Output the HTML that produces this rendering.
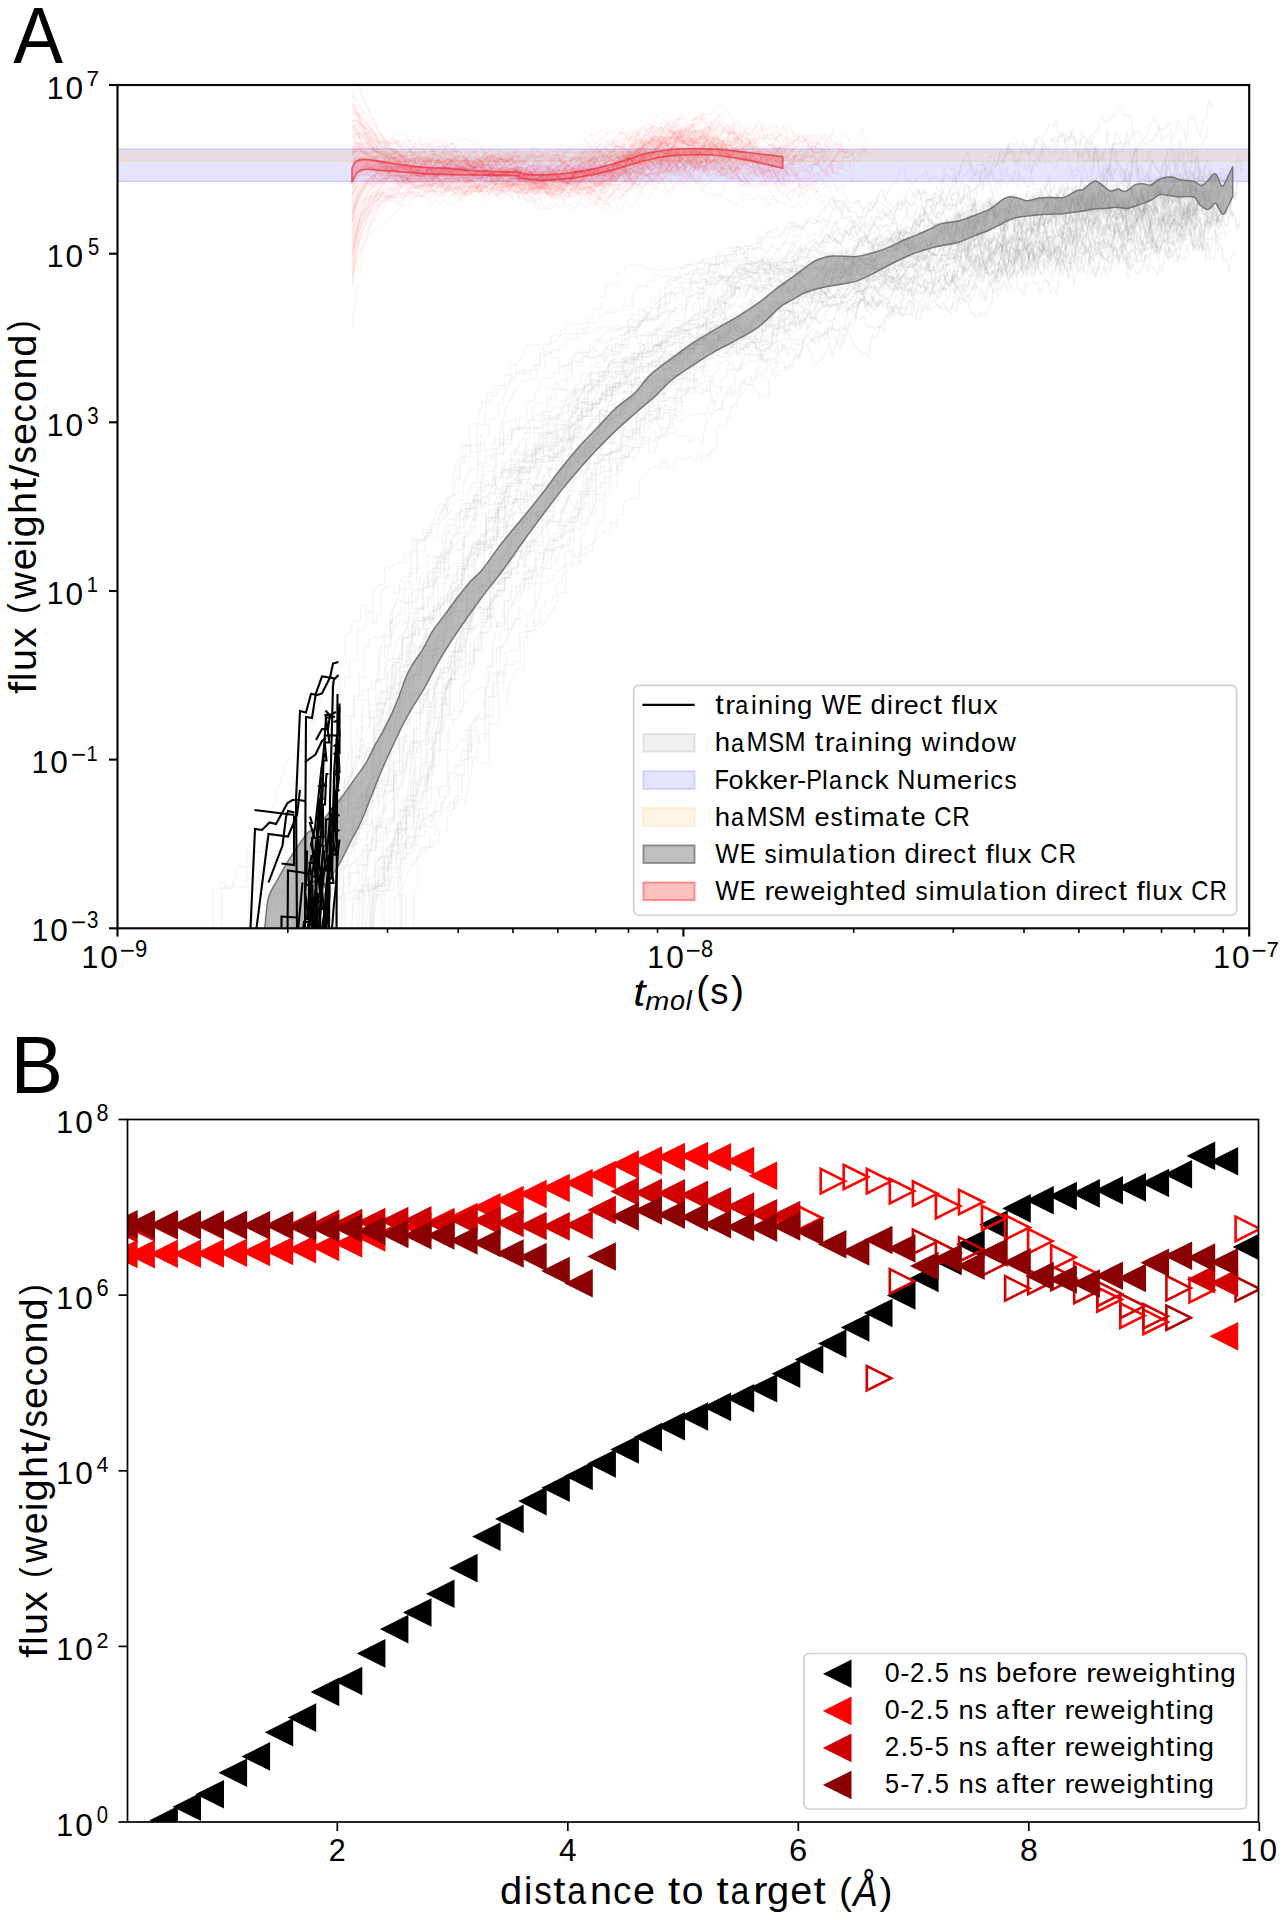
<!DOCTYPE html>
<html><head><meta charset="utf-8"><style>
html,body{margin:0;padding:0;background:#fff;width:1285px;height:1920px;overflow:hidden}
svg{display:block}
text{font-family:"Liberation Sans", sans-serif;fill:#000;font-kerning:none;font-variant-ligatures:none}
</style></head><body>
<svg width="1285" height="1920" viewBox="0 0 1285 1920">
<rect width="1285" height="1920" fill="#fff"/>
<text x="13.15" y="62.90" font-size="79.65" textLength="49.79" lengthAdjust="spacingAndGlyphs">A</text>
<defs><clipPath id="cA"><rect x="117.5" y="85.0" width="1131.7" height="843.3"/></clipPath><clipPath id="cB"><rect x="127.5" y="1119.5" width="1131" height="702.5"/></clipPath></defs>
<g clip-path="url(#cA)">
<rect x="117.5" y="149.3" width="1131.7" height="32" fill="rgb(229,229,255)" stroke="rgb(204,204,255)" stroke-width="1.6"/>
<rect x="117.5" y="151.7" width="1131.7" height="9.5" fill="rgba(255,165,0,0.10)" stroke="rgba(255,165,0,0.18)" stroke-width="1.4"/>
<g fill="none" stroke="rgba(128,128,128,0.075)" stroke-width="1.4" stroke-linejoin="round">
<path d="M358.5 974l8.5 12.5l6.5-90l5.5 0l0-10.5l6-5.5l4-16l2.5-10l4-20l7-16.5l3.5-17.5l5 0l0-18.5l2.5 0l0-25l8-15.5l3.5 0l0-1l4.5 0l0-16l8-27.5l6 0l0-12.5l8 0l0-6l6.5-12l7.5 0l0-22.5l3-14.5l6-22l5.5 0l0-21.5l8.5 0l0-21l4.5 0l0 6l6.5-12l3 0l0-4l5 0l0-16l4.5 2.5l3.5 0l0-19l8 0l0-24l5-20.5l8.5 0l0-18.5l6.5 0l0-10l6.5 0l0-3.5l6.5 0l0-16l7 0l0-3.5l3.5 0.5l5.5 0l0-14.5l4 0l0 3.5l5 0l0-10l3 0l0-19.5l9-1l4 0l0-10l6.5 0l0-0.5l4.5 0l0-12l8.5-5l6.5 0l0-1.5l3.5 0l0 7.5l8 0l0-5l8.5-5l8.5-4l6-6.5l3.5 0l0-2.5l4 0l0-6.5l8.5-7l6 0l3.5 0l0-3l8.5-4.5l6.5 0l0-7l6.5 0l0-3.5l2.5 0l0-8.5l3 0l0 1.5l2.5 1l2 0l0-0.5l3.5 0l0 8l3-8l3.5 0l0-12.5l2.5 0l0-4l3.5 0l0 1.5l2 0l0 5.5l2.5 0l0-7l2.5 0l0 3.5l2 0l0-2.5l4 0l0 3.5l3.5 0l0-2l2.5-3.5l3-3l4 0l0-6l2.5 0l0 4l3.5 1l3 0l0-1.5l3 0l0 5.5l3 0l0 1l3.5 0l4-0.5l2 0l0 3l4-0.5l2 0l0 3l3.5-4.5l3.5 0l0-3l2.5 0l2.5 0l0 1.5l4-3l2 1.5l3-1l3.5-2l3 11l3.5 2l2.5-5"/>
<path d="M320 961.5l7.5-73.5l5-6.5l3 0l0 0.5l6-21l6.5 0l0-16l8.5 0l0-13l8.5-11.5l2.5 0l0-14l7.5-15.5l4.5-14l7-21l5 0l0-22l4.5 0l0-22.5l5.5 0l0-8.5l6-16.5l7-11.5l7 0l0-17l6.5-7l5 0l0-15.5l7 0l0-27l5-8l6.5 0l0-17.5l5.5 0l0-16.5l6 0l0-15l2.5-20l6 0l0-11.5l3.5 0l0-24.5l5.5 0l0-13l2.5 0l0-16l7 0l0-4l8.5-17.5l4.5 0l0-18.5l3.5-5.5l6.5 0l0-2.5l3 0l0 7.5l8.5 2.5l3-8.5l5 0l0-12.5l6-5l3 1l4.5 0l0-16.5l4.5 0l0 1.5l7 0l0-8l9 0l0-9.5l5 0l0-8l7.5 0l0 3l3.5 0l0-9.5l6 0l0 1l5.5 0l0-6.5l4.5 0l0 3.5l7.5 0l0-6l7.5 3l3.5 0l0 1.5l4.5 0l0-5l7.5 0l0-11l9 0l0-2l6.5 0l0-2.5l8 0l9-9l7.5 0l0-11.5l6.5 0l0-9l4-9.5l5-3.5l6.5 0l0-11.5l8.5-8.5l4.5 0l0-8l3 6.5l2 0l0-4.5l3 0l0 0.5l3 0l0 4l3.5 0l0-5.5l2.5 6.5l3.5 0l0-3.5l3.5-7l3-2.5l2 0l0-0.5l3-5l3.5 0l0-4l2.5 4l2 0l0 2l3 0l0 6l2.5 2l3.5 1.5l3.5 0l4-1.5l3.5 0l0 0.5l3.5 4.5l2.5-2l3.5 0l0-2l3.5 0l0 3.5l3.5-4l3.5 0l0-5.5l3.5 0l0-2l2.5 0l0-2.5l3.5 0l0 3l3 0l0-1l2.5 0l0-2l3 0l2-1.5l3-1.5l3 2l2.5 0l4 0.5l3.5 3l3 1"/>
<path d="M346 987.5l7.5 0l0-15.5l9 0l0-40l6 0l0 12.5l4-50.5l6.5-14l4 0l0-11l6 0l0-18.5l5.5 0l0-17.5l6 0l0-23.5l8.5 0l0 7.5l8 0l0-1l5 0l0-9l8-38.5l8-41l7.5-40l6 0l0-32l8.5-23.5l5.5 0l3.5 0l0-6l4-12.5l7 0l0-0.5l5 0l0-6.5l5 0l0-7.5l5-15l4 0l0-3.5l3-9l3 0l0-21l6.5 0l0-14l5 0l0-7l5.5 0l0-8l8.5 0l0-6.5l6.5 0l0-3.5l7.5 0l0-10.5l7.5 0l0-20l9 0l0-3l3-10.5l5 0l0-15l8.5-24.5l5.5-2.5l8.5 0l0-5.5l4 0l0-4.5l3 0l0-4.5l8 0l0-15.5l5.5 0l0-12l5.5 0l0-0.5l8.5 0l0-1.5l4 0l0-4.5l9 0l0-1.5l5-3l4 0l0-9l4 0l0-2.5l6 0l0-4.5l5.5 0l0 6.5l8 0l0-0.5l3 0l0-6.5l3 0l0 2l3.5 0l0-4l6.5-5l7.5 0l0-5l5.5 0l0-6.5l3 0l0 2l3.5 0l0-1l2 0l0 4l2.5 0l0-2.5l4 0l0 9l2.5 0l0 1l4 3l3 0l0 0.5l2.5 0l0-2l2 0l0-1.5l2.5-4.5l2.5 5l3 0l0 4.5l3 0l0-5.5l3 0l0 2l3-4l2 0l0-3.5l2.5 0l0-1.5l4-4l2 0l0 4.5l3.5 0l0-7.5l3 0l0 6l3.5 0l0-3.5l2.5 0l0-1.5l2.5 0l0-5l3.5-3.5l3.5 0l0-4.5l2.5 0l0-4.5l2.5 0l0 10.5l2 0.5l3.5 0l0-6.5l3 0l0 1.5l2 0l0-1l3.5 0l0 2.5l3.5-3.5l3-4l2.5 8l3 6l2.5-5.5l2 3.5l4 7l2.5-5"/>
<path d="M203 973.5l3 0l0 10.5l3.5 0l0-0.5l4.5 0l0-36.5l3.5 0l0 7.5l3.5 0l0 22.5l6.5 0l0-5.5l5 0l0-8l8 0l0 9l5.5 0l0-16l6 0l0-60l7.5 0l0-2l8 0l0 4l6-2.5l3-2l5.5 0l0-1l2.5-1.5l6.5-32l3 0l0 6l6-12l3.5 0l0-10.5l8-12l3 0l0 3.5l7-30l7-16.5l4.5 0l0-21l6 12.5l5 0l0 7l4 0l0-12l4 0l0-26l3 7.5l6.5 0l0-41l3 0l0 1.5l4 0l0-27.5l3 0l0-7l7.5 0l0-34.5l6 0l0-9l5.5 0l0-23l6.5-15l7.5 0l0-18.5l7 0l0-13l5.5 0l0-26.5l4.5 0l0 2l6-9l9-14l6-12.5l5.5 0l0-11.5l8.5-5l3 0l0-32l2.5 0l0-15l8 0l0-22l8.5 0l0-13.5l3 0l0-11l2.5 3l2.5 0l0-8l6.5-2l3 0l0-6l6.5 0l0-2l6.5 0l0-4l3 0l0-7l8 0l0-3l4 0l0 4l6 0l0-3.5l5 0l0-5.5l4.5 0l0-11.5l5.5-2l2.5-5.5l5-5l4.5 0l0-3l4.5-3.5l3.5 0l0-1l5 0l0 0.5l7 0l0-4.5l9 0l0-2l3.5 0l0-5l8.5 0l0-4.5l6.5-6l3 0l2.5 0l0 1.5l8.5-3l4 0l0-6.5l3 0l0 2l6.5 0l0-14l7.5-6l8 0l0-5l6 0l0-6l4.5 0l0 1l4.5 1l4-1.5l6.5 1l8.5-1l3 0l0-1.5l5 0l5 0l0-3.5l3 0l0-6.5l6.5-3.5l4 0l0 5l2.5 0l0 0.5l3.5-2l3.5 0l0 1l2.5 0l0-2l4 0l0-5l3.5 3l3.5 0l0-2.5l2 0l0-0.5l2.5 1.5l2.5 0l0 1l3.5 0l0-2l4 0l0-0.5l2 0l0-6.5l3-6l2.5 0l0 4.5l3.5-3l3 0l0 2l4 0l0 3.5l3.5 0l0-2l2 0l0 1l3-5.5l3 3l4 0l0 0.5l2.5-1l2.5-6l2.5 0l0-8l2.5 0l0-5.5l2.5-3.5l2.5 7l2.5-5.5l3 0l0 1l4-3.5l4-3.5l2 0l3.5 3l3-1l2.5-2.5l3 2.5"/>
<path d="M350.5 987.5l7 0l0-2.5l8.5 0l0-37l6.5 0l0-53.5l3.5 0l0-8.5l8.5 0l0-23.5l3 0l0-5l4 0l0-3.5l8.5 0l0-10.5l6 0l0 4.5l5 0l0-3l7.5 0l0-9.5l6.5 0l0-17l3.5 0l0-3l4 0l0-3l7.5-1.5l8-22.5l3 0l0-0.5l6-13.5l7 0l0-15.5l4.5 0l0-13.5l3 0l0 5.5l5.5-32l8.5 0l0-52l7 0l0-19.5l4-21.5l8 0l0-24.5l7 0l0-15.5l4 0l0 1.5l4.5 0l0-8.5l3.5 0l0-1l5 0l0 12l5-5l4.5-10l8-25l7.5 0l0-16.5l5.5 0l0-10l9-27l7-4.5l8.5 0l0-16.5l8-12l6.5 0l0-9l7 0l0-1l7.5 0l0-1.5l7.5 0l0-6l8 0l0-9.5l5 0l0-6l5-17l4 0l0 0.5l8.5 0l0 3l8 0l0-15l5.5 0l0-17.5l5 0l3.5 0l0-9l9 0l0-2.5l7 0l0-2l8.5-8.5l6.5 0l0-6l3 0l3.5-2.5l4 0l0-4l3.5-4l3 0l0 1l3 0l0-12l3.5 0l0-13l3-1.5l4 0l0 7.5l3 0l0 7l3.5 0l0 5l2 0l0-1l2 0l0-4l2.5 2.5l3 0l0-0.5l2.5 5.5l4 0l0 6.5l4 0l0 5.5l2 0l0 8l4 0l0-1.5l3 0l0-1.5l3.5 3l3 0l3.5 0l0-5.5l2 0l0 5l3 0l0 5.5l2.5 2l2.5 0l0-3.5l2.5-7.5l3 0l0 1l3 0l3-10l3.5-7l3.5 4.5l4 11.5l3.5 6.5l2.5-4l3-1"/>
<path d="M234 971l7.5 0l0-7l7 0l0-75l7.5 0l0-10.5l8 2.5l8.5 0l0-25l3.5 0l0-5l9 0l0-8l6 0l0-2l6 10l4.5 0l0-23l5 28l6 0l0-1l2.5 0l0 7.5l7.5 0l0-9l4.5 0l0-7l7 0l0-16l7.5 0l0-7.5l6.5 0l0-32.5l3 0l0-33l6 0l0-29.5l5 0l0-28l7 0l0 18l7 0l0-31l6-45l7-19l3.5 0l0-11.5l8-22.5l8.5 0l0-16l8.5 0l0-22l8 0l0-13l5-14l8.5 0l0-6l6-14.5l4 11.5l6-15l8 0l0-15l7-15.5l8 0l0-18l2.5 0l0-16l9 0l0-16.5l8.5 0l0-14.5l6 0l0-8.5l8.5-18.5l3.5 0l0-7l5 3l3.5 0l0-3l7 0l0-5l8.5 0l0-10.5l8.5 0l0-2.5l3 0l0-2.5l7.5 0l0-4l6 0l0-6.5l4 0l0-1l8 0l0-5l6 0l0-3l3 3.5l5-2.5l7-4.5l8-0.5l3.5 0l6.5 0l0-0.5l3 0l0 1.5l8.5 0l0-6.5l2.5 0l0-6.5l9 0l0-4.5l6 0l0 7l7.5-9.5l7 0l0-7l5.5-6l5.5 0l0-9.5l3.5 0l0-4.5l4.5 0l0 3l3 0l0-1.5l4.5 0l0-3l6.5 0l0-6l6.5 0l0 2.5l6-2.5l3 0l0-1l4-12.5l3.5 0l0-5.5l2.5 0l0-2.5l3.5 0l0 2l3.5-4.5l3 0l0-1.5l3 0.5l3.5 0l0 6l3.5 0l0-0.5l3 0l3.5 0l0-2l2.5 0l0-5l4-1l3-1.5l3 0l0-1l3 0l0-6l3.5 0l4-6l3 0l3 0l0-2l3 0l0-2l2.5 8l3-1.5l3 0l0-5l3.5-5l3.5 0l0-0.5l2.5 0l0 3.5l2-1l3.5-0.5l2.5 4l3.5-6.5l4-0.5l4 2.5l3-2.5l4-10.5"/>
<path d="M290.5 992.5l4.5 0l0-20l2.5 0l0 15l7.5-41l6 0l0-13.5l3.5 11.5l6 0l0 5.5l8.5-18.5l6.5 0l0-34.5l4.5 0l0 0.5l8-5.5l5 0l0-2l2.5 0l0-3.5l3 0l0-21.5l9 0l0-21l3 0l0-2l7.5-18l2.5 0l0 4l5.5 0.5l4 0l0-11l5 0l0-5.5l3 0l0-2l5 0l0-11l7.5 0l0-52l6 0l0 6.5l3.5 0l0-21l7.5 0l0-40l8.5-7l5.5-21l4.5-35l2.5-4.5l3-17l5 0l0-13.5l3.5 0l0-3.5l8.5 0l0-11.5l7 0l0-17.5l4.5-14l6 0l0-27.5l4-3.5l8 0l0-14l6 0l0-8.5l7-14l3.5 0l6-9l7 0l0 3.5l5-7.5l3 0l0-8.5l5.5 0l0-2.5l8 0l0-6.5l5.5 0l0-8l8.5-11l6.5-1.5l8-9l2.5 0l0-4l7 0l0-6l5.5 0l0-8.5l5-8.5l8.5 0l0-9l3 0l0 2.5l5.5 0l0-4l4.5 0l0 13l9-8.5l7.5-3l3.5 0l0 1l3.5-0.5l2.5-1l4-8.5l8.5 0l0-7l8-8l8-5.5l5 0l0-2.5l5.5 0l0-3l6.5-5.5l7.5 0l0-4l2.5 0l2.5-1.5l3 0l0 11l2.5 0l0-0.5l3.5 0l0-0.5l2.5 0l0-3.5l4 0l0-11l2 0l0 0.5l2.5 0l0 1.5l3 0l0-1.5l3 0l0-7.5l4 0l0-2l3 3.5l4-3.5l3.5-1.5l4-5l3 1.5l3 0l0 1.5l2-4.5l2.5 0l0 4.5l3 0l0 0.5l2 0l0-2l4 0l0 5.5l2.5 0l0-9l2 0l0-14l2.5-1.5l2 0l0 2l3.5 0l0 1l3-2l3 0l0-3l3-1.5l3.5-4l3 0l0 3.5l3 0l0 2l3.5-13l3.5 3l4 0.5l3.5 2l2.5-2l4-5.5l3.5 0"/>
<path d="M377.5 978.5l5.5-25l8 0l0-19.5l3.5 0l0-37.5l3.5 0l0-29.5l3.5 0l0-9l5 0l0-9.5l3 0l0 0.5l7-13l3.5 0l0-10.5l7 0l0 1.5l6.5 0l0-9l7-32l7 0l0-33l7.5-3.5l5.5-9.5l6.5 0l0-10l4 0l0 28l5.5-2l3.5-22l8.5 0l0-37l8.5 0l0-21.5l3 0l0-26.5l2.5-4.5l5 0l0-27l6-17l5.5-10l5 0l0-8.5l6.5-15.5l5 0l0-14l5 0l0 5l3 0l0-2l6-16.5l3.5 0l0 1.5l8 0l0-15l5.5 0l0 4.5l4.5 0l0-13.5l7 0l0-22l8.5 0l0-16.5l3.5 0l0-4.5l5 0l0 3l9-5.5l8 0l0-8.5l5 0l0 8l5 0l0-12.5l7.5 0l0-6.5l3 0l0-7l3.5 0l0-9l6 0l0 5.5l6.5 0l0 11.5l6 0l0-0.5l7.5-24l8.5 5l5-1.5l4.5 4.5l8 0l0 5l4 0l0-2.5l8.5 0l0 5.5l3 0l0-9l4-18.5l3 0l0-3l2.5 0l0-3l3.5 0l3-2l2 0l0-5l2.5 0l0-3.5l2.5-3l2-9l2.5 0l0 2.5l3.5 0l0-16.5l4-5l4 0l0-6.5l3-8.5l3.5 0l0 5.5l2-4l2 0l3.5 0l3.5 2.5l3 0l0-6.5l3.5 0l0-3l3.5 0l0 1.5l3.5 0l0 2.5l2 0l0-6l3 3.5l4 0l0-5.5l3.5 0l0-5l4 0l0-17.5l3 0l0-13.5l3 5.5l2 0l0 4.5l3 10l3-8l4-2.5l3.5-1.5l2.5 1.5l2 1l3 5l3.5-8.5"/>
<path d="M284 977.5l4 0l0-76.5l4.5 32.5l9 0l0-51.5l8-13.5l7-22l7.5-14.5l7-6.5l4.5 0l6 6l4-15l3 0l0-8l5-0.5l7.5 0l0-26l3.5 0l0-4l3 0l0-13.5l4 0l0-11l7.5 0l0-24.5l8-31l4.5 0l0-32.5l8.5-10.5l6 0l0-10l7 0l0-20.5l6.5-10l5.5 6l8 0l0-14l8.5 0l0-2l5.5 0l0-11l4.5 0l0 2.5l8.5-13l7-7l5 0l0-3.5l3.5-17l5 0l0-5l5.5 0l0 1l7.5-8l7 0l0-7l6 0l0-21l8.5-16.5l6 0l0-19.5l8.5 0l0-12l3 0l0-13l3 0l0-5.5l8 0l0 2l7 0l0-7l4.5-9.5l3 0l0 7.5l3 0l0-4.5l4.5 0l0 1.5l8.5 0l0-9.5l3.5 0l0-10.5l4.5 0l0-19.5l7.5 0l0-10l4 0l0-5.5l4 0l0 0.5l7.5 0l0 4l8-17l8.5 0l0 4l3 0l0 1.5l4.5 4l6.5 0l0-14l4.5 0l0-4.5l7.5 0.5l4 0l0-1l6.5 0l0-3.5l3.5 0l0-7l3.5 0l0-5.5l7.5 0l0-3l6.5 0l0-7l6-4.5l5 0l0 3l7 0l0-7.5l9 0l0-9.5l2.5 0l0-12.5l2 0l0 0.5l2.5 0l0-5.5l3.5 0l0 1l3 0l0 4.5l3.5 8.5l2 0l0-12l3.5 3l2.5 0l0 5l3 0l0-5.5l3-7.5l3 0l0-2l3.5 0l0 3l3.5 0l0-13l3 0l2 0l0-0.5l3.5 1l2.5 3.5l2.5-2.5l3.5 0l0-1l4 0l0-1l3.5 0l0 1.5l2.5 0.5l3.5-0.5l2.5 0l0 6l2 0l0 2.5l3.5 0l0-3l3.5 0l0-1l3.5 0l0-0.5l3.5 0l0 1.5l3.5 0l0-3l2 2.5l3.5 1.5l3.5-5l3 0l3.5 1.5l3-2l2-7l3.5-1"/>
<path d="M309 967.5l7.5 0l0-32l8-47.5l4.5 0l0-21.5l5.5-15.5l7.5-12.5l3.5 0l0-8l8 0l0-22l4.5 0l0-5.5l4.5 0l0 8.5l5.5 0l0-28.5l6.5 0l0-41l8-35.5l8 0l0-33l2.5 0l0-8.5l3.5 0l0 11.5l5-13.5l2.5-2l5.5 0l0-14.5l5.5 0l0-1.5l6 0l0 1.5l4.5 0l0-13l4.5 17.5l6 0l0-9.5l3-7.5l2.5 0l0-11.5l7.5-6l4-13.5l3.5 0l0-3.5l4 1.5l6 0l0-8.5l4 0l0-7.5l7 0l0-17l6.5 0l0-20l5.5-11.5l8.5 0l0-28.5l7.5-11l3 0l0 8l4-2l3.5 0l0-12l7-23l3.5 0l0-6l5.5 0l0-12.5l3.5 0l0-6.5l8 0l0-14l7.5-10.5l6.5-2l7-11.5l5 0l0-2l4 0l0-14.5l2.5 0l0 11l5 2l8.5 3.5l2.5 0l0-17l4-2l6-10l3 3.5l4-7.5l7.5 0l0-8.5l4 0l0-4l4.5 0l0 3.5l4.5-3.5l3.5 0l0-5.5l8 0l0 2.5l8.5-0.5l6.5-4l4 0l0-9.5l4-4l7 0l0-6.5l7.5 0l0-7l7.5 0l0-1.5l3.5 0l0-3l4 0l0-17.5l4.5 0l0-10l5.5 0l0 10.5l3.5 2.5l2 0l2.5 0l0 6.5l2.5 0l0 0.5l3.5 0l0 2.5l3.5 0l0 1.5l3.5 0l0-11l2.5-7.5l3.5 0l0-4l3.5 0.5l2-7l3.5 0l0 4l3.5 0l3 0l0 3.5l3.5-9l3.5 0l0 3.5l2.5-0.5l4 0l0-1.5l4 0l2.5 0l0 7.5l3.5 0l0-4.5l3.5 0l0 4.5l3 0l0 3l3.5-6l3.5 0l0-8.5l2.5 0l0 2.5l2.5 0l0 9.5l3.5 0l0-5l3 0l0-5l3-3.5l3-3.5l4 7.5l3 4.5l3.5-6.5l3.5 6.5l2-1l3-5l3.5-2.5"/>
<path d="M293.5 980.5l5 0l0-29l3 0l0-8.5l4.5 0l0-49l7-11.5l6.5-6.5l8.5 0l0-22.5l4.5 0l0-1l5 0l0-1l7.5 0l0-4l4 1l4 0l0-25.5l9 0l0-17.5l5 0l0-15.5l8-16.5l5-10l8.5-25.5l8-42l4.5-14l2.5 0l0-17l7 0l0-11.5l4.5-10.5l5-11.5l7-14l5-4l4.5-5l8 0l0-8.5l7.5 0l0-9.5l8 0l0-10.5l4.5 0l0-15l9 0l0-11l5.5 0l0-0.5l5 0l0-18.5l3 0l0-5l8 0l0-26l7 0l0-17.5l8.5 0l0-11.5l3-1l3-13.5l8.5 0l0-6l4 0l0 1l4.5-2l3.5 0l0-8.5l5.5 0l0 8l4 2.5l3 0l0 5l8.5 0l0-10l3.5 0l0 0.5l5 0l0-2.5l3.5 0l0-12.5l8 0l0-2.5l7.5-6l8.5 0l0-8l5.5 0l0-8.5l8-6.5l7.5 0l0 1.5l8 0l3.5 0l0-4.5l6-6.5l6.5-4l4.5 11l7.5 0l0-8l7-8l7.5 0l0-3.5l7.5 0l0-2l5 9l3.5 0l0-7l4-7l5.5-10.5l9-7.5l3.5-7l4-0.5l2.5 0l0-7l3 0l0 1.5l4 0l0-3l3 0l0-8.5l2 0l0 1l3-4l3.5 5.5l3 0l0-4l3.5 0l0-1.5l2.5 2.5l3.5 0l0-0.5l3.5 0l0-4.5l3-4l2.5 1l3 0l0-5.5l4-3.5l2.5 0l0-3.5l3.5 0l0-2.5l3.5 0l0 4.5l3.5-10.5l2.5 0l0-6l3 0l0-1.5l2.5-0.5l2.5 0l0-7.5l3-3.5l2.5 0l0-3.5l3.5 0l0-11l3.5 4l3.5 0l0-6l3.5-1.5l3 0l3 0l4-6l3 5.5l2 3.5l3-1l3.5 0.5"/>
<path d="M388 976l4.5-39.5l7.5 0l0-52l6-31.5l8 0l0-23.5l6 0l0-3l2.5-8.5l4.5 0l0-4l4 0l0 8.5l5-11.5l4.5 0l0-9l2.5 0l0 6l6 0l0-5l8.5 0l0-41.5l6.5-1.5l4 0l0-29l9-14l8 0l0-1l8 0l0-42.5l3.5 0l0-26l7 0l0-3.5l4.5-7.5l8-17.5l5 0l0 5.5l4 0l0 2l8.5 0l0-11l8.5-32l6.5 0l0-3.5l5.5 0l0-8.5l6.5-2l6.5-6l5.5 0l0-15.5l5 13.5l4 0l0-15l7 4l4 0l0-6.5l5.5-7.5l4.5 0l0-5l8 0l0-8.5l6 0l0-6.5l3.5-2l3.5 0l0-11.5l7.5-4.5l8.5 0l0-20l4 0l6-9.5l6-1.5l5 0l0-5.5l7 0l0 5.5l8 0l0-9.5l7.5 0l0 1.5l4 0l0-2.5l6.5 0l0 3.5l3.5 0l0-7l4 0l0 8.5l2.5-5.5l3 0l0-1l3 0l0-3l2 0l0-1.5l3 0l0-3.5l2.5 0l0-20.5l2.5 0l0-2l3.5 0l0 1l3.5 0l0-7.5l2.5 0l0-2.5l3.5-11.5l4 0l0-7l3.5 0l0-3.5l2.5-12l3 0l0-5l3-1l3 0l0 9l2.5 0l0-5.5l2 0l0-11.5l4 0l0-12.5l3 0l0 0.5l2 0l0-5.5l3-3l3 0l0-12l2.5 0l0-11l3.5 5l3 0l0-10.5l3.5 0l0 2l3.5-2.5l4-7l4 0l0 6l3.5 0l0-4l4 1l4-8.5l2-4.5l3 16.5l3 0.5l3-8.5l2-1.5l3-7"/>
<path d="M280.5 973.5l3.5 0l0 1.5l2.5-10.5l7.5 0l0-66.5l4 0l4 0l0-3l4-2.5l5 3.5l8.5 0l0 0.5l6-7.5l7 0l0 0.5l3.5 0l0-1l6-16.5l4-7l4 0l0-1l4.5 0l0-25l5 0l0-23.5l7 0l0-9.5l3 0l0-5l4.5 0l0-6l8.5 0l0-10l5 0l0 1.5l2.5-34.5l8.5 0l0-26.5l2.5-10l5-20l7 0l0-19.5l8.5 0l0-29.5l8.5 0l0-15l8.5 0l0-8l6.5 0l0-17l8.5 0l0-9l4 0l0-12.5l4.5 0l0-3.5l7-24l6.5-15.5l8 0l0-8.5l3 0l0-13l5 0l0-3l6.5 0l0-10l3 0l0-0.5l6 0l0 8.5l8 0l0-3l3 4.5l8 0l0-22l7 0l0-9l5 0l0-10l4-14l7.5 0l0-4.5l5 0l0-3.5l6.5 0l0-5.5l3.5 0l0 6.5l7.5 0l0-17.5l8.5 0l0-8.5l8.5 0l0-15l8.5-14l3-5l8-4.5l4-0.5l3 0.5l8-7.5l8 0l0 4l3 0l0 2l4 0l0 1l5.5 0l0 5.5l8 0l0 7l5.5-9l3 0l0 7.5l7.5 0l0-3l8.5 0l0-8.5l3.5 0l0 1.5l8 0l0-9.5l8.5 0l0-9.5l5.5 0l0-6l3.5 0l0-7.5l3 0l0 0.5l4 0l0-8.5l3.5-2.5l2.5 2.5l3.5 0l0-7l2.5 0l0-6.5l3 0l2 0l0 2l2-1.5l2.5 0l0 6l3.5 0l0-0.5l3 0l0 1.5l2.5 0l0 0.5l3.5 0l0 2l2.5 0l0-5l2.5 0.5l3.5 0l0 5l3.5 0l0 3.5l3.5-0.5l3 0l0-2.5l4 0l0-0.5l4-5l3.5 0l0-10.5l3 0l0-6l3.5 0l0 3l2-4l4 0l0-1.5l3 0l0-9.5l2.5 0l0 8l2 7.5l3.5 0l0-6l3-10l3-5l3 4.5l3.5 0l3.5-7.5l3.5-7l3-10"/>
<path d="M323 979.5l8.5 0l0-3l9-23.5l3-53.5l5.5 0l0-27l8 0l0-12l5 0l0-11l4 0l0-8l5.5-21.5l2.5 10.5l4 0l8-11.5l8 0l0-7.5l7.5-32l3 0l0-5.5l6.5-31l5.5 0l0-30l7 0l0-18.5l4.5 0l0-11l4.5 0l0-14l8.5 0l0 3.5l7 0l0-16.5l7 0l5.5 0l0 12.5l4.5-15.5l5.5 0l0-3.5l8 0l0-17l8 0l0-5.5l3.5 0l0-19l7.5 0l0-18l7 0l0-12.5l6.5 0l0-8.5l4.5 0l0 3.5l8.5 0l0-9.5l6.5-17l8-12.5l3 0l0-7.5l5.5 0l0-6l4.5 0l0 1l5 0l0 3l4.5 0l0-12l6 0l0 7.5l3.5 0l0-9.5l5.5 0l0-8l4.5 0l0-8.5l7 0l0-14.5l4 0l0 0.5l5 0l0-6.5l4 0l0-13.5l8.5 0l0-8.5l3.5 0l0 8.5l3.5 0l0-1.5l8 0l0-1.5l5 0l0-12.5l7.5-13.5l3 0l0-4l3.5 0l0 1.5l6.5 0l0-5.5l3.5 0l0-4l4 0l0-3l5-10.5l6.5 0l0 1.5l3.5 0l0-6l3 0l0-2.5l5 0l7-6.5l7.5 0l0-2.5l6.5 4l2.5 0l0-4.5l4 0l0 2.5l2.5 0l0-9.5l3.5 0l0 3l3.5 2l3.5 0l0 3l3-4l2.5 0l0 1l3 0l0-0.5l2 0l0 7l4-2l3 3.5l3 0l0-0.5l3.5-2.5l4-7.5l2.5-6l4 0l0-2l3.5 0l0-3.5l2.5 0l0 3.5l3 0l0-5l2.5 0l0-7.5l3.5 0l0 1.5l3 5l3 0l0-14.5l3.5-5l3 0l0-4.5l3 0l0 5.5l2 0l0 5.5l2.5-7l3 0l0-1l3.5 0l0 7.5l2.5 0l0-1.5l2.5-4l2-12l3.5-5l2.5 1l3.5 6.5l3.5-11l3.5 6.5l2.5 0"/>
<path d="M393 980.5l3 0l0-18l5 0l0-67.5l4.5 0l0 52.5l8.5 0l0-58.5l3.5 0l0-32.5l3 0l0-6l4.5 0l0-3.5l9 0l0-5.5l5.5 0l0-11l8 0l0-15l3 0.5l7.5-16.5l7 0l0 4.5l9-46l3.5 0l0 4.5l3.5 1l8.5 0l0-39.5l9 0l0-42l5.5 0l0-17.5l8.5 0l0-3l8 0l0-23.5l6 0l0-23.5l5.5 0l0-6l3 0l0-25.5l6.5 0l0-9.5l7.5-14l6.5-12l7.5 0l0-21.5l5.5 0l0-5l4 1l8.5 0l0-12.5l3 0l0-14l4.5 0l0-7.5l3.5 0l0-11l6.5-9.5l5.5 0l0-12.5l6.5 0l0-9.5l5.5-13l6.5 0l0-10.5l3 7.5l5 4l6 0l0-12.5l6.5 0l0-2.5l5.5 0l0-9.5l2.5-4l7.5 0l0-10.5l5.5 0l0-25.5l9 0l0-11l4.5 2l7-11l2.5 0l0 5l7 0l0-12.5l3 0l6.5-4l3.5 0l0 0.5l3.5 0l3 0l0-3.5l3 0l0-1l2 0l0 5.5l2.5 0l0-2.5l3.5 2.5l4 4l2.5 4l3.5 0l0 2l2.5 0l0-8.5l2.5 8l3.5 0l0-2l3.5 0l0-4.5l3.5 0l0 2.5l3.5-3l2 0l0 6.5l4 0l0-7.5l2 0l0 5l2 0l0-0.5l2.5 0l0-1.5l2.5 0l0 1l3 0l0-5l2 0l0-5l4 0l0-8l3-1l4 0l0 6.5l3 0l0-7.5l3-1.5l2 1l4 0l3 0l0-2.5l2-2l2.5-3l2.5 6.5l3 4l4-6.5l2.5-4.5l2 7.5l4-1.5"/>
<path d="M245.5 979.5l6 0l0-1l3.5 0l0 1.5l4.5 0l0-6.5l6.5-14.5l5.5-69l5.5 0l2.5 0l0-1l3 0l0 3.5l5.5 0l0 40l8.5 0l0-38.5l4 0l0-2l4 0l0-18l5.5 0l0-23.5l4.5-5l8-20l7.5-15.5l7 0l0-13l3.5 0l0 7.5l4.5-15l8-17l6-11l3.5-35l8 0l0-21.5l8.5 0l0-13l7.5 0l0-30l6.5-34.5l3.5 0l0-14.5l4.5 0l0-10.5l5.5 0l6 0l0-12.5l6 0l0-5.5l3.5-12l6.5 0l0 13.5l8 0l0-9.5l3.5 0l0-15l3 0l0-24l5-18l5.5 0l0-2l8.5-9.5l4 0l0 1l7.5 0l0-9l8 0l0 8l3.5 0l0-5.5l8-6l6.5-17l8-19.5l7.5 0l0-7.5l6-10.5l8-14.5l4.5 0l0-7.5l4.5 0l0 1.5l6.5 0l0-6.5l5 0l0 11l3.5 0l0-7l8 0l0 2l8 0l0-14.5l3 0l7 0l0 2l8.5 0l0 4l7.5-5.5l3.5 0l0-1.5l3-11l5.5 0l0-6.5l8.5 0l0-5l8.5 0l0-4l2.5 2.5l8.5-17l6.5 0l0 7l7 0l0-8l4 0l0-1l6.5-1l8.5-16.5l6.5 0l0-2.5l8 0l0-5.5l7 0l0-6l4.5-7l4.5 0l0-4l4-4l3 1l3 4.5l3 0l0 2l4 2l2.5 0l0-3l2-4l2.5 0l0-0.5l2.5-0.5l3 3l2.5 3.5l3.5 0l0 3l3.5 4l3.5 0l0 1l2.5 0l0-1.5l3.5 0l0-2l3.5-3l3 0l0-1.5l3-3.5l3 0l0-5l2.5 0l0-4l3 0l0 1l2.5 1l3.5 0l0-7.5l2.5 0l0 7l2.5 0l0-10.5l4 1.5l2.5 0l0-11l4 0l0-3l2 0l0-3.5l3.5-1l2 0l0-9.5l3 0.5l4-4.5l2.5-3.5l2.5 2l3.5-2l3-1l3.5 0l3.5 2.5l3 5.5"/>
<path d="M315 994l7.5-24.5l6 0l0-15l6.5 0l0-55.5l8 0l0-21l5.5-0.5l6-5l9 0l0-27.5l9 0l0-18l6.5 0l0-38l5.5 0l0 5.5l2.5-2.5l5.5 0l4.5-24l5.5 0l0-12l4-25.5l9-41.5l4 0l0 11.5l6.5 0l0-16.5l3 0l0 0.5l5 0l0-35.5l9 0l0-29.5l5-5l3-16.5l7 0l0-10l8 0l0-4l3 0l0-17.5l6.5 0l0-7l3 0l0-16l7.5 0l0-29l6.5-5.5l8 0l0-17l8.5 0l0-6l7.5 0l0-6.5l7.5 5.5l5.5-3l4.5 7.5l8.5 0l0-7.5l4.5 0l0 5.5l8.5-1l5.5 0l0-4l2.5 0l0-4l6.5 0l0-2.5l7-12l3-8l9 0l0-8l4.5-13l5.5 0l0-24l7.5 7l6 0l0 3.5l5.5 0l0 1l9 0l3.5-4l7 0l0-15l2.5 0l0-0.5l7.5 0l0-10.5l7 0l0-5.5l5.5 0l0-7.5l5 0l0-5l6.5-11l8 0l0-9l3.5 0l0 5.5l5 0l0-7.5l5.5 0l0-9l5 0l4 0l0 5.5l3 0l0-8.5l2.5 0l0 7l3.5 0l0-3.5l2.5 0l0-5.5l4 0l0-3l3.5 8l3 0l4 0l0-5l3 0l0-0.5l2.5 0l0-8l3 0l0 1.5l4 1l3 0l0 4l3.5 0l0-6.5l3 0l0-4l3 7l3.5-4.5l3 0l0-4l3 6l2.5 0l0-12.5l2 3l2 0l0-8l2 0l0 4.5l3 5l2.5-4l3.5 0l0-5.5l4 4.5l2.5 0l0-2l3 0l0-5.5l3 0l0-6.5l3 0l0-1l2.5 0l0-2l3.5-2l2.5-3.5l3 4.5l3.5 5.5l4-4l2.5-0.5l3 0"/>
<path d="M345.5 960l4 0l0-18l7.5 0l0-50.5l6 0l0 3.5l5 0l0-17l4 0l0 10l7 0l0-20l5 0l0-12l8.5-13.5l8.5-31.5l7 0l0-22.5l7.5-59.5l5 0l0-15l8-24l4.5 0l0-4l3.5 0l0-9l7 0l0-9l7 0l0-17.5l4.5 1.5l7 0l0-5l8.5 0l0-32l4.5-7l7 0l0 1.5l5.5 0l0 7l5 0l0-13l8.5-19.5l7-8.5l2.5-20l7.5-12l8-7l5.5 0l0-10l3 0l0-14l7.5-1.5l5.5 0.5l7.5 0l0-11.5l5 0l0-22.5l5.5 0l0-16l7.5-5l4 0l0 5l8.5 0l0-14l4 0l0-16l8 0l0-9l7.5 0l0-6.5l4.5 6l7.5-7l6 0l0-15l5 0l0-1.5l6 0l0-2l3.5 4l2.5 8.5l9 0l0-11l7 0l0-5l7.5 0l0 4.5l5-10.5l2.5 0l0-1.5l2.5-8.5l4.5 0l0 2.5l4.5 0l0-0.5l5.5 0l4.5 0l8 0l0-5l3 0l0-2.5l2.5 0l0-5.5l3 0l0-6.5l2.5-2l2 0.5l3.5 0l0-5.5l2.5 0l0 3.5l3-1l3.5-3l3.5 5.5l4-5.5l3.5 0l0-2l3.5 0l0-9.5l3.5 0l0 1l3 6l3.5-0.5l3 0l0-6l2.5-5l3 7l3-3.5l3.5 0l0-1.5l3-4l2.5 0l3.5 0l0-5l3.5 0l0-8.5l4 0l0-5l2.5 0l0-5l2.5 1.5l3.5-1l2 4l3 8.5l4-7.5l2.5-7l3 3.5l3 1.5l3.5 6.5l3.5-6l2.5-3l3.5-3"/>
<path d="M311.5 998l3 1.5l9 0l0-10.5l7.5-40l7.5 0l0-62l5 0l0-29.5l4-10l4.5 0l0-12.5l7 0l0-19l6.5 0l0-30l3.5 0l0 16l8 0l0-30.5l6 0l0-5.5l6.5 0l0-68l6.5-20l6 0l0-6.5l9 0l0-37l4 0l0-13.5l7 0l0-2.5l6.5 0l0-22l8.5-18.5l7 0l0-0.5l4 0l0-10.5l5 0l0-3.5l8.5 0l0-10.5l3 5.5l7.5 0l0-11.5l6 2l2.5 0l0-6l8 5l3.5-7.5l5 0l0-15.5l5.5-3l4.5 0l0 5.5l8-28l9 0l0-4.5l8.5-12l5.5 2.5l8 0l0-2l4.5 0l0-15.5l5.5 0l0 16l5.5 0l0-1l5.5-11l4 0l0-10.5l8-16.5l7-2.5l4.5 5l4.5 0l0-14.5l3.5 0l0-3l5.5 0l0-6l4.5-1.5l8.5-10l3.5 0l0-10.5l3.5 0l0-1.5l7 0l0-1.5l4 0l0-6l5-10.5l8.5 0l0-2.5l4 0l0-2l3.5 0l0 3l4.5 0l0-3.5l5 0l0-7.5l6-3l7 0l0-5l3.5 4l4-2l8-4l7 0l0-1.5l2.5 0l0-5l3-3.5l3.5-1.5l2.5 0l0-2.5l3 0.5l3.5-5l3-0.5l3 0l0 6l3-1l3 0l0-1.5l3.5 0l0 1.5l2 0l0 7.5l3.5 0l0-4l3.5 0l0-2.5l2.5 0l0-1.5l2-3l3-6.5l3 1l3 2l3.5 0l0-2.5l2.5 0l0-5.5l3 0l0-3.5l4 0l3.5-2.5l3.5 0l0 0.5l2.5-9l2-13l3 0l0-0.5l3.5 0l0-1l2.5 0l0 2.5l2 0l0-8l3.5-14l3 0l0-6l3-11.5l4 3l2 3.5l3-2.5l3.5-1l2.5-2l4-1"/>
<path d="M328 998.5l5 0l0-2.5l2.5-6.5l8.5 0l0-46.5l5.5 0l0-9l4.5 17.5l9 0l0-63.5l5.5-24l3.5-25l5 0l0-17l6 0l0-24.5l9-34l7.5 0l0-26l5.5 0l0 4l8.5 0l0-19l6.5-4l4-14.5l4 0l0-7l2.5 10l4 0l0-18.5l3.5 0l0-11l3.5-9l4 0l0-1l5 0l0-4.5l2.5 0l0-5l4-19l6.5-10l5.5 0l0-7.5l6.5-18l7-1.5l7 0l0-15l3.5 0l0-3l7.5 0l0-11.5l7.5 0l0-16l7.5 0l0-5.5l5.5 0l0 2.5l3.5 0l0 13.5l4 0l0 10.5l5.5 0l0-14l4.5-10l5.5 0l0-4l4-4.5l5.5 0l0-4l8-5l3 0l0-14l8.5 0l0-5l4 0l0-2l7.5-9.5l4 0l0 5l4.5 0l0-16.5l8 0l0-10.5l9 0l0-24l6 0l0-9l7 0l0-9.5l4.5 0l0-4.5l3 3l4.5 0l0-1l4.5 0l0-13.5l5 0l0-8.5l6.5-2l3.5 0l0-5.5l5 0l0 10.5l6.5-9.5l8.5 0l0-11.5l6-15l7-3l6 0l0-13l7.5 0l2 0l0 3l3-12l2.5-7.5l2.5 0l0-4l2.5 0l0-3.5l3.5 0l0-2l3.5-8l3 0l0-8.5l3 0l0 5.5l2.5 0l0-7l2.5-3l3 0l0 6.5l2.5 0l0-2.5l2.5 4l4-0.5l2.5 0l2.5 0l0 1.5l4 0l0 6.5l3.5 0l0-3l2 0l0-0.5l4 0l0-8.5l3 0l0 1.5l2.5-2l3.5 0l0 5.5l3 6.5l4 0l0-4l3.5 0l2.5 2.5l3.5-3.5l2 8.5l4 0l3 0l2 0l0 6l3-0.5l2.5-8l3.5-8l3.5-10.5l2.5-4l3.5-8.5l2-5l2.5-3"/>
<path d="M330 993l4.5-27l6 0l0-3.5l8 0l0-6l8-9l8.5 0l0-54.5l4.5-4l6 0l0-6l8.5 0l0-26l6.5 0l0-11l7 0l0-11l8-25l4 2.5l6.5 0l0-17l5-29.5l5.5 0l0 20.5l9-35l4.5 0l0-23.5l8.5-48l6.5 0l0-32.5l2.5 0l0-3.5l3.5-9l6 0l0-36.5l6.5-7.5l8.5-6l5 0l0-10.5l5.5-3.5l8.5 0l0-14l3-16.5l6.5-11l7.5 0l0-5.5l4.5-0.5l8-8.5l7 0l0-24l4 0l0-5l7 0l0 7l6.5 0l0-4l3 0l0-15l4 0l0-35.5l3 0l0-10l4 0l0 14l7.5 0l0-6l5 3.5l3.5 0l0-5.5l7 0l0-16.5l3 0l0-1.5l4 0l0-1.5l7.5 0l0-0.5l5 0l0-5l3 0l0-2.5l3.5 0l0-2.5l5.5 0l0-13l5.5 0l0-7l7.5 0l0-7l7 0l0-1.5l5 8l8.5 0l0-6l5 0l0 4l4.5-1l3-1.5l5.5-4l7 0l0-15.5l7-8l7-7l7.5 0l0-8l3.5 4l3.5 4l4 0l0-0.5l3.5 0l0-8.5l2 0l0 5l3 0l3.5 0l0-0.5l2.5-3.5l3.5 0l0-5l4-2.5l3 0l0 9l2.5 0l0-6l3.5 0l0-10.5l3.5 0l3.5 0l0-2l2.5 0l4-5.5l3 0l0 0.5l3.5 0l0 2.5l3.5-6l4 2.5l2.5 0l0-3.5l2 0l3.5 0l0-1l3.5 0l0-1l2.5-7l2.5 0l0-8.5l3 0l0-4l4 0l0 0.5l2.5-0.5l4-3.5l2.5 4.5l4-0.5l2.5 14l3-11.5l3.5-5.5l3.5 6.5"/>
<path d="M313 973.5l3-26l7.5-19l8-40.5l4 0l0 1l8.5 0l0-5l5.5 0l0-18l7-5.5l7-9.5l4.5-1l8.5 0l0-23.5l4.5 0l0-6l8-30.5l4.5 0l0-19.5l4.5 0.5l3.5 0l0 1l5.5 0l0-20.5l6 0l0-9.5l5 0l0 2l8-6l8.5-50.5l4-8.5l6.5 0l0 9.5l3 0l0-3l8-34l4 0l0-13.5l5 0l0 14l4.5 0l0 12.5l4.5 0l0-14l8 0l0-9l4.5-10l4 0l0-25.5l8-14.5l5.5 0l0-18.5l7.5 0l0-5.5l7 0l0-9l3 0l0-11.5l7-0.5l3 0l0-3.5l6.5-25l7.5-5.5l6.5-9.5l6 0l0-15l7.5-8l8.5 0l0-2l4.5 0l0-7.5l7.5 0l0-27l7-3l5.5 0l0-13l8 0l0-4l9 0l0-20l5.5 0l0-3l8.5-6l5.5-12.5l7 0l0-0.5l3 0l0 1.5l7.5-11l4-7.5l8 0l0-5l3 8l6.5 0l0-4l2.5 0l0-2l6 0l0 0.5l5 0l0-14l9 0l0-14.5l8.5-10l3 3.5l3.5 0l0-5.5l3.5 0l0 5.5l3-2l3 0l0-1l2.5 0l0-4.5l3.5 0l0 6l3 0l0 6.5l2.5 0l0-5.5l2 0l0 1.5l3-4l3 0l0-5l3.5-2l3 0l0-5.5l4 0l0-8.5l2 0l0 3l3 0l0-3l2 0l0 5.5l2.5 0l0-3.5l2.5 0l0 9.5l3.5 0l0-3l2.5 0l0-10l3 0.5l2.5 3l2.5 0l4 0l0 3l2.5 0l0 0.5l2.5 0l0 2l2.5 0l0-19.5l3.5 0l0 0.5l3.5 0l0-10.5l3.5-0.5l2.5-0.5l2.5-5.5l2.5-6.5l3.5-1.5l2-1l3 0l2 4l3-1.5l2.5 6"/>
<path d="M385.5 992l7.5 0l0-38.5l9 0l0-65.5l9-23l3.5 0l7-17.5l8.5 0l0-13l6.5 0l0-15.5l7-8l7 0l0-1.5l3.5 0l0-13l7.5 0l0-21l6 0l0-31l2.5 0l0-14.5l7 0l0 12.5l8 0l0-49l5.5-22l5 2.5l2.5 0l0-2.5l5 0l0 19.5l4 0l0 15.5l2.5-24l7.5-13.5l6.5 0l0-27l7-11.5l5 0l0-4.5l4-3.5l3 2.5l8.5-12.5l5-7.5l3-12.5l7 0l0-20l5.5-8l7.5 0l0-10l7 0l0-8l7.5-3l5-20.5l5 0l0-16l3-15l3.5 0l0-6.5l7 0l0-23.5l8.5 0l0-16l7.5 1.5l5 0l0-3.5l6 0l0-20.5l3 0l0-0.5l8-5.5l2.5 0l0 5.5l4 5l8.5 0l0-18.5l6 0l0-8l5 0l0-12.5l8 0l0-1.5l7 0l0-4.5l4.5 0l0 6l3.5 2.5l3 0l0-4.5l3.5 0l0 10l2 0l0 7l3.5 0l0-5.5l2-5.5l2.5 0l0-12.5l2.5 0l0-3.5l3.5 0l0-7.5l3.5 0l0 5l3-5l3.5 0l0 1.5l3 0l0-4l3-13l4 0l3.5 0l0-2.5l3 0l0 2.5l3.5 0l0-1l2.5 1.5l3 0l0 4.5l2.5 0l0 2.5l3 0l0-8l2.5 0l0-7l2.5 0l0-2.5l3 0l0-4l2 0l0 2l3.5 0l0-2.5l3 0l0-9.5l2.5 0l0-0.5l2 0l0-0.5l3.5 2l3 0l0-4l2-5l4-1l2 3.5l2.5-5.5l2.5-6l3-9l4-13.5l4 3l3 4"/>
<path d="M354 991.5l6 0l0-33l3.5 0l0 2l7 0l0-73.5l8 0l0-29l3.5 0l0-8.5l4.5 0l0-1l8-3.5l6.5-13.5l3.5 0l0-16l8.5 0l0-39.5l5.5-11l7-2.5l6.5 0l0-29l4-21.5l5-8l5 0l0-18l6.5-34.5l8 0l0-23.5l6.5 0l0-19l5.5-5l4.5 0l0 1.5l6 3l9 0l0-9l2.5 0l0-3.5l6.5 0l0-6.5l4.5 0l0-12l3.5 0l0 0.5l5-10.5l2.5 0l0-4.5l2.5 0l0 3l6.5 0l0-12l5 0l0-14l6 0l0-8l8-21.5l5.5 0l0-16.5l5-7l9-8.5l6-13.5l2.5 0l0-3.5l2.5 0l0-11.5l5 0l0 2l4 0l0 5.5l5 0l0 12l6 0l0-9.5l7-5.5l4 1l6.5-3.5l7.5 0l0 2.5l5 0l0 2l9 0l0 2l5.5-7.5l2.5-13l7 0l0 1l2.5-7l4.5 0l0 5l6 0l0-1l5 0l0-8.5l5.5 0l0-8.5l7.5-17l6 0l0-13l8.5 0l0-19.5l5.5 0l0-3l4.5 0l0-14.5l2.5 0l3 0l0-2.5l2.5 0l0-3.5l3-6.5l2.5 0l0 0.5l3.5 0l0-3l3 0l2.5 1.5l2.5 0l0-11l3.5-7l2 1.5l3 0l0 6.5l3 0l0 3l3.5 0l0 2l3.5 0l0-3l2.5-6l3 0l4 0l0-1l2 5.5l2 0l0 2.5l2.5 0l3.5-6l4 0l0-8.5l3 0l0 0.5l3 0l0-5l3.5-5l3-6l2 2.5l4 0l2-3.5l2.5 0l0-3l3.5 0l0 6l3 3.5l3.5-9l2.5-0.5l3-8.5l2.5 0l2.5 6l3.5-2.5l2-4.5"/>
<path d="M275 975l9-34.5l3 0l0-11l6.5 0l0-42l8.5-10.5l8.5-29.5l5 0l0-7l8.5 0l0-14.5l8.5 0l0-26l3.5 0l0 3l6 0l0-2.5l2.5 0l0-21l3.5 0l0 4.5l5.5 5.5l2.5 0l0-7.5l7 0l0-37l8-26.5l6 0l0-15.5l3 0l0 1l7.5 0l0-30l8-12l6.5 0l0-22.5l3-1.5l3 0l0-3l7.5 0l0-6.5l7.5 0l0-22.5l4.5 0l0-9l5.5 0l0-27.5l6.5-10.5l9 0l0-12.5l8-14l8 0l0-7l7.5-22.5l6.5-12l6 0l0-4.5l9 0l0-19.5l3 0l0-14l7 0l0-17.5l6.5 0l0-0.5l3 0l0-7.5l8 0l0 0.5l6 0l0 0.5l8 0l7.5 0l0-3.5l3.5 0l0-7.5l5 0l0 2l8.5-5.5l8.5 0l0-11l6-3l4 0l0-10.5l6 0l0-5l6.5 0l0-11.5l8 0l0-9.5l7.5-6.5l3 0l0-4.5l5-5.5l8 0l0-9.5l3.5-5l3.5-2.5l7.5 0l0-3.5l3.5 0l0-9.5l4 0l0-9.5l7.5 0l0-10l3.5 0l0 7l8-7.5l3.5 0l0-4l8.5 0l0 2.5l8.5-7l5.5 0l0-7.5l8.5 0l0 6.5l6.5 0l0-1l2.5-2l3.5 0l0-1.5l3.5 1l2 0l0 4l2.5-7l2.5 0l0-3l4 0l0 2.5l3.5 0l0 1l3.5 0l0-3l3.5 0l0-2.5l3.5 0l0-3l3.5 0l0-4l4 0l0-4.5l3.5 0l0 0.5l2.5 0l0 2l3.5-3l3.5 0l0 0.5l2 0l0-6l3 0l0 6.5l2.5-3l3 0l0 4l2 0l0 2l2 0l0-1l3.5-2l3.5 0l0-1l2.5 0l0-1.5l3.5 0l0-11.5l2.5 0l0-3.5l2.5 0l0-3l3.5 0l0 2.5l2-7l3 0l0 5l2.5 8l2.5-2l3 3l3.5-6.5l2-1.5l3-4l2.5 5l2.5-5"/>
<path d="M204 963l3 0l0-24l3 0l0-4.5l3 0l0-46l7.5 0l0-5.5l4.5 0l0 6l7.5 0l0-4l6.5-21l3 3.5l3 0l0-5l2.5 0l0-11l8.5 0l0-2.5l5 0l0-4l4.5 0l0-4.5l7-3.5l5 0l0-13l7-11.5l4.5 12.5l5.5 0l0 12l8-16l3.5-17.5l4 0l0-3l3.5 0l0-21.5l3.5-10.5l8.5 0l0-12.5l6.5 0l0-31.5l3 0l0-13l4-21l5.5 0l0-13.5l5.5 0l0-16.5l8 0l0-34l2.5 5.5l3.5 0l0-4l5.5-17l3.5 0l0 12l3.5 0l0-8.5l4.5 0l0-25.5l3.5 0l0-2.5l3.5 0l0 2l2.5-2l3 0l0 6.5l5.5 0l0-9.5l4-7l7.5 0l0-25.5l6 0l0-11l8 0l0-4l7 0l0-9.5l8-22.5l4 0l0 12l4 0l0-20l7.5 0l0-17l5.5 0l0-15.5l3.5 0l0-8.5l2.5 0l0-10l4 0l0 7l7 0l0-8l7 0l0 6l7 0l0-6l3.5 0l0-5l6 0l0 4l3 0l0-3.5l8 0l0-9.5l7.5 0l0-12.5l7 0l0-13.5l3 0l0-3l5 0l0-10l5 0l0-9.5l2.5-3l5 0l0-1l7 0l0-4.5l5.5 0l0-7l9 0l0-5.5l7-8l6.5 0l0-1.5l3.5 0l0 2.5l7.5-4.5l6.5-10l6-7l8.5-4l6 1.5l8.5 0l0-10l3.5 0l4.5 1l6.5 0l0-1.5l7 0l8.5 0l0-11l6.5 0l0-20.5l3 0l0-7.5l8 0l0-2l8.5 0l0-1l6.5-7l6 0l0-2l5 0l0 1.5l2.5 2l3.5 0.5l4 0.5l2.5 0l0 0.5l3.5 0l0-0.5l2 0l0 4.5l2 0l0 4l2.5 2.5l3 0l0 2.5l2.5 0l0-3.5l2 0l0 0.5l3 0l0-1.5l3 0l3-2.5l2.5 0l0-1l2.5 0l0-5.5l3.5 4l2 0l0 2l4 0l0-5.5l2.5 0l0-4l3.5 0.5l3 0l0 3l2.5-2.5l3 0l0-4.5l3.5-1l3.5 4.5l3.5 0l0 2l4-1.5l4 0l0 2l2.5 0l0 1.5l3-8l4 0l0-7l3.5 2l3-1l3.5-4.5l3 0l3.5 2l3.5 11.5l3.5 2"/>
<path d="M363 947.5l6.5 0l0-58l6 0l0-23.5l6-10l5.5 0l0-35l7 0l0-32.5l8.5 0l0-24.5l3.5 0l0-10l7.5 0l0-26l6.5 0l0-33l6.5 0l0-29.5l2.5-8.5l3.5 0l0-1.5l5.5 0l0-15l8.5 0l0-24.5l6.5-2.5l7-3l6.5 0l0-1l7.5 0l0-11.5l5 0l0-12.5l7.5 0l0-2.5l3.5 0l0-9l4.5 0l0 2.5l3.5 7l2.5 0l0-5.5l9 0l0-3.5l7.5 0l0-6.5l6.5-26.5l3.5 0l0 12.5l5-3.5l5.5 0l0-8.5l4.5-11.5l4.5-8l5.5 0l0-1l8.5 0l0-8.5l9-16.5l2.5 8l2.5 0l0 4.5l6.5 0l0-18l4.5 0l0-6.5l6-41l7 0l0-11.5l8.5 0l0-14.5l8-2.5l5 0l0-1l5 0l0-11l7 0l0-12l6.5 0l0-9.5l2.5 1.5l3 0l0-3.5l8 0l0 13.5l5-5.5l8 0l0-4.5l5.5-12l5.5 0l0-7.5l7.5 0l0-3.5l7 0l0-10l6.5-5.5l5 0l0-2.5l4-5l3.5 0l0-2.5l2.5 0l0 2l2.5-7.5l4 0l0 7.5l3 0l0 4l3 0l0-10.5l3 0l0 2l2.5 0l0-8l4 0l0-12l3 0l0 6.5l2.5 0l0 1l3 0.5l4 0l0-1l3 1.5l2.5 0l0-2l3 0l0-3l4 0l0 2.5l2.5 0l2.5 0l0-2l3.5 0l0-1.5l2.5 0l0-12l3 0l0-1l4 0l0 6.5l2.5 3l4 0l0 4l2.5-4.5l3 0l0 12.5l3.5 0l0-1l2.5 0l0-5.5l2.5 0l0-1l3 8l4-5l2-0.5l3-7l2.5 0.5l2.5 0l2-10l2.5 2.5l3-14.5"/>
<path d="M234.5 957.5l7.5-30.5l3 0l0 8.5l4.5 0l0 13l8 0l0 1l6 0l0-5.5l5 0l0 17l5-11l8.5-10l7.5 0l0-54.5l4.5 0l0-22l3 0l0-2l6 0l0-5.5l4.5 0l0-2.5l8 0l0-8l3 0l0-8l5.5 0l0-18l6-3l7.5 0l0-21.5l3 0l0 17.5l3 0l0-1.5l5 0l0-21l6 0l0 7.5l7 0l0-28.5l5.5-18l9 0l0-25l3-22.5l6.5 0l0-4.5l8.5 0l0-21l4.5-19l4.5 0l0-21.5l6 0l0-9l3.5 0l0-16l7 0l0-5l4.5 0l0 12.5l7 0l0-1.5l3 0l0 0.5l9-16.5l4.5 0l0-10l7.5-13l7.5 0l0-8.5l5.5-19l7.5 0l0-8.5l3 1.5l7 0l0-20.5l8.5-7l4.5-10l6.5 0l0-9.5l4.5-29.5l4 0l0-1l5.5 0l0-13l6.5 0l0-15l4 0l0-18l6.5-6.5l5 0l0 1.5l3.5-4.5l3 0l0-13.5l8 0l0-8.5l7 0l0-0.5l4 0l0-11l5.5 0l0-17.5l5.5 0l0 1l4.5 0l0-5l4 0l0-2l3.5 0l0 3l6.5 0l0-1.5l7 0l0-8.5l4 0l0-3l3.5 0l0-6l7.5 0l0-4l7 0l0-2.5l7.5 0l0 2l4 0l0-2l6-12l4.5-3.5l7.5 1.5l8.5-4.5l5-4l5.5 1.5l5.5-3l7 0l0-11l7.5 0.5l8.5 0l0 0.5l2 0l0-7l2.5 4l2.5 0l0 7l3-5.5l2.5 4.5l3 0l0-5.5l3 5l4 0l0 2.5l3.5 0l0-7.5l3.5 0l0-1.5l3.5 0l0-12.5l2 0l0 4l3-10l3 0l0-6l2.5 0l0 1.5l2 0l0-3.5l2.5 3l2-2.5l3.5 0l0-1.5l2.5 0l0-1.5l4-1.5l2.5 6.5l3.5 0l0 9.5l3.5 0l0 8l2.5 0l0 1l2.5 0l0-3l4 0l0-6l3 4l3.5 0l0-8l3 0l0-8.5l2 0l0 4.5l3.5 0l0-7l3.5 4l2.5-2l3.5-3.5l4-2.5l3 1.5l2.5-2l4-5l3.5-3.5"/>
<path d="M333.5 998l4.5 0l0-26.5l5.5 0l0-32.5l6 0l0-10l4 0l0 16l5.5-10.5l2.5 0l0-49l7 0l0-10l7 0l0-18.5l2.5 0l0 0.5l5 0l0-22.5l4.5-3.5l3 0l0-1l7 0l0-8.5l3 1.5l6 0l0-28l9 0l0-38l6 0l0-13l7 0l0-33.5l5.5 0l0 7l7.5 0l0-21.5l7.5-13.5l4-10l5.5 0l0-12.5l6.5-17.5l3.5-14l4.5 0l0-15l8.5-20l8 0l0-23l4.5 3l8.5-15.5l7-14.5l8 0l0-13.5l5.5 0l0-7l8.5-10.5l6 0l0 3.5l4 0l0 4l5.5 0l0-32.5l5 0l0-7l5.5 0l0 4l9 0l0-21l3.5 0l0-10.5l5.5 0l0 0.5l8.5 0l0-7.5l8.5 0l0-8l3 0l0-12l7.5 0l0-7l3.5-8.5l3.5 0l0 2.5l2.5 8.5l4.5 0l7-21l7.5 0l0-22l7 0l0-10l6.5-12l6 0l0-4l2.5 0l0 3l3.5 0l0-10.5l3.5 0l0 5l8.5-13l5 0l0-4l7-3.5l8.5 0l0-12l5.5 0l0-3.5l6-4.5l2.5 0l0 7l3.5 0l3-3l2.5 2.5l2 0l0-8l3 0l0 1.5l3 0l0-13.5l3 0l0-5l4 0l0-6l3.5 0l0 10.5l3.5 0l0-7l2 0l0-1l4 0l0-13l4 0l0-11l3.5 0l0-0.5l3.5 0l0-2.5l3 3.5l3.5-2l3-2.5l2.5 0l0 7l3-5.5l3.5 0l0 4l2.5-0.5l2.5 0l0 0.5l4 0l0 1l4 0l0-4.5l3.5 0l0-0.5l3.5-5l3 0l0 3.5l2 0l0 0.5l2.5 0l0-3.5l2.5-0.5l2.5 1l4 0.5l2-3l2.5 3.5l2.5-2.5l2-2l3-4l4 1.5"/>
<path d="M289 987.5l6-96l5.5-3.5l6 0l0-27.5l8 0l0-24l3.5 0l7 0l0-4.5l3.5-2.5l5.5 0l0-13.5l8 0l0-15.5l7.5 0l0 4.5l6.5 0l0 2.5l4 0l0 5.5l6 0l0-27.5l7 0l0-43l8.5 0l0-29.5l2.5 0l0-6l3.5-19.5l3 0l0 0.5l4.5 0l0-25l4.5 0l0-9l5.5-16l6 0l0-7.5l4.5 4l3.5 0l0-13.5l5.5 0l0-3l9 0l0-31l4.5-31l3 0l0-4l6.5 0l0-1.5l3 0l0-14.5l5-1.5l4.5 0l0-22.5l9 0l0-6l5 2.5l3 0l0-21l4 0l0-3l5.5 0l0 0.5l9 0l0-31l8.5 0l0-10l7.5 0l0-15l7.5 0l0 0.5l6 3.5l4.5 0l0-0.5l8.5 0l0 0.5l4 0l0 5l4.5 0l0-4.5l7 0l0-2.5l6-15l3 0l0-3l5-2l7.5 0l0 3.5l2.5-13.5l6.5-9.5l7.5 0l0-12l3 0l0-5.5l8.5-1.5l5.5 0l0-7.5l3.5-2l3 0l0-3.5l2.5 3l9 10.5l5-12.5l7.5 0l0-12l8.5-5.5l4.5 0l0-8l4.5 0l0-5l5 0l0 1.5l5 0l0 1l9-5l7 0l0-5l6.5 0l0-2l7.5 0l0-3l7-5l3.5 0l0-3.5l2.5 0l0 5.5l2.5 2.5l2.5 0l3-14.5l3 0l0-0.5l2.5 0l0-7l4 0l0-3.5l4 0l0-6.5l2 0l0-9.5l2.5-4.5l2.5 0l0-4.5l3.5 0l0 3l3.5 0l0 2.5l2.5 0l0-3l2 0l0 3l3 0l0-1.5l3-1l4 0l0-2.5l2.5 0l0 0.5l2.5 0l0 2l2 0l0-3.5l3.5 0l0-2.5l4-0.5l3 0l0-1l3-1l2 0l0 2.5l3.5 0l0-0.5l3.5 0l0-2.5l2.5 0l0-4l3 0l0-2.5l2.5 0l0-2.5l3-5.5l4 0.5l3.5-4.5l3.5-1l3.5-3l3.5 6l3-0.5"/>
<path d="M367.5 978l8.5-47.5l5.5 0l0-39.5l4.5 0l0-13l5.5 0l0-26.5l6.5 0l0-22.5l8.5 0l0-14.5l4 0l0-13.5l8.5 0l0-15l6 0l0-11.5l8.5 0l0-25.5l6.5 0l0-9.5l7.5-39l3 0l0 17l5-10.5l4 0l0-19l3.5 0l0-16.5l6 0l0-8l2.5 0l0-0.5l2.5 0l0-16.5l6.5 0l0-20.5l3.5 0l0-11l7-12l5.5-12.5l8 0l0-17l7 0l0-18.5l6 0l0 1l4 0l0 4.5l8-19.5l5.5 0l0 4.5l8.5 0l0-8l4.5 0l0-14.5l5-6.5l7-5.5l3.5 0l0-3.5l2.5 0l0-1l6-24.5l4 0l0-8.5l8 0l0-6.5l6-5l4-7.5l6 0l0-17l8.5-18l6-1.5l6 0l0-8l2.5 0.5l6.5-7l6 0l0-10l6.5 0l0-7l4.5 0l0-7.5l8.5-13.5l8.5-8l4.5 0l0 4.5l5-3l6.5 0l0-5l6.5-1l3.5 0l0-8.5l8 0l0-5l9 0l0-4l2.5 0l0-7l2 0l0 7l3 0l0-8l3.5 0l0-1.5l4 0l0-3.5l3 0l0-4.5l3.5-8.5l2.5-11.5l2.5 0l0-4.5l3.5-11l4 0l2 0l0 2.5l3 0l0-7l3.5 0l0-5l3.5 0l0 2.5l3.5-3.5l2.5 0l0-5.5l3 0l0-4.5l2 0l0 2.5l3 0l0-5.5l3 5.5l2 6.5l4 0l0-2l3 0l0 11.5l2 0l0 3l3.5 0l0-15l3.5-3.5l3.5 0l0-3.5l3 0l0 5.5l4-7l3.5-3l4 6l2.5-1l4-3l4 3.5l3.5-2l2 7"/>
<path d="M327.5 992l4.5 0l0 7l3 0l0-17l3.5 0l0-51l2.5 0l0-38l4 0l0 37l5.5 0l0-3l5-37l7.5 0l0 1.5l5.5 0l0-7l6 0l0-22l4.5-2.5l7 0l0-4.5l4.5 0l0-12l7 0l0-19.5l4 0l0 16l4.5-12l7.5 0l0-44l7 0l0-25l5.5 0l0-36l9 0l0-41l8.5-10l3.5 0l0-1.5l5.5 0l0 0.5l5 0l0-14l8-35.5l5 0l0-10.5l3 0l0-19l8 0l0-11l2.5-2.5l5 0l0-19l3.5-14.5l6 0l0 1.5l8.5-21l6 0l0-12.5l7.5 0l0-20.5l6 0l0 4l8 0l0-11.5l8.5 0l0-8.5l6 0l0-5l7.5-17l4.5 0l0-7l5.5 0l0-9l6.5 0l0-4.5l4-13l6.5-5l8.5 0l0-11.5l7.5 0l0-5.5l7.5 0l0-9l2.5 0l0-8l3-4.5l3-5l7.5 0l0-14l7.5-0.5l7.5 0l0-4.5l4 0l0-3.5l7.5-3l3 0l0-1.5l6.5 0l0-0.5l9-4l2.5 0l0 1l6-3l9 0l0-8.5l8.5 0l0-3l7 0l0-1.5l2.5 0l0-3.5l2.5 0l0-3.5l2.5 7l2.5 4l2.5 2.5l3.5 0l0 7.5l3.5 0l0-3l3 0l0-1l4-3.5l3 0l0-2.5l3 0.5l3.5-3l3.5 1l4 0l3.5 0l0-2.5l2.5 0l0-2.5l3.5 0l0-0.5l2.5-0.5l2 0l0-1.5l4 0l0-5.5l4 1l3.5 0l0 1.5l2 0l0-11l4 0l0-6.5l3 0l0 4.5l3 1.5l3.5 0.5l3.5 0l0-2l3.5 0l0-10.5l4 0l0-0.5l3.5 3.5l2.5-4.5l4 1.5l2.5-2l2 2.5l3 3.5l2-1.5l3 0l3-3"/>
<path d="M359 945l7-7.5l5 7l7-59l6 0l0-10l9-17.5l5.5 0l0-13.5l7.5 0l0-11.5l5-12.5l3.5 0l0-20l7.5-21l4.5-23l7.5-13l6-33l9-31.5l6 0l0-35.5l3 0l0 5l7.5-9l2.5 5.5l5.5 0l0-16l7.5-7l6.5 0l0-13l2.5 0l0-16l3.5-8.5l9-16.5l6.5 0l0-17.5l5-17.5l8.5 0l0-0.5l8.5 0l0-19.5l5 0l0 8l6.5-17l7 0l0 2.5l4.5 0l0-13l6 4l6.5 0l0-7l7.5 0l0-21.5l3-7.5l8-9l6.5 0l0-5l3.5 0l0 1l8 0l0-7l5 0l0 1l8.5 0l0 6.5l5.5-13l4 0l0 0.5l6.5 0l0-3.5l8.5 0l0-15.5l4-6l5 0l0-4.5l3 0l0-11.5l4.5 0l0-7l6.5 0l0-9l7.5 0l0-19.5l8.5 0l0-16.5l6-1l5-5.5l7.5 0l0-10.5l4.5 0l0-3.5l2.5 0l0 3l4-2l2.5-3l3 1.5l3.5 0l0-3.5l4-6.5l2.5-5l3 0l3.5 0l0-3.5l3.5 1l2.5 0l0 1.5l2.5 0l3.5 0l0 3.5l3.5 1l3-0.5l4 0l0-1l3.5 0l0-6.5l2 0l0 8l3 0l0-7.5l2.5 0l0 1.5l2.5-10l2 2l3 0l3.5 0l0-6.5l3.5-4l3.5 0l2-6.5l3-5.5l2.5 3.5l2.5 0l0 0.5l2.5 0l3.5 0l0 5l3 2l2.5 1l3 0l2-5l3 3.5l2.5-0.5l2.5-2l2 6l3.5-7"/>
<path d="M367.5 981.5l7-90.5l7.5 0l0-28.5l5 0l0 5l8.5 0l0-14.5l7-1l7-17l3.5-12.5l6 0l0-13.5l8 0l0-21l4.5 0l0-20l3 0l0-36l5 0l0-0.5l5-33.5l5.5 0l0-17.5l6.5-21l6 0l0-36.5l8.5 0l0 9l6.5-10l3.5-6l6 0l0 1.5l4 0l0-0.5l4 0l0 2l3 8l6.5-2.5l5-19.5l4.5 0l0-1l5.5-13.5l4.5-11.5l8 0l0-9.5l3.5 0l0-3.5l4 0l6.5 3l5.5 0l0-22l5 15l6-15.5l5 0l0-7l6.5 0l0-10.5l5.5-20l2.5-5.5l7 0l0-20l5.5-20l3.5 0l0-3l4 0l0-17.5l4.5 0l0-5.5l3.5 0l0 6l4 0l0-13.5l7 0l0-5.5l5.5-5.5l7.5-10l4.5 0l0-2.5l4 0l0-4l9 0l0-3.5l7 0l0-5l8.5 0l0-14l2.5 0l0-5l8.5 0l0-7l4 0l0-6l3.5-4.5l6.5 0l0-1l3.5-9.5l4.5-13l3 0l0 8l3 0l0 4l3 0l0-2.5l2.5 0l0-3.5l3 0l0 3.5l2 0l0 2l2.5-8l3 10l2.5 0l0-2l3 0l0 2.5l3.5 0l0-2.5l2 0l0-2.5l4 0l0-5.5l3.5-1l3.5 0l0-2.5l3.5 0l0 4.5l2.5 0l0 2.5l3.5 0l0 1.5l2.5 0l0 4l2.5 7.5l4 6l3.5 0l0-0.5l3 0l0-1l3 0l0 0.5l3.5 0l0-1l2 0l0-11.5l3-2.5l3 0l0 4l2 0l0 1.5l2.5-1l3 0l0-7l4 0l0 4l3 0l0-0.5l3-2l3-2.5l4-3l2 3l3.5-0.5l2.5 6l2.5-3l2-8"/>
<path d="M293.5 994.5l8.5-11l4.5-88l7.5 0l0-4l3 0l0-3.5l7 0l0-28.5l8.5 0l0-10l7-6.5l7-12.5l6 0l0 2l3.5-3.5l6.5 0l0-35.5l8.5-5.5l7.5 0l0-55.5l8-7l7.5-32.5l5.5 0l0-26l8.5-2.5l7 0l0-14.5l4.5 0l0-4l3 0l0-8l4 0l0-14.5l3.5 0l0-13l7.5 0l0-27l7.5 0l0-13.5l4 0l0-14l7-6l6 0l0-13l4.5 0l0-3l7.5 0l0-19.5l9 0l0-2l2.5 0l0 5.5l6.5 0l0-5.5l4 0l0 7l3 0l0-9l6 0l0-14.5l6.5 0l0 3l6 0l0 3l3 10.5l7 0l0-23l6 0l0-3.5l7.5 0l0-6l7.5-11l9 0l0 2.5l4 0l0-11l8.5 0l0-4.5l5.5 0l0 6.5l4 0l0-11l4.5-17l7.5-12l8.5 0l0-12l7 0l0 1.5l5.5 0l0-23l7.5-18l7 0l0-7.5l6 0l0-4l8.5-7l8.5 0l0-1l6.5 0l0-3l3.5 0l0-7l6 0l0-0.5l3-8l8 0l0-4.5l7 0l0 1.5l4 0l0-3l4.5-3.5l4.5 0l0 1l6 0l0 2.5l3 2.5l2.5 2l3.5 0l0 3l2 0l0-1.5l2.5 0l0-5.5l4 0l0 1.5l2.5-10.5l3.5 0l0-2l4 0l0 5l2 0l0-7l3 0l0 3l2 0l0 9.5l4 0l0 3.5l2 0l0-1l3 0l0 3.5l3.5-5.5l3 0l0 1.5l3.5 0l0-14.5l3.5 0l0 7l3 0l0 3l3 0l0 1.5l3.5 0l0-4.5l2-6l4 0l0-6l3.5 0l0-6l2-1.5l2 0l0-10l3 13.5l2.5-6.5l2 0l0 4l3.5 0l3.5 0l0-2l3-5.5l2-3l2-6.5l3.5 7.5l4-1.5l3.5 4l3.5-3.5l4-7.5"/>
<path d="M322 995.5l17.5 0l0-10.5l2.5 0l0-16.5l3 0l0 6l6.5-33l7.5 0l0-49.5l3.5 0l0-27l5 0l0-14.5l7.5 0l0-9.5l5 0l0-9l6 0l0-8.5l7.5 0l0-48.5l6 0l0-76.5l4.5-6.5l4.5 0l0-8l4.5 0l0-10.5l7.5 0l0-19.5l4.5 0l0-3l3 0l0-1l8.5-9.5l7 0l0-12l8 0l0-17l4 0l0-23l6.5 0l0-19.5l6 0l0-8.5l8-11l7-20l6 0l0-35.5l7.5-21l8 0l0-3l3 0l0 3.5l3 0l0-2l6.5-1.5l4 3l8.5 0l0-16l4.5 0l0-6l6.5 0l0-5.5l3.5 0l0-3.5l4 0l0-8.5l4 0l0-2.5l4.5 0l0-6l5 0l4.5 0l0 1l7 0l0-2l7-9.5l4.5-7l2.5 0l0-5.5l4 0l0 1.5l9 0l0-5.5l4 0l0-2.5l8.5 0l0-9l7.5 0l0-11.5l2.5-1l3.5 0l0 4l6.5-8.5l4 0l0-9.5l5.5 0l0-6.5l2.5 0l0-10.5l3.5 0l0-7.5l6.5 0l0-5.5l6 0l0-3l3.5 0l0-5l7-8.5l6.5-8.5l9 0l0-12l5 0l0-10.5l8.5 0l0-9.5l2.5 0l0 6l3.5 0l0 2l2 3.5l4 0l0-6.5l3.5 0l0-1l2.5 0l3 0l0 2.5l3-2.5l2.5 0l0 3.5l3.5-3.5l2.5 0l0-7l4 0l0 2l2.5 0l0 4l3 0l0 1.5l4-0.5l2.5 0l0-1.5l3 0l0-2.5l3.5 0l0-0.5l2.5 0.5l4 0l0-1.5l2 0l0 1l3 0l0-3l2.5-1l2.5 0l0 3.5l2.5 0l0-3l3 0l0-6.5l3 0l0-0.5l4-3.5l3 0l0-5.5l2.5 0l0-2l3.5 0l0-3.5l2 0l0-0.5l2.5 3l3-2l3.5 5l2-5l4-6l2.5-1.5l2.5 1.5l3 1.5l3 1"/>
<path d="M369 974.5l11.5 0l0-24.5l4-4l6 0l0-55.5l3.5 0l0-12.5l6 0l0-18l3 0l0-7l3-6l3.5-4.5l6 0l0-15l7.5 0l0-14.5l3.5 0l0-10l4.5 0l0-14l5 0l0-4l4.5 12.5l8.5 0l0-24.5l5.5 0l0-7l7 0l0-15.5l6 0l0 1l3.5 0l0-29.5l4.5 0l0-6l3.5 0l0-0.5l8.5-19l6 0l0-13.5l4 0l0-9.5l8.5 0l0-20.5l6-2.5l7.5 0l0-17.5l9-2l5.5 0l0-10l6.5 0l0-15.5l4 0l0-4l8.5 0l0-5.5l3.5 0l0-13l6 0l0-9.5l2.5 0l0-22.5l5 0l0 4l3.5 0l0 2l6.5 0l0-12.5l9-31l3 0l0 3l3.5 0l0-29l5.5 0l0-5l3.5 0l0-12l5 0l0-15l6-5l6 0l0-10.5l4-14.5l5.5 0l0 4.5l8-1.5l8-17.5l8.5 0l0-2l4.5 0l0 9.5l3.5 0l0-5.5l6 0l0 2.5l8.5 0l0 6.5l4.5-1.5l8-5.5l5 0l0-1l9 0l0-1l3.5 0l0-7l3-4.5l4 0l0 8.5l3.5-1l3.5 0l0-14.5l3-0.5l2.5-2l3 2.5l2.5 0l0 2l2.5-5.5l3.5 0l0-5.5l3.5 0l0-6.5l3.5 5l2.5 0l0 1l4 0l0 0.5l3.5 7.5l3.5 0l0 5l3.5 0l0-2l3.5 0l0-0.5l2.5 0l0-14.5l3-8l3.5 4l3.5-6.5l2 0l3.5 0l0-3.5l3 0l0-1.5l3.5 0l0 1l2.5 0l0-9l2 0l0-3l3.5 0l0 3.5l2-8l2.5-3l2-0.5l3.5-3l3.5-3.5l2-4l2 1.5l2.5 3.5l4-0.5"/>
<path d="M355.5 980.5l9 0l0-27l4.5-62.5l4 0l0-5l3 0l0-0.5l3.5 0l8.5 0l0-22.5l4 0l0-24.5l6.5 0l0-9l7.5 0l0-22.5l8 0l0 2.5l8-11l8-32l3 0l0-23.5l3 0l0-3.5l5-10.5l3.5 0l0-14l5 0l0-36l9 0l0-4l7 0l0-12l6.5-2l4.5-24l5.5 0l0-4l7-19l3.5 0l0 13l4 0l0-4.5l7.5 0l0-22l5.5 0l0-9l7 0l0-6l8.5 0l0-14l7.5 0l0-2l8.5 8l3.5-20.5l3.5 0l0-6.5l8 0l0-3.5l6 0l0-2l7.5 0l0-13.5l3.5 0l0-13l6 0l0-10.5l4-11.5l4 0l0-5.5l9 0l0-24.5l8-9.5l9-8l8 0l0-17l3 4.5l5-6l7.5 0l0-10l4.5 0l0-3l4.5 0l0 3l5 0l0-0.5l6.5 0l0-12l8 0l0-10l9 0l0-16l8.5-4.5l7.5 0l0-12.5l3.5 0l0-2.5l4 0l0-7l5.5 0l0-2.5l2.5-6l2.5 0l0-3.5l3.5 5l2.5 0l0 5.5l3.5 0l0 1.5l4 1.5l3 0l0-0.5l3.5 0l0-8l4 0l0-11.5l2.5-4l3 5.5l2-1.5l3 0l0 2.5l3.5 0l0-2l3-8l3 0l0-8.5l3.5-1l2.5 0l0-3l3 3l3 0l0-4.5l3.5 1l3 0l0 1l3.5 0l0-8.5l3-1l2.5 0l0 4l4-2.5l3.5 0l0 2l3 0l4 1l4 0l0-2.5l2.5-3l3-1l3 11.5l3-4l3.5 6.5l3.5-1.5l3-7l2.5-7"/>
<path d="M286.5 994.5l6.5 0l0-19l4.5 0l0-80l3.5 42.5l3.5-45.5l6.5 0l0-26l6.5-9l2.5-3l8.5 0l0-13l6.5 0l0-10l4 0l0-11l3.5 0l0-12l6 0l0-23.5l7-27l4 0l0-17.5l3.5-1.5l3.5 9.5l7.5 0l0-24l5 0l0-14l4.5 0l0 23l8-8l6.5-13l8 0l0-35l4-3l4.5 1.5l8.5-20l6.5 0l0-0.5l6 0l0-16.5l5.5-3.5l8-6.5l3 0l0-18l3 0l0-9l5.5 0l0-4.5l5 2l7 0l0-16.5l9 0l0-21l8.5 0l0-22l4.5 0l0-7l6 0l0-13.5l4 0l0-12.5l8-16.5l7 0l0-24l9 5.5l5.5 0l0-10l9 0l0-6l7 0l0 1.5l6 0l0-2.5l3.5 4.5l4 0l0-16l3.5 0l0-3.5l3 0l0-8l7.5-4.5l4.5 0l0-17l8 0l0-5l5-1.5l5.5 0l0-4l6 0l0-15l3 3.5l3 0l0-10l3.5 0l0-11l9 0l0-7.5l8.5-1l8.5 0l0-9l4.5 0.5l7.5 0l4 0l0-15.5l7 0l5.5 0l0 3l5.5-2l4 0l0-3.5l7.5-8l8 0l0 3l3.5 0l0-2.5l7.5 0l0-6l3 0l0 3.5l3.5 0l0-13.5l3.5 0l0 3l3 0l0 2l2.5 0l0-10.5l3.5 0l0-9.5l3 0l2.5 0l0-8.5l3.5 0l0 2.5l3 0l2.5 0.5l4 0l0-0.5l3.5-3.5l2 0l0 2.5l2.5 0.5l2.5 0l0-0.5l3 5l3.5 0l0-0.5l4 3l2 0l0 1l4-2l3.5 0l0-4l2.5 3l3-5.5l3 0l0-4l2 0l0 0.5l3.5 0l0-4l3.5 0.5l2.5 0l0 8.5l4 0l0 2l2.5 5.5l4 6.5l3.5-3.5l3.5-2.5l3-4l3.5 2l2.5-4"/>
<path d="M314 958.5l3.5-62.5l7-22.5l7.5 0l0-17.5l8 0l0-19.5l3 0l0 6l8.5 0l0-39.5l6 0l0-8l6 0l0 9l3.5-10l5.5-38.5l7.5-5l7.5-42l8.5 0l0-24.5l4.5 0l0-16.5l7 0l0-24.5l4.5 0l0-8l3.5-26.5l7.5 0l0-21l4.5 0l0-14l4.5-5l9 0l0-14.5l5 0l0-5.5l6 0l0-8l7.5-21l6.5 0l0-16l6.5 0l0-3l5 0l0 2.5l3 0l0-5.5l7 0l0-4l8 0l0-15.5l7 0l0-8l7.5 0l0-5.5l5.5 0l0 6l5.5 0l0-4l3 0l0-3l3.5 0l0-3l3 0l0 0.5l4 0l0-1.5l3.5 0l0 1l7 0l0-1l5 0l0-2.5l3.5 0l0-15.5l2.5 0l0 7l8.5-16l5 0l0-14l8-18l9-16.5l4 0l0-10.5l5-6l9 0l0-6l4-7l7 0l0-11.5l3.5 1.5l6 0l0-10l2.5 0l2.5-7.5l5.5 0l0 10l2.5 0l0 6.5l4.5 0l0 0.5l3.5 7l3 0l0 3.5l5.5 0l0-9.5l3 0l0 1.5l3 0l0-4.5l7 0l0 2l8 0l0-9l3.5-1.5l8.5 0l4.5 0l0 3l6 0l0 3.5l5.5-9l2.5 0l0-6.5l3.5-5.5l3 0l0-8l2 0l0-6.5l3.5 0l0-6l4 0l0-14l4 0l0-6l2.5-1l2.5 0l0-2l3 2l3.5 0l3.5 1.5l3 0l0 2l3 0l4 0l0-0.5l3 0l0 5l3.5 4.5l3.5 0l0-0.5l2 0l0-2l4 1l3.5 0l0-4l2.5 0l0-2l3.5-3l2 0l0 0.5l3.5 0l0-1l2.5 6l3.5 4.5l3-4.5l3 0l0-5.5l2.5 0l0-8.5l3 0l0 5l3-11l3 3.5l3 1l3-2l2 2l4-2l3.5-0.5"/>
<path d="M369 990.5l8.5 0l0-56l6.5 0l0-44.5l5.5 0l0-20.5l7.5 0l0-24l6.5-11l2.5 0l0-28.5l7 0l0-10l3.5 0l0-15l4.5 0l0-4l6.5 0l0-32l7.5-11.5l7 0l0-35l3 0l0 6l3 0l0 14.5l6.5 0l0-8l9 0l0-24l3.5-6.5l3 0l0-7.5l7-24.5l4.5 0l0-29.5l8.5 0l0-15.5l5.5-13l3 0l0-9l3.5 0l0-10.5l7.5-7.5l4 0l0-4l4-8.5l7.5 0l0-9.5l3 0l0 9.5l6 0l0-9l8.5 0l0-27l5.5 4.5l5 0l0-35.5l4.5 0l0-5l7-13l4.5 0l0-11.5l8.5 0l0 1.5l7 0l0-12.5l8.5 0l0-9l6.5 0l0-17.5l7.5 0l0-5l8-26.5l5.5 0l0-6l4 0l0-9l9 0l0-8l6.5-9l8 0l0-5l5.5 0l0-3l8 0l0-2.5l6.5 0l0-6.5l9-1.5l6.5-5l4 0l3.5 0l0-2l4 0l0-2l3 0l8.5-15l3 0l0-13l2-6l2.5 0l0-7.5l4-4.5l3.5 0l0-2.5l2.5 0l0 4l2.5 0l0 1.5l2.5 0l0-6.5l4-4l3.5 0l0-5l3.5 0l0-3l4 0l0 3l2.5 0l0 3.5l2.5 0l0 6l3.5 0l0-5l2 2.5l3-8.5l3.5 0l0 3l2 0l0-1l2 0l0 7l4 0l0-6l2 0l0 1l2.5 0l0-2.5l3 0l0-2l3 0l0 6l3.5 0l0-2l3.5-6.5l3.5 0l0-1l4 0l0-3l2.5 7l3 0l0-3.5l3 4.5l2.5-1l2.5-2l2.5 8.5l2.5 3l2 4.5l3-9l2 1.5l3.5-2.5"/>
<path d="M294 993.5l13.5-14.5l4.5 0l0-17.5l5.5-22l6-43l8.5 0l0-27.5l4.5 0l0 3.5l4.5 0l0-16.5l6 0l0-14.5l6.5 0l0 1.5l7 0l0-4l6 0l0-29l5 0l0-43.5l8.5 0l0-13.5l8.5-39.5l6-11.5l4 0l0-19.5l8 0l0-30.5l6.5 0l0 2.5l2.5 0l0-7l8.5 0l0-30.5l8.5 0l0 4l8.5-22.5l4.5-3l4.5 0l0 7l3.5 0l0-3l8.5 0l0-31l5.5 0l0-7l5-17.5l8 0l0-9.5l6 0l0-3l6.5 0l0-10.5l5 0l0-23.5l2.5 0l0 2l3 0l0-6l6.5-10.5l8.5 0l0-12l3.5 0l0-12.5l5.5 0l0-8.5l7 0l0-22l8 0l0-16.5l8 0l0-14l5-14l3 0l0 5.5l3 0l0-2.5l3 0l0 3.5l5 1.5l7.5 0l6 0l0-5l5 0l0-2l4 0l0-1l4-3l9 0l0-3.5l4.5 0l0-0.5l6.5 0l0-2l7 0l0-13.5l8 0l0-4.5l8 0l0 0.5l4 0l0 0.5l3.5 0l0-5.5l6.5 0l0-6.5l8.5 0l0 4.5l4.5 4l3 0l0 6.5l4 0l0-4l3.5 0l0-4.5l8 0l0-3l8 0l0-4l8.5-0.5l3.5 0l0-7.5l2.5 0l0-5l3.5 0l0-3l2 0l0-2.5l4 0l0 10l3.5 0l0-5l3 2.5l2 0l0 4l2 2.5l4 0l0 1.5l2 0l0 2l2 0l0-0.5l3.5-4l3-2.5l2.5 0l0 1.5l3 0l0 0.5l3 0l0-3.5l3-4.5l3 0l0 3l3.5 0l0-1l3 0l0-2l3.5-4l2.5 0l0-6.5l4 0l0 6.5l2.5-2.5l4 0l0-3l2.5 0l0 0.5l4 0l0-8l2.5-3.5l2.5 0l2.5 0l0-2.5l2.5 0l0-5.5l3 0l2.5 0.5l3-6l3.5-5.5l4 10l3.5-1l3.5 0.5l4 1.5"/>
<path d="M339.5 991l7 0l0-33l6 0l0-59.5l7 0l0-9l6.5 0l0-28.5l5.5-13.5l4.5 0l0-29.5l3.5 0l0-3l8-9.5l3 0l0-6l5.5 0l0-26l7.5 0l0-34l5-22l5-4.5l6.5 0l0-12.5l3 7l7 0l0-5l3 0l0-9.5l9 0l0-20l4.5-11l2.5 0l0-18l4.5-16.5l5.5 0l0-17l8.5 0l0-25l7 0l0-16l4.5 0l5.5 0l0-18.5l5.5-4l7 0l0-25l3 0l0-6.5l3.5 0l0 19l3 0l0-10.5l8-21.5l8 0l0-3.5l8 0l0-10.5l5 0l0-10l6.5-12l5 0l0-5.5l5.5 0l0-7.5l5.5 0l0-11.5l6 0l0-7.5l7 0l0-13.5l2.5-13l5 0l0 3.5l3 0l0 4l8-7.5l7.5 0l0-8.5l5 0l0-4l8.5 0l0-10.5l5.5 3l3.5-0.5l7-3l8 0l0-5.5l4.5 0l0-10.5l4 0l0-0.5l9 0l0-8.5l4 0l0-1l4 0l0-1.5l6-5.5l5 0l0 3.5l5 0l0-1l5.5 0l0-4l7.5 0l0-9l9 0.5l2.5 0l0-0.5l3 0l0 0.5l3.5 0.5l3.5-0.5l3.5 0l0-2l3.5 0l0-1l3 2.5l2 0l0-3l3 0l0-5l3.5 0l0 3l2.5-10l3.5 0l0-4l3 0l0-4l2 0l0-1l3 0l0-6.5l2.5 0l0 5l4 3l2.5-10l2.5-13l2.5 0l0-3l3 0l2.5 0l0-2.5l2.5 0l0-11.5l4 0l0-1.5l2.5 1l3.5 0l0 2.5l2.5-3.5l3.5 0l0-2.5l3.5 0l0 5.5l3 0l0-9l3.5-0.5l2.5-2.5l3.5 0l0 1.5l3 4.5l4 2l3 5.5l2-1.5l4 2l3-6l3-5.5l3.5-4"/>
<path d="M322.5 940.5l8-57l8.5 0l0-16l6 0l0 1l9-23.5l6-21.5l4 0l0 0.5l8.5 0l0-29l7.5-13.5l8 0l0-13l3 0l0 22.5l2.5 0l0-29.5l8 0l0-25.5l8.5 0l0-42.5l8.5 0l0-5.5l4 0l0 6l6.5 0l0-19l6.5-26.5l5 0l0 12.5l2.5 0l0-14.5l4.5-32.5l9-32.5l7.5-8.5l5.5-18.5l7.5 0l0-16.5l6.5 6l6-4.5l8 0l0-12.5l5.5 0l0-1l9 0l0-10.5l8-10l5.5-4.5l5.5 0l0-3.5l5 0l0-3.5l3.5 0l0-1.5l5 0l0-12l4.5 0l0-13.5l6-10l5 0l0 0.5l3.5-8l7.5 0l0-16l8 0l0-13l4 0l0-4.5l4 0l0-11.5l8 0l0-14l7.5 0l0 2l4 9l4 0l0-7l5.5 0l0-7l2.5 0l0-6.5l4 3.5l4 0l0-10l3.5 0l0-2l6.5 0l0-6l7 0.5l6.5-1.5l6 0l4.5 0l0-4.5l7 0l0-4.5l4.5 0l0-4l6.5-7l5 0l0-15l3 0l0 3l3.5 0l0 5l8.5 0l0-9.5l5 0l0 1.5l2.5 0l0-4.5l2 0l0 8l2.5 0l4 0l0 1.5l2 0l3-7l2-4l3.5-1.5l4 0l0 1.5l3.5 0l0-2l3-2.5l3.5 0l0-5l2.5 0l0-1l2-3.5l4 0l0-5l3 0l0-4l2-8l3 0l0-7l2 0l0 2l3.5-4l3.5 4.5l2.5 0l0-4l2 0l0-6.5l2.5 0l3 0l0-5l3.5 0l0 1l3.5 0l0-6l3.5 0l0-1l3 2l3 0l0-5.5l3 0l0-3l3.5-5l2.5 0l0-6l3.5-1.5l2-1l3.5 2.5l2.5 3l2.5-4l3 0.5l3.5-2"/>
<path d="M291 971l7 0l0-73l6.5 0l0-3.5l5.5-24l5.5 5.5l8.5 0l0-25.5l3 5.5l5.5-24.5l8 0l0-44.5l5.5 7l7 0l0-23.5l5.5-13l7.5 0l0-9.5l8 0l0-38.5l8.5 0l0-18.5l5 0l0 1.5l5 0l0-33l6-23l6 0l0-9l2.5 0l0-0.5l4.5-19l5.5 0l0-11l7.5-9.5l4.5 0l0-8l4.5 0l0-21.5l4 0l0-1l8.5 0l0-24.5l2.5 0l0-7.5l6 0l0 2l9-23.5l5 0l0-14l3.5 0l0-7.5l6 0l0-19l8 0l0-7l6.5 0l0-7l7.5 0l0-18.5l5.5-20l7.5-17l8.5-12.5l6.5 0l0-2.5l8.5 0l0-9l9 0l0-17.5l5.5 0l0 6l8.5 0l0 5l3.5 0l0 5.5l6.5-4.5l7.5-11l6 0l7 0l0-8.5l6.5-4.5l6 0l0 2.5l5 0l0-1.5l3.5 0l0-3.5l3.5-7l6 0l0-3l8-1.5l4 0l0-3.5l5.5 0l0 3l4.5-5l5.5 0l0-0.5l9 0l0-4l4 0l0-4l5.5 0l0-10l4 0l0-4.5l4 0l0-2l8-11l6-1.5l4 0l0-0.5l8.5 0.5l2-4l3 0l0 2.5l4 0l0-4l3.5 0l0-4l2.5 0l0 2l2.5 0l0 1.5l3-2l3 1l3 0l0 5l4-7.5l4-4l2 0l0 4l2.5 0l0-0.5l3.5 2l3.5 0l0 0.5l3.5 1.5l2.5 3l3 0l0 1.5l4 0l0-4l2-1.5l4 0l0-3.5l3.5 0l0 6l2 3.5l4 0l0-3l2 2.5l4 0l0 1.5l3.5 0l0 7.5l3.5 0l0 1.5l3 0l0-2.5l2.5 0l3 0l0-2.5l3.5-5l2 3.5l3.5 6l3-1l2.5 6l2-7l3-8.5l3.5-1.5l3.5 4.5"/>
<path d="M263 985l7.5 0l0-33l9-75l3.5 0l0 7.5l4.5 0.5l5.5 44.5l5.5 0l0-4.5l4 0l0 5.5l6 0l0-44.5l5.5 0l0-2.5l2.5-1l4.5-3l3 0l0 0.5l5 0l0-3.5l6.5 0l0-20.5l8.5 0l0-10.5l4 0l0-12l4.5 0l0-16l5.5-7.5l4.5 0l0 0.5l3 0l0-19.5l8.5 0l0-61l7 0l0-46.5l7-22.5l6-2.5l8 0l0-22.5l6.5-9.5l8.5 0l0-17l6 0l0-25l5.5-2l3-1.5l5.5 0l0-8l7 0l0-15l8-9l8.5-9.5l3.5 0l0 7.5l8.5 0l0-4.5l7-1l5 0l0 3l9 0l0-19.5l5-15.5l4 0l0-8l5.5 0l0-8.5l5-10l4 0l0-14.5l7.5 0l0-7.5l3.5-5.5l8 0l0-8.5l3 0l0 6l4 0l0-9.5l5 0l0 2.5l4-7l4.5 0l0 0.5l5.5 0l0 1l6.5 0l0-16.5l7 0l0-4l2.5 0l0-18l3.5 1.5l6 0l0-4.5l2.5-11l9 0l0-11l2.5 0l0-1l3 0l0-5.5l5.5-6l3.5 0l0-9.5l6 0l0-10l8.5 0l0-14l3.5-3.5l7.5 0l0-6.5l8 0l0-8.5l4 3l7 0l0-10l6.5 0l0-2l5 0l0-6.5l6.5-9.5l7 0l0 8.5l8.5 0l0 0.5l3.5-3.5l3.5 0l0-4.5l8 0l0-14l2 0l0-6l3.5 3l2.5-7l2 0l0-3.5l3.5-4.5l3.5 0l0-0.5l4 0l0-3l3.5 2l3 0l0 2l2.5 0l0-10.5l2.5 1l3 0l0 1.5l2 0l0-3.5l3 0l0 3l3.5 0l0 1l3.5 0l0-1.5l3.5 0l0-10l3.5 0l0 9.5l3-9.5l3 0l0-6l3 0l0 4.5l2 0l0 2l2.5 0l0-0.5l4 0l0-2l2.5 0l0-3l2.5 0l0-2.5l3.5-2l3.5 0l0-5.5l3 0l0 3l3 0l2 0l0 3l3.5-1l3.5-3l3.5-6.5l3-0.5l3.5 1.5l4 3l2.5-2.5"/>
<path d="M271.5 986l7-35l5-66l4 0l0-6.5l7.5 0l0-14l6-3l7.5-12l2.5 0l0-10.5l5 0l0-1.5l4.5 0l0 4.5l3.5-6.5l3.5 0l0-24l4.5 0l0 6l4 0l0-16.5l7 0l0-7l5.5-39.5l2.5 0l0-38l3 0l0-17l5.5 0l0-22.5l5 0l0-31.5l4.5 0l0-5.5l8-3.5l4.5 0l8.5 0l0-17l3 5.5l6 0l0-5.5l6 0l0 3.5l3.5 0l0-26.5l3 0l0-12.5l5 0l0-15.5l4.5 0l0-2l6.5 0l0-11l7.5 0l0 2l3.5 0l0 13l6 0l0-27l8-19l7.5-13.5l4.5 0l0 6l8.5 0l0 4.5l8-18.5l6.5 0l0 2.5l2.5-0.5l4.5 0.5l3.5-12l8.5 0l0-15l6-6l6.5 0l0-6.5l3.5 2l7.5 0l0-4.5l6 0l0-15l4 0l0-16l8 0l0-14.5l5.5-10l8 0l0-7l4 0l0-2.5l5.5 0l0-3l4 0l0-7l5.5 1l4.5 0l0-8l2.5-6l3 0l0 5l6.5 0l0 1.5l6 0l0-11l4.5 0l0-5.5l4.5-3.5l6 0l8 0l8 0l0-9l6.5 0l0-8l4 0l0 2l6.5-2.5l3 0l8.5 0l0-8.5l3 0l0-4l6 0l0-2l9 0l0-3.5l8.5-6.5l4.5-5.5l6.5 0l0-20.5l3 0l0-8.5l2 0l0-3.5l2.5 0l0-0.5l2 0l0-6l3.5 0l0-4l3.5 0l0-7l3 0l0-3l3 0l2 4.5l3.5 0l0-2l2-2l2.5 0l0-2l3 1.5l3.5 3l3 0l0-3.5l4 0l0 2.5l2.5 0l0 1l3 0l0 2.5l3.5-0.5l3.5 0l0 3l2.5 0l3 0l0 0.5l2-2l2.5 0l0-0.5l2.5 0l0-0.5l3-1l3.5 0l0 2.5l2.5 0l0 3.5l3 0l3.5 0l0-3l2.5-0.5l3.5 0l0-5l2.5-3l2 0l0-1l3-6l2.5 3l4 1l3-7.5l3-5l3.5 3.5l3-2.5l3 1.5"/>
<path d="M213.5 951.5l4.5 0l0 2.5l4 0l0-66l4 0l0-1.5l8 0l0-3l4 3.5l8.5 0l0-20l5 0l0-12l7-3.5l5.5 0l0-3.5l6-28.5l8-31.5l8.5-25l7-8l8.5 0l0-13.5l8 0l0-20.5l5 0l0-14.5l5 0l0-14.5l3 0l0-8l5.5 0l0 2.5l3 0l0 4.5l8 0l0-26.5l6 0l0-30l3 0l0-2.5l3.5 0l0-11l8.5 0l0-15.5l5 0l0 7l7.5 0l0-18.5l5.5-9.5l6 0l0-16.5l6 0l0-1.5l3 0l3.5-4l7.5 0l0-8.5l8 0l0-16l5 2.5l5 0l0-9.5l4.5 2l6 0l0 5.5l4 0l0-9l5-11l3.5 0l0-20l6.5 0l0-17l7-24.5l6-0.5l5 0l0-11l7 0l0-21l8.5 0l0-22l6 0l0-7l6.5 0l0-6.5l6.5 0l0-14l5.5 0l0-11.5l5 0l0 3.5l6-10l5-10l5.5-2l3.5 0l0-0.5l4 0l0 4.5l4.5 0l0-5l7 0l0-7l4.5-2.5l5.5 0l0-4l5.5 0l0-9l3 0l0 3l8.5 0l0-0.5l9 0l0-5.5l7 0l0-10l8 0l0-12l4.5 0l0-11l3.5 0l0-2l8 0l0-10l8 0l0-6.5l2.5 0l0-3l5.5 1l7 0l0 0.5l8 3.5l7.5 0l0 2l3 0l0-1l6.5 0l0-1l9 0l0-2l6 0l0 1l4 0l0-3l8 0l3.5 0l0 0.5l4-4.5l2.5 0l0-3.5l2.5 0l0 2l3-0.5l3 0l0-1.5l2.5 0l0-1l2.5 0l0 3l3-5.5l3.5 2l3 0l0 3.5l3.5 6l3.5 0l0 2.5l2.5 0l0-2l4 0l0 2.5l3.5 0l0-2.5l2.5-2.5l2.5 0l0 0.5l3.5 0l0 0.5l3-1.5l3 0l0-1.5l2.5 0l0 2l2.5 0l0-6.5l3 0l0 2l2.5 0l0-1l3 1.5l2 0l0-2.5l3-4.5l3.5-3.5l2-5l3.5 0l0-2l2.5 0l0 1l3.5 0l0 0.5l3 0l0-9l3 3l2.5-2.5l2.5-6l2-0.5l3 3.5l3 5.5l3-3.5l3.5 1l3.5 2l2.5-8.5"/>
<path d="M290 968.5l7-72l4.5 0l0-2l2.5-7.5l3.5 0l0 1l7 0l0-10.5l3.5 0l3.5 0l0-6l4.5-9.5l6-0.5l4 0l0-13l8.5 0l0-8l7 0l0-3l4 0l0-23.5l5.5-16.5l4-1.5l8.5 0l0-12.5l3.5 0l0-2.5l7.5 0l0-3l3-32.5l7.5-19l6-27.5l3.5-12l5 0l0-13l3 0l0 1l7 0l0-29l3 0l0-3.5l2.5 0l0-14l6.5 0l0-9l8.5 0l0-21.5l8.5 0l0-3.5l5.5-17l3.5 0l0-8.5l6.5 0l0-32.5l4.5 0l0-10l7.5 0l0-26.5l4 0l0 5l5 0l0-24l3.5 0l0 4.5l5-7.5l4.5 12l5 0l0-13l8.5 0l0-23.5l3.5 0l0-5l3.5 4l5 0l0 9l8.5 0l0-7.5l7.5 0l0-6.5l7.5 0l0-18.5l3.5 0l0 8.5l7.5 0l0-8.5l4 0l0-4.5l6.5 0l0-4l6-7.5l6-11l6.5 0l0-12l5 0l0-4l7.5 0l0-14l7-0.5l4.5 0l0-1.5l3.5-4l7 0l0-3l4 0l0-6.5l6 0l0-2l4 0l0-11l5.5 0l0-7.5l8 0l0-2l7.5 0l0-5.5l3 0l8.5 0l0-1l8-6.5l9 0l0-10l5-14.5l3.5-1.5l7-6l2.5 0l0 0.5l4 2.5l4-9l2.5 0l0-3.5l3 0l0 4l3 0l0-8.5l2.5 0l0 2.5l3 0l0-2.5l3 0l0 5l2.5 0l0 7.5l3 0l0-5.5l3.5-8l4 0l0-4.5l3.5 0l0 4l3 0l0-1.5l3 0l0-5l2 0l0 6l4 0l0-4l2 5.5l2 0l0 9.5l4 1.5l3 0l0-3.5l2.5 0l0-3l3.5 0l0-10.5l2 5l2.5 0l0-3l3.5-4.5l2.5 7.5l3-4l3 1.5l3-1.5l4 0l0 8l3.5-4.5l2.5 0.5l3.5-1.5l2.5 5.5l2.5 3.5l3.5-3l3.5-2l3-3"/>
<path d="M248.5 956l5 0l0 35.5l6.5 0l0-39.5l4.5 0l0-57l7.5 0l5.5-3l6.5 0l0 4.5l8-4.5l5.5 0l0-12.5l3.5 0l0-9l9 0l0-11l7 0l0-20l7.5 0l0 9l8.5 0l0-8l7 0l0-9.5l5 0l0-10.5l8.5 0l0 7.5l8 0l0-0.5l9-20.5l3 0l0-2l5 0l0-8.5l6 0l0-11.5l9 0l0-79l6.5 0l0-25l9 0l0-33.5l6.5-17.5l4.5 0l0 5.5l7 0l0-13l7.5 0l0-18.5l4 0l5 0l0-11.5l3-17.5l8 0l0-1.5l8.5 0l0-13l4.5 0l0 3.5l8.5-6.5l6.5-10.5l8.5 0l0-9.5l6.5 0l0-7.5l3 0l4.5 0l0-24l6-4.5l6 0l0-10.5l6-12.5l4-9.5l4.5 0l0-2.5l4 0l0-14.5l8-6l5.5 0l0 5l3 0l0-7.5l7.5 0l0 3l8.5 0l0-6.5l6.5 0l0-14.5l5 0l0-6.5l5 0l0-2.5l6.5 0l0-5.5l2.5-6.5l7-2l3.5-12l5.5 0l0 1.5l3 0l0-1l3 0l0-7l7.5-7l6.5 0l0-2l2.5 0l0-2.5l3.5 0l0-1l7.5 0l0-6l9 1l5 0l0 4l7 0l0-5l5 0l0-5.5l8 0l0-7l3.5 0l0-5.5l3.5 0.5l8 0l0-8.5l8.5 0l0-4l2 0l0-2.5l4 0l0-1.5l3.5 0l0-2l3 0l0-4.5l3.5 0l0 8l2.5 0l0-2.5l3.5-3l2 0l0-5l3 0l0-4l3 0l0-2l3.5 2l3.5 0l0 0.5l4 0l0-15l2.5 0l0-1.5l3 0l0 2l3 0l0-5l3 0l0-11l3.5 0l0-4l3-11l3.5 0l0 1l2.5 0l0-3l2.5 1l2 0l0-1.5l2 0l0 3l2.5 0l0 1.5l3.5 0l0-3.5l3 0l0 3.5l4-2.5l2.5 0l2.5 0l0-1.5l4 0l0 0.5l3 0l0-1l3.5 2.5l3 1.5l3 2l2-1l3.5 0.5l3.5-2.5l2.5 3.5l2 2"/>
<path d="M365.5 967l6 0l0-11.5l4.5-60.5l4.5-0.5l6.5 0l0-4.5l7.5-18l6 0l0-17l7.5-18l8 0l0-9l6.5-36.5l6 0l0-26l4.5 0l6.5 0l0-15.5l8.5 0l0-23.5l5 0l0-7l4 0.5l7-17.5l6.5 0l0-8.5l9-6.5l8.5 0l0-21.5l4.5 0l0-15l8 0l0-21.5l8.5 0l0-0.5l2.5-0.5l3.5-9.5l3.5 0l0-20.5l7-15l6 0l0-9l5 0l0-15l7 0l0-10l5 0l0-9l8.5 0l0-3l4 0l0-3l5.5 0l0-3l6.5 0l0-1.5l8 0l0-6l8 0l0-4l7.5-20l6.5 0l0-6l2.5 0l0-17l6 0l0-2l6 0l0-9.5l3 0l0-9.5l4 0l0 1l3.5 0l0-3.5l7-6l8.5 0l0-0.5l4-7.5l4.5 0l0 1.5l3 0l0-2.5l3 0l0-1l3.5 0l0-3.5l4.5 0l0-2.5l5.5-12.5l4 0l0-7l6.5 0l0-15.5l3.5-3.5l8.5-4.5l8-6l3 0l0-6.5l4 0l0 6l2.5 0l0-5l3.5-4.5l3 0l0-8.5l3-1.5l3.5 0l0-2l3.5 0l0 4l3-0.5l2.5 0l0 5.5l2.5 0l0-1.5l2.5 0l2.5 0l0-3.5l3.5 0l0-1l3.5-2.5l4 0l0 0.5l2.5 0l2.5 0l0-2l4 0l0-8l3.5-10l2.5 0l0 3.5l2 0l0-3l3.5 0l0-14l3 0l0 0.5l3.5 0l0-0.5l3.5 0l2.5 0l0-8.5l3-0.5l3 0l0-10l2.5-6l3.5 0l0 3l4-9.5l2.5 0l3 0l3.5 1.5l4 0.5l2.5 0.5l4-5"/>
<path d="M239.5 979.5l8 0l0-36l4.5 0l0-53.5l8 0l0-5.5l5.5 0l0-30.5l8 0l0-3l9 0l0-16.5l5.5-10.5l9 0l0-35.5l4.5 0l0-25.5l6.5 0l0-28.5l7.5-3.5l6 0l0 4.5l5.5 0l0 5l4.5-6.5l6 0l0-12.5l8.5-5.5l8 0l0-20l5 0l0-0.5l4 0l0-5.5l5.5 0l0-0.5l7 0l0-9.5l9 0l0-34l3.5 0l0-1.5l3 0l0-23.5l7.5-6.5l6.5 0l0-12l6.5 0l0-1l6.5 0l0-8.5l8-14.5l6-6l5 0l0-9.5l5-1l4.5 0l0-9l4.5 0l0-10.5l6.5 0l0-15.5l6 0l0-10.5l3 0l0-8l7 0l0-14l4 0l0 7l4 0l0-26l3-0.5l3 0l0-4l6 0l0 5l8.5 0l0-14.5l2.5 0l0 8.5l4.5 0l0 3l9-11l7.5 0l0-18.5l7.5 0l0 2l5.5 0l0-10l7 0l0-3.5l5.5 1.5l4.5 0l0-13l5.5-7.5l8.5-20l4.5 0l0-8l3 0l0-0.5l4 0l0-11l4.5 0l5.5 0l0-7.5l5.5 0l0-10.5l7.5 0l0 5.5l8 0l0-17l8.5 0l0-1.5l4.5-4l5 0l0-8l7.5 0l0-7l3.5 0l0 0.5l8-11l5.5-4l5 0l0-19.5l5.5 0l0-5l6-6.5l3.5 0l0 0.5l5.5 0l0-10l7 0l0-4l5 0l0-1l2.5-2l3.5 0l0 1.5l8 0l3 0l0 2.5l3.5-1l4 0l0-3.5l3 0l0 2l2.5 0.5l2 0l0-2l4-6.5l3.5 0l0-4.5l2.5 0.5l2.5 0l0-3.5l4 0l0 6.5l2.5 0l3 4.5l2.5 0l0 4l3.5 0l0 0.5l3.5 0l0-4.5l3.5 4l2.5-1.5l2.5 0l0 2.5l3.5 0l0 1l2.5 0l0-5.5l4 0l0 1l2.5-1.5l3 0l0-6.5l2 3.5l3 0l0 7l4 0l0 6.5l3.5 0l0 2.5l3 0l0 6l3.5 0l0-8l3.5 8l3 1.5l3.5-3.5l3.5 3l3.5 2.5l3-5.5l4-1.5"/>
</g>
<g fill="none" stroke="rgba(128,128,128,0.085)" stroke-width="1.4" stroke-linejoin="round">
<path d="M821 289l2.5-6.5l2.5 1l2.5 3.5l3-1.5l3.5 0l3.5-4.5l2.5-2.5l2.5 5l4 1l3 0.5l4 4.5l3 9l3-7l3.5 3l3.5-6.5l3.5 0l2.5-8l4 11.5l2.5-5l4-2.5l2-2.5l3-2.5l3-3l4-7l2.5 17.5l3.5 2.5l3.5-7l3.5-3.5l3 4.5l4-5.5l3-6.5l2.5 2.5l2.5 1l2-7l2.5 3.5l4-1.5l3.5 1l2.5-9l3-4l3 15.5l3-13.5l3.5-4l2-5.5l3-1l2 7.5l2.5 0.5l2.5-9l1.5 4l2-18.5l2-1.5l2.5 4.5l3 5l2.5-4l1.5-5l3-2l2.5-9.5l3 5.5l2-6l3 7.5l1.5-1l1.5 5.5l1.5 0l2-0.5l2 7.5l2 10l2-12.5l1.5 8l2.5-7l2 17l2.5 9l1.5-7l2-2.5l2.5-5l2.5 0.5l3-5.5l2.5-13.5l2 25.5l2-3l2.5-5.5l1.5 13.5l2.5-5.5l3 1.5l3-9l1.5-1.5l2-5.5l2-4.5l1.5-0.5l2.5 1.5l2.5 14.5l2 1.5l3-4.5l2.5-3l2-5.5l2.5 7l3 14.5l1.5-8l2.5-7.5l2.5 11.5l2.5 1.5l1.5 4l2.5-9l2.5-5l2.5-6l3 5.5l2 6.5l2.5-0.5l2.5-6.5l3-6.5l2 4l1.5 3l2.5 8.5l1.5-2l2.5 2.5l3-13l2-1l2-3.5l2-16l2.5-11l1.5 9.5l2.5-3l1.5 15l2.5-11.5l2.5 6l2.5-9l2 5.5l2-6.5l2 24.5l2-5l2-8.5l2 3l1.5-6.5l3 2l2 20l2 4l1.5-11.5l3-16.5l1.5 2l1.5 3.5l2-4.5l1.5 1l3 2.5l2 7.5l2-9.5l2.5 4l2.5-7l1.5-0.5l2.5-7l2.5 4l2.5 1.5l2.5-5.5l1.5 4.5l2.5-11l2.5-4l3-16l2.5 2l2-1.5l1.5 18l2.5 24.5l2.5-6.5l2-14.5l1.5-2.5l2.5 5.5l2.5 7l3-8.5l1.5 5l2-7l2.5 0l2.5-12l2.5-6.5l3-2l1.5 5.5"/>
<path d="M823 255l4 1l2.5-1l3-6l2.5-2l2.5-5l4 2.5l2-9.5l3.5-4l4-2.5l3-2l3.5-3l3 4.5l2.5-3.5l3-7l2.5-9l2.5-5.5l2.5 3l4 3.5l3 4.5l2.5-5.5l3.5 8l2.5-3.5l4-5l3.5-3.5l3.5-4.5l2.5 2l2.5 0.5l2.5-11l2-4.5l2.5 5l3 5l4-7.5l3 13l4-2l3.5 1.5l2 5.5l3.5-11.5l2-9.5l2 6l4-10l3-8.5l2 1.5l2.5 3l2.5 2l2-1.5l1.5-3l2.5 0l2-11.5l2.5-2.5l2.5-7.5l2-3l2.5 11.5l2.5 12l3-1.5l2.5 0l1.5 6.5l2.5-16l2 3.5l1.5 11l1.5 2.5l2-3.5l3-6l2.5 7.5l3 2l2.5 6.5l2-12.5l2 1.5l2-10l2 10l2.5-1l2.5 5l1.5 3.5l2 1.5l2-14l2.5 6l2.5 0.5l3 7l1.5 0.5l1.5-4.5l2-12.5l2-7.5l2.5 5l3-8.5l2.5-7l2-6.5l1.5 3.5l3 3.5l3-13.5l2 4.5l2 11.5l2.5-11l2-8l3-1l2 8l2-8l1.5 8.5l1.5-5.5l3 0l2 2l3 20l2-15l2-5l2.5-3l2.5 4l1.5 11l2-17.5l2.5 14.5l2.5 1l2.5 9l1.5 1l3 0.5l2.5-10.5l2.5-17.5l2 22l2-2.5l1.5-6l2-1l1.5-0.5l2 2l2-3l2 9l2-6.5l3-4l1.5 6l1.5 12.5l2.5-3.5l2.5-7l2 2.5l2-3l2.5-1.5l1.5 14l3 0.5l2.5-10l2 13l1.5-2.5l3 5l2 4.5l2.5-1l3-4l2.5-3l2.5-15.5l2.5 2.5l2.5-1.5l2.5 10.5l2-0.5l2-17l2 8.5l2.5 6.5l3-9.5l1.5 11.5l2-4.5l2-7l2 5l3-6l3 2.5l3-9.5l2.5 1.5l1.5-13.5"/>
<path d="M821 333l2.5 2.5l4-5.5l3.5-3.5l4 3l2.5 1l2 0l3.5 7l3-10l3.5 5l4 10l4 5.5l2.5 3.5l3.5 1l2 0l3 4.5l2.5-15l2-7.5l2 3.5l3-4.5l2.5-9l3.5 6l2-11.5l2-5l3.5 1.5l3.5-10l3.5 3l3.5 7l3-1l3-13.5l3.5 1l2.5 3.5l2.5 11l3-12.5l2.5 7.5l3-9l2.5 6.5l3-16.5l3.5 1l3.5-4.5l3 5l2.5-4l3.5-17.5l3.5-1.5l3 2l2.5-3.5l2.5 14l3-9l2.5-4.5l3-1.5l2.5 0l2.5 3l2.5-9.5l1.5-2.5l2.5 6l2.5 1l1.5 3.5l2.5-0.5l2.5-1l3 18.5l2-6l2.5-8l2.5 4l2.5 1.5l2.5-9l2-9.5l2.5 12.5l1.5 8.5l2-4l2-2.5l2-4l2.5 6.5l3-9l1.5 4l2-15l1.5-11l2.5 3l2-7l2.5 9.5l2 2.5l1.5 14.5l2-8.5l2.5-3l1.5-1.5l3-3l2-8.5l2 3l2 15l2.5-4l2.5-2.5l1.5 4l2-20.5l2.5-7.5l3 3.5l2-2.5l3-2.5l2.5 10l2 4.5l2.5 12l2.5-9l2 0.5l3-7.5l1.5-5.5l2 4.5l3-6.5l2-13.5l2.5 13.5l3 0l2.5 3.5l1.5-3l2.5 12.5l2.5-23l2-11l3 7.5l2 6l2 10.5l1.5-5l1.5 3l2.5 6l3-17.5l1.5 10.5l1.5-13l2.5-1l2 9l2.5-11.5l2.5-2l3 3l3-6.5l2.5-9.5l1.5 12.5l1.5 1.5l2.5 7.5l3 4l1.5-4.5l2.5 3.5l2-7.5l2-12l2 13.5l2 11l2 0.5l1.5 11.5l2.5 0l2 1.5l2.5-0.5l2.5-10l3-5.5l2-1l2.5 13.5l2.5-12.5l2.5 7.5l2.5 14.5l2-16l2.5 8.5l2-10.5l2 17l2-11.5l2 22.5l1.5-22.5l2.5 1.5l3-1l3 1l2 11.5l1.5-8l2.5 5l2 12.5l2-2.5l3 14.5l2.5-15.5l2.5-3.5l1-0.5"/>
<path d="M821.5 223l2.5-4l2.5 9.5l3-8.5l3.5 3l2.5-3.5l3 12.5l3 2l3-5l3.5 4l3-2l2.5-11.5l3.5 5l3 5.5l3.5 3l2-12l2.5 5.5l3.5-9.5l2.5 6l4 7.5l2.5-6.5l2.5 3l3.5-2.5l2.5 6l2.5 5.5l2.5 8.5l3.5-11.5l2.5-1.5l3 5.5l3.5-4.5l3.5 1l3.5 3l4-13l2.5-1.5l4-10.5l3 2l2.5 2l2-9.5l2.5 10l2.5 2.5l3.5 1.5l3 3l2 9.5l4-2.5l3-6l2.5-8l1.5-9.5l2-6l3 0.5l2.5-7.5l2 12.5l2.5 0l2.5-0.5l2.5 0.5l1.5-3.5l2 20.5l1.5 0l2.5-5l1.5 6l2-15.5l2.5 5.5l2-2l3-4.5l2 5l1.5 17l1.5-8l2.5-0.5l2 8.5l2 1l2.5-7.5l2-18.5l2.5-7l1.5 6.5l2.5-5.5l3 16.5l2.5-8l2.5 3l3-8l2 0.5l2 9.5l2-8l2.5 9l2.5 11l2-3l2 8.5l2.5-10.5l1.5-11.5l3 2l2 2.5l1.5-6l2 12.5l2-9l2.5 15l1.5-0.5l2-9l2-6l3 12l1.5 5.5l2-9l1.5 16.5l1.5-1l2 5l2-5.5l3-4.5l1.5-12.5l2.5 11l2.5-19l2 0.5l2.5 0.5l2-7l1.5-9.5l2 13l2.5 6l1.5-14.5l2 7l2.5 0l2-6l2.5-3.5l2 14.5l1.5 4.5l3 16l1.5-9l2-10.5l2.5 3l2 3l3-11.5l1.5-2.5l2.5 6l2.5 6l2 2l2.5 5.5l2 8l2-2l3-2l1.5 7.5l2-12l2.5 7.5l2-3.5l2.5-2.5l2-14l2.5 4l3 3.5l2.5 4.5l3-1l2.5-5l2 7.5l1.5 1.5l2-4.5l1.5 7l2-0.5l2.5-5l2.5-18.5l2.5 7.5l2 8.5l2-30l2 2l3 10l1.5 4.5l2 0.5l2.5 6l1.5-3.5l3 9l2 1.5l2 1.5l1.5-9l2-2.5l2.5 6.5l2 11l1.5-12.5l2.5 3.5l2-5.5l2.5-2l0-1"/>
<path d="M821 360l3-3l2.5-6.5l2.5-8.5l2.5 13.5l3-6.5l2-8.5l3 8.5l3-10.5l2 5l2.5-11l4-11l3-4l2.5-4.5l3-10l3.5-13.5l2 11l3 10.5l2.5 2.5l3-2l3.5-6l2.5-12l2.5 2l2-9l3.5-11l2 0.5l3 3.5l3.5-3l4 3.5l3-5l2 6l3-9l2.5 7.5l3-3l2.5 3l2-3l4-1l3.5 7.5l2.5 0.5l3.5-1.5l2-3l3 7.5l4-11l4 0.5l2.5 7.5l3.5 2.5l2-9l3 7l2 3.5l1.5 1.5l2 4.5l2.5-9.5l2 11.5l3 2l2-6.5l2.5-3l3-7.5l2.5-7l1.5-16l2 2l1.5 3l2 2.5l2.5 9l2-16.5l2 2l1.5-5l2.5-2.5l2-12l2.5 4.5l2.5 7l2 1l2.5-10l2 0l2-5.5l2.5 7l2-5.5l2 13l2.5 2l3 15.5l2.5-2.5l2.5-5l3-9.5l1.5-6.5l3 2l1.5-5l3 14.5l2.5-15l2.5 6l2.5 11l3-6l1.5 4.5l2.5-11.5l1.5 9l2.5 1.5l1.5 8l2.5-7.5l1.5-6.5l2.5-16l2.5 4l2 9.5l3-10l2.5 8.5l1.5 1l3 1l1.5-19l2.5 3.5l3 7l3 7l2 1l2 4l2.5-10l1.5 1l2 15l2-16.5l2 0.5l1.5 4l2.5 1l1.5-1l2.5-4l2-5.5l2.5 5l2.5 1.5l2 8.5l3-24.5l2-7.5l3 1l2.5 6.5l2.5-2.5l3-7.5l2.5 1l2-4l2.5 6l1.5-6l2.5-8l2.5 5.5l2.5-1.5l2-6l1.5 17l2.5-5.5l2.5-10l1.5 1l2-4.5l1.5-5l2.5 0.5l1.5 4.5l1.5 2.5l2-8.5l1.5 6.5l1.5 1l1.5-21.5l2-14.5l2.5-5.5l2.5 15.5l2.5 15l2.5-14.5l1.5-4.5l1.5 12l2 17.5l3 0.5l2.5-9.5l2.5-8.5l2.5-1.5l2.5 17l0.5 5.5"/>
<path d="M821 211.5l2.5-3l4-3l3.5-8l2 1l3.5 8l2.5 4.5l4-7l2-1.5l3.5 10l2.5-1.5l3 1l2.5 1l4 11l2.5-14l3.5-6l4-1.5l2-1l3.5 2.5l2-9.5l3.5 0.5l4 6l2-9l4-5l2.5-2l3-5l4-13.5l2.5 2.5l2.5 12l2.5-1l4 5l4-4.5l3-5.5l3 2.5l3-8l3.5 10l2 0l4-2.5l3.5 1.5l3 5.5l3-14.5l4-5.5l2.5 6l2-1.5l3 1.5l2 1.5l2.5 1.5l2 1.5l2.5 1l2-2l3-10.5l2 19l3-8.5l2.5-9l2.5 0.5l2.5-0.5l2.5 0l1.5 3.5l2.5-11.5l2.5 0l2 0l2 11.5l3-5.5l2 13l2-9.5l3-8l2-7l1.5-7.5l2.5-1l2 3.5l3-3l2.5 5l2.5 3.5l2 1l3-7l2.5 11l2-4.5l2.5-4.5l2.5-6.5l2.5-4.5l3 3.5l2-4.5l2.5-3.5l2-3l2-6l3 4l2-6l2.5 11.5l2.5-0.5l2.5 9l2 0l1.5 6.5l2.5 1l2.5-17.5l2 13l1.5 8l2.5-1l1.5 4l3 2l2-0.5l2.5-13l2.5 10l2.5 7.5l2.5-2.5l2.5-13.5l2 6l2.5 7l1.5-2.5l1.5 22l3-8.5l2.5 1l3-20.5l1.5-2.5l2.5-13.5l2.5 2l2 6l2 2l2.5 2l2-13.5l2 12.5l2-6.5l2-6.5l2.5 2.5l2-2l3 0.5l2.5 10.5l3 1.5l2.5-3.5l2 1.5l2-1.5l3-6.5l1.5 2.5l2.5-11.5l2.5 16.5l1.5-4l2-0.5l2.5-3.5l2.5 0l2 21l2.5 11.5l2.5-1.5l2.5-13l2 2l2.5 11l2.5-4l3 0.5l2-1l2.5 0.5l2-8l1.5 9.5l1 9.5"/>
<path d="M822.5 284l2.5 5.5l4 1.5l4-9l3-3l3.5-6.5l4 5l3.5 1l3.5-6l2.5 9l2.5-5.5l2-10l3 0.5l2-4l3-2l4-3l4-10.5l2-2.5l3.5-2.5l2 6.5l4-9.5l2 3l2-1.5l3-6.5l2 1l3 5l2.5-6l3.5-3.5l4 2.5l3 11l3-2.5l4-3.5l2.5-5l3.5-1l3.5 1.5l2 2l3 2l3 5.5l2.5 4l3.5-1.5l4-0.5l3.5 12.5l3.5-16l2.5 2.5l2.5-13l2.5 7l2-0.5l2.5-7l2-7l2 5l2-14.5l2 9.5l2 0l3-14l2.5 1.5l3-2.5l2.5 16l2-14l2 0.5l3-8l1.5 4.5l2.5-0.5l2.5 0.5l2.5 4.5l2.5 7.5l2.5-2l2 5.5l1.5-13.5l3-8.5l2.5-7l2.5 3.5l2.5 9.5l1.5 11.5l2.5 1l2-3.5l2.5-4.5l2 2l1.5 11l3-4l3-5.5l1.5-22l3 6.5l2.5 6.5l2-1l2.5-3.5l2 6l2-0.5l2-1.5l2.5 6.5l2 6l2.5 7l1.5-24l3 8l2-5.5l1.5-3l2.5-6l2 5.5l3-3.5l2.5-11l2.5-5.5l2-13.5l2 5l2 13.5l2-3l2 28l2.5 4l2.5-3l2.5-6.5l2-4.5l2 4l1.5-7.5l2.5 1.5l2-4l2 6.5l2.5-14l2-0.5l3 20.5l3 14.5l1.5-1l2-7.5l2.5-5.5l2 7.5l2.5 0l2.5 5l3 0.5l2.5-24.5l2 5l2.5-7.5l2.5 4.5l3-1l2-5l1.5 11l3 12l2 7.5l2.5 5.5l2.5-7.5l2.5 2.5l2.5-12.5l3-2.5l3 5.5l2.5-19l2 13.5l2-13.5l2-7.5l2 2l2-14l2.5-5.5l1.5-8l2 4l2-5.5l2-1.5l2.5 18.5l1.5 0l2 4.5l1.5 3.5l2.5-9l2-2l1.5 18l3 1.5l2 0.5l3-12l2-12.5l2-1l2 24l1.5-4l3 11l2 17l1-3.5"/>
<path d="M822.5 315.5l2.5 0l3.5-10.5l3 0l3.5-5l3 8l2.5-0.5l2.5-5.5l3-8l3.5 0.5l3 2.5l3-4.5l4-1.5l3.5 4l2.5 9.5l4-2.5l3.5-1.5l2.5 3l2.5 2l3-4.5l3 3.5l3.5-2l2 11l3.5-3l4-7l3 12l2.5-15l4-3l4-11l2 12.5l3-10.5l3 5.5l2.5-1.5l3-1.5l3.5-3l2.5 4.5l3-5.5l3.5-5.5l3.5-0.5l2.5 9l2-2.5l3 12l4-10l2.5 3l2-3l2.5-2.5l1.5 3.5l2.5 7l3 4.5l2-7l2 2.5l2 4.5l1.5-4.5l2.5-7.5l2.5-12l1.5-1.5l1.5 12l2.5 4l2.5 8.5l1.5-8l2.5-9l2.5-2l2.5-4.5l2.5 14.5l2.5-10.5l2-18l3-4l2-2l1.5 3l2.5 0.5l2-3.5l2.5-6l2-3.5l2.5 9.5l2 1l3 3l1.5 0l2.5-4.5l2 4l3-1.5l1.5-0.5l1.5 4.5l2-6.5l2 5.5l2-1l2.5-15.5l2 2l2 12.5l3-11l3 1l1.5-2.5l3 7l2-7.5l2.5-21.5l3 11.5l2-8.5l2 11l3 8.5l2-16l3-2.5l2.5-1.5l3-10l2.5 11l1.5-10.5l3 2.5l2 4l1.5-21.5l2 17l2 20.5l1.5 1l2.5-6l3 11l2-8.5l2-5l2.5 9l2-19.5l2 1.5l3-6.5l1.5-5l2.5 6l2 1.5l2.5 19.5l1.5-9.5l3 14.5l2-14.5l3-16.5l2-3l2 3l2 0.5l2-2.5l2-0.5l3 14l2 9l3-4.5l2.5-2l2 7l2-19l2.5 1l2.5-6.5l2.5 17.5l2-7l2.5 11l1.5-1l1.5-9.5l2-15.5l2 22.5l1.5 2l3 0.5l2.5-19.5l2.5-2l2.5 11.5l3 5.5l1-27"/>
<path d="M823.5 279l2.5 3l2.5-4l2.5 0.5l2.5 5l3 0.5l2 8l2.5-4l3-6l2-0.5l3 1l2 2l2.5 0l2-3.5l4 1l3.5 3l4-2.5l3.5-12l3-2l3 1.5l3-1.5l3.5-4.5l4-0.5l2.5 9.5l3.5-8l4 6.5l4-8.5l3.5 7.5l3-8.5l4 0l3 5l3.5-8l2 1.5l2.5-8l3 6.5l3.5-8l2.5-8.5l3.5-2.5l3-4.5l2.5-10.5l2 8.5l3-0.5l3.5 1.5l4 4l2.5 2l2 3l2.5 9.5l2-2l2-1l2.5 0l2 6l2 11.5l2-7l3 0l2.5 1.5l1.5-5l2-6.5l2.5 16.5l2-11l3 0.5l2.5 6.5l2.5 4l2.5-3l2.5 10l2-11.5l2 9.5l2-8l1.5 8.5l1.5-7l2-15.5l1.5 0.5l2 7.5l2 1l2.5-8.5l2.5 1.5l1.5-11l2.5 19l2.5-7.5l3 2l1.5-4l2 7.5l3-4.5l2 9.5l2.5 1.5l3 1.5l3-14l1.5-9.5l2-1.5l3-4l1.5-1l2-5.5l3 8l1.5 0l2.5-11.5l2.5-12.5l2.5-5l1.5-2.5l1.5-8l2 1.5l2 14l2.5 1.5l1.5-4.5l2 6.5l3 1.5l2.5-4l2.5-7l2 6.5l2-20l2.5 20l2 4.5l3-14.5l2 11l3-7l1.5-6l2.5 10l3-4l3-4l2 9l2.5 3.5l2.5-8l2.5-0.5l2 5l3-16l1.5-9l3-2.5l2 14.5l2.5 0.5l2-7l2.5 7l1.5 2.5l3-12l2.5 1.5l2-2l2.5-15l2.5 16.5l2-5.5l2.5-4l2.5-0.5l2 14l2.5-9l3-2.5l2.5-25l3 13l1.5 3l3 8.5l3-2.5l2-6l3 6.5l1.5 3.5l2 7l2-0.5l1.5 6.5l2-6.5l2 2.5l3-5l2 1l3-0.5l2.5 18.5l2-7l1.5 3.5l2-12.5l2.5-3.5l2.5-6.5l2.5 5l1.5 5"/>
<path d="M823 282.5l2-5l2.5-3l2-0.5l3 8.5l3.5-1l2.5 1l3.5 3.5l2 3.5l3-1l2.5-2l4-0.5l2 3l4-5l3 1l2.5 5l2.5-5.5l2.5-0.5l3 5.5l3.5-2.5l3 1l3.5-3l3.5-5l3.5-3.5l3.5-0.5l3 9.5l2 5.5l3-8.5l3-10l2.5 6.5l3-2l3 5.5l3.5 2l2.5-7.5l2.5 2.5l2 2l4-6.5l3-4.5l3 17l2-9.5l2.5 2l3.5-11l4-6.5l2.5 13.5l3.5-0.5l2 9l1.5-10.5l1.5 3.5l1.5-9l2-7l2.5 8l2.5-4l2.5-13.5l2-21.5l2.5-1.5l1.5 6l2 12.5l3-8l2.5-3l2.5 3.5l2.5 8.5l2 0.5l2.5-11.5l2.5 8l2.5-1.5l2.5 5l3-4l2.5 18.5l3 3.5l1.5-3l1.5-13.5l2 5.5l3 3l2.5 4.5l2.5-13l2.5-4l2.5-1.5l1.5 4l2.5-3.5l2.5-9l3-11l1.5-1.5l3 5.5l2-12.5l2 1l2.5 8.5l2.5 9.5l3 4l2-7.5l2.5-3l1.5-8l3-8l1.5-1l2.5 9l2-13l1.5 10.5l2 0l3 3.5l2-3.5l2-9.5l1.5 21l2.5-5l2.5-11l2-3.5l2.5-8.5l2 7l2 2l2.5-13.5l2 8.5l2.5 5l3-14l2.5-5.5l2 7.5l2.5 1l2.5 2l2-13.5l3 13.5l1.5 11l1.5-6l2.5-4.5l2 6l2 10.5l2-4l2-7l3 5.5l2-7l2.5 16.5l1.5-8l3 10l2-4l2-15l3-14l2 15l2 1.5l2.5 6l2.5-13l2-10.5l2-3l1.5 2.5l1.5 8l2.5 11l3-2.5l2-6.5l3-4l2-7.5l3 11l1.5-8l2-0.5l2.5 1.5l3-7l3-1.5l2.5 8.5l1.5 16.5l3-13.5l2.5-4l3 6.5l2-0.5l3-1l2 1.5l2.5 9"/>
<path d="M821.5 269l2.5-1.5l4-5.5l2.5-0.5l2.5-7l3 16l2.5 2.5l3.5-1l2.5 0.5l2.5-6.5l3.5-3l3.5 0.5l2-0.5l3-2l3 1l3-3.5l2.5-1l3.5 5.5l3.5 4.5l3.5-4.5l3.5 3l3-4.5l3 5l3-6l2.5 4l2-3l2.5-8.5l2-11.5l3 0l2.5-11.5l4 9.5l4 3.5l3.5 3l3.5-4.5l2 10l2.5 7.5l3.5-6.5l3.5-4l2.5 7.5l2.5-16.5l2.5-4l3.5-9l2.5-7l3 5.5l3.5-3.5l2.5 1.5l3-4l2-1.5l2-2.5l3 6.5l1.5-8.5l2.5 11.5l1.5-4l2-5l3-17.5l2 18l1.5 3l2-2l2.5-0.5l2.5 1l2-20l2.5 1.5l3-4.5l2-8l1.5-2l3 19l2 10l2 17.5l2-21.5l2 2.5l3-5.5l2.5 5l2 4l2.5-4l1.5 4l2.5 7.5l2.5 2l2-15.5l2.5 4.5l1.5-7.5l2 19l2.5-1.5l2 0.5l2-5.5l2 1.5l2.5-5l2-3l2.5-1.5l2 0l2.5 1l1.5 1.5l1.5-2l2-18l2.5 5l2 6.5l2 7l3 6l2-8l1.5-1.5l2 7l2 8l3-9l1.5-7l2.5-12.5l1.5 5.5l3-2l2 6.5l2.5 7l2 2.5l2-22.5l3 19l1.5-9.5l2-0.5l2 3l2.5 7.5l3 0.5l2.5-6l2 0l2 4l2.5 7l2 2l2 10.5l3 6l2 1.5l3-5l1.5 5.5l3 3l2-6l2.5-2l3 0l2.5-5.5l2.5 6l1.5 9l2.5-10.5l3-18l1.5-6l2 5.5l2.5-15.5l2-1l2 4l2 11.5l2 4l2-8l1.5 4l2.5 6.5l3 5.5l1.5 0.5l1.5-1.5l2.5 4.5l1.5 0l2-4l2 1l2.5-8.5l2.5-12l3 15.5l2.5 7.5l2.5-7.5l3-3l2-25.5l2 13l1.5 1.5l2.5 2.5l2.5-1l2.5 12l2 2.5l2-5l2-9.5l2-9l3 8l2-15l2.5 2l0 15.5"/>
<path d="M822.5 301.5l3.5 0l3-0.5l3.5-5.5l3-5l3.5-1.5l2 4l3 2.5l3.5 4l2.5 1l4-4l4-6l3 4l4-1.5l2-2.5l3-11.5l4-3l2 2.5l3.5 0.5l2.5-7.5l3 1l2.5-9.5l3.5-1l4 4.5l2 5l2 3.5l3.5-11.5l3 8l3.5-7.5l4 4l3.5-4l2.5 4l2.5 2l3-1l2.5-3.5l3-8.5l3.5 10l2.5 1l4-3l2 4.5l2-4l4-1l3.5-9.5l1.5 4l3-4.5l2-6.5l2 12.5l2-11l2.5-6l2.5 5l1.5-1.5l1.5-11l1.5-3l2 5.5l2 2l2-4.5l2 12l1.5 4.5l2 15l2 1l2-9.5l2 8.5l3-1l2.5-5.5l2 0.5l1.5 2l2.5 3l1.5-1l2.5-2.5l2-7l3 4.5l2 18l2.5-11l1.5-16l2-2l1.5 2l3 8.5l3 7.5l2.5 1l2.5-19l2.5 0.5l2.5 6.5l2.5 2l2-4.5l3-3.5l1.5-13.5l2.5 1l2 0l3-1.5l1.5 4l2 6l3-12l2-6l2 2.5l2-6l3-10l2 3l2 12l1.5 10.5l3-17l2-10l2.5-3.5l1.5-5l2.5 14.5l2 3.5l3 0l2-11.5l2.5-1l1.5 12.5l2-1.5l2.5-2l2-8.5l1.5-8.5l3 7.5l1.5 17l2.5-0.5l2-9l2-3.5l2.5 5.5l1.5 0l3 5.5l1.5-8l1.5 9.5l2.5 4.5l2-11.5l2.5 2.5l2.5 1.5l3-0.5l2.5-18.5l2.5 4l3 4l2.5-8l3 1.5l2.5 0l2 0.5l2 1.5l2.5 4.5l2.5 0l2 5.5l2-8l2 12l3 5.5l2-5.5l1.5-10l2-6l3-15.5l1.5 18.5l3 7.5l1.5-3.5l2-4.5l2.5 0l2-24.5l3 14.5l2 16l2-3.5l3-1l2-2l2.5-16.5l3 19.5l2 18l1.5-6.5l3-7.5l1.5 8.5l2-24l2 15l3-13.5l1.5-8.5l2.5-7.5l2.5 2l2 0.5l2.5 8l0 4.5"/>
<path d="M822.5 288.5l2.5-2.5l3.5-2l2-2.5l3.5-3l3 0l3.5-1l2.5-1l3-2l2.5-1.5l3-1l3-9l3 7.5l3.5 6l3.5-5l3.5 9l4 2l3.5-12.5l2.5 8.5l2.5-5.5l2-8l3 5l3 1l2.5-7.5l3-1l2 4l4-2l2.5-5l2-2l3 0.5l3-1.5l2-3.5l3.5-3l3-5l3.5 5.5l3-6.5l4 5.5l3-17.5l2-3.5l2-11l3.5-10l2.5-9.5l3.5 11.5l2 0l3.5-0.5l2.5-6.5l2 2l2.5 13.5l2.5-3.5l2.5 0l3-5l2.5 14l1.5-15.5l3 5l2-9.5l2.5 2l2 3l2 8l2-15.5l1.5 6l2.5-5.5l2-0.5l2.5-3l2 7l1.5 14l1.5-4.5l2 5l2.5 5.5l2.5-5.5l2 1l2.5-8.5l2-5l2 14l2-1l2.5 2.5l3 6.5l2.5-5.5l2-5l2.5 12.5l2.5-6.5l1.5 8l2-12.5l2-7l2 1l2-13l3-2l2.5 2.5l2-12.5l3 10.5l2 5l3-0.5l1.5-4.5l2.5 0.5l2 3l1.5-5.5l2.5 3.5l2.5 1.5l2 1.5l2.5-13.5l2-0.5l3-5l2 20.5l2-8.5l2 6.5l2.5 0.5l3-7l2-6l2.5 9.5l1.5 2.5l3-4l2-1l3-1.5l2.5 0l1.5-9.5l2.5 5.5l2 8l2 2.5l2 9.5l2.5 14.5l2.5 5.5l2.5 14l2 2.5l2-6.5l3-4l2.5 1.5l2.5 14l2-16.5l2-3l2 3.5l2-11.5l2-4.5l2 17l2-7l1.5-9.5l2 22l2.5-16l2.5-12l2 4l2.5-4.5l2 1l3 15l1.5 6l1.5-11.5l3-1l2-5.5l2-13l2 2.5l3 6l2-7.5l2 17l2.5-15l1.5 1l3 5l2.5-2l2.5-4.5l2 5l3-1.5l1.5 0l1.5 10.5l2.5-6.5l1 9"/>
<path d="M822.5 337.5l2.5-5l3 2.5l4-6l2-11l3-7.5l2.5-4.5l2-6l3.5-8.5l3-3l2.5 3.5l4 1.5l2-2l2.5-1l2 1l2 0l3-5l2.5-0.5l3.5 7.5l2.5-7.5l2 5.5l3.5 4l2.5 1l3 1.5l2 1.5l4-4l3.5-7l2.5-0.5l3.5 0.5l3.5-4l3 5l4 1.5l3-10.5l2.5 2.5l3 2.5l3-2l2 3.5l3.5 7l3.5-2l3.5-18.5l3-5l3 3.5l3 5.5l3 7.5l3 1.5l2-11.5l2 1.5l2.5-3.5l1.5-8l3 1l2.5 8.5l2.5-0.5l2-5l2-8.5l1.5-11.5l3-3l2.5 1l2-2l1.5 10l2-3.5l3 12l2-6l1.5-7l2.5 10.5l2-5l1.5 16l2.5-2.5l2 1l1.5 0l2 5.5l3 0l2-10l1.5 12.5l2-4.5l1.5-11l2-7l2-10l1.5-7.5l2.5 2.5l2 7l2.5-8.5l2.5 18.5l3-10l1.5 0l2.5-3.5l2.5-9l2 15l2.5-6l2.5-3.5l1.5-4l2.5 6.5l2 4l2 7.5l2.5-6.5l2-3l1.5 1l1.5 14l3 2.5l2.5 10.5l2 5.5l2.5-10l2.5-17l2 12l2-1l1.5-6.5l2.5-0.5l1.5 9l2.5 6.5l2.5 3l1.5-16.5l2 16.5l2.5-8l2.5 11.5l2-11.5l2-19l2.5 12l3 0l1.5 0l2 4l3-3l2-5l2.5-1.5l1.5 12l2-11l2 2.5l2 4l2 3l2-13l1.5 6.5l2-7.5l2-2.5l3-1.5l3-3.5l2.5-2l3 4.5l2.5-6.5l2-6l2-17.5l3-2l2.5 14l2.5-8l2 2l2-3.5l1.5 18l3-5.5l2.5-18.5l2 4.5l1.5-8l3 15.5l3 13l2.5-7l3-18l3 22l1.5-5l2 9l2.5 10l3-4l2 3.5l2-18.5l2 12.5l1.5-15.5l3-2l3-5l1.5-3l2.5 9.5l2.5-10l2.5 8.5l2 1.5l1.5 2"/>
<path d="M822 322l3.5-3l2.5 2l2.5 1l2.5-3.5l4 1.5l2-4l4-4l3.5-1l2.5-4.5l3 3.5l3.5-8l2.5 0.5l2.5 0l3.5-7l3 6.5l3.5 5.5l2.5-10.5l3.5 6l2 0l3-2.5l3-6l3.5-3.5l3-3.5l3.5 3.5l2.5-3l3.5 6.5l3.5-6.5l3.5 3l3 6.5l2.5-6l2.5-3l3.5-5.5l2.5 6l2.5-4l3.5 12.5l3.5-3l2.5-5l4 8l3-1l3-9.5l3.5 2.5l2.5 0l2-1.5l3 1.5l1.5 7.5l2.5-12l3 0.5l2 6l2.5-0.5l2-1l2.5-17.5l2-1.5l2-12l3-3l2.5 2.5l2.5-10l2.5 2l2.5-0.5l2.5 0.5l2-3.5l2.5 0.5l2.5 4l2.5 7l2-9l2 2.5l2-12.5l2 15l2-6.5l2.5 0.5l3 1.5l1.5 11.5l3-8.5l2.5 0l2 8.5l2.5 6l1.5 6.5l1.5-12l2 1l2.5-12l2-5l2 4l2 1.5l2.5 0l1.5-3l2.5 2.5l3-6l2 10.5l3-3.5l2.5 0l2-8l2-4.5l2.5-8l2.5-8.5l2.5 1.5l2.5-10.5l3 8.5l1.5 5.5l2-4l2-12l2.5 0l2.5 10.5l3-4l1.5-12.5l1.5 12.5l2 13l2.5 13l2 10.5l3-12.5l2-1.5l2 0l2.5 8.5l2-8.5l3 6.5l2.5-0.5l2 1l1.5 9l3-10.5l3 9.5l2.5 4.5l2-5l2-3.5l2-2.5l3 3.5l2.5 10l2.5-3.5l1.5 1l2 5l2-10.5l1.5 0.5l2-7.5l2-1.5l2 0.5l2.5 4.5l2-4.5l2.5-5.5l1.5-13.5l2.5 14.5l2.5-6l3 15.5l3-7l2.5 0.5l2.5-3.5l2.5-4.5l1.5-10.5l2.5-14.5l2.5 15l2 2.5l2-5l1.5-3l2.5 8.5l2.5-9l2.5-5.5l1.5 10l2.5-0.5l3-1.5l1.5 6l3-11l1.5-9.5l3 7l2-10.5l0 13.5"/>
<path d="M822 275.5l4 1l4-4l2-1l2.5 2l3.5-5l2 1l3.5-6l2.5 7.5l3 6l2.5-6l3-15.5l3-1.5l2.5 3.5l3 4.5l4 2.5l2-0.5l3.5 1.5l3 4l2.5-8.5l3.5-3.5l2.5-3.5l3-1.5l2.5-8.5l4-3l4-7.5l3-2l2.5 5.5l3-6l3 2.5l3.5-5l3.5-9l2 6.5l4-6l2-0.5l4 1.5l2.5-8l3-1l3.5-10l3-1.5l2-12l3.5 9l3.5 7l2.5 1l2.5-0.5l3 1l1.5-2l2.5-2l2.5 17l2 3.5l2-2.5l2-0.5l2-7l2.5-14.5l3 9.5l2-7.5l2 1l3 7l1.5-4l2-2l2 1l2 9l1.5 1l2.5-8l1.5 4.5l1.5-5.5l3 3l3 8l2 15.5l2.5-13.5l1.5-1.5l3-2.5l2.5-7.5l2 14.5l2 6l2.5-14l2.5 0.5l2.5 1.5l1.5-14.5l3-1l2.5-3.5l3-3l1.5 6.5l2.5 0.5l2.5-9.5l1.5-4.5l1.5 3l2-12.5l3 22.5l2.5 8.5l2 2l2-20.5l2.5 5.5l2 2l1.5-2.5l2.5-5l2.5 1l2.5-3l2 7.5l2.5-9l2.5 7.5l2 7l3-5.5l2.5-6.5l3-3l1.5-3.5l2-8l2-27.5l3 17l3-5.5l2-5l2.5 10.5l2 10.5l2.5 1.5l1.5 5l3-4.5l3-9l2.5 9.5l1.5 2l2-7l3 11.5l2-9.5l2.5 11l2.5-21.5l3 1l1.5 16.5l2.5 5.5l3 6.5l2.5-7.5l3 18.5l2.5-2l2.5-10.5l2.5 5.5l2-3.5l3 3.5l2-2l1.5 7.5l2.5 5.5l2.5-7l2.5 2l1.5 9l2-4.5l3 9l1.5-21l1.5 6.5l3-16l2.5 26.5l1.5-5.5l2-0.5l3-10.5l2.5-14.5l2-3l3 9l2 2l1.5 0l2.5 3.5l2 5l2.5-8l3 5l3 5l2.5 1l2-24.5"/>
<path d="M820.5 300.5l3.5 5l4-1.5l3.5 3l3.5-3l2-0.5l3.5-1l2.5 0l3 0l3.5 2l2.5 0.5l4 2.5l3.5-8l2 1.5l4-1.5l3.5 5.5l3.5 2l3-3.5l2.5 2.5l3.5-4l4-0.5l2.5 6l3.5-1l2.5 10.5l3-5l3 1l2.5 3l4-2l3.5 1l2.5-2l2-15l2 4l2.5-0.5l2.5 0l2-4.5l2.5-12l3 7l3.5 10.5l3-2l2.5-4l3.5-14l3-2l2-8l3.5 10.5l2-1.5l2-7.5l2.5 3.5l1.5-7.5l2 3l1.5 0.5l3-5.5l3-15.5l2.5-7l2 11.5l2 6.5l2.5 9.5l1.5-6.5l1.5 6l2.5 6.5l1.5 4.5l2.5-23l2-4.5l1.5-3l3 10.5l2-1l2 16.5l2.5 3.5l3-7.5l1.5-1.5l2-4l2.5 6l2.5-1.5l2 0l2-4.5l2 5.5l1.5 14.5l2.5 0l3 5.5l2.5-14.5l1.5 6l2.5-4l2.5-0.5l2 1.5l3-1l3 10.5l1.5-7l1.5-5l2-1.5l2.5 2.5l3 11l3-5.5l2.5 6.5l2.5-16l2-10.5l2 8.5l1.5-11.5l2.5 7l1.5-8.5l3 0.5l2.5 22.5l2.5-14.5l2.5-16l2.5 8.5l2-20.5l3 6l2.5 1l1.5 13l2 3.5l1.5 10l3-5l2-6l2 12l2.5-12.5l1.5 7l3-6l3 4.5l1.5-10l2.5-2.5l2.5-8l2 13l2-1l3-3.5l1.5 2.5l3 6.5l2-3l2.5 1l2 5.5l3 1.5l1.5-2l2-5.5l1.5 0l2.5 1.5l1.5 6l3-8.5l2 4l2-1l3 7.5l2.5-11.5l2 8.5l1.5-11.5l2.5-11l2.5 11l2.5-11l2 13.5l2-4l2 2l2-7l1.5 2.5l2 2.5l2.5-1l2-12l2.5 9.5l3-5l2-5.5l1-5.5"/>
<path d="M821 308.5l3-2l3-1l2.5 3l3-4.5l3 1.5l2-2l2 2.5l2.5-3.5l3.5 2l4 6l2 1l2-3l3 10l3.5 0.5l4-3l2 7.5l2.5 4l3.5-0.5l3.5 1l4-1.5l2.5-2.5l3.5-10l3 4.5l2.5-11l3.5 5.5l2.5-5.5l3 0.5l3 0.5l3.5 0.5l3.5-10l2.5 17l3 2.5l4 0.5l3-7.5l3-4l2.5 2.5l2-1l3.5-1l3.5-3.5l3.5 4l3.5-7.5l3.5 10l4-2.5l2-6l2.5 9l3-15.5l2.5 3.5l3-10.5l2 0l2-8l2-2.5l2.5 3.5l2 5l2.5-1l1.5 11.5l2-7l2 8l2 2l2.5-16.5l2-4.5l1.5 5.5l2.5 8l1.5-4.5l2 8l3-3.5l2-7.5l2.5-6l2 11.5l2.5-10.5l2 9.5l2.5-17l2.5-11l2-9l2.5-1l2-2.5l3-2l2.5 4.5l2 16l2.5-7l2-8l3 3.5l2-8l2.5 2l2.5 16.5l2.5-1l2.5 8.5l2.5-3l2-3.5l2.5 4.5l1.5-12l2.5 8.5l2-4.5l1.5-10.5l2.5 4l2.5-5.5l2.5 11l2.5-3.5l3-21.5l1.5-6l2.5 10l3-6l2-1.5l1.5-7.5l2-8l3 3.5l1.5 4l2.5 3l1.5-13l2 12l1.5 7.5l2-12.5l2 5.5l2-9l3 18l2 18l2-11.5l2.5-6l2 4l2.5 9l2.5-9l2-19.5l3 11.5l3-2l2.5 8l3 0l1.5 2.5l3 10.5l3-5l2 1l2-3l2.5-14l2.5 11l2 0l2.5 16.5l2-15.5l2.5 7l3-5.5l2.5-15l2 12l2.5-0.5l2.5-11.5l2 9.5l3-16.5l1.5 2.5l2 12l2.5 1l3-2.5l2-5.5l2-5.5l2 20.5l2.5 4.5l3-8l3 8l2.5-8.5l2.5 6.5l2 1.5l2-19l1.5-2.5l2 7l1.5 5.5l2.5-6l2.5-6.5l1.5 0l1 6.5"/>
<path d="M821 265l3.5 4l2.5 4l3.5 2l3 4l3.5-2.5l4 0.5l3.5-7.5l3.5 4l2-4l2.5 5l3-1l2.5-4l3-5l2 2.5l3.5 2l3-3.5l2.5-5.5l2 9l3.5 1l3.5 6.5l4-2l4 13l3-9l4 2.5l2-5l2 4l2-3.5l2.5-6l2-9.5l3-4l3.5-1l3.5 2l3-2l2.5-6l3-4.5l3.5-7.5l3.5 4.5l3 1.5l2.5-10l3 1.5l3 10l2.5-1.5l4-7l2-11.5l2.5 9.5l2-11.5l2 3.5l2.5 6.5l2-0.5l2.5 23.5l2.5-21.5l2-8l2.5 4.5l2 4l3-20l1.5 0l1.5-8l2-4l2 23.5l2.5-16l2-11.5l2.5 8.5l2.5-8l2.5 22.5l2.5-0.5l3 15l1.5 0.5l2-3.5l2-7l3 9l2 5l2-6l3-3.5l2 8.5l1.5-6l2-27l2.5 6l2-0.5l2 3.5l2 14l3-0.5l2 0l2-3l2.5-5.5l3 5.5l2.5-13.5l2.5-6l2.5 5.5l2.5-1l2 13.5l2.5-15.5l2 1.5l2.5 5l2.5-18.5l2.5 9.5l2 11.5l2.5-19.5l2 12l2-4.5l1.5-8l1.5 15.5l2-14l2-5.5l2-9.5l2.5 1l2 2.5l1.5 15.5l2.5 13.5l2.5 1l3 2l2.5 14.5l1.5-9.5l2-1.5l2.5-6l2-5.5l2 4.5l2.5-6l3 3l2 0l1.5 3.5l2-6.5l2-0.5l2.5-5.5l2.5 14l2-4.5l2-7l2.5 13l2-1l1.5 10.5l2-11l2-7.5l2.5-1.5l2.5-13l2.5-13.5l2 17.5l1.5 10l3-4l2.5-13l2.5-3l2 11.5l1.5-8l2.5 8.5l2 14l2-26l2.5 11.5l1.5-0.5l2-6.5l3 9.5l2 7.5l2-2.5l3-5.5l2.5-11.5l1.5 9.5l2.5 7.5l2-3l2-8l2.5 12l2-4.5l2.5-2l3-6l1.5-11l2.5 8.5l3 3.5l2 20"/>
<path d="M821.5 297.5l2 10.5l2.5-3l2.5-8l2.5 0.5l3 0l4-0.5l4-8l3.5-2.5l3.5-4.5l2-4.5l2.5-6.5l3 0l3 2l2.5-1l2 2l2.5 8l3-6.5l2-1.5l3 3l2.5-6l3.5-2.5l3.5 0l2.5 0.5l2 1l3.5 7l3.5 1.5l4-5.5l2.5-5l3-1.5l3.5 1l3-5l2.5 9l2.5-12l2.5 1l2.5 8.5l3.5-2.5l2 4.5l3.5-5.5l2.5 2l2.5 6l3-3l2 0.5l2.5-1.5l4 1l4-1.5l2.5-5l2-10.5l2.5 2.5l2.5 0.5l1.5 6.5l2 8.5l2.5-0.5l2.5-14.5l2 5.5l2-9.5l3 7l1.5-16.5l2.5 0l2.5 5l3-5l2.5-2.5l2 4l3-6l2.5-4.5l2 0.5l3 4.5l2 3l2.5 13l2.5-10.5l2 3.5l2-1l2.5 5l2.5-14l2.5 1.5l2.5-1l2-1.5l2.5 6.5l3 4l3-8.5l2 1l2 4l2 4l3-6l2.5 8.5l1.5-8.5l3-2.5l2.5-11l3 2.5l1.5 8l2.5-3.5l2.5-1.5l2-10l1.5 5l3-9.5l2.5 8.5l2.5 1l2.5 10l2.5-13l2 3.5l2.5-0.5l2 7.5l2.5 5.5l2-9.5l2.5 9l2.5 3l3-1.5l2-12.5l3 2l1.5 2l1.5-2.5l3 4l1.5 0l2-13.5l2 10.5l1.5 6l2-7l2-1l1.5-7.5l3 6.5l1.5 13.5l2 7.5l2-13.5l2.5 6l1.5-19l2 7.5l2 1.5l2.5 12.5l2-8.5l2 6l3-10l2-7.5l2-0.5l2.5 22.5l2.5-12l3 15.5l3-14l1.5-12l3 8.5l2.5-5.5l2 28.5l2.5-0.5l2-0.5l2-6.5l2-2.5l2 3l2.5-3l3-11.5l2-24l3 6l3 12l2-4.5l2-22.5l2.5 2l1.5-11.5l2-0.5l2.5 23l2-3.5l2-6l2 5l3-12l2 5.5l2 0.5l1.5 10.5l2.5-18l2-1"/>
<path d="M822 293l4-1l3.5-6.5l3.5-5l2.5-7.5l2.5-3.5l3.5-1l2.5-0.5l2.5-3l3 1.5l2 0.5l2.5 3l3.5-2.5l3 4l2 6.5l3 0.5l4 0l2.5 0l2.5-2.5l2.5 0.5l3.5 9l2.5-5.5l3.5 5l4 2.5l2.5 2.5l2.5-5.5l4-9.5l4 1l4-6l3-6l3.5 2l2.5 5.5l2 4l3.5-9l3.5 2.5l3.5-6l3-4.5l3 5.5l3.5-6l3-2.5l2-0.5l4 5l3.5-6.5l2.5 0l1.5 4.5l2.5 9l2-0.5l2.5 0.5l2.5 1.5l2.5-2l3-10.5l2 1l1.5 0.5l2 9l2.5 11.5l2-14.5l1.5 3l2-7.5l2.5-17l2.5 6l2.5 15.5l2.5-1l2.5-18.5l2 5l3-2l2 14l2.5-10.5l2.5 2.5l2-3.5l2.5-4.5l1.5-19.5l1.5 9l2.5-1.5l3 1.5l2 2l2.5-5l2.5-1.5l2-10.5l2.5-8l2 13.5l1.5-1l3 8l2.5 19.5l1.5-15l2.5-5.5l2.5 7.5l3 15l3 0l2-8l2 3.5l2.5-5l3-11.5l2 17.5l1.5-1.5l2-5l2-11l3-2.5l2 0.5l1.5 7.5l2.5-4l2.5-12l2.5 0l2.5 4.5l3 6.5l2.5-9l2-0.5l3-10l2-4l2-0.5l3-11.5l3 9.5l2.5 15.5l2.5-8l3 5l2.5-1l2.5-5.5l2.5 3l2 1l2 1l2-1.5l3 3l1.5 1.5l2.5-1l2-5.5l2.5-5.5l1.5 12l3 18.5l2.5-7.5l2-10.5l2 0.5l2.5 0l2 14l2-12l2.5-7.5l2.5 25.5l2.5-15.5l2-3.5l2.5 1l2.5 23.5l1.5-22l2.5-4.5l2.5 3.5l2 12.5l2.5 4l2-15l2.5-6.5l2-4l3-2l1.5 9l1.5 1.5"/>
<path d="M822.5 274l3.5 0.5l3.5 2.5l3-1l3.5-8.5l3.5 2.5l3 0l3 2l3.5 4l2.5-3l2.5 5l3.5-6.5l3 3.5l3-0.5l2-1l4-1l3-5l4 2l2.5-2l3.5 4l2.5 4l3 0.5l2.5 5l3-3.5l2.5 11.5l3-4.5l3-1l3.5 1.5l2.5-2l3.5-4.5l2.5-1.5l3 3.5l2.5 2l2 6.5l3.5-6l2.5-2.5l3-1.5l3-12.5l2 8.5l3 5l3.5 8.5l2.5 0.5l2.5-0.5l3.5-10l3 5.5l2-19l2.5-4.5l2.5 3l2.5 11.5l3-18.5l1.5 4.5l1.5-8l3-3l2.5-3.5l1.5 18l2.5 4l1.5-8.5l1.5-3l2.5 2.5l2.5 13.5l1.5-16.5l3-8.5l1.5 12.5l2.5-1l1.5 6l2.5-2l3-9l1.5 1.5l2 9l1.5 9l2.5-3l2-10l1.5-0.5l2.5 7.5l2 3l2-1l1.5-9.5l2 15l2.5-10.5l2-3.5l1.5-8l2 15l2-6l1.5-11.5l2.5 3.5l3-12.5l2-8l2-6.5l2.5 8l2.5 9l1.5-5.5l1.5-12l1.5 15.5l3-11l3 3.5l2.5 2.5l2 1.5l2.5-2.5l2-2.5l2.5 20.5l2-13.5l3-18.5l1.5 16l2.5-7l2.5 10l3 12l2.5-7l2 6.5l2 8l3-18l2 4l2.5 7.5l1.5-0.5l3 4.5l2 0.5l2.5-1l2.5-10.5l2-3.5l2.5-14l1.5-5l2.5 12l1.5 3l2.5-9l2 0l3-2.5l2.5-6.5l3-15.5l2.5 0.5l2.5 2l3 9.5l2-10.5l2.5 19.5l1.5-9l2.5 5.5l2-19.5l2.5 0l2-3.5l2 2l3 6l3 18l1.5-4.5l2 1.5l3 0l1.5-4.5l2-5.5l2-7l2 2l2.5 9.5l1.5 10l2-9l1.5-5l2-12.5l2.5 6l2 7.5l3 3l1-3"/>
<path d="M822 297.5l2.5 1.5l2-1.5l3-1l3.5 5l3.5-9.5l3.5-7l2.5-2.5l3-2l2.5 1l3-2l3 4l3.5 2.5l3 0.5l2-6.5l3 0l2 3l2-7l3-1.5l3 3l3.5-5.5l2.5 4l3 1l2.5-4.5l2-3l3 0l3-1l2.5 4l3 8l3.5 4l2 5l2-6l3-5l3-6l3.5-4l4-3.5l2.5-7.5l3.5-4l3-9l3 4l2.5-3.5l2.5 1l4-1l2-7.5l2.5 8l2-6l3 1l2.5 3l2.5 0l2 3l1.5-16.5l1.5 2l3 0l3 0l2.5-10.5l3 5l2.5-12.5l1.5 3l2 8l2.5-3l3-5l2.5-6l2.5-13l2.5 5l1.5 12l2.5 3l2.5-5l3-6.5l1.5-5.5l1.5 12l3 7.5l3-16.5l1.5-5.5l2 4l2.5 6l2.5-6l1.5 4.5l3 0.5l2 1.5l2 1.5l2.5-0.5l1.5-2.5l1.5-2l2.5 2l3 16l2.5-8l2.5-9l2-3l2 6.5l1.5-18l2.5-1l2-6l2 9l2.5 4l2.5-8l3 3l1.5 8.5l2 0.5l2.5 8l2.5-4.5l2.5-10.5l3 5l2-5.5l2.5 4l2.5 10l1.5-6.5l1.5-3l2.5 11.5l1.5 4.5l2.5 9.5l2-13.5l1.5-5l3 2l3 10l2 4l2.5-4l2 9.5l3-4.5l2-12l2.5-5.5l2.5 4l2 5l2 2.5l2.5-5l1.5-8.5l2.5-7.5l2.5 2l2.5 6l2.5 1.5l2 10.5l2.5 6.5l2-23l2-5.5l2-5l2.5 13.5l2.5-5.5l3-4l2.5-2l3 15l3 2l2.5-6.5l3-7l2 8l2.5-2.5l2.5-10.5l3 3.5l1.5-1l2 7.5l2.5-5.5l1.5 14.5l2.5 1l1.5-11l2.5 14l1.5 6l2-13l3-10.5l2.5-5.5l2 13l1.5 16.5l2-8.5l2.5 4.5l2.5-8l2-13.5l2 13.5l0.5-20"/>
<path d="M820.5 288l3 3.5l2.5 1l2.5 6l4-2.5l2-1l2.5-1.5l4 3l3-2.5l3-4.5l3.5-10.5l3.5 4l3.5 9.5l3-6.5l3 7.5l3-14.5l3.5 1l3.5 0.5l3.5-0.5l3.5 0l3.5-1l3.5 6l4 2l2.5-21l2.5-8.5l4-0.5l2.5 8.5l2.5-1.5l2.5 2.5l4 1l3-3.5l2.5 0.5l2.5-18.5l2.5-4.5l3 8l3 1l3.5 5l3.5-0.5l3.5 4.5l2.5 1l2.5 8l2.5-4l2 1.5l4-3.5l3 0l3-12.5l2 0l2.5-0.5l1.5-2.5l1.5 4l2.5-4.5l2-5l2 11l2.5 3l1.5 4l2 5.5l2-2.5l2.5 13.5l3-8l1.5-8l2.5 0l2-6.5l2.5-3l3 9.5l1.5 3.5l2-6.5l1.5-20.5l2.5-6l1.5 14.5l3-3.5l3-6.5l2 6l2.5-7l3 4.5l3-10.5l2 4.5l2 9.5l2-4.5l2 7l2-1l3-1.5l2-4l2-13.5l1.5 0l3-0.5l1.5 11l2.5-20.5l3 1l1.5-3.5l2 3l2-14l2 12l2.5-10.5l2.5-1l2-1.5l2 1.5l2.5 12l2.5-20l1.5 12l2-6l3 6l2-16.5l3 16l1.5 7l2-6l2.5-6.5l2-8l2-5.5l2 3l2.5-5l1.5 6l2 13.5l2-3.5l2.5-3.5l2.5 1l2 11l1.5-7l2 0l2.5 9l2.5-10.5l1.5-3.5l1.5-5l3 20l2-2l2.5-20l2 10.5l2.5-2.5l2.5 2l2.5 3l3 6l1.5-7l2.5 5.5l2-1.5l3 4.5l1.5 1.5l2 7l1.5-10.5l3 11l3 1l2-23l2.5 8.5l2.5-8.5l2.5 7l2-6.5l2 7l2 4l1.5-7l2.5 17.5l1.5-10.5l2-4.5l2.5 0l2.5 18l2-14.5l2.5 2l2.5-8l2.5 4l2-11.5l3-2l2-3.5"/>
<path d="M821.5 242l3.5-6.5l4 0.5l4-4.5l3 11l3.5-2l4-4.5l3.5 2l3 1l4 2l3.5-1l4-5l3-0.5l3 5.5l3.5 2.5l2.5 8.5l2-12l4 13l2-10.5l2.5 10l2 4.5l3.5 1.5l3 0.5l2-4l2.5-6l3-7l3.5 0.5l2-0.5l4-2.5l3-4.5l3.5-14l2-2l4-11.5l2.5 2l3.5-9l3 0.5l3-8l4 5l3-4l4 12.5l4-11l3.5 5.5l3-0.5l1.5 4.5l2-11.5l3-13.5l3 12l2 4.5l2.5 0.5l1.5-7l2 5l3-7.5l2.5-10.5l1.5 1.5l3 6l1.5 3l1.5-1l3-5l2.5 12l2 5l2 5.5l2 3l1.5 0.5l3-2l2.5 11.5l2.5-15l2.5-6l2 3.5l2.5-3.5l2.5 14l3-3.5l2.5 3.5l2.5 12l2.5-15.5l2-4l2.5 5l1.5-6l2.5 6.5l2 8l2.5-4l2.5-11l3 9l2.5-8l2.5 8.5l2-8l2 3.5l3 11l3-1.5l2-12l2.5 9l1.5 13l2.5-4.5l2-10.5l1.5-3l2 1.5l2-14.5l2 16l3-2l1.5 3l3-6.5l1.5-10l1.5-6.5l2 3l1.5-4.5l3 8l2.5-0.5l1.5 12.5l2.5-18.5l1.5-9.5l3-6.5l1.5-1.5l2.5 0l2.5 9.5l2 2l2 2l2.5 4.5l2.5-7l2 11l2-3.5l2.5-8.5l2.5-6.5l3 0.5l2-4l2.5 16l3 13l2-3.5l2 15.5l3-4l2-15.5l2 9.5l1.5 10l2.5-22l2.5-4.5l2 26l2.5-9.5l1.5 13.5l2-7.5l3-0.5l2-4l1.5-11l2 2l2 0.5l3 9.5l1.5 6.5l2-18.5l3 1l1.5 0.5l2.5-3l2-5l2 7.5l2.5-5.5l2 6.5l1.5-6l1.5 7l3 10l2-7l1.5-3.5l2 15l2-14l2-2.5l1.5-19l2-0.5l2.5 5l2.5 4l2.5 0l1.5-17l1 8"/>
<path d="M821.5 270l2.5-0.5l2.5-8l3 5l4 3l3.5-8l3.5 0.5l2.5 6l3.5-17.5l2 5l3.5-2l3.5 12.5l3.5-8.5l4 1.5l2.5 9.5l2.5-6l2.5 3.5l3 1l2-11l4-15l3.5 3.5l3-1l3-0.5l3-4.5l3 12.5l4-4l3-7.5l2-1l2.5 9l3 2.5l2.5-2.5l3 2l3-12l2.5 0.5l3-3.5l2.5 6.5l3 10l2.5 2l4 2l4 7l2.5-6.5l2.5-8l3.5-1.5l4 3.5l2.5 7.5l3-9l2-5l3-3.5l3-9l2 4l1.5-6.5l2-3l2 10.5l2.5-11l2.5 16.5l2.5 10.5l2 5.5l2-5l3-2l2-3l2.5 9.5l2.5-5l2-5l2.5-13.5l1.5 5l2 0l2.5-16.5l2.5 10l2.5 9l2.5 5.5l1.5-11.5l2.5 5l2-11.5l2 2.5l2-4.5l2-11l2 6.5l1.5 3.5l2-3.5l2.5 12.5l1.5-22l3 6.5l2.5 3l2.5 1.5l2.5-4.5l2 0.5l2.5 7l2.5-1l2 7.5l3 15l3-1l1.5 7.5l1.5 1l3-6.5l2-3.5l1.5-12.5l1.5-2l2.5 13l2.5-9.5l2.5-7.5l3-7l2.5 11l2-7l2-12l2.5-7.5l3 0l2.5 17l2-5.5l2.5-12.5l2.5 7l1.5 5l2-10.5l2.5-15l1.5 13l2.5 8l2.5-14l2 9l2.5-17l1.5 10.5l2 7.5l2.5 4.5l2-3l1.5-13.5l2.5-7l2 9l2 17l1.5-13.5l3 4.5l1.5 18l2.5-7.5l2-10.5l1.5-8l2.5-16l1.5 10l2.5-7.5l3 4l1.5 3l2-15l2.5-6.5l2 3.5l2.5 16l2.5 2.5l1.5 2l2-8.5l1.5-6l2.5 3.5l1.5 0.5l2.5-6l2.5 21l2 4.5l2.5-6l2-5l1.5 4.5l2-8.5l2 1l2.5 4.5l1.5-1l2.5-15l2 8l2 9.5l3-4l2.5-10l2 9.5l2-14l2.5 17l2 6.5l0 9.5"/>
<path d="M822 289.5l2 5l2.5-7l2 1l2-3l4-13l3.5-6.5l3-2.5l3 2l2.5 5l3.5-4.5l3-2.5l3.5-3.5l4 0l3.5-7l3.5 2.5l3.5 0.5l3.5 3.5l3.5-4.5l4-1.5l2.5-3l3.5 0.5l3.5-0.5l2-2l3-3l3.5-4l3.5-5.5l2.5-5l2.5 16l3.5 0.5l3.5 12.5l2.5 2l4-6l3.5 4.5l4 5.5l3-9l3-9l3-2l3 10l3.5-1l3-0.5l4-11l1.5-9.5l3-6l2.5 0.5l1.5 22.5l2-11l2-14l2.5 4l2.5-10l2.5-6l2 3l3 5.5l2-4l3 3l2 4l3-1l2.5 2l2.5-0.5l2.5 3l2.5-4.5l2.5-1.5l2 8l2 0l1.5-6l1.5-6.5l2.5-8l2.5 2l2-1.5l3 16l3-6.5l3 12l1.5-1.5l2.5-5.5l1.5-3.5l1.5 0.5l2.5 8.5l2.5 0.5l1.5 6l2.5-9.5l1.5-13.5l2 1.5l2.5 6l3 0.5l2.5-3l2-0.5l2-12l2.5-2.5l2 5l1.5-9.5l2-1.5l2.5-10l2.5-6.5l2-4l3-7l2.5-1l2.5-3l2 4.5l1.5 1l1.5-5.5l2-8.5l2 3.5l2.5-4.5l2.5-10l2 13.5l2-2l3 1.5l2 10.5l2 15l2-9.5l3 3.5l3-15.5l3 4l1.5 5.5l2-13.5l2.5 5l2 1.5l2 14l2.5 0l2-18l3-2l2 0.5l2-11.5l2 7l2 16l1.5 7l3 20l2-0.5l2.5-12l1.5 2.5l2.5-10.5l3 8l3 1.5l1.5 6l2-3.5l2.5-9l3 7.5l1.5 13.5l2-16.5l1.5 8.5l3-1l3-8.5l2.5-0.5l2.5 5l2 6.5l2-9.5l2 3l1.5-17.5l3 2l1.5-3l1.5 15.5l2.5 7l0.5-8"/>
<path d="M822 252l2.5 0.5l3.5 2l4-0.5l4 0l2 0l3-4l2.5 7l2.5 2l3-2l3.5 4l3.5 3l3.5 1l2.5-2.5l3.5 3l3-7.5l3.5 3.5l3-2.5l3.5-4.5l3.5-5.5l3.5-2.5l2.5-5.5l3.5-5l3.5 7l4-6.5l2.5 3l2.5 4l3.5 3l3.5-2l2.5-3.5l3-17l3 2.5l2-7.5l3.5 3.5l3 5l3-9.5l4 10.5l2.5-2l2-2.5l3.5 10.5l3-11l3-1.5l3-2l2 6l2-9l2-3l2 1l2 14.5l2 7l2.5 11l1.5 3.5l2 11l2.5-14l3-12l2-4.5l2.5 9l2.5-4.5l3-3l1.5 1.5l3 6l3 2l2.5-6l3 9.5l2.5-2l2.5-10l2.5-14.5l1.5 9.5l2-6l1.5 5.5l2.5 2.5l1.5-14l2.5 3l1.5 4.5l1.5-2.5l3 11l2.5 0.5l1.5-18l2-3l2 0l2 2.5l1.5-5l3 10l2-1l2-6l3 14.5l2-2l2.5-6.5l2.5 5.5l2-2l1.5 5l2 5l2.5-4.5l2 7l3-2.5l1.5 0l3-19l2.5 9l3-12.5l1.5-9l3-6.5l1.5-12.5l1.5 0l3 6.5l1.5-2.5l3 24.5l1.5-6.5l2.5-13.5l2-11l2 14l2-4.5l3-4.5l2 4.5l2-10l2 8.5l2.5 8l2-3.5l3 10l2.5 5.5l2.5 1l2-5.5l2.5 2.5l2.5-20l2 8.5l1.5 16l2 22.5l2-13l2-15.5l2-6l2.5-5l1.5 12.5l3 10.5l2 3.5l1.5 0l2 18l1.5 1.5l2.5-12l3-4l2-1.5l2-3.5l2 2l1.5 7.5l2-16l1.5 6l2-7.5l2 10l2.5-6.5l3 2l2-8.5l1.5 8l3-8.5l2 11.5l2.5-19l2 12.5l2.5 1l2.5-8.5l2 4l2.5 0l2 7.5l2.5-9.5l0-13.5"/>
<path d="M822.5 251.5l2 2l2.5 2l4 2.5l2-5.5l4-0.5l2.5-0.5l4 8.5l2-2l3.5 2l2.5 2l3.5 0l2 1l3-5l3 0l2.5 7l4 0l3.5 1l2.5-6.5l3.5-2.5l2.5-3l4-8l2.5 4.5l3 2.5l2-6.5l3 3l2.5-5.5l3.5 7l3.5 4.5l3 2l3.5-0.5l3.5 3.5l2.5-4.5l3.5 2.5l2-6.5l2.5 3.5l2.5 3l2.5-13l2.5-8l2.5 1.5l3 6.5l4 4l2.5-21l4 5l3.5 1.5l3-5.5l2 13.5l3-1l1.5-9.5l2.5 6.5l2.5-1l2-22l3 1l2 15.5l2.5-12.5l2.5 1l3-10.5l3 0.5l2.5 5.5l2.5-16.5l2.5 13.5l2.5-6.5l2.5 7l2.5-6l2 3.5l2-2.5l3 1.5l2.5 2l2.5 0.5l2-3.5l2.5-0.5l2-3.5l3-9.5l2.5-1.5l2 3l2 0.5l2.5 2.5l2 2.5l2.5-4l2 6.5l2.5-9l2.5-12.5l2 3.5l1.5 1l2.5 19l2.5-6l2.5 1l3-5l2-3.5l3-9l2 12l2.5-1.5l2.5-1.5l2 9.5l1.5 11l1.5 0.5l2-6l1.5 4.5l1.5 3.5l2.5 6l2-7l2.5-10.5l2.5 12l2.5 12.5l2.5-5.5l2.5-6.5l2.5-2l2.5-10l2 5.5l2.5-3.5l2 15l2.5 4.5l2 0.5l2.5 6l3-4.5l1.5-1l2 5l1.5 11.5l2-6l2.5-3l2-2.5l2.5 0.5l2.5-12l2 4l1.5 12.5l2.5-7l2-18.5l3-10l2 0.5l2.5 2.5l2 14.5l3-11.5l1.5-5.5l2-9.5l1.5-0.5l3 0l2.5 17l2.5-15.5l2 7l1.5-12l1.5-1l3 2l2.5 7.5l2-12.5l2.5 2l2.5-7.5l2 7l2.5-6l2 11.5l1.5-7l2.5 5l3-14.5l2.5 7l1.5-5l3-11l2-7.5l3 4.5l2 9l2-1l3 11l0 7"/>
<path d="M821 243.5l2.5-4.5l3.5-5.5l3.5 3.5l3 5.5l3.5-3.5l3.5 5.5l3-5.5l3-7l3 4l2-7.5l3.5-3.5l2 11.5l3 3.5l4-3l2 1.5l3-3l2.5-3l3.5 0l2.5 6.5l4-2l2-4l3-2.5l4 0l3.5 1l4 11l2.5-13l2-0.5l3 10l3 0.5l4-14l3.5-15.5l3.5 7l3.5-8.5l3.5 9l2.5 4.5l2.5-3.5l2.5 13l2.5-9l3 2.5l3.5-12l4-9l3 9l2-14l2 10.5l3 7l2.5-1l1.5-4.5l1.5-4l2 8.5l2.5-4l2-13.5l1.5-2l1.5 19.5l3 11.5l2 3l2.5-3l3 10.5l2-5l2-15.5l3 10l2 2.5l2.5-19.5l2 10.5l3-8l3-11l2-4l1.5 12l3-2.5l1.5-0.5l1.5-6.5l2 5l2.5 16l3-3l1.5 10l2-2.5l2 1l3-14.5l2.5 8.5l2-9.5l2.5 17l2-3.5l1.5 0.5l3-8.5l2-9.5l2 5.5l2-15l2.5-3.5l2.5 12l2.5 6.5l2 7l1.5-2.5l2.5-7.5l3-15l2.5 7l2.5-7l2.5 3l1.5 3.5l2.5 3.5l2-2.5l2.5 3.5l1.5-12l1.5 2l2-10.5l1.5 0l2 5l2-3l2-3.5l1.5-0.5l3-5.5l1.5 5l2.5 1.5l2-11l2 7.5l2-6l2.5-11l2.5 13.5l1.5 6l2 14l2.5-13l3-2.5l2 4.5l1.5-9l2 11l2 0.5l3 2l1.5-1.5l2 23l2 2.5l1.5-15l2.5-1l2.5 1l3-8.5l3-13.5l1.5-12.5l2 23l3-8.5l1.5 15l2 5.5l3-26l3 4l1.5-21l2.5-2l2.5 4.5l3 5l2 12l1.5-2l2.5 7l3 1l1.5 11.5l2.5-9.5l3-9l3-1l2-9l1.5 6l2.5 3.5l2.5-5.5l3 6l1.5 2.5l2.5-6l3 7l2-4.5l1.5 4.5l2.5 3l2-3l2.5 1l2 0.5l1.5 3.5l2.5-0.5l2.5 7.5l2.5-14.5l1.5 1l2.5-22l2 6l1.5 10.5l1.5-13"/>
<path d="M821.5 267.5l3-3l3-11l3.5 2.5l2 1l3.5 2l3-5l3.5-4l3.5 2.5l2-3.5l2.5-2l2 3.5l3-1l2.5-5l4 0.5l3.5-7.5l2.5 6.5l4-5.5l3.5 2.5l3.5-7.5l2 5.5l3.5 2l3.5-2l3.5 1l2.5-3l4 2l3 3l2.5-3.5l3.5 2.5l2.5 8l3-3l2.5 0l3-7l4-0.5l2-12l4-2.5l3.5-4.5l2 5.5l2.5-1l2 8.5l3.5-2.5l3.5-5l4 14l3.5-9l2.5 0l2.5-12l2 18.5l2.5-10l2 6.5l1.5-7.5l2.5-14l3-1l2-7.5l2.5 6.5l2.5 14.5l3-7l2 0l2 4l2.5 0l2-13.5l2.5-1l2 9.5l2-6.5l2.5 10l2 12l2-0.5l2.5-14l2-10.5l3-4.5l2.5 6.5l3-7l2.5-1.5l3 12.5l3 2l2.5-22l1.5-2l3 6l2.5 1l3 3.5l2.5-1.5l2-0.5l2 2l2-1.5l1.5 7l2.5-12l1.5 4.5l1.5 5.5l2.5 19l2.5-13l2 3.5l2.5-8l2 2.5l1.5-8.5l2.5 7.5l1.5-1l1.5-4l2-5l1.5-5.5l2 32l2-11.5l2.5-2l2-6l2.5-1.5l2.5 5.5l2-1.5l1.5-8l2-4.5l1.5 3.5l2 9l3-21.5l2.5 11l3-4.5l1.5-12l3-8l1.5 15l2.5 2.5l2 0l1.5-7.5l2.5 10l2-1.5l2-2.5l1.5-19.5l3 2l1.5 16l2.5-25l2.5 4.5l2.5 3.5l1.5 0.5l2.5 10l2.5-1l2.5-6l2-3l3-8l1.5-1l2 6l2 1l1.5 3.5l2 3l2-8.5l2-7.5l2 15.5l2-9.5l3 13l1.5 13l2-6.5l3 5l1.5 13.5l2-13.5l2-5.5l2 6.5l1.5 4.5l2.5-2.5l2.5-9l2.5-4l1.5-12.5l2.5 5l2.5 15l2 3l3-2.5l1.5 5.5l2 12.5l2.5-23l1.5 4.5l2 4l1 8.5"/>
<path d="M822 294l2.5 0l2-0.5l3.5 0.5l3 2l3 1l3.5 1l2.5-2.5l2 2.5l3.5-1.5l2.5-5.5l3.5-2l3-7.5l3.5 7l3.5 2l3-2.5l2.5-1.5l3 1l2.5-1.5l2.5 6.5l3-1l2.5-5l4 2.5l2.5-8.5l2.5 2.5l3-2l2.5 2.5l3.5-6l2.5-0.5l3.5 1l3 12l3.5 6l2.5-2l4-3l2.5 3.5l2.5-2.5l4-10l2.5-0.5l3 18l3.5 6l3 1.5l3 2.5l2-2l2 3.5l3.5 2.5l2.5-17.5l2.5 5.5l2.5-4.5l2 7.5l2.5-6.5l3 4.5l2-1l3 12.5l2-0.5l2.5 3.5l3-0.5l1.5-4.5l2 5l2.5-4.5l2 3l2-10l2 0.5l1.5-6.5l2-22l2.5 0l2-8l2-0.5l2.5 0l2 0.5l2.5-4.5l1.5-9l2-3.5l1.5 1.5l3-4.5l1.5 0.5l2 9l2 11l2-7l3-7l2.5 2.5l2-23l3-6.5l2.5 3l3-10l3 3.5l3-5l3-14l3 2.5l1.5 3.5l2.5 5l2 13l2 0.5l1.5-4l3-0.5l1.5-2l1.5 1l2.5 3l2 0.5l2.5 2.5l2-1.5l1.5 3.5l2 1.5l2-11l2 8l2-9l2-6l2.5 0.5l3 10l2.5-0.5l1.5 2l3-8.5l2 4l2.5 9.5l2-10l2.5 5.5l2-6l2 2.5l1.5 3l1.5-18l2.5 19.5l2.5 5.5l3-5.5l2.5-3l2 15.5l3-5.5l2.5-5l2.5-2.5l2.5 10.5l2-4l2 15.5l3-6l1.5-3.5l2.5-0.5l2.5-2l2.5 14.5l2.5-14.5l2-14l2.5-2l2.5 0l2.5-10l2 10l2 4.5l2.5-6.5l1.5 2l3 9l2 9.5l3-3l3-20l2.5-3l2 16.5l2.5 4l3-11.5l2.5-0.5l2.5 13l2.5-4l2.5-17.5l1.5 5.5l3 1.5l1.5-3l3-12.5l2.5 6.5l2 6.5l3 0.5l2-20.5l0.5-6.5"/>
<path d="M823 281.5l3-6.5l3 4.5l3-2l3.5 0.5l3 7l2.5-7l2.5-2.5l3.5-4l3-3.5l4-14l3-7l3.5-8l2 6.5l4 1.5l2.5 0l2.5 12l2.5-12l3.5-3.5l2.5 3l4-1.5l4-5l3 1l3.5 10.5l2-6l3-8.5l3.5 6.5l2 2l2 1l2.5-4l4-3l2 12.5l3-3.5l3-5l3-3.5l3.5 3l3 2.5l4-10.5l3-12.5l2 5l4 11.5l2.5-1l2-19.5l2.5 11l2.5-16l2 5.5l3 14l2.5 1l2.5 5.5l2.5 18.5l3-15.5l2.5 2.5l2 2l1.5-3l2.5 2.5l2-6l2 6.5l1.5-10l1.5-4l3-0.5l2.5 11l2-2l3-5l2 1l2.5 14.5l3-2.5l1.5-14l3 13.5l2 14.5l2.5-2l2-3.5l3-0.5l2.5-2.5l2-5l2 0l3 2l2-8.5l2.5 1.5l2.5-4.5l2-10.5l2 1l3 3l1.5-0.5l2.5-1l2.5-4.5l3 16l2-0.5l3-5l2.5-3.5l2.5 1.5l2.5-6l1.5 11l3-3.5l1.5-8.5l2 0.5l1.5-10l2.5 0.5l2.5 1.5l2.5-1.5l3-4.5l2.5-2l1.5 7l2.5-2l1.5 8.5l2.5 7l1.5-14.5l2.5 7l1.5 5.5l2.5-12l2.5-6l1.5-0.5l3-0.5l1.5-6l2-19l1.5 7l2 4.5l2-10l1.5 6l2.5 7l2.5 3l2.5-5l2 2l2.5 5l2-4l3 7l2-6l1.5-6.5l2.5-9l2 21.5l3-2l2.5 0l2 0l2-7.5l1.5 3l1.5-12.5l3-4l2-2l2 7.5l2.5-1.5l2 14l2.5-5l1.5-12.5l2.5 12l2.5 0l3 2.5l2.5 0l1.5 1l2.5 9.5l2 13l2.5-15l3-5l1.5 6.5l2 4.5l3 4l2-2l2.5-1l2 10.5l2.5-22"/>
<path d="M820.5 335l4-2.5l2-4.5l2.5 11.5l2 0.5l3.5-4l3 7l2.5-13l2.5-0.5l2.5-4.5l2-12.5l3.5-6.5l2.5-1l4-9l3-15.5l3.5-0.5l2-2.5l3-1.5l3.5 2l2.5 0.5l3.5 3.5l2.5 2.5l3.5-3.5l3-7.5l4 5.5l3.5 7.5l2.5 2l3-9.5l2.5 17l3.5-1.5l2-3l2.5 1l2.5-9l3-14.5l2 7.5l3.5-0.5l4-3l2-10l3 8.5l2.5 2.5l2.5 5l3.5-7l2.5 8.5l2-1l2.5-3l3.5-5l2.5 2l2.5 7.5l2.5 7.5l2.5-4l2.5 2.5l2.5-4l3-6l2-2l2.5 1l2-2.5l2-14.5l2-3.5l3 11l2.5-1l2.5 3l2.5 7.5l2.5 2l2.5-8.5l3 11.5l2.5-20l2.5 12.5l1.5 3.5l2-8l3 11l2-6.5l1.5-10.5l2 1l3-4.5l2.5-6.5l2.5 10.5l2-15l2.5 1l2 0l2 4l2.5 0l2.5 4.5l2.5 5.5l2.5 10l3-1.5l3-12.5l2 3l2-12.5l2-8l3 9.5l2 1.5l2 5l3-8l2.5 14l1.5-15.5l2-11l2 8l3-4l3-7l2.5 9.5l2-9l2-24.5l2 0l2 2l3-4l2-1l3-7l2-6l2.5 0l2-3l1.5-8l2 2.5l1.5 14.5l2.5 1l1.5 14.5l3 6.5l1.5 8.5l2.5-14.5l2 1l1.5-9.5l2-11l3 16.5l2.5 21l3-10l2.5 10.5l1.5-16.5l2.5-9l2.5 0.5l2.5 1.5l2-3.5l2 17l3-12.5l2 10l1.5-4.5l3 2l1.5 0l3 9.5l2-15l2-0.5l2 10l2.5-3l2.5 3l3-5l1.5-1l2.5-4.5l2.5 3l3 3l2.5-5l1.5-8.5l3 14.5l2 2l3 9.5l2 14l2.5-17l2.5-4.5l1.5-3.5l3 2l1.5 0.5l2-5l2.5-7.5l2-6l2.5 24.5l2-2.5l2-13l2.5 11.5l2.5-1l2.5-14l1-17"/>
<path d="M823 285l2 0.5l3 2l2.5 6l2 0l4 6.5l3.5 2l2.5-6l3 0l3.5-3.5l3.5-4l3 0l2.5-6.5l2.5 8.5l3 1.5l2.5-6l2.5-1.5l3-5.5l4 1.5l3.5-5l3 5.5l2.5-9.5l3.5 3.5l3.5 3.5l2.5 1.5l3 0l2 3.5l2.5-8.5l3.5 0l3-8l3.5 1l3.5-11l3.5 1.5l2.5 3.5l3-2l2.5-6.5l2 17l3-19l4 9.5l2.5 5.5l3-9l2.5 2l3.5 5l2 1.5l3-8l3 4.5l2.5-6.5l1.5 7.5l2-7.5l3 12l2 3l2 4l3 2.5l1.5-5l1.5 5l2-7l2.5-9l2 7l2 13l3-9.5l2 2l3-0.5l2.5-2.5l2 12.5l2 1l2-22l1.5 8.5l2 5l2-20l3-6l2 5.5l2.5-2l2 6.5l2 14l2.5-2.5l2 5.5l2.5-0.5l2-0.5l2.5-11.5l2 4l2.5 7l3-4l2.5-1.5l2.5-16.5l2 7l3 12.5l2.5-11.5l2.5 4l3-1.5l2-2.5l2.5-4l2 8.5l2.5-6l3 0.5l1.5 0l3 3.5l1.5-2.5l3-0.5l2-13l2-9l3 4l1.5-1l2.5 12l2-4l2.5 13l2-17.5l1.5-6l3 2.5l2 0.5l1.5 8l2.5-3l2.5 1l2.5-10.5l2.5 6.5l2-0.5l3 8.5l1.5-5l2.5 11.5l2.5-8l2.5 6.5l2.5 1l2 0l1.5 12l3-4.5l1.5 0l2.5-7l3-10.5l2.5-5.5l3 7l2.5-10l1.5 4l2-6.5l2 3.5l3-0.5l1.5-2l1.5-2l2.5-1l2-2.5l3-3.5l2 3.5l3-10l1.5 1l3-3.5l2 8l2.5-4l1.5 2l1.5-7.5l2-5l3-4.5l2.5 6.5l2.5-8.5l2.5-1l2 2l3 18.5l2 6l2-4l2.5 5.5l2.5-10.5l2 3.5"/>
<path d="M821 244.5l4-5.5l2 0l4-1.5l3.5 1.5l4 4.5l4 3l3.5 2.5l3.5 3l3.5-3l2-3l2 0.5l3-7.5l2-1l3.5-0.5l3.5-4l3-7.5l2.5-2.5l3.5-8l4 5l2.5-6l2-1.5l2.5 1.5l2.5 9l2 0l3-1l2.5 17l2-15l3-5.5l2-4l3-11.5l2.5 1.5l2.5-2l4 4l3.5-3l3.5 10l2 2l3 7l2 0.5l3.5 1.5l3.5 8l3.5-2.5l2.5-3.5l2-7l3.5 11.5l3-6l2-9l3-4l2.5 16.5l2.5 2.5l2-4.5l2.5-6l2 7l3 0l2-4.5l2 12l2.5-1l2 16.5l1.5-13.5l3 10.5l3-4l2 3.5l2-6.5l2-1.5l3 4l1.5-0.5l3 4l2.5-14.5l2 9.5l2.5-2.5l3 3.5l2.5 11l2.5-10.5l1.5-4l3-1.5l2.5 4.5l2-8l2.5-7.5l2.5 8.5l2-4.5l3 5.5l2.5-2l2 3l2 7l2.5 7.5l2.5 6l2.5-3l2-11l2 11l2 10.5l3-12l2.5 6l3 8.5l1.5-12l1.5-3l2-4.5l2.5 7l2.5 1l2-12l2-8l2.5 0.5l3 5l1.5 5.5l3 5.5l2.5 6l3 1l2 10l2-2.5l2.5-14l3 3.5l2.5 2.5l2 3l2-17.5l1.5 2.5l2 6l2.5 4l2.5 3l3-10.5l2 3.5l2 5l1.5 16l2 3.5l3-18l3-0.5l2.5-5l2.5 2l2.5-17l2.5 23.5l2.5 4l2-7l2.5-13.5l2 1l2.5 0l2.5 6l1.5-8l2-4.5l3 0l2-3.5l1.5 0l2.5 3l2 0l2 10l2.5 11l3-28l1.5 3l2-2l3-1.5l2.5 2.5l1.5-15.5l3 8l3 6l1 6.5"/>
<path d="M823 340.5l3.5-3l2-9.5l3.5 1l2.5 1l3 0l3.5-3.5l3 2.5l2-0.5l4-6.5l3 6.5l3.5-13l2-13.5l4-4l3 10.5l3-5l3 2.5l3-10.5l4-4l2.5-5.5l2.5-3.5l3-5l3.5 5l2.5 0l3.5-11l2.5-2l2.5-3l2.5 0l2.5-5.5l3-1l3.5-0.5l2 6l2.5-7.5l3.5-3l4-7l3-3l3 7l2.5 1.5l4 2l2-5.5l3.5 1l3 0l2-0.5l3-2.5l3-4.5l3 1l2 3l2.5-1l3 3.5l2.5 9l2-6l2.5-11.5l2-12.5l2-3.5l2.5 0.5l1.5-6l2.5 15.5l2.5 14.5l2.5-8l1.5-4l3-13.5l2.5-0.5l2.5-10.5l2.5 0l2.5 20.5l2.5 0l1.5-18.5l2 7.5l2.5-18l1.5 11l3 5l1.5 5l2.5 1.5l2.5-4l2 16l2 5l3 10.5l3 4l3-10.5l1.5-1l2.5-16.5l2.5 14l2 0.5l1.5 6.5l1.5-9.5l3-12.5l2.5-9l2 0.5l2-5l2.5 0l1.5-8l2.5 9l2.5-6l2.5-8l2.5 4.5l2.5 8l2 12l1.5-11l2 7.5l2.5-11l2.5-5l2 10l2.5 0l1.5-6.5l1.5 18.5l2-12l2.5 1l2.5 8.5l3 2l1.5-7.5l2.5-6l2.5 0.5l2 6l2.5-19.5l2.5 14.5l2-4.5l2.5 9.5l3 9.5l2-9l2-21.5l2 13l2-13l3-1.5l2.5 5l3-9l2.5 15l2.5-4l2 7.5l2-8.5l2 3l2.5-8l3 4.5l2.5-12l2 3l2.5-4.5l2.5 5.5l1.5 6.5l1.5 3.5l2.5-1.5l2.5 12.5l2-4l2.5 0.5l2-6l2 4.5l3 2l2-5l2 4.5l2-5l2.5-8l2.5-5.5l3 18l1.5-1.5l2.5 17.5l1.5-8.5l3 3l2.5-4l2.5 0.5l3 5l1-13.5"/>
<path d="M822 304.5l3-8l3-5.5l2 1l2.5-6l3.5-1l2.5 2.5l2.5-9.5l2-2l2.5-4.5l3.5 12.5l3-21l3.5 3l3.5 3.5l2.5-2.5l2.5 3.5l2.5 4l2.5-0.5l4-7.5l3.5-1.5l2 7l4 4l3 3l2.5-6.5l3.5-0.5l3.5-7.5l2.5 2l2.5-0.5l3.5-6.5l3 4l3-1.5l3-5l4 1.5l2.5-6l3 5.5l4 4.5l3.5 8.5l2 0l3-6l3.5-2.5l2.5-1.5l2.5-3.5l2 4l2.5-2.5l2-7.5l3 2l2.5 7l2-13l2 3.5l2 4.5l2-20.5l2 5.5l1.5 1.5l2.5 8l2.5 16.5l2-5.5l2.5 0.5l2-8l2 10l2.5 0.5l2-21.5l2.5 5l2 13.5l2.5-8l2.5-1l2-4l2-1l3-5l2.5-6.5l2 19.5l2-10l2-1l2.5-8.5l2.5-2.5l2.5-9.5l1.5 15.5l2.5 0.5l2.5 6l3-10l1.5-7.5l3 3l1.5 0l2.5-9.5l1.5 6.5l1.5-6l2.5 11.5l2-6.5l2-2.5l2.5-15l1.5 2l3 11l2-7l3 1.5l2 5l2.5 3.5l2 2l2.5-14l2 0l2-3l1.5-6.5l2-8l2 2.5l2-3.5l1.5 11l2-5.5l2.5-5l2 11l2.5-9.5l2.5 12l2.5 11.5l2-13.5l2 17l1.5-3l2.5-14l2.5 2.5l3 3l1.5-9l3 17.5l2 5l3 9l2.5 2l2.5-5l2.5 5l3-19l3-4.5l2-2.5l1.5 9l3-6l2-9l3 7l1.5 0l2-3.5l3-8l3 12l2.5-5.5l3 1.5l3 1.5l3-12l2-1.5l2.5 1l2-7.5l2 8.5l2.5-10l1.5-6l2 12.5l3 15l2.5-14l3-27.5l2.5 8.5l2.5 7.5l2 9l3 12.5l2-1l3-4.5l2 0.5l2.5-5l3 5.5l3-4.5l2 1.5l1-2.5"/>
<path d="M821 290.5l3 0.5l2 5.5l2-8l2.5-5l3-5.5l2-1.5l3 0l3-5.5l3.5-1l3.5-1.5l3.5-4l2.5-0.5l2-3l4-1.5l3-3l2.5 8.5l3-3l2.5-6l3 10l2.5-12.5l4-1l2.5-4l3-1l2.5-2l3.5 3.5l3 3.5l3.5-11l4 10.5l3.5-6.5l2-5l3.5-2l3.5-3.5l2.5 0.5l3.5-8l2.5-0.5l3.5 2.5l4 6.5l2.5 3l3 7l2.5-3l2-0.5l3.5 1.5l3.5 2.5l2.5-10.5l1.5 0.5l2.5 1l2.5 9l2-2.5l2-0.5l3-1l1.5 0l2 3l1.5 7l2-12.5l2.5 4.5l2.5 3.5l2.5 3l1.5-1l3 2.5l2 2l2-4l1.5-8.5l2-0.5l1.5 8.5l2 5l2-1l2.5-7l2 13l2-1l2 9.5l2-7l2.5 0l2.5-5.5l2.5 5l3 6.5l2.5-10l2.5-3.5l2.5 0.5l2 21l3 2l2-9l3-4l1.5-11l2.5-6l3 7l2.5 0l3-3.5l2.5 0.5l1.5 7l3-8.5l1.5 8l2.5-9l2.5-15l2-1l2.5-5.5l3 1.5l2 6.5l3-7.5l2.5-2.5l1.5 17l2-1.5l3-14.5l2 10l3-4l2-20l2 1.5l2.5 10l3-1.5l2.5 5.5l2.5-0.5l1.5 1.5l2.5 2l2.5-7.5l2 7l3 2l2.5-8.5l3 5l1.5 2.5l3 0.5l2 18.5l3-21l1.5-22.5l2.5 5l1.5-3.5l2-4l3-4.5l1.5-3l2 5l2 13l2-6l2.5 11.5l2.5 7.5l2 2l2.5-0.5l2.5-4l3-6.5l2.5 7l1.5 0.5l2-6.5l2.5 0l2.5 0.5l2-1l3 15.5l2.5 0l1.5-11.5l2.5-9l1.5-15l3-6l1.5-1.5l2.5-7l2.5 11.5l2.5-12.5l2.5-15.5l2 11.5l2.5 1.5l2 5l2-9l3-1.5l3 2.5l2-5l2.5 0l2-0.5l3 6.5l1.5 10.5l1.5-4l2.5 5l3 6l3 3l1.5-18l2 6.5"/>
<path d="M821 267l3 6.5l2 0l3.5 6.5l3.5 6.5l3.5-2.5l2-8l4-4.5l3.5 2l3 2l2.5-6.5l4-2l3.5 5l3 5.5l3-9l4 0.5l3.5-10l2.5 3l2.5 6.5l3.5 1.5l2.5 5.5l3-5.5l2-0.5l2.5-6l4-2.5l2.5 0l2 1.5l3 2.5l3-9l3.5-4l3.5-3.5l3.5-0.5l4-7l4 2l2-2.5l2.5 8l3-7l3 8.5l3-5.5l2.5 5.5l4-1l2-8.5l2.5 11l3.5-14.5l2.5 14.5l2-3.5l2.5 1l2.5-6l2.5 2l2.5 7l2.5-9.5l2-9l3-5.5l2-5l3 22.5l2.5-11l2-4l3 1l2.5-1l2.5-1l2.5 9l2 7l2 1.5l3-1.5l2 8.5l2 2.5l2.5-2.5l2-3.5l1.5-8.5l1.5 9l2.5-2.5l2.5-13l2 13l1.5 3l2 21l3-25.5l2 5.5l2.5 12.5l1.5-1.5l2 14.5l2.5-13.5l3 3.5l2 8.5l2 0.5l2.5 6.5l1.5-3.5l2 6l3-10l2.5-6l2.5-10.5l2.5-3l1.5-12l2-10.5l2 8.5l1.5 25.5l1.5 10l2-17.5l3-6.5l2.5 10l2.5 9.5l1.5-7.5l2 7.5l2-8.5l2.5-12.5l2-1l2-9l3 18l2.5-18.5l2 2l1.5-6.5l3 8.5l3 2l2.5 5l1.5-12.5l2 2l2.5-6.5l2-10l2 0.5l2-2l2.5 0l1.5-9.5l2.5 11l2 5.5l2.5-6l3 2l2.5-2l3-6.5l2-6l2-4l2 6l1.5 4l2.5 13l2.5 1.5l2-9.5l2.5-5l2 5l2 0l2.5-5.5l2 6l2.5 0.5l2.5 3l2.5 5l2.5-17.5l2.5 1.5l2.5 2l2.5-2.5l2.5-3l2-0.5l2-5l3 16l2-13.5l3-1.5l2-0.5l2.5 4.5l2-10.5l2.5 7.5l2.5 8.5l2-7l1.5 1.5l2 6l2.5 3.5l3-3l2.5-15.5l2.5 10l2-1.5l2.5-4.5l3 10.5l2.5-6l3 18.5l2-8l0 3.5"/>
<path d="M823 270l3-8l3-3.5l2.5 5l3 7.5l3-6l2-7l2-5l3.5 4.5l3 0.5l4-1.5l3.5-12l3-3l2.5-0.5l3.5-0.5l3.5 1.5l3.5-0.5l3 11l3-3.5l3.5 8l2.5 0l2.5-4l2-11l3-3.5l3.5 5l3.5 9.5l3-11l2-1.5l2.5 5l3.5-7l4-2l3-5l3.5 1.5l3 10.5l4-9l2 7l3.5-9l2.5 4l3.5-7.5l2-1l4-1l2 3.5l2-4l3.5 6.5l2-14l2 3.5l2-10l2 1l2.5 7.5l2.5 2l2.5 6.5l2-8l3 0.5l2.5-5l2-3l2.5 11l2.5 3.5l2 1l2 11l2-2.5l3 10.5l2.5 0l2.5 6.5l2.5-7l2-2l2.5-0.5l2 1l2.5 5l2.5 5.5l3 11.5l2.5-7l3-13.5l2-12l2.5-5l3 21l2-8l2 5l2-0.5l2-5l2.5-9l2-1.5l1.5-11.5l2.5-9.5l2 16l2.5-10.5l2 5.5l2-10.5l2 16l2.5-4l3 1l1.5-6l3 24l2-2.5l3-13l2.5 0l2-7.5l1.5-5.5l2-6l2-5l2 10.5l1.5-13l2-1l2.5 11.5l2.5 5l2.5-8l2.5 4.5l2.5-2l3-15.5l2.5 8l3 1.5l2.5-4l2 4l2 5.5l2 1l2-1l2.5 3.5l2 0.5l2.5-7l1.5 2l2-5l1.5 16l2-11.5l1.5-11.5l1.5 4l1.5-19l2.5 9l2 17.5l1.5-9.5l3-3.5l2-10l2.5 6.5l3-15.5l3 12l2-9l2.5-2l2.5 14l3-1l2.5-14.5l2.5-1.5l2 18l1.5-16.5l3 2.5l1.5 9.5l2 6l2.5 5.5l2.5-5.5l3 12.5l3-1.5l2.5-1.5l2.5-1l2-13.5l2.5 9.5l2.5-16l2.5 1l2-8l2.5 3l3-1.5l2.5 19.5l2-2l1.5-0.5l3-2l2-9.5l2.5-3.5l2.5-5.5l1 1.5"/>
<path d="M822.5 302.5l3.5-1l2 4.5l4 0l4-2l3 7l3-2.5l3-2l3 5l2.5-5.5l3.5 1l3.5 1.5l2.5-9l3.5-0.5l2 7l2.5-2l3-7.5l4 4l3.5 2.5l2-4l2.5 2.5l3.5-4.5l2.5 6.5l2.5-5l2-11l3.5-4l2.5 0l3 6.5l3 0l3.5-0.5l3-2l2.5 8l3-10l4 2l2.5-6l2.5-2.5l2.5 8l3 2l3 4l3.5-2.5l2 0l3-3l3-6.5l3 5l2.5-10l3 16.5l1.5-11.5l3-3l2 4.5l1.5-8.5l2.5 12l1.5 1l2.5-6l2.5 9l2.5-4.5l2-10.5l2.5 0.5l1.5-1l2.5-13l2 11.5l2.5-0.5l2.5 2.5l1.5-9.5l1.5-14l3-6.5l2.5-4l2.5 6l2 0.5l2.5 13l1.5 7.5l3-9.5l2.5 8l2-5.5l3-2.5l1.5-10l2 6l2.5-5.5l2.5-5.5l2.5-5l2.5-11l2 30l2.5 13.5l2.5-6l2-16l2.5 3l1.5-22l2 9l2.5 8l2.5 17.5l1.5 1l3 1l2-7.5l2 5l3-14.5l2 7.5l3-19.5l2.5 6.5l2.5-2.5l2-3.5l3 4.5l2 10.5l2-9.5l2.5 0l2.5 7l3-3l3-16l3 5.5l2-0.5l2-13l2-3.5l2.5 15l2 0l2-7.5l2 1.5l3 10l1.5-9.5l1.5 3.5l2.5-3.5l2.5 6.5l2 2.5l2 1l2.5 0.5l2-15.5l2.5 10.5l2.5-8.5l2-8l2.5-5.5l2 4l2 5l2.5 8l2 5.5l2 2.5l1.5-10l1.5 8l2.5 1.5l1.5 10l2-2.5l2 7l2-14l2 1l1.5 17l1.5-4.5l3-7.5l1.5-1.5l1.5 0l2.5-1l2.5-7.5l2 0l2.5 9.5l3 2l3-2l1.5-4.5l2.5 7.5l2-19.5l3 1.5l2.5 3l1.5 17.5l2.5-15l1.5-11l2.5-3.5l2.5 4.5l2.5-4.5l2.5 17l2 0.5l2.5-13l2.5-5l2 4.5l1.5 4l2-8l1-0.5"/>
<path d="M822.5 266.5l3-0.5l3.5 7.5l2-2.5l3 2l3.5-12.5l2-3l4 1l2.5-7.5l3 7.5l2 3l3 7l4-4l4 6.5l3.5-4l2.5 1l3-1l2 3l4-8l2-2.5l3 5l2.5 9l3-3.5l4-6l2.5-1l2.5-2.5l3.5 0.5l3.5-4.5l3-4l3.5-9l3.5 2l2.5 10l3 5.5l4-2.5l2.5 1.5l2-4l3.5 18.5l3.5 14l3-5.5l2.5-3.5l4-8l2 12l3.5-3l2.5 1l1.5-14.5l1.5 12.5l1.5-1.5l3-2l2.5-0.5l3-5.5l3 0.5l2-3.5l2-7l2.5 11l3-19.5l2 9l2.5-1l2 3.5l1.5 3.5l1.5 5l2.5-19l2 23l2.5-8l3 10l2-14l3-8l2.5-20.5l3 8.5l1.5-2.5l2 7l2-10l2.5 5l1.5 18.5l2.5 5.5l1.5 2l2 4l2-2l2.5-3l2-17l2-3.5l3 14l2.5-14.5l2.5 0.5l3 7.5l1.5-8.5l2.5 5l2 15l2.5-12l2 7.5l1.5-3l2.5-1l2.5 16l2.5-9.5l3-9l2.5-2.5l1.5 8l2 9l2-4l1.5-2l2-5.5l2.5-8.5l2.5 0.5l1.5 4l1.5 0l2.5 11l1.5-1.5l2-17l2.5-0.5l1.5-4l1.5 13.5l2.5-3l1.5 2l2.5-4l3 19l1.5 5.5l2.5-4l2.5-9.5l2-14.5l2.5 4l2.5-4l1.5-1.5l1.5-1l2.5-1l3 9.5l2 4.5l1.5-19.5l2.5 2l2.5 9l2-2l2 3l2 4l1.5-11l2.5 7l2-15.5l1.5-8l2 22l2-2.5l2.5-5l1.5 12.5l2.5-6l2-3l2 3.5l3 9.5l2.5-10l2.5 8l2.5-5.5l2.5-0.5l2-3.5l1.5-10.5l1.5 4.5l3-17.5l3-8l2 6l2.5 25.5l2.5 5l2-8l1.5 8.5l2-11l2 11.5l3-17.5l3 4l1.5 21l3-3l1.5 3l2-41"/>
<path d="M820.5 247.5l2.5 1.5l3.5-6.5l3-4.5l3.5-11.5l4-4l3.5-4l3.5-13l3.5 0l2 6l4-7.5l2-1l3-3l2.5 6.5l3 3.5l2.5-3.5l4 4l3.5-4.5l4-4.5l2.5 1l2.5 1l2.5 3.5l3.5 1.5l2 2.5l2 12.5l2.5-13l3-8l3.5 1l2.5-6.5l3.5 5.5l2.5-2l2.5-4l2.5-9.5l3.5 4l2 8l3-9l3 9.5l4 0l3-2.5l2 5.5l3 2.5l3-10l2.5-8l3.5-2l2 8l3 2.5l3-21l1.5 18l3 5l2 4l2-7l2.5 5.5l2-15l2 2l2 3.5l3-3l2-1l2.5-6.5l2 14l2-20l2 3.5l2-1l2-15.5l2 3l2 5l2.5-5.5l2.5-11l3 11.5l2.5-10.5l2.5-9.5l1.5 10.5l2-7l3 6.5l3 12.5l1.5-4.5l2.5-11.5l3-9l2.5 11.5l2.5 0.5l3-6.5l2 3.5l1.5-12.5l2.5 6.5l3 0.5l2.5 6.5l2 12.5l2-1.5l3-0.5l3 4l2.5 3.5l2.5-10l3-1l2.5-7.5l2.5-6l2 22.5l2.5-1.5l2 12.5l2-4l2 1.5l1.5-20.5l2-3.5l1.5 6l3-13.5l3 9l1.5 6.5l1.5 14l2-4l2-18l2.5 6.5l2.5 20.5l2-4l2-6l2.5-0.5l1.5 4.5l2.5-5.5l2-26l2 19l1.5-12.5l1.5 14.5l2 1l1.5 9.5l2-4.5l1.5 3l2.5 11.5l2.5 2l2-21.5l2-8l2.5-7.5l1.5 24l2-4.5l2-2.5l2 11l2 7l2.5-10l1.5 8l1.5 3l2.5 0.5l1.5 12l2-15.5l3 12l2 14.5l2.5-15.5l2.5-6.5l2 8.5l2.5-6l2.5 0l2-11l2-10.5l1.5-8.5l3 5l2 7l2.5-3.5l3 5.5l2.5-20l1.5 4.5l2 8.5l1.5-17l1.5 20.5"/>
<path d="M823.5 284l3-13.5l2.5-2l2.5 0.5l2 7.5l3.5-3.5l3 5.5l3-1l3-6l2.5-2l3.5-3l3-13.5l2-5.5l3-8l2 4l3-11l3 7.5l3 10.5l3-12l2.5 0l3.5 3.5l3.5 0l3.5-5l3 2.5l4-5l3-6l2 5.5l3.5 14.5l3-8l2.5 4l3 6.5l2-17l3-7l3 4.5l2 0.5l3.5 7l3 8l2.5-5.5l2.5 3l2.5-3l3.5-10l2-0.5l4 8l3-6l2.5 0l3 8.5l2-9l2-0.5l2.5-13.5l3-6l3 7.5l2-4l2.5-6.5l2.5 0.5l1.5 1.5l3-2l1.5 7l2.5 1l1.5-5l2.5 0l3-5l2-5.5l2 11l2 11.5l1.5-6l3-5.5l3 9.5l3 5l1.5 10.5l2 5.5l2.5-9l2.5-4l2-2.5l1.5-18.5l3 21.5l2 3l2.5-13.5l2.5 10l2-0.5l2.5 0.5l1.5 1.5l2 5l2 5l2.5 0l2.5-2l2-7.5l2-3.5l2.5-3.5l2.5-9.5l2-1l2 2.5l1.5-7.5l2-1.5l1.5-2l2.5 7.5l2.5 8.5l2 0l2 6.5l2 2l2-5l2-5.5l2.5-6.5l3 5l1.5 1.5l2-2l2 4l2-17l2.5 5l1.5-6.5l1.5 3l2.5-2.5l2 0.5l2.5 3l2.5-11l2 22.5l2.5-3l2-12l3 8l2.5-2l1.5 6l2 2.5l2-11l2.5-7.5l2.5 6l2-2l2 1l2.5-1l2.5 1.5l2.5 7.5l2.5-13l1.5 9.5l2.5 5l2 7l3-10.5l2.5-2l3 3.5l2.5-7l1.5-20l3 3.5l2.5 16.5l1.5-11l2.5 15l2.5 11l2.5-21.5l2.5 7l1.5-21.5l2.5 3l2.5-2.5l2.5-7l2-8l2.5 3l2-1.5l2.5-1l2.5 16l1.5 5l1.5-14.5"/>
<path d="M822 220l2-1.5l4 4.5l2-7l4-7l4-3l3 3.5l3 9.5l3.5-1.5l2-2l3.5 8l2.5-1l3-6.5l4 2l3.5-2.5l3-6l2.5 1.5l2.5-6.5l2.5-4.5l4-9.5l2.5-0.5l3.5 12l2.5 0.5l3.5 4l3 2l4 2l2-2.5l4-6l3 1.5l3.5 2.5l2.5-4l3.5-10.5l2 2l2 1l3-3l3.5 3.5l2.5 5l2.5 3l3 12.5l3.5 3l3-11.5l2.5-8l4-8l2-3l2.5-16l2 12l2.5-5.5l2.5-12.5l3-5.5l1.5 6l2.5-5.5l3 5l1.5-1l2.5 10.5l2-5.5l2.5 3.5l1.5-3l2 2l3-5l2 8l2.5-4.5l2.5-7l2.5-0.5l2.5 0l2.5-14l2 1l2 7.5l1.5-2l2.5-12l2 8l2.5 3.5l2 9.5l3-6.5l3 6.5l3-0.5l2.5 5.5l3-7l1.5 11.5l1.5-6l3-7l2.5-9l2 10.5l1.5-6l2-16.5l2.5 8.5l2.5-0.5l2 0l2-3l1.5-8.5l2 2l1.5 3.5l2-7.5l2.5 1.5l2-3l2 10.5l3-6.5l2.5-6l2-1.5l2 15.5l2.5-6.5l2 6l1.5-13.5l2.5 6l2 6l2-4l2.5 8.5l2-8.5l2.5-9l2.5 0l2.5-8.5l2-4l2.5 4l2-2.5l2 2.5l1.5-3l3-4l2 1l2-2l1.5-8.5l3 1.5l1.5 8.5l1.5 0.5l3-1.5l1.5 3l2-1.5l2 15.5l1.5 7.5l2 12.5l2.5-7.5l3-3l3-2.5l2.5-5l2-9l1.5 1l3-7l3 5l2.5 7l3-1.5l2 0l2.5-2l2.5-5l1.5 6.5l2 9.5l3-8.5l1.5-8l2 1.5l2 5.5l2.5 1.5l2 12.5l2.5-20l2-4l2.5-2l2.5 5.5l3 11l1.5 5l3-14.5l1.5-3l2-3.5l2.5-17.5l2.5 8l1.5-3.5"/>
<path d="M822 247.5l3-6.5l2.5 1l2.5 0l2.5-0.5l3.5-4l3-3.5l3.5 2l2.5-5.5l3.5 6l2.5-4l2 6.5l3.5-6l3.5-5l3-2.5l2.5 0l2.5 5l3.5-1.5l2.5-7l3-5.5l2.5 4l3.5-6l3-0.5l2.5 6.5l3-7.5l2.5 2l4-10l4-1.5l3.5 3l3 14l4-3.5l2 1l2 1l2.5 1.5l4 1l2.5-13.5l2.5-4l3.5 5l2.5 7.5l4-3.5l2 2l3.5-4.5l3 11.5l4-4.5l2.5 5l2.5 5l1.5-8l2-5.5l2.5 7.5l1.5 1l3 4.5l2 11l3 1l2 0.5l1.5-0.5l1.5-1.5l1.5-4l3 6l2.5-17l2.5-11.5l2 4l2.5-5l1.5 0l3-2l1.5 8l3-7l2.5 4.5l3-7l2.5-9.5l2 7.5l1.5 3.5l3-1.5l2.5 3l1.5-4l2 1l2.5-4l2.5 1l2 8l1.5-6.5l3 0.5l2-12.5l1.5 9.5l3-3.5l2 13.5l1.5 4.5l2-4l3-6l2.5-8.5l1.5-1.5l3 2l3 0.5l2.5-5l1.5-1.5l3-8l3 10.5l2.5-9l2.5 1.5l2.5 5l2 1l2.5 12l2-13.5l2-3l2.5 20l2.5-0.5l2-20l2.5 20l2 3l2.5-6l2.5-5.5l1.5-14l2-5.5l2.5-0.5l2.5 11.5l3 8l2.5 3l3 1l2.5 2l3-5.5l3-3l2.5-6.5l2.5-8.5l2 10l1.5-0.5l2.5 8l2-2l1.5-3l2.5-4.5l2 9.5l2-13.5l1.5-13l2.5 6l2.5 13l2-2.5l2.5 10.5l2.5-8.5l2.5 7l2-2l3 2.5l1.5 1l2-17.5l2 9l2.5-8.5l2 2.5l1.5 5.5l3 2l2 5l2.5-9.5l2 6.5l2-7.5l2.5-14.5l2.5 6l2.5-2l2.5 1l1.5 2.5l1.5 0l2.5 14l3 1l3-5l2.5-0.5l0.5 3.5"/>
<path d="M822 228.5l2.5 5l3.5 1.5l2 3l4-4.5l2-3.5l3.5-1.5l3.5-1.5l4 0.5l2.5-6.5l3.5 3l3 9.5l2 2l2.5-7.5l3 2.5l3.5 7.5l4-13l3.5 0.5l3 1.5l2.5 4l3.5-3.5l3.5-2.5l4 2.5l3.5-11.5l2.5 13.5l2.5 7l3-7.5l2.5 0l3.5-2.5l2.5 3.5l3.5-10l2 4.5l4-9.5l3.5 6l2.5-21.5l3 0.5l3.5 0l3.5 8l2.5-13l3 11l2-0.5l3 1.5l2.5-4.5l3.5-8.5l2-2.5l3 2.5l2.5 10.5l3-8l1.5-10.5l2.5-1l3 11l2.5 13.5l2.5-7.5l1.5-15l3-2l1.5-11.5l3-5l1.5 1.5l3 7.5l2-9l1.5 7l2 6.5l2.5 1l3-4l2 2l2.5 2.5l2 0l1.5 0.5l2.5-4.5l2 3l2.5-12l2.5 3l2.5 6l2-1.5l2.5 6l2 3l2.5 0.5l2-2.5l2-4l1.5 8l2.5 1l1.5-0.5l2-1l2.5 14.5l1.5-15l3-4.5l2 0l2.5 9.5l2.5 5.5l2.5-2l3 15.5l2.5 9l1.5-5l2.5-2.5l2.5 3.5l2-1.5l2.5 4.5l2-0.5l1.5 0.5l2 1l2-22.5l2.5 3.5l2.5-13l2.5 5l2.5 2.5l2.5-4.5l2 7.5l2-5.5l2.5 2l2.5-5.5l2 3.5l2.5 4.5l3-0.5l1.5-0.5l2 2l2.5-1.5l2 9.5l3 2.5l2 10.5l2-5.5l3-10.5l2.5 10.5l3-12.5l2 0l2-2l3 5l2-1l2 0.5l2-1.5l2-11l2-8l3 4.5l2-0.5l2 6l3-3l1.5 0l2.5-5.5l2 6l1.5 6l2-12.5l2.5-11.5l2.5 2.5l2.5 9.5l2-12l2 1l3 6l1.5 8.5l1.5-4.5l3-3.5l1.5 13l3 3l2-10.5l2.5-4l2.5 8l1.5-12l2-13.5l2 1l2 6l2.5 14.5l3-9.5l2 9.5l1.5 11l2.5-11.5l1.5 9l2 12l2.5 8.5l2 2l3-8l2 7.5l2 5l2 5.5l2-13.5"/>
<path d="M821.5 273l2-6l2.5 0.5l3 2.5l4 0l3.5-3.5l3-2l2.5-2.5l3.5-5.5l2 3l3.5-3.5l2-2l4-7l3.5-1l3-1l2-7l3 2.5l3.5 7.5l3-10l3-1.5l2.5-1.5l3 2.5l3 1.5l2.5-5.5l3.5 1.5l3.5-3l3.5 1l2.5 2.5l3-9l3.5 7l2.5 3l2.5-14l2-0.5l3 6l3.5-7l3 6l3-1l3-1l3 7l2.5 4.5l2.5 0.5l3.5-3.5l4-14.5l2 8.5l4-0.5l2.5-3.5l2 15.5l1.5-13.5l2 6.5l3-5l2.5 14l3 3l1.5-6l2 5l2-4.5l1.5 1.5l2.5-4.5l2-4l2.5 3.5l2.5 2l1.5-8l2-2l2.5 16.5l2-9l3 5.5l1.5-0.5l2-2.5l2.5-11.5l2.5 6.5l1.5-2.5l2-7l2.5-3l2.5 3.5l2.5 9.5l2.5 8.5l2.5-3.5l3 1.5l2.5-3l2.5 1.5l3-7.5l2.5-2l2-14.5l2.5 3.5l1.5 3.5l3-3l2-21l2 19.5l2-6l2.5 1l2-2l2 5l3-9l1.5-4l2.5-1l2.5 1.5l2 9l3-5l2-6.5l2.5 8.5l2.5-7l1.5 11.5l2.5-13l2.5-9.5l1.5 19.5l2.5-5l2-8l2.5-2l2-2l1.5 12l2-10l2-5.5l3 5.5l2 8l2 14.5l2.5 2l2.5-12.5l3-7.5l1.5 10l1.5 11l2-6.5l2.5-4.5l1.5-11.5l2 4l2.5-18l1.5 1.5l2.5 9l1.5 5.5l2.5-5l1.5 6.5l2-8l1.5-3.5l3 13l2.5 6.5l2.5 7.5l2-5l1.5 12.5l2-32.5l2 0l2-13l2 16.5l2-5.5l2.5-9.5l2.5 18l1.5 14l2.5 0l2.5 1l1.5-1.5l2-1l1.5 15l3-10.5l1.5-6l3 0.5l2.5 15l2-5.5l2.5-7.5l2.5-25.5l1.5 11l2-1l2 1.5l2-1.5l1.5 5.5l2.5-2l2.5 5.5l1.5-2l2-13l2 1l0.5-1.5"/>
<path d="M820 279.5l3.5-3l3.5-4l2.5-4.5l3.5-6.5l2 3.5l2.5-0.5l2-6l2.5 11l2.5-11.5l2.5 1l2 11.5l4-11l2.5 1l3.5-2l4 4l2.5-3.5l3.5 1.5l3.5 1l3-1.5l3-11.5l2.5 2l4 5.5l2.5 6l4-6l3-1.5l4 11.5l4-2.5l3-19.5l3 6.5l2.5 1.5l2.5 4.5l2.5-1l2 0l2.5 1.5l3-1.5l3-5.5l3.5 3l3 1.5l3.5 0.5l3.5-6.5l3-1.5l2.5 9.5l3-5l2-1l2.5-10l2.5-1.5l1.5 6l2.5-1.5l2 2l2-7.5l2.5 2l2 0.5l2.5-3.5l2.5-11.5l1.5 8l2.5 2l2-4.5l2 4.5l2-10l2.5 2.5l1.5-13.5l1.5-1l3-2.5l2 0l2.5 7l2.5-3l2.5 1l2.5-4l2.5 1.5l3-12.5l1.5 13.5l2.5 8l2 11l2.5 16.5l2-10.5l2 1.5l2.5-8l1.5-1l2.5-4l2-3l3 5.5l2.5 0l2.5 0.5l2-8.5l2.5 4l2.5-3.5l2.5-7l2.5 7l2.5-8l2.5-9l1.5 4.5l2.5-1.5l2-11l3 6.5l2 5.5l1.5-12l3 10l2-8l3 10l2.5-7l2.5 8l2-11l2 5l3-4l3-3l2 6l2-10l2.5 5l2.5 21l2-11l2.5-20l3 24l1.5 3l2-4.5l2.5-16.5l3 13.5l2.5-6.5l2.5 10l2.5-12.5l2 11.5l1.5 17l1.5-15.5l3 11l2-2.5l2.5-7.5l1.5 8l2-18l2.5 12.5l2.5-11.5l1.5 5.5l2.5-0.5l2.5 17l2-3l2.5-9.5l2.5-4l2 15.5l2.5-5l3-6.5l2.5-1l2.5 8l2.5-5l2.5-10l3 19.5l2.5-8.5l1.5-9.5l2-0.5l2.5 5.5l2-16.5l2.5-4l2 19l2.5 0l2-1l1.5 0"/>
<path d="M820.5 294l4-1.5l3.5 7l3.5-1.5l4-1.5l2.5-6l3.5 11l4 0.5l4-2l2 2.5l3.5 1l3 3l3.5-6l3.5-3l2.5-4.5l2.5 0l4 9.5l2.5 5l3.5-4l3.5 1.5l3 4l2.5-8.5l3.5 10l3.5-15.5l2.5 1.5l2.5 12l3-15l2-11.5l2.5 2l2.5-1.5l3-2.5l3.5-8.5l3.5-8.5l3.5-5.5l3.5 2.5l3-5.5l4 0.5l2.5 0.5l4-1.5l3 0.5l4 5l3.5-1l2.5-0.5l2.5-0.5l3 4.5l3-10l1.5 1.5l2.5 3l3-8l3-13l2.5 13.5l2.5 1l2-2l3-11l3 2.5l2.5 2.5l2 11.5l2-3.5l2.5 7l2.5-9l2.5 6.5l3-8.5l2.5-3.5l2.5 13.5l2-0.5l1.5 1l2-1.5l2-9.5l2.5 3l2.5-7.5l2.5-1l2.5 10l2.5-9.5l2 7.5l1.5-6l2 4.5l2-5.5l2.5 2.5l2-3.5l2 4.5l3 7l2.5 5.5l2.5-11.5l2.5-4l1.5 7l2 2.5l2-4.5l2.5 6l2.5-13l2.5 11l2.5-10l2-5.5l2 4l2-4l2.5 16l3 2l3 1l2 0.5l2.5-30.5l2.5 22l2.5-13l2 9.5l2.5-6.5l2 4l1.5 5.5l3-3l2-18.5l2 12l2 10l2.5-1.5l2.5-1l3 6.5l2 0l3-6.5l1.5 13l2.5-4.5l2.5 17.5l1.5-13l2 2.5l2.5-2.5l2-7.5l2.5 1l2.5 5.5l2 6l3-6l2 3.5l2.5-10l1.5-11.5l2.5 8.5l1.5-5.5l3-6.5l2.5 10l1.5-5.5l1.5 4l2.5 0.5l2-4l2.5-17l2.5-3.5l2 15l2.5-16.5l3 3l2-9l3 5.5l2.5 1.5l2-17l2 14.5l2-5l2 11.5l3-3l3 18.5l1-12"/>
<path d="M822.5 274l4-1l2.5-2.5l2-0.5l4-7.5l3.5 5l2 5l3-8.5l3.5 5l3-9l3.5-4l2.5 2.5l2.5-2l2 3l3 2.5l3.5 2l3.5-2.5l3.5-10.5l4-4.5l3.5-2.5l4 1l2.5 5.5l3 8.5l2.5-9.5l2.5-0.5l2.5 0.5l3.5-8l3 3.5l2.5-2l3 11.5l4-19.5l4-1.5l2-16l2.5-2l3.5-3.5l3 10l3.5 2.5l3-0.5l3.5-2.5l2.5 6.5l4-6.5l3.5 16l2.5-2l2.5 0.5l2-8.5l2.5-16l2.5 13l1.5-2l2 3l2-5.5l2-3l2 12l2.5-11l2.5 1l2 2.5l3 2l2.5 7.5l2.5-16l3 6l1.5-1l2 2l2-10l3 11l1.5-0.5l3-2.5l2.5 9l3-6l1.5-5l3 5.5l3 7.5l2.5 2l2.5-15.5l2-9.5l2.5-6.5l2-9.5l1.5 2.5l2 4.5l2 2l3-5.5l2 6.5l2-3l2-8.5l2 5.5l2 7.5l2 3l2.5-10.5l2.5-0.5l1.5 5.5l2.5-7l2.5 8.5l2.5-3l1.5-0.5l2.5-5.5l2.5-8.5l2 14l2.5-6.5l2.5-6l2.5 12.5l2 2.5l2-26.5l3 15l1.5 4.5l2 9l1.5-0.5l1.5-1.5l2.5-3.5l1.5 0.5l3-3l1.5-3l2 8l2.5-9.5l1.5 5l2-16.5l2 31l3-3l2.5 2l3-0.5l1.5-5l2 8.5l2-9l2.5 6l2.5-13.5l2.5 7l2.5-4l3-5.5l1.5 11l2.5 0l2-16l2.5 16l1.5-7l2.5 17l3-8.5l2.5-9.5l2.5-13.5l2.5-5l3-2l2 8l2-6l1.5-10l1.5-8.5l2 16l2.5 7l2.5 0l2 5.5l2 25.5l2-11l2-0.5l3 8l2.5-11l1.5-19l2.5 7l1.5 0.5l2 5l1.5 9l3-3l2.5-15.5l2.5 2.5l2.5-2l2-13l2 14.5l2.5-1.5l2.5 8.5l2 4l2.5-4l3-11.5l2.5 4.5l2 6l2.5 5l2 0.5l3-14.5l1 1"/>
</g>
<g fill="none" stroke="rgba(255,0,0,0.042)" stroke-width="1.3" stroke-linejoin="round">
<path d="M352 153l2-2l3.5-3.5l3 2.5l2.5 2l3.5 1l2.5 0.5l3-0.5l4 5.5l3 3.5l4 2l2.5-4.5l4 2.5l4 1.5l2.5 0l2 3l3.5-2l2-3l4 3.5l3.5-0.5l3 10l2.5-5.5l2-2l2.5-0.5l2-6.5l2.5 3.5l3.5 5.5l3.5-3l3.5-2l4-1.5l4 5l3.5-4l3 2l3 0.5l2.5 0l4 1l4.5 0l3.5 2.5l4 0l3.5 4l3.5 1.5l3 3l3 3l4 1.5l3.5 5l2.5-1.5l3 4.5l4.5-3.5l4.5-3.5l3.5 8l3.5 0.5l2.5 0l3.5-1.5l4-3.5l4.5 4l3.5 1.5l3.5-7.5l3 2.5l4.5 3l2 0.5l4 6l2.5 0.5l2.5-4l4.5 1l2 1l2.5-8l3.5 2l4 0l2.5 0.5l4.5 2.5l3.5 0.5l3 1.5l2.5-2l2.5 1l2.5-3.5l3.5 2.5l2 4l2 3l2.5-6.5l3.5-1.5l2.5-0.5l2.5-3.5l3-2l3.5 0.5l3.5 3.5l3 0l2.5-4l3.5-8l2.5 6.5l2.5-7l2.5-0.5l3-1.5l3.5-3.5l2.5 3l2.5 3.5l3-8l2.5 2l3 2.5l2.5 1.5l3 2l4-5.5l4-1l4 2.5l3.5-1l4.5 6l3 7l4 1l4-11.5l3.5-13l3.5 3.5l4.5-0.5l2.5-2.5l4.5 0l2.5 1.5l2.5 2l2.5-5.5l4 4.5l3 7.5l4-8.5l3.5 3l3 2l3.5-2.5l3-1.5l4.5-1l1.5-0.5"/>
<path d="M352 236l4-16l4.5-12l4-7l2.5-3l4.5-2.5l4-2.5l3-4l4 3l3 3l2 4l3 2.5l3-3.5l3.5-0.5l3.5 0l3 1.5l3.5-6l3.5-4l3 3.5l3 2.5l2-1.5l3.5 3.5l2.5 0l4 2.5l4.5-4.5l2 0.5l3.5-2.5l4-0.5l4-4l4-2.5l3 6.5l2 0.5l4 3l3 1l3-1l2.5-5l3.5 1l3-4.5l4.5 2l2.5 0l2 5.5l2 6l3 0.5l4.5-4.5l4.5-4.5l2.5 1l3-0.5l3.5 1l3 1.5l3.5 4l3.5 1.5l3-8l2.5-2.5l2-4.5l3-5.5l3.5-0.5l2-1.5l3.5 6l2-3l3.5 4l2.5-4l3-3.5l4 1.5l3.5-4l3 0l3.5 5l3.5-0.5l4 0.5l3.5 2.5l3-7l3-0.5l3 3l3-11l2.5-6.5l2.5 3.5l3 3.5l2 0l3.5-3.5l2.5 0.5l4.5-2l3.5 5l2.5-3l2-1l2.5 3.5l3-2l3-1l2.5 4l2.5-1l3 2.5l2.5-8l3.5-3.5l2.5-2l4.5 0.5l3.5-4.5l3.5-2.5l4-1l3-2.5l3-2l3-6l2.5-1l2.5 6.5l2.5 0l4-5l3-1l3-5l4.5-6.5l3.5 6l4.5-7l4-7.5l2 3.5l2.5-2l4.5 0.5l0.5 0.5"/>
<path d="M352 126l2 3l4.5 7l4 9l3 6.5l2.5 3l3.5 3.5l3 0.5l4 3l4 5.5l3 3.5l3.5-4.5l2.5 1.5l2 2.5l2.5 2l3 2l4.5 7l3.5 2.5l3-4l3.5 2l4.5 0l3 1.5l3.5-1.5l4-4l2.5 0l2.5-0.5l3-1l2.5-5l4.5 9l2-1.5l2.5-4l3.5 5.5l4.5-2.5l3 3.5l4.5 3.5l3.5-7l3.5-3l3.5 3l3-3.5l4.5 4l2-4l2.5 5l3-5l2 7l3 3.5l4 2.5l2.5-1.5l3-4l2.5 4l4 4l3-6l4 1l3 4l4 0.5l4 1l3 4l3.5-7.5l3-5l3.5-1.5l4.5 1l3.5-3l3 3l4-0.5l3.5-6l2.5 5l2.5 0.5l3 2l2-4.5l4-3.5l2.5 7l3.5-5l3.5-7l2-0.5l2.5 0l4 0.5l3.5-3.5l4 2.5l4.5-2l2 3l3.5 0l2.5 0.5l3-6l3 3.5l4.5-7.5l3 2l4.5-4l3 4l4 2l3.5-4l3-3.5l3 0l3.5 0.5l3.5-3.5l4.5-3.5l2-5l2 4.5l4.5 6l3 6l2.5-12.5l3.5-4l3-6.5l4.5-2.5l3 6l2 4l4.5-6.5l3-2.5l2.5-2l2 2.5l3.5 3l2 4.5l2.5-0.5l2-0.5l2 3l4.5 1.5l2-4l4 3.5l3.5-10l3.5-2l3.5-9.5l2 4l4.5 4.5l4.5 1l4 2l2 4l2.5 6l4.5 4.5l2 0.5l2 2l3.5 2l4 4l2.5-0.5l3 8.5l3 10l4 4.5l3 4.5l4-6.5l2.5-0.5l4 1l4-11l4-1.5l4 2l3.5 1.5l2.5-9l2.5 2l2.5-3l4.5-7l2 2l2-3.5"/>
<path d="M352 275.5l2-7.5l4.5-13.5l3.5-6.5l2.5-6l3.5-4.5l3.5-4.5l3.5-3l2.5-1.5l2-1.5l4-1.5l3-4l4-6l3-1l2.5-1.5l2-4l2.5 0l3.5-9l3-3.5l2.5-1l4.5 2.5l3.5-2.5l2 0.5l3.5 1l3-1.5l3.5 2l2.5 7l3-6l3.5 5.5l3.5-0.5l2.5-5l3 7.5l4-2l4-1.5l3.5-2.5l3.5 0.5l3-6l4.5-8l2 3.5l3.5 2l3.5-1l3.5 0.5l3 4l3.5-1l2-4l3 3.5l2 0l3.5 4l2.5 3l3-4.5l3.5-6l3 6l3.5-2l3.5-1.5l3-1l2.5 5l4.5 5.5l4-1.5l4 8.5l4-7.5l4 6l4 0l3.5 0.5l4-4.5l4-1.5l3-1l3-4l3-2l2.5 1.5l2.5-0.5l4.5-3.5l3.5 0l2.5-5.5l4.5 8.5l2.5 3l4 6l3.5-7l4.5 3l4-0.5l3-3l3-5.5l4-4l3 4.5l3 4l4-1l4-7.5l3.5 0.5l4-5.5l3-4.5l4.5-3l2.5-2.5l3 7l4 2l3-3l3.5 3.5l4-10.5l2-6l3-4.5l3.5 7l3-7l2.5 0.5l4.5-0.5l3.5-2l2-5l3.5 7l3.5 6.5l3 1l3.5-2.5l2.5-8l4.5-6l3 9l3-1.5l2-3.5l4 0.5l2.5 2.5l3-5.5l4.5 0l3-8.5l3 5l4.5 5.5l2.5-7.5l0.5 4.5"/>
<path d="M352 232.5l3.5-16l2.5-9.5l2.5-7l4-13l4.5-6.5l2-3.5l2-1l2.5-1.5l4.5-6.5l2.5-2.5l2-3l4.5 3.5l4-4l2-1l2 3l4-6l2.5-1l4-0.5l3.5 5l2 1l3-6.5l4 6.5l4.5 2l2.5 0.5l3 1l4.5 12l2.5 0l3.5-6.5l3.5 2.5l2 2l3-4.5l3-4l2.5 2.5l3-3.5l3.5-5l4.5 3.5l4-0.5l2.5-1l2.5 4l3-0.5l4.5-2.5l3 8l3 1l3.5 3.5l2.5-5l3.5 4l2.5-1l3.5 5l2.5-10l4-1.5l4 2l3-1l3.5-3l2.5 5l4 1l4 1l4 9.5l4 1.5l3.5-4.5l2-1l3.5-2.5l3-2l4-1.5l2.5 0l2.5 5l2.5-0.5l2-11l2.5 5.5l2.5 0l2.5-3.5l2.5-3.5l2.5 2l4.5 0.5l2.5-1l2.5-4.5l4 3l2.5 0l2.5 1l4.5 9.5l3.5 0.5l3-2.5l3.5 2.5l3.5 1l2.5 2.5l2-3l4 1.5l3.5 4l3.5-1l2.5-7.5l2-3.5l2.5 5.5l4-2.5l2.5 0l3.5-4l4 8l2.5-8l2 0l4-0.5l2-4l2.5-5.5l2 2.5l4-3l3.5 2l3 1l3-4l2.5 0l2.5 7.5l3 13l3-1l3.5-0.5l3 7.5l3 3.5l4 5l4 2.5l3-3l4 4.5l3.5-1.5l4-1l2-1.5l1.5-5.5"/>
<path d="M352 122l3-1l2 1l3.5 2l3 2l3.5 2.5l3 3.5l3 4.5l4.5 4.5l2.5 1.5l4.5 7.5l3 3l4 1l4-0.5l2.5 0l3 3l4 3.5l4-1l4 3l2.5 0.5l4 3.5l4.5 1l3 3.5l4 1l2-5l3-0.5l2-1l4 9l2.5-4l3.5-2l2.5 0.5l3.5 1l4 1l3.5-0.5l4 3l4-4.5l2.5-2l2.5 0l3.5 5l4 1l4 4.5l4-1l4.5-3.5l3-1.5l4-0.5l3.5 3l3.5-1l2 2l3 2.5l4-9l2 2l2.5-2l3-1l2.5 3.5l2.5 0.5l2-3l2 1l4 0l2.5 5l3 1.5l3.5-2l4-1l2 7.5l3-3.5l4.5 5.5l4-3l4-2l3 2.5l3.5 0.5l2.5 0l3-2.5l2.5 3l4-3.5l3-1.5l3.5 3.5l2-2.5l3-1.5l3.5-1l4.5 3.5l4 0l4.5-14.5l3-2.5l2.5 6l4 1.5l2 9.5l4 1.5l4-3l3.5-8.5l4 1.5l3.5-12l3-1.5l2.5 0l4 3.5l2.5-2.5l2.5-2l3-3.5l2.5-1l4-0.5l4 0.5l3-3.5l3-3.5l3.5-2.5l3 3l2.5-2l2 5l3.5 11.5l3.5-6l4 4l2.5-1l4 9.5l4-3.5l2-1l2-4.5l3-2l4.5-2l2.5 0l3.5-7.5l3 3.5l4 6.5l3 5l4.5 0.5l2 1l2 2l3-3l3 3.5l4.5 1l2 4.5l4-1.5l2 3l2.5-0.5l2.5-2.5l2.5-5l2 0.5l2.5 0l3 1.5l4-6.5l2.5 2.5l3.5-0.5l2.5-3.5l2-0.5l3.5 1l3.5 3.5l4.5 5.5l2.5-1l2.5 6"/>
<path d="M352 207l3.5-10l3.5-5.5l3.5-4.5l4.5-2.5l3-0.5l3.5 0.5l2.5-2.5l4-4.5l3.5-6l4 3l3-0.5l2 1.5l3 5.5l2.5 2.5l3.5-3l2 2.5l3-2l3-4l2.5-3.5l4 6l2-0.5l2.5-4.5l4.5 1l4 1l4.5-3l3.5 6l2.5-1l3 4.5l4 2.5l3.5-3.5l2.5 0.5l4-1.5l3-5l3.5-9l2 4.5l4-4.5l4-0.5l3 5.5l4 3.5l3.5-1.5l4.5 3l2.5-0.5l4-2l3.5-1l3.5-1l2.5 10.5l4-2l3.5 8.5l2.5-6l2.5 3.5l4.5 3l4 3.5l3 4l4-1.5l3-2l3.5-1l2.5-7.5l2 0.5l2.5 4l2.5 1.5l3 0l2.5 4.5l4.5-3l3-0.5l4.5-4.5l3 7.5l4.5 1l3.5-1.5l3-5.5l3 1.5l2.5-2l2.5 8.5l2-1l3.5-5l2.5-3.5l3.5-3l4.5-3l3 1.5l2.5 2.5l3-10l3.5-3.5l4.5 3.5l3.5 0l2.5-2.5l4.5-6.5l3 6l4-5.5l3 6l3.5-5l4-2l3-4.5l3.5-1.5l3.5-3.5l3.5 0.5l4-2.5l3.5-0.5l3-4.5l3.5-13.5l3.5 2.5l4-4.5l3.5 3.5l3-2l3 6.5l4 0.5l4 4l3.5 1l2.5-7l4 1l4.5-6.5l4 5l4-8.5l3-2.5l3.5 2l2.5 2l4 1l3.5 7l2.5 0l3.5 10.5l3.5 5.5l3.5-2l3.5 2.5l2.5 6.5l3-6.5l2 3l2.5-6.5l4.5-4l2.5 2l2.5 9l4-0.5l1.5 3"/>
<path d="M352 189l3-8.5l4-8l4-1l3-6.5l4 3.5l4.5-4l3 1.5l3.5 1l3.5 0l3-1l2.5 0.5l4 5l4.5 1l3.5-2l3.5 1l2 2.5l3 4.5l3.5-6l3 2.5l2.5 0l3.5-2l3.5 0l4.5-2l3-3l3.5 1.5l2-11l3-5.5l3.5 5l3 3l3.5 3l4 4.5l4 0.5l3.5-4l2.5-2.5l3.5 2l4-2l3.5 0.5l2 4l4.5 2.5l3.5-3.5l2-4l2.5-7l3 0.5l4 4l3.5-0.5l2 1l4.5 1.5l3.5 2.5l3.5-0.5l2 3l2.5 7.5l2-0.5l3.5-1l3.5 10l4 1l2.5-0.5l2-1l3-6l3.5 3.5l3-1.5l3-2l2.5 4l2.5 0l2-5.5l3 1l3-5l3-0.5l4 0l3.5-1.5l3.5-6.5l4 4l4 4l2.5 4l3 2l4-1.5l2.5 0l2.5 0l4 0.5l4-6l4-3l3 0l4-4l3.5-4l3.5 1l3-3.5l2.5-0.5l4.5 4.5l3.5 5l2.5 4l3.5-5.5l4.5 0l4.5-2.5l4.5-2l3 2l3.5 1l4.5-6l3-8.5l3.5-0.5l2.5-3.5l2.5-11l2.5 0.5l3 2l3 0.5l4.5-2l2.5 7.5l4-11l3 8l2.5 3.5l4.5-7l3 4l2 0l2.5 7l4.5 2.5l3-2.5l2.5-5.5l2.5 3.5l3.5-2.5l2 3.5l2.5 2l0.5-3"/>
<path d="M352 171.5l3-3l4.5-0.5l4 0l2.5-0.5l4 1l3 0l4 4.5l3 2l3-1l2.5 3l2.5-0.5l2 0l4 0l4-2.5l3 4.5l2.5 2.5l2-1l4.5-2l3-1.5l2.5-2.5l3.5-1l3.5-9.5l4 2l2.5-2.5l2.5-3.5l2.5-5.5l4 1l2.5 4.5l3.5 6.5l2.5 0l3-4l3 5l3-1.5l2-0.5l3.5-2.5l2 0l2.5 3.5l3.5-2.5l3.5-2.5l3.5 2.5l2-0.5l2.5-1l3-2l2.5 1l4.5 2.5l3.5 2l3-5l4.5 1.5l4-0.5l2.5-9.5l2 1.5l4.5-2.5l4 7.5l4.5 7l2-4.5l3.5-2l3.5-7l3 8.5l3.5 0l2.5 0l3.5-1.5l2.5 3l2.5-2l2 7.5l3-3l3.5 5l3.5 1.5l3.5 1l3.5 1l2.5-0.5l4-2.5l3.5-1.5l3-2l3 1.5l2 0.5l2.5-3l2.5-6l3.5-1.5l3.5-12.5l3-1.5l2.5-0.5l4-2.5l3.5 3.5l4 10.5l4.5-2l3-1l3 7.5l3.5-2.5l3 1.5l3-1.5l3-8.5l4 0l3-4l3.5-2.5l4 4l3 3l2.5-12.5l4.5-1.5l3.5-4.5l2.5-1.5l3.5 2.5l4.5 7l3.5 1.5l3.5 4.5l4 0l3.5 3.5l3.5 5l4 4.5l3-1.5l3 3.5l1.5 4"/>
<path d="M352 256l4-17.5l3.5-8.5l2.5-7.5l2.5-6l3.5-8l2-6l4.5-5l4.5-7l2.5-3l3.5-2l2-3.5l3-0.5l2.5 0.5l3-2.5l2.5 1.5l3.5-6.5l3.5 3.5l3.5 3.5l4.5 0.5l2-2.5l3-3l4-4l4 6.5l3.5-2.5l3.5 1.5l4-2.5l2.5-6l4-1.5l3 7.5l3 0l2.5 5.5l3.5-2l4.5 0l3.5 2l2.5 10.5l4.5 1l4 5l3.5-2l3.5-4.5l3-4.5l4 0.5l3 0l2.5 4l3.5 4l2.5-5.5l2.5 2.5l3.5-1l4 0l4-3l3.5 0l4-2.5l2 0l2.5-1.5l4.5 1.5l4 1.5l4.5 1l2-1l3 2l4-0.5l2.5-3l4.5-3l2.5 0l3.5-4l3-4.5l3.5 6l4-1l3-3l3-1l3-1.5l3 1l2.5-4l4-0.5l4-2.5l3.5 1l3 1l3 7l2-4l3.5-2.5l4.5 3.5l3.5-5.5l3-11l2.5 1l3 1l2.5-4l2-0.5l2.5 1.5l3.5-2.5l4.5-1.5l4 2.5l3.5-9.5l4-5.5l3-2.5l3-3.5l3-6.5l4 7.5l3.5 0l2-3l3 4l4-5.5l3.5-1l3 6.5l2-6.5l2.5 1.5l3.5 5l4.5 6l2-2.5"/>
<path d="M352 159l4-3l3.5-0.5l3.5 3l2.5 1l2 4l2 2l3-0.5l2 1.5l4-0.5l4 1l2.5-0.5l2.5 4l3.5 1l3-4l4-2.5l4 3.5l3 2.5l3.5-2.5l3 8.5l2.5-2.5l4.5 1l2.5-0.5l4 4l2-4.5l2.5-0.5l2.5 2l3-6.5l3 6l3.5 0l3-1l2.5-5.5l4.5-4.5l2 3l4 2l2.5-0.5l3.5-2l2.5 2.5l4 0l3-0.5l4.5-3l3-4.5l3 0.5l4-6.5l2-6.5l4.5 4l4.5 2.5l4 6.5l2.5-1l2 0.5l4 4l4 0.5l3.5 6.5l3 0l2.5-0.5l2.5-1.5l2 2l3-0.5l4-6l3 2l3 4.5l2 5.5l2.5 0.5l2.5 1l3.5 3l2.5-2.5l3.5-3l3 4l2.5-6.5l3.5-0.5l4.5-2l4-1l2 3l3-4.5l4-5.5l4.5-0.5l3-3.5l3 3l2 2.5l2.5 4l2.5-6.5l3.5-4l3.5-4l2-1l2.5 2l4 2l3.5 1l4-2.5l3 2l4-2l3.5-5l4.5-3.5l3.5 0l3 4.5l3-0.5l2.5 4.5l2.5 3l2.5 1l2-1l2 3l3.5-3.5l3.5-4.5l2 3l4.5-3l3.5 5.5l3-2.5l2.5 6l2.5-1l3-3.5l4 2.5l4 1l3 4.5l2 0.5l3 6.5l2-9.5l3.5-2l3.5-1l3 2.5l3-2.5l2.5 7.5l2.5-4.5l3 5l4.5-0.5l3-4l4 5.5l3 4l3 4l3.5-6l3.5-9.5l4-1l4-1.5l2.5 12.5l2 8l4 1l2.5-7l2.5 2l4 2.5l4-2l3.5 4l3-1.5l4.5 1.5l2.5-9l2.5 3.5l2.5 3l2.5-1.5"/>
<path d="M352 268.5l2.5-13.5l2-10l4.5-13l3.5-7.5l4-9l2.5-4l3.5-7.5l4-3l2-0.5l3.5 0.5l3.5-1l3.5-9l3-3l4.5 0.5l3-2l3.5-2l3.5-6l2 2l4 3l4.5-2.5l4.5 1l4.5 5l4-0.5l3-3l2-1.5l4.5 0l4-2.5l2.5 1l2.5-7l4.5-3l4 0.5l3-1.5l4-2.5l2.5 3l4-0.5l4-0.5l3 3l3-7l2.5 1l2.5 4.5l2.5 7.5l4-3l3-9.5l3.5 4.5l3.5 4l3 0l4.5-1.5l2 1.5l3.5-8.5l4.5 2.5l4 1l3 2.5l4 6.5l3.5 2l3 1.5l2-3.5l3.5-5.5l3.5 3l3-5l4 0.5l3 2.5l3-3.5l2.5-0.5l2.5-6l4.5-3.5l3 3.5l2.5-1.5l4 8.5l4 0l2 0l4 6.5l2.5-1l3.5-6l4-1l2 3.5l3 1.5l2.5-4.5l3.5-3.5l4 6.5l4-1.5l2.5 0l3.5 2l4-4.5l4 0.5l2.5-9.5l3.5 1.5l2.5-2.5l4 1l3-5.5l3.5-1l2.5 1l4-1.5l2.5 5.5l2.5-2.5l3.5-8.5l2 8.5l4 1l4.5-1l3 1l3-3.5l2.5 3.5l3.5 1.5l2.5 0l4 2l4-6.5l4.5 1.5l2.5-5.5l4 4l4.5-3l3 7.5l4-4.5l4 2l2.5 3l3 4l4.5 1l4.5 6.5l4.5 2.5l4 4.5l3 4l4.5-5l2 2.5l1-5"/>
<path d="M352 143.5l2.5 0l3.5 1l4 3.5l3 2.5l3.5 4.5l4 1.5l2.5 2l3 5l3.5-0.5l4 2l2 4l2 2l4.5-1l3.5 2l2.5 5l3-3.5l4.5 3.5l2.5 2.5l3 2.5l3-2.5l3.5 1.5l4.5-0.5l3 3l4 1.5l3-4.5l4-4.5l3 6.5l3-6l3 2l3.5 1l2 5.5l4 4l4 3.5l3.5-6l4.5-5l3.5-2l4 7l3.5-3l3.5 5.5l3-6l4-1.5l2.5-1l3.5-1.5l4 5.5l3 6.5l4-5.5l4 1l2.5-3l4 1l3 0l3 1.5l3-6.5l3 0l2.5-3.5l2.5 0l2.5-1l3.5 0l4-2l2.5-1l3.5 1.5l3.5-6.5l3.5 8.5l2.5 0.5l3.5-3.5l2.5-1.5l4 1.5l4.5-3.5l2-2.5l3.5 0l4.5-5l2.5 2.5l3.5-4.5l4-5.5l4.5-0.5l3.5-4l4-3.5l4-1l4-2.5l3.5-7.5l4.5-2l3.5 2l2.5-1l2.5-1l4.5 7l2-9.5l3 2l4.5 3.5l3.5 6l3.5-1l3 0l3 0.5l3 2l4 2l4-1l2.5 7.5l4 4l3 4l3-5l4.5 7l3-3.5l3.5-4l4.5 4l3 9l2.5-1l2 5.5l3.5-2.5l3.5 12l4-4.5l4-1.5l4-0.5l4 4.5l4-1.5l3-4.5l3-7.5l3.5-8.5l2.5 1.5l3.5-3.5l3 0l2.5-2l3 0.5l2-0.5l4 7l4 9.5l4 8l3.5-5.5l4-10.5l3.5-6.5l3-1l4.5-9l4-2l3.5-2.5l3 3l2 1.5l3.5 2l3-1.5l1 0"/>
<path d="M352 163l3-4l3-1.5l4 1.5l4.5 0.5l3 3l2-1l3 0.5l3-2.5l4 3.5l3.5 1.5l3.5-3.5l4 3.5l3.5 0l3 6l4-1.5l3.5 0.5l2 5.5l3.5 0l2 2.5l2 0l3-3l3 4l2.5-5l3.5-5.5l4.5 2l2.5 1.5l4 2l4 0l3 3.5l2.5-2.5l4-12.5l4 1.5l4 5.5l4 4.5l4.5 7l2 0l4 1.5l2.5-2.5l3-3l4-5.5l2.5 4l2.5-1l3.5 1.5l4.5 5l3 5l2.5-1l4-2l2.5 2.5l4 5l3 2l4.5 0.5l2.5 2l3-2l3.5-5l4 7.5l3-4.5l2.5-2l3-3.5l2-1l2.5 4l3-6l2 3.5l4-0.5l2-6.5l3 3l2.5 0.5l3-6l3.5 6.5l3 1l3.5-3l3 1l3.5-2.5l2-3l3.5-3.5l3 5l3-1.5l3-1.5l4.5 3l2-1.5l4.5-0.5l4.5-4.5l2-3l2-3l4-4l3.5-6.5l3 5.5l3 3l2.5-8.5l2-3.5l4 3l4 4.5l3 2.5l3.5-1l3.5-7.5l4.5-6l2-0.5l3-9l4-2l4-2.5l3 0l2.5 2l2.5-4l4 9.5l3.5 4.5l3 1.5l2.5-7.5l2.5 2.5l2.5-1l2.5-1l4.5-3.5l3.5 4l3 2l4.5 5l3-3.5l4.5-1.5l2 4l3 0l3 0l4 6l3.5-2.5l3.5 5.5l2-4l4 8l4 4l4.5 4l2.5-9.5l3.5 10.5l4 8l3.5-2.5l2 4.5l4.5-2.5l2.5-5l2-0.5"/>
<path d="M352 155l2.5 0.5l2.5-0.5l4.5 4l2.5-1.5l4 2.5l2.5-1l2 0.5l3 3.5l3.5 2l4-2l3 2l2 1.5l3.5 2l2-1l3.5 1.5l2-4l3.5-2l3-2.5l2 5.5l3 2.5l3.5-2.5l2 1.5l3-8.5l4 2l4-0.5l3.5 0.5l4-5.5l2 4l2.5 0l3.5 2.5l4-2l3.5-1.5l2 6.5l4 3.5l4.5-0.5l3.5 0.5l2 3.5l4.5 3l2.5 3l3.5 4l2.5 11.5l2.5-5l4 5.5l3-6.5l4 0.5l4 0.5l3.5 0.5l2.5-2l2-1l3 2l4.5-4l4.5 1l2-5.5l3.5 6l3-1l2-2.5l4.5 5.5l2.5 6.5l2.5 0l3.5-1l4-1l4 0l3 4l4 1l2.5-2.5l3.5 1l3 4l2 6l2-0.5l4-0.5l4-1.5l2.5-0.5l2.5-4l3.5 1l4 3.5l3.5-10.5l2.5-8.5l2.5 0.5l3.5-0.5l2.5-9l4 2l2.5-1l3.5-5l4.5 4l2 1l4.5-3l3.5 0l2 4.5l2 4l3 2l4.5-9l3-8l3.5-2l3.5 1l3.5 0.5l3.5-5.5l4 0.5l3.5 0.5l2.5 1.5l4.5 3l4.5 11l3.5-13l3.5-5.5l4.5-1.5l4 6l4-1.5l3.5-3l2-1l3.5 8.5l4.5 0.5l3-5l3.5-3l2.5 3.5l4.5 2l3-1l3-2.5l3.5-4.5l2.5-2.5l2.5 2l4.5 5l3.5 0l3.5 5l4.5 2l2.5-10.5l4 8.5l3 8l3.5 0.5l4-4.5l2.5 2l4 3.5l2.5-10l3.5 4.5l4 7.5l2.5-2l3-4.5l2-3.5l2.5 4l3.5-0.5l4.5-4l4 3l3-5.5l2.5-4l4 3.5l4.5 3.5l3.5 2.5l4 3l3 0l3.5 1l2-2l4-3l2-11"/>
<path d="M352 102l3.5 9l3.5 8l4.5 12l2.5 5l3 6l2 4l2.5 8l4 2.5l4.5 4.5l4 4.5l2 6l4.5 0.5l4 3.5l3.5 0.5l3 0l2-2l3.5 7.5l3.5 2l4.5 3.5l4-2l2.5 5.5l2.5 1.5l4-8l4 3l4-0.5l4 0.5l3.5-6.5l2-1.5l3.5 0l3.5-6.5l4.5 2l2 0.5l3.5-1l2 3.5l4.5-1l3.5-2.5l2.5 3.5l3.5 1l4-3l2.5-1.5l3 0.5l2.5 0.5l3.5 3.5l3-3.5l3-9.5l3 4l4 5l3.5 4l3.5-2.5l4.5 0l3.5 4l2-2.5l4-2l4 5l2.5 3.5l3.5-3l3 2.5l3.5-6.5l3-5l3.5-2.5l4.5 2.5l4-1l3-2.5l2-0.5l2-5l3.5 2l4 1.5l4.5-1.5l3.5 3.5l4-0.5l2 2.5l2.5-3l3.5-8l3.5-1l2.5 1.5l3.5 3l2.5-4.5l2.5-1l3.5-1.5l3.5 2l3.5-1l4 0l4-2l3.5 0.5l3-4l2.5-2.5l2.5 1l4-2.5l2.5-3.5l4-6.5l2.5 0.5l3.5 0l4 1l3 0l2.5 2.5l3.5-4.5l2-7l4.5 4.5l3.5-4l4 7.5l2.5 6l4.5 6l3-3.5l2.5 5l2-5l4.5-1l4 4.5l4 1l2.5-2l4-0.5l4 0.5l4.5 0.5l4 7l4-2.5l3-4l4 2l3.5-2.5l3-2l2-5.5l4 3.5l3.5 3l4-2.5l4.5 1.5l2.5 0.5l3-5l3 3l3.5 3.5l3 4.5l3.5-5.5l3 2.5l3-5l3.5 4l2.5-4.5l3.5 1l4-5l4.5-1.5l2.5 2.5l4.5 0.5l3 1l4.5 1.5l3-1.5l3.5 6.5l2 6"/>
<path d="M352 160.5l2.5-2l2.5-1l3-0.5l2.5 2l4.5 3.5l2 4.5l4 6l2.5-3l3.5 0l3.5 2.5l3.5-2.5l4.5 5.5l2.5 1.5l2.5 3l2.5 5l4.5 3.5l2-7l2.5-3l4.5-3l3.5 1l2.5 4l3-0.5l4-5l2.5 1.5l2-3.5l4 0l3 2.5l2.5-0.5l4-6l4.5-3.5l3.5-3.5l2.5-1.5l4 3.5l4.5 4l3.5 2l2.5-7.5l3.5 4.5l2.5-2.5l4.5-4l3 2.5l2.5-2l3.5-3l2.5 4l2 0.5l3-5.5l3.5 3.5l3.5-2.5l2.5 6l4-7l4.5 5l3.5-7l3.5 5l2 2l2.5-5l2.5-1l3 1l3-0.5l2-1.5l4-3.5l4.5 5l4.5-3l3 3l4-1l3.5-0.5l2 1l4.5 0.5l2.5 4l3.5-1l4.5-0.5l3.5 2.5l2.5 2l2-1l3.5 2.5l2-3l3.5-0.5l2.5 0.5l4 3.5l4.5 2.5l3.5-3l2.5 2l3 12.5l2-1l3-4l3-6l3.5 2l4.5 7.5l2-11l3 3l2.5 2.5l2.5-5l3 2l4-6.5l3 0l3-2.5l4.5-1.5l3.5 7l3.5-3.5l3.5-2l4-7.5l4 11.5l2 3.5l4 2.5l2.5 0.5l2.5-0.5l3.5 0l4-2.5l4.5-0.5l3-4l4.5-1.5l3-2.5l4 0l2.5 4.5l3-4l3-1.5l3.5-6.5l4.5 5l4 10.5l3-8.5l4 0l2.5-3.5l4 5l2-5l3.5 1l2.5 11.5l4.5 3.5l4 2.5l4.5-2l2.5-1l3 4l3.5 8.5l3.5 3l2.5 7.5l3-3l4.5 9l3.5-3.5l4-7l2.5 7l3-6l3.5-9.5l4-9.5l3 7l2.5-5.5l3-0.5l2 5.5l4.5-2l3-3l3-8l3-7.5l4.5-3l3.5 3.5l3.5-1l3 0l3.5-2.5l2.5-3l2.5-3l3.5 0.5l3-0.5l3.5-11"/>
<path d="M352 143l3.5-4.5l4-1.5l3 2.5l3.5 2l3.5 3l4 4.5l4-1l3.5 1.5l4 3.5l3-1l3.5 6.5l3-1l3.5 1l2.5-0.5l2.5 0.5l3 2.5l3-2.5l4-2.5l2.5 6l3.5-1l2-6l3 3.5l2.5 5l3.5-0.5l4-2.5l4 0l2.5-2l4-4.5l2.5 1l2.5-2l2 1l4 1.5l4.5 1l3 0.5l3.5 0l2.5-2.5l4-4.5l2.5 2l4.5-4l4.5 5l3 8.5l3.5 6l2-7.5l3.5 1l3.5 4l2-3.5l4-0.5l2.5-0.5l3-3.5l2-0.5l3 4.5l4.5 3.5l3.5-2l3-8l4.5 1l3.5 3l4-1l4.5-2.5l3-3l2 3.5l4 7l2.5-1l2-4l2.5 3.5l4 0.5l2 5l4 0.5l3.5 1.5l3.5 8l3 2l4-4.5l4.5-4.5l3-1.5l3-3l4 2.5l4-2.5l3 1.5l2.5 1l4-1l2-7.5l3.5-3l3.5 10l2-1l3-1.5l3-7.5l4 8l3.5 0.5l4-2.5l2-4.5l3 1l2-3.5l3.5-1l4-4.5l3 5l2.5-2.5l3.5-0.5l3 5l4.5 5l4 1.5l2.5 10.5l3 1.5l2.5-1l2 4.5l3-1.5l2.5-2.5l3-1l2.5-6.5l4-2.5l4-11l3.5 6l3-7l4.5 8.5l3 3l2 4l2 4l4.5 4l3.5 1.5l4-0.5l3-4.5l4.5 9.5l4.5-6l3.5-4.5l2.5-3l3 5.5l2.5 0.5l3.5-6l4 3l3.5 1l3.5-3.5l3.5 3l4.5 1l2.5 1.5l3-4l2-1l3 1l2-7.5l4-10.5l4 3l4.5-2l2.5-6.5l4 3l2 2.5l3-10l4-1.5l2.5-6.5l3.5 5.5l4.5-5l0.5 6.5"/>
<path d="M352 247.5l3-12l4.5-15l3-6.5l2-2l3.5-4.5l4-3l2.5-3.5l2.5-7l4 2.5l4 1.5l2-6l3.5-4.5l4 3l4 0l2 5.5l2.5-1l4.5-3l3 1.5l4-2.5l4 2l3.5 3.5l3-2.5l3.5-4l4.5 2l4 2l3.5 2l3.5-1.5l3.5-9l2.5 1l3.5 4l2.5 3.5l3-5l2 2.5l3 2.5l2.5-4.5l3-5l4-4.5l2 2.5l3.5 3l3 3l4-1l2.5 7l2.5-5.5l2.5-3l3-4l3 9l3-3.5l4-2l4 0.5l4-3l2.5 2l3.5 3.5l3.5-2l3 3l4-6.5l4 0l4-3l4 1.5l4.5-2l4-2.5l2.5 8l3-7.5l4.5 3.5l3 2.5l4-0.5l3 2.5l3.5 0.5l3-1l3.5-3l3.5-4l2-7.5l3.5 2.5l3-1.5l2.5 2.5l3.5-2l2.5 0l2.5-4l3 0.5l4 4l3-3.5l4 2l3.5-2l3-5.5l2 10.5l4 0l4.5-0.5l2.5-2.5l4-3.5l4.5 3.5l3.5-4l3 2l4 5l4-10.5l3.5 0.5l3-3.5l3 3l3 1l2-4.5l3-1l3.5 5l2.5 2l3 7l3 3l4-6.5l4 1l4.5-12l4 1l3 1l4.5 3l3.5 6.5l4 4.5l2.5-0.5l2.5-2.5l2-5l4 4.5l3 3.5l2.5 3l3 7.5l4 1l2-6l4-1.5l4-9l3 1l3.5 1l4 11l2-6.5l4.5 6.5l2.5 3l3.5 4l3.5-3.5l3-5l3.5-14.5l2 4l3.5 6.5l2-3.5l3.5-2l4-1.5l2.5 1l0.5-6"/>
<path d="M352 154l4.5-5l3-1.5l2 1l2.5 0.5l2-2l4.5 4l3.5-3l2-2l3 3l2.5-2l3.5 0.5l2 8l4.5 1.5l3 2l3.5 7l3-1l3.5 3l4-4.5l2.5-1l3 2l2 4.5l4.5-3l3.5 1.5l3 2.5l2-2.5l3 4l4.5 4l4 1l3 2l2.5 0l3.5 0.5l4-8.5l2.5 3l4.5-4l2.5 2l3-0.5l2.5-2l3 5.5l2-6.5l2.5 2l3 0.5l4-6.5l3 9.5l4.5 0l3 6l4 2l3-6l2.5 5.5l4 2.5l3 2l4 1l2.5-9l3.5 2l3.5 1l3.5 2.5l3.5 4l4.5-4.5l2 1l2.5 0l3.5 0.5l3.5-3.5l2 3l3.5-5l3.5 2.5l4.5-1.5l3 2.5l3.5 1l3.5 5l4.5-0.5l3-0.5l4.5-2.5l3-1l2.5-1l2-2.5l4.5-1l4.5-4l2.5 5.5l4-5.5l2.5-2l3.5 0l3.5-8.5l4-6l4.5-2l3.5 2l4.5 2l3-2.5l4.5 0.5l3-1.5l4-10.5l3.5 0l4 6l2.5-4l3 2.5l2.5-5.5l4.5-4l3 4.5l2.5-1.5l4.5-3l4 3.5l3 3.5l3 7.5l4-6l2 2.5l3 0l2 1l3 0.5l3.5-8l2.5 1l2.5-0.5l3-5l2 1l4-4.5l3 10.5l2.5-9l2.5 6.5l4.5-1.5l2.5 2l3.5-2.5l4 8.5l3.5 5l4.5 0.5l4-3l4.5 2l3.5-1.5l2 6.5l2.5 3l2-4l4.5-3l3.5-10l3.5 10l4.5-1l4-5l3 4l2.5-1.5l4 4.5l3 2l3 1.5l2.5-7.5l3 6.5l4 1l4 2l4-3.5l4.5 11l2 0l3 4.5l3 2.5l2.5 1.5l3.5 11l3-7l3 3l2 9.5l2.5 3.5l3 3.5l3-3.5l3.5 3l2 0"/>
<path d="M352 170l2.5-3l3.5-4l2-1.5l4 1l4 1l2.5 4l4-3l2.5 3l4 1l2 0l4.5 3.5l2.5 0.5l4-2.5l2.5-3.5l2.5 2l3 2.5l4 2l3.5 5.5l3.5 1.5l3-0.5l2.5-4.5l3.5 7.5l2.5-1.5l2.5 0l2-0.5l3 2.5l2.5 0.5l3.5 1l2.5-7.5l3-0.5l2.5 3.5l2 5l2-4.5l3.5-0.5l3.5-1l3-3l4 4.5l3.5-3.5l3.5 4l2-2.5l4-4l4.5 4.5l4.5 0.5l3 0.5l2 1l3-5.5l2-6.5l3-0.5l4 3l4.5 3l4-2l4.5-3l2.5-0.5l3.5-3l2.5 2.5l3.5 6l4-1l4 1.5l3.5-1l3.5 3l2.5 0.5l4 2l3.5 3l3.5-4l3.5 5l3-1l2.5 1l4 0.5l3.5-3l2.5 4.5l2.5 1l4-9l3.5-3l2 3.5l3.5 6.5l3.5-5.5l4.5 1l3-0.5l4.5 1l3-0.5l3.5-2.5l4-7.5l2 8.5l2.5-8.5l2-0.5l3-3l2-9l2 2l4.5-6.5l2 2.5l3-2.5l4-6l4 2.5l3.5-1.5l2.5 2.5l3.5-1.5l4-5l3.5 7l2 1.5l3-10.5l2.5 0l3.5-0.5l3.5 1.5l3-2.5l3 1.5l2.5-5.5l3.5 3l4 10l2.5 3l4 1.5l4 1.5l2.5-8.5l2 5l4-3.5l3-1l2.5 2l3-3l4 4.5l4 0l4.5 1l3.5 0l2.5-10.5l3.5 2l3-4.5l2.5 6l2.5 0l4.5 3.5l2.5 6.5l3.5-4l2.5-2.5l3-4l3.5 4l3.5 6.5l3.5-8l3.5 8l2 10.5l4 2.5l2.5-5.5l4.5-8l2.5 5l2-2l3 4l0 1"/>
<path d="M352 150l4-4l2-0.5l2 1l2.5 0.5l2.5-0.5l3.5 2.5l3.5 0l4 4l3-0.5l3.5 2l3.5 2l2 2l4.5 5.5l3-4l4 3l4 5.5l2.5 2l3-2l4-1.5l3.5-1l3-0.5l3.5 0.5l2 5l2.5-2l4-2.5l3-4l4-2l3.5 4l3-2l3-1.5l4-1l2.5 1.5l3 3l3-0.5l4-1l2 2l4 1.5l3.5-0.5l3.5 2l2-3.5l3 2.5l3 7.5l2 0.5l3 0l4 6.5l2 3.5l2-1l3.5 5.5l4 4l4-6l2.5-5l2.5-2.5l2.5 3l2.5 5l4 0.5l3.5 2.5l3.5-2.5l3.5-1.5l2.5 1.5l4-1l3-4l4.5 7l4.5-8.5l3.5-5l4 1.5l3-0.5l3.5 0.5l3-1.5l2.5 0.5l4.5-10.5l3.5-3l2.5-1.5l3.5 4.5l2-6.5l4 5.5l4 3.5l3 3.5l4.5-3l3-0.5l4.5-4l4-0.5l3.5-1.5l3 0l3.5-6.5l3.5 1.5l4.5-5l2.5 1.5l3 1l3.5 0.5l4-8l3-7l4 1.5l3 3.5l3.5-1l3.5-1.5l4-3l3-1l3-4.5l3 5.5l2.5-9.5l4 1.5l3.5 5l3.5-11.5l3 5l0 14"/>
<path d="M352 137.5l2-2l4-2.5l4 1.5l3.5-1.5l2.5 3.5l4 0.5l2 0l2.5 3.5l3.5 4.5l3 2l4 1.5l3 1.5l4 1l3.5 4.5l2.5 2l2.5 1.5l4-4l2 6l3-6l2-3l3 4l3.5 1l4.5 3.5l2.5 1l3.5-3.5l4 1.5l4.5 3l4 0.5l2 3l2 0l3 0.5l2.5-6.5l3.5-0.5l4 1l4 4l3.5-4l3.5 6l3.5 2l3-5l4-2l4 4l2.5-0.5l3 1.5l4 8.5l4.5 3l3-3.5l4 0.5l2 1.5l3.5 2l4-0.5l2-0.5l4-6.5l3.5 4l3.5 1.5l3 6.5l4-4.5l3.5-4.5l4-1.5l2 5l3.5-3.5l3.5 1l4-4l4-1l3-1l3 1l4 1.5l3.5 7.5l3-5.5l2-0.5l4 3.5l4-2l3-2.5l2 2.5l3-6.5l4 4l3.5 1.5l3 2.5l3.5-4.5l4.5 3l2-3.5l2 0.5l4.5 2l3.5-5.5l3 0.5l3.5-1l3.5 0.5l4-7l4-4.5l3.5-3.5l4.5-2l3.5 0.5l3-5.5l2.5-1l2-3.5l3.5 1.5l2.5-9l4-6l3 6.5l4 4.5l4.5-2.5l2-10l3 4l4 0.5l3-1l0 7.5"/>
<path d="M352 225.5l3.5-12l3-6l4.5-8l3-0.5l2.5-2.5l2.5 1l3-0.5l2-2l3-2l3 0.5l3-4l4-2l3.5 4l3.5-5.5l2 2l2 5l3.5 1l2.5 2.5l3.5-3.5l4-5l4-1.5l4 6l3 1.5l4-2l2.5 0l3.5-4l2.5-0.5l3.5 0.5l4 1l2 4l3-7l4.5-1l4-2.5l2-5l4.5-2.5l3 3.5l2-0.5l4-4l3-4.5l2 1.5l3 2l2 1l2.5-4l3 2.5l3 1l3.5 2.5l3.5 0.5l2.5 1.5l4.5 2.5l4 2.5l3 3l3-4l2.5-1l4-6.5l4.5 2l3.5-3.5l4.5 0l4-2.5l4 2l3.5-0.5l3.5-2.5l3-0.5l3.5-0.5l3.5-8l3.5 2l2.5 3l4 1.5l3.5 11.5l3-8.5l3 2l2.5-2.5l2.5-4l3 1l2.5-0.5l3.5 0l2.5 10l3.5-1.5l2 1.5l4-6.5l3.5-12.5l4-2l4.5-0.5l3 8l3.5-0.5l3 0.5l3.5-1.5l3.5 0l4-0.5l4.5-2.5l3.5-5l4.5-14l2.5-2.5l2-2l2.5 6.5l3-3l2.5-1.5l3.5 10l4-5l3.5 5l2-7.5l3.5 2.5l3.5 0l4 10l3.5-4l3-4.5l2-11.5l3 0.5l4 1l4.5 7l2-0.5l4 4l3.5 1l2 7.5l4 3l4 2l3.5-7l2.5 2l2-5l3 3.5l3.5-0.5"/>
<path d="M352 112l4.5 0.5l2 0.5l4 5.5l3.5 4.5l3.5 4l3 4l4.5 5.5l3.5 1l4 5l3.5-1.5l3.5-1.5l2.5-0.5l2.5 4.5l3 4l2.5-3l3-4l3.5-3l4 7.5l3.5 4l2.5 0l2.5 0l3 0l3 9l4 3.5l2.5 1.5l4 3.5l3.5 2.5l2.5-6l3.5-4.5l2.5 2.5l4.5-2.5l3.5 2.5l2.5 2.5l2-3l3-4.5l3 5l3.5 13.5l2.5 2.5l4 2.5l2.5-6.5l3.5 0.5l3.5 1l4.5-1.5l2 1.5l3.5 0l4-1.5l3-0.5l3.5 2.5l3 2.5l3-0.5l3-1l2.5 1.5l3-2l3.5-5.5l2.5-1l4 5l3.5-1l3.5 4l4-0.5l3 2l2.5-2l3-3.5l4.5-8l3.5 1.5l4.5-4.5l4-1l4 3l4-1l2.5 1.5l3-5l4 3l4 3.5l4-6.5l2 4l3.5-7l3.5 5.5l2.5 1.5l2 10.5l4.5 1l2 1.5l3-9l4-8.5l3 0l2.5 6.5l4.5-13l2.5 5.5l3-6l4.5 1.5l3.5 2.5l4-2.5l4-2.5l3-1.5l2.5 0.5l4-7l3 2.5l3-1l3.5-1l2.5 5l3-2.5l3 12.5l3.5 6l3-3.5l3-7.5l2 5l3-8l2.5 2.5l3.5 6l3.5-3l2.5 9l2-12l2.5-5l4.5-3l3 3.5l2.5-1l4.5-1l2 3.5l3.5 0l3.5-6l4-8.5l2.5 2l2.5 9.5l4-2.5l4 4.5l3.5-1.5l3.5 5l2 6.5l3-1.5l3.5-5.5l3-3.5l2.5 3.5l2.5 6.5l3.5 5l3.5 3.5l2 2l4-4.5l2.5-2.5l2.5-2.5l2-3.5l3 0.5l3.5-9.5l4 6.5l2.5-9.5l2.5 5l4 1l2-6.5l2.5 1l2.5-8.5l4 10l4 2.5l4 0l2.5-3.5l3-4l3 8l2.5 5l2.5-2l3 2l2.5-0.5l1.5 14.5"/>
<path d="M352 282.5l2.5-24l4.5-26l4-14l4.5-11l2.5-7l4.5-13.5l3.5-3.5l3.5-3l4.5-3.5l2.5 0.5l4-5.5l4 6l3 7l4 0l3.5 1.5l4 2l3-4l2.5 1l4-4l3 3l2 6l4-4l2.5-2.5l2-6.5l2.5-1l4.5 5.5l2 2.5l2 8.5l2.5-6l2 4l3.5-0.5l2 3.5l2.5 0.5l4 2l3.5-1l3.5-1.5l4-2.5l3.5-0.5l2.5-2.5l2-3.5l3-1.5l4-2.5l3.5 1l4.5-0.5l4.5 4.5l4 5l3-0.5l3.5-1.5l3 3l3.5-4.5l4-0.5l4-1l2-1.5l3 6l2-6.5l3.5-0.5l4 0l2 0.5l2.5 1l3.5 0.5l3 1.5l3-4.5l4 0l3.5 1.5l3-3l4.5 6.5l2.5-1l2.5 4l4.5 2l3 4.5l4 1.5l4.5 0.5l3.5 7l2.5-2.5l2.5-6.5l2 1.5l3.5 6l4-0.5l2 4l3.5-2.5l3.5-6.5l3.5-1l3.5-3.5l4-6l3.5 1l2-6.5l4.5 2l4 9l3.5-1.5l2.5 8.5l4-9l2.5-6l4 3.5l3 1l3.5 3l3 0.5l2.5-5.5l3.5-2.5l3-3l3-8l3 0.5l2.5 3.5l3.5 4.5l4.5-4.5l2-0.5l4-0.5l3.5 11l2.5-3l2 1.5l4 2.5l2.5 5.5l4 0l4 0l4.5 3.5l2 4.5l2.5-3.5l4 4l3.5 0.5l2.5-3l4-7.5l3 1l3-1l3 6l3-3l3.5-1.5l2 2l4 2.5l2.5 5.5l4.5-10l4.5 6l4 2l3 0.5l2.5 1.5l4 3.5l3.5-3.5l4-2.5l2.5 6l4-6l2.5 0l2.5-6.5l4-2l2 4l4 5l2.5-3l2.5 8l3 4"/>
<path d="M352 224l3.5-16l4.5-11.5l3-4.5l4.5-6.5l2.5-1.5l4-2.5l4-3.5l3-4.5l3.5-3l3.5-5l4-2.5l3 2.5l4.5-1l3.5 3.5l3 1.5l4.5-3.5l4-0.5l4 4.5l3-5l4-3l3.5-4l3 7l3.5 0l4-5.5l3 5l2.5-3.5l2 3.5l4-2.5l3-1.5l2.5 7.5l4-3.5l3.5 3.5l2.5 3.5l3.5-3l3.5-5l4.5 8.5l3.5-7.5l2.5-1.5l3.5 0.5l2-1.5l3 1.5l2.5-3.5l2 0.5l2.5-6l4 0l3.5-1.5l2 8.5l3-1.5l4.5 2l3.5-0.5l3 1.5l3.5-1l3.5 3.5l4.5-1l2.5 4l2.5 5l3.5-0.5l3.5 4l2.5-2l4-5l3.5 4.5l3.5-0.5l2.5-1.5l4-5l4.5 7l4-6l3 4l2.5-4l2 0.5l4.5-0.5l3-5.5l3.5 1l3.5-10.5l4 0l3-0.5l3.5-6.5l4-1l2.5-6.5l2.5-3.5l2.5-2.5l3 0l4-1.5l2 2l2.5 7l2 4l3 2.5l4.5-4l4 0l4.5-10l3-7.5l4 1l4 4.5l2-9l2.5-1l3.5-2.5l3 7.5l3 1l2.5-0.5l3.5 5l3-0.5l3.5-1l3-2l3.5-3.5l4.5-0.5l3.5-2l3 1l2.5 9.5l4-1.5l3 7.5l2.5-7.5l3 7l3.5-5l3-3.5l4 5.5l4-2.5l3.5 0.5"/>
<path d="M352 215l4-11.5l2.5-4.5l3-4l4-3.5l2.5-2.5l2.5 0l2.5-3l3.5-1.5l2.5-4l3-1.5l4.5-0.5l4-1l2 2l3-3l2.5 0.5l4-1.5l4 0.5l2.5-2.5l2.5-1l3-2.5l3 2.5l2-4.5l3.5 1.5l2.5 0l2 3.5l3.5 5.5l2.5 1l3.5-2.5l4.5-5.5l4-5.5l3.5 3.5l2.5-1l4.5-2l3 1l4.5 0.5l3.5 7.5l2.5 1l4-5l4 1l4.5-7l3 3l4.5 6.5l3.5 4.5l3 5l3.5-5.5l3 2.5l4.5 6.5l2-4l3 1l4-5.5l2-1l2.5 7l2.5 5l3-2.5l3.5-2l3.5 0.5l3.5-3.5l2.5 4l3.5-1l3 6.5l2.5 1l2 2l3.5-7l4.5-3.5l4.5 1l3.5-7l3.5 2.5l4-4.5l3 6l2-5l3 1l4 1l4.5 1l4 3l3-4l4-1l3.5-1l4-2l2.5-1.5l3.5-4.5l3-0.5l3.5-0.5l4-6.5l2.5-3l2.5 2.5l2.5-7l3.5-4l4-1.5l4.5-4l2.5-5l3.5 3.5l4-6.5l3.5-2l4 8.5l2.5-2.5l4 3.5l3 5l3 0l4-1.5l2.5-5l2-0.5l3-1.5l2.5 2.5l3.5 6.5l2.5-0.5l2.5 1.5l3-5l2.5 9l4-9.5l3-2.5l2 5.5l3-6.5l3-1"/>
<path d="M352 146.5l3.5-0.5l3 0.5l2.5 2.5l2 0.5l2.5 1.5l2.5 2.5l3.5 4l4.5 1l3.5-1.5l3.5 0l2.5 6.5l3.5-2l3.5-1.5l3 6.5l3.5 0l3.5 1l3 2l2.5-4l3.5 1l4-3.5l3.5 1.5l2.5 0l4 0l3 4l2.5 1l4 0.5l4-3l4.5-1.5l3.5-1.5l4-2l3-0.5l3.5-3.5l2.5 10l4-0.5l4.5 5l3.5 2l3 1l4 4l3.5-3l2-0.5l3 1.5l2.5-2l4 7l3.5-2.5l4-6l2.5-4l4.5-1.5l3.5 0l3.5 1.5l3.5 5l3.5 5.5l4.5-1.5l2.5-8.5l4 5l4-3l4 4.5l3 7l4-3l2.5-2.5l3.5 4.5l2.5-4l2.5-2l2.5 2l4.5-4l3.5 5l2.5 1l3.5-5.5l4 2l4 1.5l3-5l3.5-2l3-1l4-0.5l2.5 3.5l2.5-9l2 8l3.5-3.5l3-4.5l2.5 3l3.5-7.5l3-3l3-4.5l2.5-6.5l3.5 6.5l3.5 2.5l2.5-4.5l4 5.5l2.5 8l3-5l4.5 0.5l3.5-2l3-7l4-8l3.5 0l2.5 11l3.5 11.5l2.5-7l2.5 0l2.5 1l3 7.5l3.5-0.5l3 4.5l4.5 7.5l3-2.5l3 7l4.5-0.5l2.5-2l4-0.5l3 5l4-7.5l2.5 4l2-4.5l3.5-4.5l3 3l3.5 1l2.5-3l4-6.5l3.5 3.5l2.5-2.5l2.5-4.5l3.5 3.5l4 0l2.5 10.5"/>
<path d="M352 149.5l2.5-5l2-4.5l3-1l2-2.5l4.5-3l2.5-1l3.5-0.5l3.5 2l3 1l3-1l3.5 3.5l2.5-1.5l4 1.5l4.5-2l3.5-1l3 0l3.5 0.5l3.5 6.5l4 6.5l3.5 0l4 0l2-3.5l4.5-1.5l3 2l2-3l2.5-2.5l3 0l4 1l3 8l3.5-4.5l4.5-0.5l2-1l4-3.5l3.5 0l3.5 0l3.5 2.5l2.5 0l4-1.5l4 5.5l4 6l3.5 8l3.5 2.5l3.5-1.5l3 1l4.5 6.5l2.5 0l2.5 5l3.5 0l3-1l4 0l3 3l2.5-1.5l4 0.5l3.5-1l2.5 0.5l2.5-1.5l4 3l3.5-2l4-5.5l4.5 6.5l4-6l3-1.5l2.5-3l2.5-4l3.5 5l4-2.5l3.5-1.5l3-3.5l4 2.5l4-2l4 4l4.5-4l2.5 2.5l2.5 1.5l2.5-2.5l3.5 2.5l3 0.5l3.5-1.5l2.5-1.5l3.5-2.5l3.5 2l2.5-3.5l3.5-2.5l3 4.5l3.5-9.5l4.5-7l4 0.5l3.5-0.5l4 3l2 3l4.5-7.5l4-1.5l3.5 4l3-6l4-7l4.5-0.5l4 5l3 4.5l4.5 1.5l4.5 1l4 4.5l3.5 3l2 2.5l2.5-3l4 6.5l3 1l3.5-2.5l3-2l3-2l4 2.5l3-4l2.5 4.5l2.5-3l3-5.5l3-5l4 4.5l2.5 13.5l3.5 2l3-6l3.5 4.5"/>
<path d="M352 152.5l3-4l3-4l4.5 0.5l3.5-0.5l2.5-4.5l2-0.5l2 2l4 0l4.5 1.5l3.5 1.5l3 4.5l4.5 0l4.5 4.5l2.5-5l4.5 5.5l3 1.5l3.5-6.5l3.5 10.5l4.5 0.5l2-7.5l3-4l2 9l3.5-1l2 1l3-3l4 1l4 1l3 4l4 1.5l2.5 2.5l4.5 3.5l2.5-1l4.5-0.5l3.5 2.5l3 3l4.5 2.5l4-4l4-4.5l2 5l2.5-1l2 3l4.5 0.5l3.5-1.5l3.5 4.5l3-4l3.5-0.5l2 0.5l4 1.5l2.5-7l4.5 6l3 5l4 4l4.5-4l4-6.5l3 4l4 7.5l3.5-6l3-2l3.5 5.5l3.5-1.5l2.5 0l4.5 0l4 5.5l2-1l3-4l4-8l3-2l2.5 1l4.5 1l3-3.5l4.5 4.5l2-1.5l4.5 0l4-2l2.5-7l2.5 2l4-6l4-2.5l3-2l3-1.5l2 6.5l4.5-5l2-8.5l3-2l4.5 6l4.5-10.5l2.5 7l3-3l2.5 0.5l2 6l4.5-1l2.5 8.5l2.5 0.5l3 1.5l4-5.5l4-8l3.5 4l2.5 0l3.5 5l3.5-5.5l3 3.5l2 7l2.5 0.5l3-5.5l3 6l2-4l3.5-4l4 6l3-6.5l3 7.5l4.5 4l3.5 4l2.5-6l3.5 4.5l3.5-2.5l3.5-4l3.5-2.5l3 6.5l2-8.5"/>
<path d="M352 143.5l3.5-1.5l4.5 2l2 2l3.5 2l4.5 5.5l3.5 4.5l2.5-1l3.5-3l4.5 2.5l2.5-0.5l4-0.5l3 3l2.5-1l3-1.5l2.5-1l2 0.5l4 0.5l2.5 6l4-1l4.5 2l4 3l2.5-0.5l2-1.5l2.5-4l4 0.5l2-4l3.5 5.5l3.5 1.5l2.5-4l2.5-2l3 3l3.5 1.5l2.5 0l4 0l2 1l4-0.5l4.5 6.5l4-2l2.5 5l4-2l3 5.5l4.5 1l4-3.5l3.5-1.5l3-1l3 3l4 2.5l4 5.5l3.5-5.5l2 2l3.5 4l4.5-5l2.5-4l3 1l2.5-2l3 0l2.5 3l4.5-1.5l2 2l4 1l3 1.5l4-2.5l3 0.5l2.5 3l4.5-0.5l3.5 6l2-6.5l2.5 3.5l3.5 1.5l3 3.5l3.5-3l2.5-4l4.5-5l3.5 0.5l2-4.5l2 1l4-3l2 2.5l4-2.5l2.5 2l3-5.5l3.5-0.5l4.5 2l4-4.5l2.5 0.5l4 6.5l3.5 2.5l3-2l2-5.5l2.5-1l4 3.5l3-4.5l2.5-10l3.5 1.5l2.5 4.5l2.5 3l2-1.5l2.5-5l3-3l4 2.5l4 4l3 3l3.5-8.5l2 0l4 5l2-6.5l2.5 4l3-12.5l4 0l3 3l4.5 0l2.5-2l3 1l3 1l3 2.5l4-2l4 2.5l2.5-3.5l3 0.5l3-3l4-2.5l2.5 1l4 11l4.5-3l4-2l4-1l2.5 6.5l4-0.5l3-1.5l3.5 4l3 5l3.5 5l3.5 1.5l4 0.5l2.5 3l3-1l3.5 3.5l3.5 3.5l2.5-4.5l0.5 1"/>
<path d="M352 187.5l3-7l4-4.5l4.5-4.5l4-1.5l2-1l4-0.5l4-3.5l3.5 5l3.5 1.5l2.5-3l3.5 0l3.5-1l2.5 3.5l4.5-4l2-3.5l4.5 5l4-2.5l3 4.5l3.5 3l3-6l2-8l3 2.5l4-1l2.5-3l2 4.5l4.5 0l2.5 0.5l2-2.5l4 2.5l2.5-0.5l3 1l4.5 1.5l2 4l3.5-7l3-3.5l4.5 6l4-2.5l2.5 0.5l2 1l4-2.5l2.5 5l2.5 0.5l3 0.5l3 6.5l2-3.5l2.5-5.5l4 3l3.5-3.5l3.5 0l2-1l3.5-2l4 7l4 6l3.5 0.5l3-2l2.5 0l3-2.5l3.5-2.5l2-2l4.5 2l3 0l3.5 4l4 1.5l4-2.5l4.5-9.5l2 10l2.5 3l3-0.5l3.5 4l2.5-1.5l2-4.5l3.5 2.5l3-1.5l3.5-1l3.5-0.5l3-2.5l4.5-1l3.5-2l2.5-0.5l4-2.5l4.5 5l2 0l3.5-2.5l4-3l2.5-0.5l4-7l4-7l3 0.5l3-7l2.5-4l4-6l2.5 2l2.5-7.5l2.5 1.5l2.5 0l3.5-4l4 3l3-3l2 4l4.5-3.5l2.5-2.5l2-2.5l2.5-1.5l2.5 5l4 1l4.5 1l2.5 7.5"/>
<path d="M352 215l3-10l3.5-11l4-7.5l3-3l4-4.5l2.5-3.5l3 0.5l4-2l3.5-3l2.5-5l2.5 0l3.5 0l3 5.5l4-1.5l2.5 6.5l4 0.5l4 2.5l2.5-1.5l2.5 4.5l4.5-4.5l3.5 2l3-2.5l3.5-2.5l2.5-1l4-4l2-1l4-3l2.5 1l3 1l2 2.5l4.5-10.5l2.5-1.5l3.5 5l3-1.5l2-1.5l3.5 2.5l2.5 5.5l4-1l2-2l4.5-4l4-6.5l4.5 1.5l2 4.5l3.5-1l2 1.5l2-1.5l2.5-5.5l2 7.5l2.5 2.5l4-3l2.5-2l3.5-7.5l4 5l2.5-5l3.5-1.5l4 1.5l4-2l3.5 7l3.5-0.5l3 1.5l2.5 2l2.5-1.5l3-0.5l2.5-0.5l2 0.5l2.5 1l3 3l2.5 11.5l3-1l3.5-1.5l3-3l2.5 4l2-5l4-5.5l4.5 7l4-1.5l4 3l3-3l2.5-2l4-7l2.5-2.5l4 1l3.5-2l4-2.5l4.5 4l3.5-1l3.5-0.5l3-10.5l2.5 4.5l3 0.5l2-1.5l4-2.5l3-0.5l3-3.5l2-4.5l2.5 8l3-3.5l2 3.5l2.5 3l3.5-2.5l2-7l3.5 1l2-1.5l3.5 1l2.5-2.5l2-7l2 2l3.5 2.5l3.5-4.5l4-5l4 2.5l3 5l2.5-0.5l4 4l2.5 1l3.5 2l3.5-2.5l3.5 8l3.5 2l2 0l2 3.5l2.5 11l3-2l4.5 0l3.5-1.5l2.5 0l2-1l3.5-6.5l2.5 5l3 14l3 7.5l3.5 1.5l2.5-9l4.5 2l2.5-11l3-3l2-5l4-4.5l4 15l3-5l3 6.5l3 2l3.5-4l4 2.5l4 8.5l2-2l2.5 2.5l3.5 1.5l4 2l2-1l2.5-4.5l3.5-7l4-6.5l0.5-1.5"/>
<path d="M352 130.5l3-1l4 0l4.5 2.5l3.5 1.5l2.5 0l3.5 4.5l3 1l4.5 2l3 1l2.5-2l3.5 2l4 4l2.5-0.5l3.5-0.5l3.5-0.5l2.5 1l3-3.5l4-2.5l3-4.5l2.5 1l4 11l4-1l4-0.5l4 9l3.5-3.5l3.5 3l3-4.5l4-6.5l2-1l3 1.5l3.5 11l4 6l4 0.5l4.5-4l3 4.5l2.5 2.5l3-6l3.5 4l4.5-8l2 2.5l4.5-1l2.5 6l2 4l3-2l3 1l3.5 4.5l2 2l3.5 8l3-0.5l4 0.5l2.5 1.5l4 3.5l4-10l3-0.5l3 4l2.5-7.5l4 0l2.5-5.5l2.5-1l2.5 8l2.5 2.5l3.5-5l3.5 2l4-3l4-1.5l3.5-0.5l2.5-6l3-3l3 4l4-5.5l3-7.5l2 3l2-1.5l4.5 0.5l3 3.5l2.5-2.5l2.5 6l4-1l4-4l3-5l3.5-1.5l3 1l3.5-1.5l2 2l3-6l4-5.5l4 3.5l3.5-1l3.5 6.5l4-3.5l2 2.5l4.5-6l4 4l3-4.5l3.5-6l4.5-1.5l4.5 1l3 12.5l2.5 6.5l2.5-1l3.5 5l2 0.5l3 6l3 3l2 5.5l3-3.5l4-2.5l3.5-2.5l3 6.5l4.5-2l3-1.5l3.5-5l3-5l3.5-1l2 2.5l3 1.5l3-5l3 0l2.5 0l4 1.5l2 0l3-4.5l4.5-9.5l3 5l3.5-6.5l3 1.5l2.5 0.5l3-0.5l4.5-3l2.5 3l2 2.5l3 1l3-3"/>
<path d="M352 128l3.5-3.5l3-0.5l2.5 0l4 3l4 4l4-1.5l3.5 4.5l4 6l3-1l3 2l2 2.5l2.5 4l3.5 4.5l3.5 0l3-2l2 2l3 2.5l4 1.5l3.5 4.5l3-2.5l4 0.5l2.5 2l3 0.5l2.5 0.5l2-2l3-1l4 4.5l3 5l3 1.5l4.5-0.5l2.5-3.5l2.5 5l3-0.5l3.5 3.5l3 0l2-0.5l3-1l3.5 0.5l4-3.5l3.5-2l3-5.5l4 9l2.5-1.5l2.5 1.5l2-1.5l2-3l3-3l4-1l2.5 2.5l2.5-3l3.5 0l4.5-5.5l3 2l2.5 3.5l2 3.5l2.5-3.5l2.5 0l2.5-2l3.5-5.5l3 8.5l3.5-5.5l3.5-5l2.5 5.5l3.5-2l3-1l4.5 0.5l3.5-0.5l2.5 0.5l3 5.5l3.5 0l2 1.5l2.5-4.5l4.5 1l3.5 0.5l3-4l4 1l4 6.5l3 0.5l4.5-10l3.5 5l2.5-4l2.5 4.5l3 5l4 1l2.5-1.5l3-7l3.5-1l3 3.5l4.5 3l2.5-6l4 2l3.5 0.5l4-5.5l4 1l4 1l2 5.5l2.5-2.5l2 1l4.5 1.5l3.5 1l4-2.5l3.5-9l4.5-1l4 3l2.5 1.5l3-2.5l4.5 4.5l2.5 2l4 3.5l2-5.5l2.5-5.5l4.5 0.5l3.5-2.5"/>
<path d="M352 182l3-4.5l4-3l4 0l4 0l3 1l2 2.5l3 2.5l4.5-4.5l2.5 0l4-2l2.5-1.5l2.5-1l3.5-1l4-3.5l4 1.5l3.5 4l4-1l3 1l3 3l3-0.5l4.5-0.5l4-5.5l3.5 2l2.5 0.5l4 2.5l3.5 0.5l2.5-2.5l4-0.5l3.5 1l3 6l2.5-2.5l2.5-4l4-1l2.5-1.5l4 1.5l3.5-1.5l4-2.5l3-7.5l2.5 5l2-1.5l3-3l2.5-2l3 4.5l3 2l4.5-5.5l4 5l3-2.5l2.5 2.5l3.5 2.5l2.5 4.5l2.5-3.5l2.5 0.5l2.5 2l2-0.5l3-3.5l3.5 0.5l4.5 3l4-8.5l3.5 3.5l3.5 0.5l4-1.5l3-3l2.5-5l3.5 6.5l2.5 7l2.5 0l4-6.5l4.5 2l3.5-3.5l3.5-7l3.5-0.5l3.5 1.5l4.5-6.5l3 6.5l3.5-5.5l4.5 3.5l3 4l4-1l3.5-5.5l2.5 0l3.5-0.5l2-2l2.5-8l4-2.5l2.5 0l2 4l3.5-4.5l3.5-8l4-1l4 3.5l4.5-0.5l3 5.5l4-0.5l3.5-5.5l3 3.5l4.5-3l3.5-4l2.5 9l3-2l4 1l2 0l3-0.5l3.5-2l4 7l4-1l3.5-2.5l4 3l2.5 9l2.5 4l2 7l4.5-2.5l2.5-8l3.5-12l2.5 1l3-7.5l1 7"/>
<path d="M352 188l4-9l2-4l3.5-8.5l3-1.5l3 3l3-1.5l3 1.5l2.5 3.5l3.5-3.5l4 4l4.5-1l4-4l4.5 5.5l3.5 1.5l2-1.5l4 7.5l4.5 1l3.5-3.5l3.5-1.5l2.5 4.5l4 0l4-1.5l4 1.5l2 1.5l2.5-4l4-4.5l3.5-4l2.5 6l4 1.5l3 3l4.5-7.5l3.5-1l4 5l4-1l3.5-2l4 2.5l4.5-1l2-7l3 1.5l2-1.5l3.5 3l3.5 5.5l2.5-8l4-0.5l3-2.5l4.5 3.5l4 0.5l3.5-2.5l3-0.5l3 11.5l2-0.5l4.5 2.5l2.5 3l4-2.5l4.5 1.5l4-1.5l3-0.5l3.5-0.5l2.5 0.5l3 3l3.5-1.5l3.5-5l3.5-3l3.5 0l4-8.5l4.5-7l3-0.5l4 3l4 1.5l4-2.5l4 8.5l2-2l4.5-2.5l4.5-2l2-6.5l2 1l2.5 5l4-3.5l2.5 3.5l2.5-2.5l3.5-4.5l2.5-2.5l3 5.5l3.5-6l3-7l2.5-1.5l2.5 5l4-0.5l2-4l4.5 2l2.5-6l2 2l2.5-1l2.5-2.5l3.5 3.5l2 0.5l4-1l3.5-5l2-2l4-3l4-4l4 5l2.5 1.5l3-1l2.5-3l3.5 8l4.5-1l2-7l2-4.5l2.5-5l3-2.5l1-3.5"/>
<path d="M352 279l4-23l3.5-16l3-9.5l4-13l3-6.5l3.5-7.5l4.5-4l2.5-2l3-4l2.5 3l3-0.5l2 2l4.5-3l2 0.5l2.5-3.5l3.5-10l3.5 1l4-2l2.5 0l3 3.5l2.5 4l2.5-2l3-1l3-0.5l3-1.5l4 7l4 1l4.5 0l4.5-3l4 2l2.5 0l2.5-4l3.5-6.5l3 4.5l3 0.5l2.5-1.5l2-3.5l4 1.5l4-3l4 3.5l3.5 1l3 3l4.5-3l4.5 2l2.5-10.5l4 1l4 4.5l4 3l4.5 7l2.5 6.5l3 2l3.5-4l3-2.5l2-5l4.5 4l4.5-3.5l4 0l3-3l3.5 5.5l4-1.5l2.5 4.5l4-8l2 9.5l3 0.5l2 2.5l3-6.5l3.5-3.5l4 7.5l4.5-2l3 4l2-5l3 2.5l3 0.5l3-1l2.5 2.5l4.5-10l2.5 7l4.5-7l2.5 3.5l4.5-4l3.5-3l4.5-1.5l2 4.5l3-7l2 3l3.5-5.5l4.5-12l3.5 5.5l4-4.5l3 6l2.5-3.5l2.5 0l4-5.5l2.5 12.5l4-7.5l3-2l4.5-1l3.5 2l2-5l3 3.5l4-2.5l2.5-1.5l3 2l2.5 1l3.5-3l4 4.5l2.5 1l3.5 9.5l3-7l3.5 0l4-2l2.5 0.5l4.5 2.5l3-3l2.5 6l1-11.5"/>
<path d="M352 113l4 1l3 2.5l2.5 2l3 2.5l2.5 3.5l4.5 5l4 8l2 3.5l4.5 1l3 0.5l4.5 7.5l2-2.5l3.5 3l3.5 0.5l2.5 6l4.5 5l4 6.5l4-1.5l4 3.5l2 3.5l4-6.5l3.5-1l3.5 3l3 1.5l2.5-1l3 6l4-3l3 2.5l3.5 1.5l4-1.5l3.5-0.5l4-1.5l3-1.5l3 1.5l4.5-4l2.5-3.5l2.5 1.5l4.5-0.5l3.5 3.5l4.5-1l3-1l2.5 6.5l4-2l4 0.5l2-1l3.5 3.5l3-6.5l2-1l3.5 1l2 1.5l2.5-0.5l4.5 5.5l2.5-2.5l3.5-2.5l3 1l2 2.5l3-0.5l3 6.5l2.5-2.5l4-1.5l3.5 1.5l4-5l2.5-1l4 2l2.5 2l4.5-1.5l2-6.5l2 0.5l3 0.5l3.5-0.5l2-7.5l3 4l4.5-1.5l3.5 1.5l3 6.5l3 0l4-0.5l3.5 3l4.5 0l4 3.5l3-9l2.5-1.5l3-5.5l3.5-4.5l3.5-1.5l4.5 0.5l3.5-3l3.5-6l4-3l3.5-3l4.5-3l2.5 4l3-2l4-1l4-3l3 2l3-4l2.5 0.5l2 4.5l2-6l3-1.5l2.5-1.5l4-1l3-5.5l2 6.5l2.5 8l2.5 6.5l3 3.5l3-3.5l3 3.5l4-1.5l2.5-2.5l2.5-2l3.5 7l3-0.5l4 8.5l4-10l2 11l3-1l3 2.5l3 2l4.5 0l2.5-4l3.5 2.5l3 4l2.5 7l3 6l3.5 7.5l3.5 1.5l3-1l3.5-1.5l4-5.5l2 2.5l3.5 7l3.5-5.5l0 2"/>
<path d="M352 69.5l3 8.5l3 6.5l3.5 10.5l3 6.5l4.5 10.5l2 3l4 7.5l2 6.5l2.5 4.5l2.5 1l3.5 8l3 6l2.5 0l2.5 5l2.5 6l3 0l2.5 3.5l3.5 0l3.5 7l2.5 0l3.5-4l3-7l4 3.5l4-2l2.5 4.5l2-6.5l3.5 1l2 3.5l2.5-3l4.5 3.5l3 0.5l3-4.5l4 1.5l4.5 6l3.5 2l2 6.5l4.5 4.5l3 1l4.5-0.5l3.5-5l3.5 3.5l3-4l3 0l4-6.5l3 1l4.5-6l3 9.5l2 1.5l4 3.5l2.5 3l4-4.5l2.5 1.5l3.5 3l2.5-0.5l3 1.5l4 2.5l2-3.5l3.5-8.5l4 4l3.5 2.5l2 6l3-9l3.5-7l4.5 4.5l2.5 0.5l4.5 7l2.5-3.5l2-1.5l2.5 4l4-1.5l2.5 6.5l4-8l4.5-4.5l3.5 1l2-2l2-5l2.5 6l2.5-1l4-0.5l3-9l2 2.5l2.5 10l4-7.5l3.5-5l2.5 0l3.5-5l4-2.5l3.5-4.5l3-4l2.5-7l2.5-6.5l3 8l2.5 1l4.5-7l3.5-0.5l2.5 3l3-0.5l3.5 0.5l3.5 0.5l4.5-7l3 2l3 6l3.5-3l4 11l2.5-4l3-2l2.5 5l3.5-3l4-0.5l3 5l4 3l2.5 8l4-8l3.5-3.5l3 9.5l2.5 11.5l3.5-5l4.5-9l2-1.5l4.5-0.5l3.5 2.5l2 0.5l2.5 1.5l3 3.5l3.5-2l2-2l2.5-2l2.5 8l2.5 3.5l3.5 0l4 5l4.5 1l3.5 1l3.5-3.5l3-9.5l3.5 6.5l4 10.5l3-4"/>
<path d="M352 194.5l3-6l3-5l3-2.5l3-1l3 0l4-2.5l4 0l2.5 1.5l3.5 0l3-1.5l4 0.5l3 1l3.5-4l2.5-0.5l3.5-0.5l3 2l3-1.5l3 0.5l4-3.5l2.5 2.5l3 5l2.5-2.5l3 3l2-4.5l2.5 5l2.5-3l2.5 3.5l4 10.5l2.5 0.5l4.5 3.5l4.5 1.5l3.5-3.5l3-6l2.5 0l4.5-2l3 0.5l3.5 0.5l3.5 0.5l3.5-3.5l4 1l3 1l3.5 3.5l3.5 2l4 1.5l3.5 4l2.5-4.5l2 1.5l2.5-2l2.5-0.5l3.5-2l3.5-3.5l2.5 7l2.5-2.5l2.5-2.5l2.5 5.5l3 1l2.5-4l3.5 2.5l4-8.5l3.5 5l2.5-6l3 0l3-1l3.5-3.5l3 0.5l4.5 0l3 1.5l4 3l3.5 0l3.5 1l2 1.5l3.5 3.5l3-1l4 2.5l2.5 3l3.5-3.5l4 3l4-1.5l4-4.5l3.5-4l3-5l3-0.5l2.5-2l2.5 4.5l4 2.5l2-6.5l3.5-1l4.5 2.5l4.5-1l3.5 4l4.5-6l2 0.5l4.5 8l2.5-9.5l4.5 3l2 2.5l3.5-2l2-4l3 2.5l3.5 6l4 2.5l2-2l3.5-1.5l3.5-1l2.5-0.5l3 2l3.5 1l4-0.5l4-8.5l3.5-16.5l3.5 5.5l3 6l3-3l3.5 1l4 5l3.5 3.5l3.5-1l3-1.5l3.5 0l2 7l3.5-3.5l3.5 4.5l2-6.5l4-1l4-4l2-4.5l3.5-1l3.5 0.5l4.5 1.5l3.5-1l4-5.5l4 1.5l4-0.5l4-5l2-6l3 11l3 3.5l3 1.5l3-6.5l2.5 1l3.5-1l3.5-4.5l4.5-1l2 5l3.5 2l2.5-6l4 9l3.5 10.5l3.5 0l2.5-0.5l3 7.5l2.5-5l4 2.5l2 1l2.5 4l2-5l2.5 1.5l2.5 2l0.5 5.5"/>
<path d="M352 222l3.5-15.5l3-11.5l3-8l3-5l4.5-3l4-5l3.5-2.5l3-1l4-2.5l3 0.5l3.5 6.5l2.5-0.5l3.5-1.5l4 5l4.5 0l3 2.5l3.5 2l2 3l2.5 3.5l3.5-6l3.5 2.5l4-3.5l4 1l3.5 3l2-1.5l3 1l2 4.5l3.5-0.5l3 1l3.5 3l4.5 3.5l3 2.5l3.5-4.5l3.5-3.5l2.5 0l2.5-4.5l3 1.5l2-1l2.5-2l3-4l2.5 0l3 1.5l3.5-2l3 1.5l3.5 3.5l4.5 4.5l3.5-0.5l3.5-4l3 3.5l4.5 0l3.5 2l4.5-0.5l3 2.5l2-3l3.5-1.5l4.5-0.5l4 1.5l4-5l3-7l2.5 0l3.5 1.5l4 4.5l3-2l2.5 2.5l2 1l2.5-4.5l2 4l3.5-0.5l3 2.5l3 4.5l3.5-4.5l2 2l2-3l4 7l4 3l3 9l2.5-5.5l3-7l2.5 1l3.5 3.5l3 3l3-6.5l3 0.5l4.5-12l3 0l4-3l4 0.5l4-2l3-4.5l2 2l4 1l3.5-3l4-6l4-6l3.5 0.5l2.5-7.5l4.5 1l3 1l2.5 0l2.5-5l4 5.5l2-0.5l3-1l3 5l3 3.5l2 2.5l3-3.5l4.5 0.5l4.5-4.5l4-4.5l4 0l4 1l4-3l3 0.5l4.5 5l3.5-6l3-4.5l2 1l4.5 3.5l2.5-1l2.5 8l2.5 6l4-5l3.5-1.5l3 5l3.5 3.5l3.5 1l4.5 3l2 2l4 5l2.5-6.5l3.5 7l3 6l3 4l4 3.5l4-4l3.5-3.5l3-0.5l4.5-4.5l3.5-4l3.5 7l4-7.5l3.5 0.5l4-1.5l4 4l4.5 2l4-16.5l3.5-9l2 0.5l2.5-6l2 2.5l2-0.5l3.5 7.5l4-5l2.5 4"/>
<path d="M352 166.5l3.5-5l4-2l4-1.5l2.5 0l3 1.5l3 1.5l2.5-3.5l4-0.5l2-0.5l2.5-2l4 0.5l2.5-1l4 0l2.5 6.5l4.5 0.5l4 3.5l3.5-6l4 0.5l3-0.5l4.5-1l3.5 1.5l4-2l2-3.5l3-3.5l4 3.5l2.5 7.5l3.5-1.5l2.5-5.5l4.5 4.5l2.5-2.5l4 0.5l4 1l4-0.5l3.5-0.5l4 0.5l4 3l3.5 5.5l4 3.5l3 0.5l3.5 2.5l2.5 2.5l3 1.5l4-1l3-0.5l3.5-5.5l2.5 2l2.5-3.5l2.5-5l2 0.5l2-2l4.5 4.5l3 3l3.5 0.5l3.5-1.5l3.5 1.5l3.5 3.5l4 4.5l2.5-3.5l2 1.5l2 0.5l3.5 2.5l2-2.5l3.5-4l2-1l4.5 3.5l3.5-6.5l3-3l2 5.5l4 2l3 0.5l3.5-4.5l4.5-4.5l2.5-5l3.5-7.5l3 1.5l2.5-3.5l2 6l3 0.5l2 1l3.5 0l4 1l3-2.5l2 4l4.5 6.5l2 1.5l3.5-4l4-0.5l3-5l2.5-4.5l3.5 1l3.5 3l4 5l3 1l3.5 4l4.5-3l3 3.5l3.5-6l4.5-4l3 0.5l3.5-5l3.5 2l3-2.5l2-2.5"/>
<path d="M352 253l2-10.5l2.5-10.5l4-15.5l2.5-3.5l4-7l4.5-3.5l3-5l2.5-7l2-2.5l2.5-4l4-3l3-1.5l3-5l2 3.5l2.5 2.5l3-3l3 0.5l4 1l4 2l3.5-3.5l2.5-2.5l2-5l3.5 3l3.5 1.5l3 3l3.5-6l2.5 3.5l4-2.5l3-5l2.5-2l3.5-2l4 8l3 2.5l4.5-3.5l2 7.5l3.5 0l3.5 4l3.5-7l2.5 0l2-3l3-0.5l2.5-2.5l3 3.5l2.5 7l2.5-5l4 2l3-3l2 6l3 1l3-7l4 4.5l3.5-1.5l4.5 1l3.5 6.5l3-5.5l3-0.5l3-3.5l3 1l3-9.5l3.5 2.5l2-0.5l3-2l4 0.5l3.5-1l3-1l2-6l2.5-1.5l4.5-3.5l3-1l4.5 0l4 1l3.5-0.5l3.5-2l4.5-6.5l4.5 3l3 2.5l4-4.5l2.5 0.5l3-6l3.5-5.5l4-0.5l2 4l3 8.5l3.5-1l2.5 3.5l4.5 1l3.5 0.5l4-6.5l3 4l4 3l4.5-9l2 0l3 1.5l3.5-1l4.5 2l3.5-2l3 0.5l3.5 5.5l4 7.5l3-4.5l4.5 1l3 6l3-4.5l4-8.5l3.5-5.5l2.5 8.5l4 0.5l4.5-5l4 9.5l3-8l4-4.5l4-2l3.5 3l2.5 4.5l3.5 5l3-8l2.5-5.5l2 0l3.5 0.5l3.5-1l3-9.5l2 6l3.5-0.5l3.5-6l3 0l2.5 4l2.5-8.5l3.5-3l4.5 9l2 5.5l4.5-4l3.5 3.5l2.5 7l3.5-2l3 2.5l4 3.5l0.5-5"/>
<path d="M352 104l3 4.5l4 8l4 8l4.5 9.5l3 5.5l4 7.5l3 1.5l2.5 6l4 5l4 4l2-3l3-2l2.5 2l2 2.5l4 7l2.5-5.5l4 4l4-0.5l4 7.5l2.5-8l4 1l2-6.5l3.5-2l4.5 3.5l3 0l2.5 0l2.5 4l3-1l2.5-6.5l3.5 7l4-3l4-1.5l3.5-1l2.5 2l3-1.5l2 7.5l3.5-5.5l2-2.5l3.5 2l2.5 7.5l4.5 2l3.5 1.5l4-2l3 3.5l2-1.5l3.5 2l3.5 1l3-2l4 1l3 2l3.5-3.5l2.5 4.5l4-1l3 2.5l2.5 3l2.5 1.5l2 2l3.5 4l4-7.5l4-3l4 5l4.5-1.5l3.5 3.5l3.5 1l3.5-4l3.5-2.5l2 3l4.5-2.5l3.5 3l2.5 3.5l3.5-2.5l2.5 0l3.5 1l2 4l4-5.5l4.5-1l2 3l4.5-6.5l2.5-1.5l2.5 0l2.5-5l2 1l3.5-1.5l2.5-13l4.5-4.5l4-6.5l3 9l3.5-9.5l3.5-1l2-7l2-2l3-2.5l4-11l4 5l4.5-5l3.5 2l2.5-5.5l2-3l3.5 1.5l2.5 4.5l4.5-1l2.5 1.5l3.5 5l2.5-0.5l4.5 0.5l2-13l2.5 0l4-1.5l4 5l3 3l2 3l4 0l3 2l4 1l2-1.5l2 4.5l4-0.5l2.5 4.5l2.5 0l3 4.5l2.5-4.5l0.5-5.5"/>
<path d="M352 152l3.5-2l2.5 0l3.5 0.5l2.5 4.5l3 2.5l3 2.5l3.5 5l4 3l3.5 3l3-1l3.5 1.5l4 1l2.5-3l2-2l2.5 5l4 3.5l4 2.5l3.5 0.5l2.5-5.5l4.5 0.5l2.5 7.5l2.5 0l3.5-4l3 2l3-6l4.5 3.5l2.5 0.5l4 3l2.5-2l3.5-1l3.5 1.5l4-1l3.5-5.5l4 6l3.5-1.5l3.5 1l2.5 2l2.5 4l2 4.5l4.5-4l2-6.5l3.5-1l3.5 2.5l4.5 3l2 8l4.5-1l2-1l4-6l3.5-0.5l2.5 0.5l4-3l4.5-0.5l2.5 2l3.5-9.5l2 0.5l4.5 1.5l3 1l2.5 1.5l3-7l3 5.5l2-4l2-5.5l3.5 0l4-4.5l4-2.5l4-4l2-0.5l3 3.5l2 0l3 4l4.5-4.5l3.5 1l2.5-0.5l3 0.5l3.5-4.5l3.5-4l2 4.5l3.5-4l3.5-3l2 1l3 4l3.5-1l2.5 2l3.5-4.5l4-4l2.5 12.5l3 1.5l4-7l2.5 3l4-5.5l3.5-0.5l4 8l2.5 1.5l3-6l2.5-4l4 2.5l4-8.5l3 4.5l2.5-4.5l3-5l2.5-4.5l3.5 0l3.5 5.5l3.5 0l2.5-1.5l3.5 4l3 3l4.5-6.5l4 1.5l3-11.5l3-1l2.5 7l4 2.5l2 2l2 4.5l3-1l3.5 6l4.5-4.5l3.5-1.5l4.5-5.5l3.5 9.5l2.5 6l3-13.5l3.5 6l3-2l3-10.5l4 2l2.5 2.5l4.5 0.5l2-1.5l2.5 1.5l3 3l4-6l4 3l3.5 4l2.5-7l2-4.5l2.5 8.5l3-2.5l3.5 9l2.5-6.5l2 4l4-2l2.5 1.5l2 7l2.5-1l3-8.5l2 2.5l3.5-1l4 3l4.5 4l4.5 3.5l3.5-1.5l4.5 4l2.5 6l1-3"/>
<path d="M352 263.5l2.5-19l3.5-20.5l4-15l4-13l3-5.5l4-5l2.5-2l3-3l2.5 3l3-1.5l2.5-3l4-2.5l4-2l2-3l4 1l3.5 6l3-5l2.5-1.5l2-2.5l3.5-1l3 0l2.5-3l2 3.5l3.5-2l2.5 6l2.5 3l4 1.5l4.5-2l2.5-3l4 2l2-1.5l2 2l3-0.5l2.5 1.5l4 3.5l4 2.5l4-3.5l3.5-1l2.5-2l2-3.5l4 0l2 1.5l4 0.5l2-0.5l4.5 2l4 0.5l2-4l4.5 3.5l3 2.5l3.5 6.5l2-9l4 3l2-0.5l3 1.5l2.5 3.5l3.5 2l2 0.5l2.5-4.5l2.5-3.5l4 1.5l2 9.5l3.5 0l3 3.5l4 1.5l3.5 4l3.5 0.5l4-1l3 1.5l3-4.5l3-3l4.5-5l2.5-0.5l3.5-3l3-4l2.5-2l4-1.5l4-3.5l2 2.5l2.5 4l2.5-3l2.5 6l2.5-2.5l3.5-1l3.5 4l3.5-0.5l4-5l3.5-3l2.5-7l4.5-4.5l2.5-0.5l3.5 4l4.5-1.5l3.5 3.5l4 0l3.5-5.5l2 1.5l4.5 0l3.5 1.5l3.5-2.5l2.5-6l2.5 1.5l2-8l2.5 12.5l3-1l2.5-1l2 8l3.5-7l4-4l3-6.5l3.5 1l2.5 7l4.5 7.5l3 1l3.5-7.5l4 6.5l3 2l4 4l0.5-12"/>
<path d="M352 243.5l4-12l2.5-5.5l3-4l4-7.5l3.5-3.5l2.5 0.5l4.5-2.5l2.5-4l3-5l3.5-3.5l3.5 1.5l3.5-0.5l4.5 0l4 0l2.5-1l4-1.5l3-2l4 0.5l4.5-0.5l3-6.5l3 0l4-1.5l3.5-1.5l3.5 4.5l3.5-2.5l4-3.5l2-3.5l3 1.5l4.5 1.5l3.5-2.5l3 3.5l3 4.5l4-5l2 5.5l4.5-1l3.5-7l2 2l4.5-5.5l3.5 1l3 2l3.5-3.5l2.5 3l3.5 1.5l2.5-1.5l4 6.5l3.5 3l4.5 2l4 4l3.5-3l2.5-2.5l3 5.5l3-6.5l3.5 0.5l3.5-0.5l3.5 0l4.5 0l2 0l2.5 1l3.5 1l3.5-0.5l4-1l2-0.5l4 3.5l2.5 2l4.5-6.5l2.5-3l3.5-6.5l4 1l3.5-2l2.5 1.5l4.5 0.5l2.5-4l2.5 0l3.5-2.5l3-2l2 3l4-1l3 4.5l2.5-6l3.5-6l4 3.5l2-4l4 0.5l2-1.5l2.5 3l2-3l2.5-5l2-1.5l3-2.5l2.5-0.5l4 3l4.5 2l2.5 2l4-0.5l3-1l4-1l3.5 12l4.5-7.5l4.5-1.5l3.5 2.5l4-5l3-2l2.5 8l2 0.5l4.5 0.5l4 1.5l3.5-3l2 0l2.5 4.5l4 7.5l3-6l3-1l2.5-2.5l1.5-5.5"/>
<path d="M352 107l2.5 4.5l2.5 2l3.5 8.5l3.5 3.5l2.5 4.5l4 10l2 0l2.5 5l3.5 4l3 2.5l4 3.5l2.5 1.5l4.5 3l3.5-3l3.5 3l3 0.5l3.5 4.5l4-3l3-5.5l3 8.5l3.5 7l4.5-2l3 0.5l4 4l4.5 4.5l3-3l2.5 1l3-1l2-5l3.5-0.5l3.5 4l2.5-0.5l2-2.5l2.5-1l4 1l4-1l3-0.5l2-2l3.5 6l3.5-3l4.5-2.5l2-0.5l3 8.5l4-11l4.5-0.5l3-4l2.5 0.5l3.5 2l2-2.5l2.5-2l2.5 2l2.5 3.5l2.5-0.5l4.5-2.5l3 0.5l4-4.5l3.5 5l3.5-8l4 2l2.5 6.5l4 6l3-1.5l3.5 1l3.5-2l4-4l4 2.5l3 1.5l2-6l2.5-1.5l2 1l4.5 0l2-6.5l3.5 3.5l2.5 0.5l3.5 7.5l2.5-2l2.5 5l3.5 0.5l4.5-2.5l3-3l2.5-3.5l3 9l2.5-4l2.5 7l2-1l4 5l4-2.5l4-5.5l4-8.5l4 5l2.5 5l3-3l4 3.5l4.5-8l4-2.5l2.5 1l3.5 6.5l2.5 2.5l3-6.5l4.5-0.5l2.5 3l3.5-10l4 1l3.5 1l2.5 0l4 1.5l3.5-1.5l2-2l3 3.5l4 3l4 2.5l4.5-2l2.5 1.5l2.5-4l4.5 2.5l4 4l3.5 6l3.5-3.5l4 2l2.5 3l4 1.5l3.5-6l3 2.5l3 2l4 5.5l4 3.5l3.5-5.5l3.5-2l4-3l2 9.5l2.5-6l2 2l3 2.5l2-8.5l3 5.5l1.5 2"/>
<path d="M352 244l3.5-13.5l4-12.5l4-7.5l3-4.5l3-6.5l4.5-8l3-5l4-6.5l2.5 1.5l2.5-7l4.5 0.5l2-0.5l4-1.5l2.5-7.5l2-1l4 3.5l3-1l3.5 2l3.5-1.5l3.5-1.5l4-2l4-1l4 1.5l3-9.5l4-0.5l3-2.5l4-1l4.5-1.5l4 8.5l2.5-0.5l3.5 6.5l3 1.5l2.5 5l3.5 3l3.5-6l4.5-1l3-3l4-6l2.5 0.5l4 0.5l4 1.5l3.5 2l3-2.5l3.5 0l4-7l3 3.5l3 1l3-4.5l4.5 9l3.5-3l2.5 1.5l4 5.5l4.5 0l3-2l3.5 5.5l3.5-2.5l4 0l3-2.5l4-1.5l2.5-3l2 2.5l3.5 0.5l4.5 3l2.5-1.5l2.5 5l3.5-0.5l2.5-1.5l4-1l2.5-0.5l2.5 0l4.5-3l3.5 5l3 3l4 4.5l3 0l4.5-2.5l3.5-9.5l3.5 7l2.5-2.5l4 5l2.5 2.5l4.5-0.5l2 0.5l2.5 1l3 8.5l3-5.5l3.5-1l2.5 6l3.5 0.5l3.5 1l2.5-0.5l4.5-5.5l2-2l2 1.5l3-8.5l4.5-4l2 1l2.5-1.5l4.5 3l3.5 5.5l1 3"/>
<path d="M352 212l4.5-20.5l4-7l2-3.5l3-2.5l2 4.5l3.5 0l4-6l4.5 4.5l3.5-2l3-3.5l2.5-6l3.5-1.5l4.5 4l2.5 9.5l4-0.5l3.5 3l3-3.5l3 5l4-7l2.5 2.5l3-0.5l2.5 1l3.5 2.5l4-0.5l3.5-9l3 4l2.5 7l3.5-3l3.5-1l2.5 4.5l3-2.5l2.5-1l4-7l4-8l2 0l2 0l4-1.5l3.5 1.5l3.5 6l4.5-2l2 3l2.5 7l4.5-3.5l4 1.5l3.5-5.5l3 4l4-6l2 3l4-1.5l3.5-1l3 0.5l4 0l3 2.5l3.5-1.5l3-0.5l4 0l4-5.5l4.5-2.5l3 2l2 3l4 0.5l2 3.5l4 1l3.5-2.5l4.5 1l3 0l4-2.5l3.5-5.5l3 5l4.5 5l4-6l2.5-2l3.5 2l4-3.5l2.5 2l2.5-3l3.5 6l3 0.5l3-4l2-1.5l3 1.5l2.5-7l3-5.5l2.5 6l4.5-5l4-3l4-3.5l3.5-0.5l3.5 2l4-1.5l3.5 4.5l3.5 4l3 8.5l4 4.5l3-2l4 4.5l4 2l3.5-3.5l2.5 0l2.5 2.5l3.5-4.5l3.5 6l4-2.5l2.5 3l2-1l4-7l4-0.5l1.5-1.5"/>
<path d="M352 212.5l4-13l3-5.5l3.5-4.5l2.5-2.5l2.5-0.5l3.5-3l3-2.5l3.5 0.5l4-3.5l2 3l4-4l3.5 1.5l3-1l3.5-2.5l3.5 1.5l4.5 1l2.5-5.5l3-2l4 1l4 3.5l2-7l2.5 3.5l4 0.5l4 5l2.5-3.5l3-4l3-0.5l4 1.5l3 4.5l4-1l2.5 5.5l4 0.5l3.5-2l4.5-1.5l3 2.5l4.5-5l3.5 0l2 6.5l3.5 0l3.5-1l3-5.5l4.5 1.5l3 0l4 5l2.5-2.5l4.5-2.5l3-2l4-3l3-1l4.5 9.5l3.5 0.5l3.5 0l4 1.5l3.5 4.5l2.5-3.5l3.5 5.5l3 5.5l2.5-0.5l2.5-0.5l3 3l3-6l4.5-2l4.5-6l2.5 1l3-5l3-2l3.5 3.5l2.5 4l2.5-2.5l3-2l4 3.5l4 0l2.5 0l3.5 0.5l2.5-0.5l4.5 0.5l4-4l3.5-2l4 6.5l2.5-9.5l3.5 2.5l4.5-2.5l3.5 2.5l2.5 3.5l3-3l3.5-3.5l4-2l3 7l2-9l2.5 3l3 7l4-5l3.5-2.5l3.5-1.5l2.5-1l4 0l4.5 5l4 10.5l3-6.5l3.5-0.5l2.5 0l2.5-4.5l4.5-3.5l2.5-6.5l3.5 6.5l4-4.5l3.5 3.5l2.5-2.5l3-2.5l4-12l2 10.5l3.5-2.5l2-1.5l3 10l3 7l3.5-7l3.5 2.5l2.5-1l4.5 5.5l3.5 5.5l3-2l4-2.5l3-4l4 4.5l3.5-5l4-9l2-15.5l3-1l4 4.5l2.5 5.5l2 3l2-0.5l2.5-6.5l4.5-1.5l2-4l2.5-4l3.5-1l2-0.5l3 2.5l4 0.5l0-2.5"/>
<path d="M352 134.5l4 5l2 3l3.5 9l3 4.5l3 3l4 0l3.5 0l3.5 4l2.5 2l2.5-1.5l4 8.5l2.5 2.5l2.5-8l3.5-2l4-1.5l3.5-2l2 4l3.5 1l2.5 2.5l4-1l3-2l3 6l2.5 2l4-3l3-3.5l3.5-3.5l3.5-3.5l4-1.5l2.5-4l2 4l2-0.5l4 1.5l2.5-3.5l2.5 2l3-2l4.5-1.5l4.5 0l4 1l2.5 5.5l3-1l4 4l3.5 1l4 0l3.5-4l4.5 5.5l2.5-2.5l3-1.5l2.5 7l3-3l3.5 1.5l3 0l4.5 3.5l3.5 3l2.5-7.5l4.5 0.5l2.5-3l2 6.5l4-4l2.5-0.5l4 2.5l2.5-0.5l3.5-0.5l4 1.5l3.5 0l2-6l3 1.5l2 4l3 1l3-3l3.5 5l2-0.5l2 0l3 6l3.5 4.5l3.5-3l2.5 0l2.5 6l3.5 2l3-2l3-5l3.5 0l3.5-1l3.5 0.5l2.5-6l2.5-2.5l4 3l2.5-3.5l2.5-8l3.5 6l4-6l4-1.5l3.5-13l3.5 2l3 6l3-3l4.5 3.5l4 0l3.5-8l3 7.5l3.5-1l4 6l2.5-1l2.5 1l4-0.5l4-8.5l4.5 4.5l3.5 2l2.5-5.5l3 6.5l2.5 0l3.5-0.5l3 3.5l3 8.5l2-1l2.5 3l4-8.5l2 1.5l3.5-6l3 3l3.5 0.5l3.5-10.5l0.5-3.5"/>
<path d="M352 326.5l3.5-28.5l4-27.5l3-15l4-16l2.5-10.5l2.5-7.5l3.5-8.5l3-5.5l2-2.5l3.5-4l3.5-5l3.5 0l4.5-4.5l2.5-6l3.5-1l2.5-3l4 2.5l2.5-3l3-4l3 1.5l3 2l2.5-2l2-3.5l3.5-3l2.5-6.5l3 0l2.5 0.5l3.5-6l3.5 1l2.5 1.5l4.5-3.5l4-1.5l3-1l4.5 0.5l3 3l2-1.5l3 9.5l4.5-3l3 0.5l3.5 1.5l2.5 0.5l3.5-3l2.5-2.5l3-5l2.5 0l4.5-3.5l3-4.5l2.5 5l2 6.5l2.5-1.5l4.5-1l2 1.5l4-4l3.5 4l3.5 4.5l4.5 1l2-0.5l3 7.5l2-2l3.5-8l3 5.5l3 1l3.5-8.5l3.5 0l4 2.5l3-3.5l3.5-3l3 2l4.5 0l2.5 2.5l3.5-4l3 2.5l3-6l2.5-2.5l4 3.5l4.5-2l2-5l2.5 2.5l4 1l3-3l2.5 7l2 3l2 2l4 0.5l3 2.5l2-0.5l4.5-1.5l4-2.5l3.5 5.5l3.5 0l2.5-1l2-12l4-2l4 0l2.5 6l2.5-3l4.5-2.5l2.5 2l4 6l2.5-5l3-5l3.5 2l2.5-3l3.5 3.5l4 1l2.5 3.5"/>
<path d="M352 193.5l3-12.5l4-9.5l2.5-4l3-2l4-2l4.5-6l3.5-2l3-1l2.5 3l3 1.5l3.5-4.5l3 3l4-1.5l4.5 7l2.5 3.5l3 4l2.5-1l2.5 1l3-4.5l2-3.5l2 3.5l3.5-0.5l3.5-1.5l4.5 0l2 2l4.5-0.5l3.5-1l4.5-5l4 0l3-6l3.5 3l3.5 2.5l4.5 1l3.5 2l3 0.5l4.5-0.5l2.5-7.5l4-1.5l2.5 1l3 4.5l3.5-2.5l2.5 5.5l3.5 6.5l4 1l3.5-1.5l3 5l4 1l3-1.5l2.5 1l3.5-2.5l4 2.5l3 4.5l2.5 2l4-3l4 3l3-5.5l4.5-1l3-3.5l4 3.5l2.5 7l4-0.5l2.5 0.5l3 0.5l3-4.5l2.5-5l2-4.5l2.5 1.5l2 0l2.5 3l2.5-2l4 2.5l3 4.5l3.5-4.5l4-8l3.5-6l3-2l3.5 3l3.5 3.5l4.5-3.5l3.5 5l4.5-3.5l2.5 1.5l3.5-3.5l4 0.5l3.5 2l3 7l4.5 7.5l2.5 3l3-6l3 0l4-8l4.5-1l4 0.5l4.5-0.5l4.5 0.5l4.5-5.5l2.5-10.5l3 1.5l3.5-6.5l3.5 2l2.5 0.5l2.5-2.5l2.5-1.5l3.5 3l2-3l2.5 3l3-4l4.5 3l3.5-5.5l3.5 0l4 3.5l2.5 0.5l3.5-3l3.5 3l3 2.5l3 9.5l4-1.5l3-6.5l3.5 4l3.5-2l2.5 1.5l4.5 5.5l4 2.5l2-2.5l2.5 6.5l4 4.5l2.5-1.5l4.5 4.5l2 3l3.5-10.5l3.5-1l4-0.5l2-0.5l3.5 8.5l3.5 0.5l3.5-2l4-3.5l2.5-1.5l2-6l3-3.5l2 1.5l2.5-0.5l3.5-0.5l4 0.5l4.5-5.5l2.5-2l2.5-4l3 11.5l2.5-7.5l3.5 7.5l2.5-2l2 3.5"/>
<path d="M352 130l2.5 0.5l4 2.5l3.5-1.5l3 2l3 3.5l2.5 0.5l3.5 1.5l2.5 4l2-0.5l4.5 6l3.5-8l2 5l2.5-3l3.5 1l4-2.5l3 1.5l3-0.5l3 5l3.5 2l2.5-1l3-5.5l2-1l2.5 3.5l4 0l4 4l4.5 5.5l3.5 5.5l3-7l4.5 0l4 6l2 0.5l4-3.5l3 3l2.5 3.5l2 4l3.5 2l3.5-9l2.5-4l3-3.5l3-4.5l3.5 0l3 3l3 3l4.5 3l4.5-2.5l3.5 1l3.5 5l3.5-3l2.5 4.5l2 1.5l3.5 3l2-3l4-2l3.5 1l3.5 0.5l3 0.5l3.5 6.5l3-2.5l3.5-2l4 9.5l2.5 3l4 1.5l3 5.5l4.5-1l4.5 2.5l4-1.5l3-1l4.5-1.5l2.5 4l3 1.5l3.5-4.5l3 5.5l4-1.5l3.5 0.5l3-2l3 4.5l2.5-0.5l2.5 6l2.5 2.5l4.5-3.5l2-6.5l2-8.5l3.5 7l4 0l4.5 3l3-2l3.5-6.5l4 4l2.5-1l4-2l4-0.5l3.5-1.5l4 0.5l4-9.5l4 5l4.5 4.5l3-4.5l3.5-3.5l3.5-3l2 5l3 3l4 1.5l3.5-10.5l4.5 6.5l3.5-6l3-6.5l3-2.5l2.5 12.5l2.5-3l3.5-2l3 1.5l3.5 5.5l4-4.5l2 3l2-2l4.5 3.5l2-5l4.5 5l2.5-2l0 1"/>
<path d="M352 246l4.5-16.5l4.5-9.5l3-6l4-6.5l4.5-4l4-2l4-7l3-1.5l3-2.5l3-3l4.5-4l4 0.5l4.5-2.5l2.5-7.5l3 6.5l2 5l2-6.5l4.5 0.5l2-0.5l3.5 0.5l3.5-4.5l3.5-3l3-1l4.5 1l2.5 0l4-6.5l3 6l3.5-4.5l3.5-4.5l3.5 5l4 2l3-1l4 2.5l2.5 3l3 5l4-5.5l4 0.5l3.5 7l3.5-0.5l4.5-4l2.5-6l2 4.5l3 0l4-7l3 3l3.5-0.5l3.5-4l3-0.5l2 4.5l3.5-1l3 2l3 2.5l3 3.5l2.5-3l2.5 0.5l3.5-4l4 3.5l3-3.5l4.5-3.5l2.5 7l4 2.5l3-6l4-0.5l2-1l3-0.5l4 4l4-1l3.5-6l3.5 2.5l3.5-1.5l3.5 5l4-5l2.5-0.5l4-10.5l3 4l3 1l2.5-2l3.5-5.5l4.5 5l3-0.5l2.5 0l2.5-5.5l3-1.5l4.5 3l2.5 3l4-9l3.5 5l3 1l2.5-4l2 3.5l4.5-2.5l3-7l2.5 8.5l3.5 2l2-7.5l4.5 0.5l2.5-1.5l2.5-7l2.5-0.5l3.5 4.5l4 1.5l3.5-5.5l3.5 5l2 12.5l4.5 1l4-3.5l4 3l3.5 4.5l4.5-1.5l4-2l2 5.5l2-10.5l4 11.5l4.5 7.5l2-2.5l2.5-3l3.5-2l4 2.5l4.5 5l4 4.5l4-6l3-3l2.5 2l4 2.5l2-1l4 3.5"/>
<path d="M352 125.5l3 2.5l3 3l2.5 4l3.5 3.5l2 3l3 6l4 1.5l2 2.5l4.5 7.5l3 4l4.5-2l2.5-0.5l4 5.5l3.5 0.5l3 6l3.5 2.5l3-4l3.5-2l2.5 3.5l3-2l4 3l4.5 12l3.5-6.5l3.5 0l2.5-2.5l4-2l4 3l4.5-3.5l4-5l4 9l3.5 3l3.5 5l2.5 1.5l3-0.5l2-0.5l2.5-1l2.5-6.5l2-6l3 1l4-2.5l4-2.5l4 1.5l3.5 0l3-1l2.5 0.5l3.5-0.5l2 3l2-0.5l4 3.5l3.5-3.5l2.5-1.5l3.5 7l3-2.5l4.5 5l4 3.5l4-2.5l3.5 3l3-3l4.5 3l2.5 6l3.5-4l4 1.5l3-1.5l3.5 4l3-6.5l2-2l3-1l4-6.5l4 2.5l2.5-0.5l4.5-6l4.5-4.5l2.5-3.5l4 1l3 5l3.5-2.5l4 0l2.5 2l3.5 3l2.5 0.5l3 2l3-3l3 1l3-6l3-0.5l4-1.5l3-6l3 8l4-3l3.5 5l2.5 7.5l2.5-1l3-1l4-5l3-7l3.5-2l4.5-3.5l3-1.5l2.5-3l2.5-3l3.5 5.5l3.5-5l4 3.5l4 0.5l2.5-1l4 1l2.5-1l3.5-2.5l2.5-2.5l3 1.5l3.5 0l3.5 3.5l3-4l3.5 4l2-20l1-6.5"/>
<path d="M352 270.5l3-16l4.5-16l3-7.5l2-3.5l2-2l2-4l4-1l2-5.5l4-8.5l3.5-5l4 0l4.5-4.5l4.5-2l2-1l4.5-8.5l4 5.5l2.5-2l4-1.5l2.5-1l2.5-1.5l3.5 2l2.5-0.5l2.5 0.5l3.5-3.5l3.5 5.5l2.5 3l2.5-5l4-4.5l2.5 3.5l4 0.5l3.5 3l2 5l3-2.5l2 0l3 2.5l4.5 0l3.5 1l4-9l3 2.5l3-3l2.5 9l2.5 0.5l2-1l3-0.5l3.5-4.5l2.5-6.5l3.5 1.5l4.5-1l4-7l4.5 4.5l4-1.5l2-1l3 0.5l3 2l4.5-0.5l3.5 0.5l2-2.5l3-0.5l2 3l4 1.5l3.5-3.5l4-5l3 0.5l4 1l2 4l2.5 1l4.5-4l4 2.5l4 6l4-0.5l2.5-2l2.5 0l3.5-1l3 1.5l3-8l2.5-2.5l4-4l3-9.5l3.5 1l4-1.5l3 2l3 0.5l3 4l3-5l2-1l4-1.5l4-6l2.5 1l3.5-5l3 1l4 5.5l3.5-3l4-6l4 4l2-1l2.5-6l4 2l2.5-8.5l2.5 3l3.5 5l2 7l2.5-0.5l2-3l3 0l2.5 5l2 2.5l3-1.5l4.5 8l2.5-7.5l3.5 7.5l4 2l3-1.5l2-2l3 0.5l2.5-4l3 5l3-7.5l2 5.5l4-0.5l2.5 0.5l3.5 0.5l2.5-2l3 15.5l4-11.5l3.5 3.5l4-6.5l4.5-12.5l2.5 5.5l3.5 10l3.5 4.5l2.5-6l3.5-7l3.5 6l3.5-10l3.5 17l3.5 5l3.5 3.5"/>
<path d="M352 91l4 14l2 6l3 11.5l3 5.5l3.5 9.5l3.5 9l3.5 5l3.5 0l3.5 6.5l2.5 0.5l3.5-5l3 2.5l2.5-1.5l3.5-3.5l4 5.5l2 0l4 1l3.5 2.5l4-1.5l4 2l4-1l3 0l2.5-4l4.5-1l2.5 4l4.5 5l3.5-1l2.5-6.5l3.5 4l3 1.5l2.5-1.5l3.5-2.5l3 0.5l4 4l2.5-5l3 3l3-2.5l3-3l2 5l3 4l4 3l4 2.5l2.5 11l4 0.5l4 1l2 0l2.5-2.5l4.5 3l4.5 2.5l2.5 1l4-4.5l3-0.5l4-3.5l3 3l3 0.5l4-1l4-7l3.5 1.5l3 0.5l3 0.5l4-3.5l2.5-0.5l3.5-5.5l2.5-1l2.5 8.5l4-2l4.5-4l4-2.5l4.5 0l2.5-2.5l3.5-0.5l2 5l2.5-6l2-10l2-0.5l4.5 0.5l2.5 7.5l3 1.5l4-3l3-0.5l3.5-4l3 4l4.5-1l2.5-4l3.5 1l3.5-1.5l2.5-10.5l3-0.5l4.5 13l3.5 1l2.5 2.5l4 2l3 0l3-2.5l3.5 3l2.5-0.5l4 2l3-1.5l2-3l3-3l2.5 8l3-2l3 4.5l3-2l4-2.5l3-5l3 8l4 6.5l4.5-6.5l2-6.5l3-8l2-2l4.5-5l2.5 1l4 3l3.5-6l4.5 0.5l0-1"/>
<path d="M352 149l2.5-0.5l3-2l2.5 2l3 3.5l4 2l3.5-2l2 6l2.5 0.5l4 0.5l4.5 2.5l4 0.5l2-3.5l3.5 3.5l2.5 0l4.5 0l4 1l3 5.5l3-1.5l3 7l3 2l3-0.5l3.5 1.5l2-1.5l2.5-4.5l2.5 4.5l3-1.5l3-6l4 0.5l2.5-0.5l3-4l2.5 6l3 6.5l3.5 0l4-2.5l3.5 0.5l2.5 3.5l4.5-2.5l4.5 4.5l2.5-1l4.5-3l3 4.5l3.5 0l2-3.5l2 1l3.5 6l3 0l3.5 2.5l2.5-3.5l3 0l2 0l4.5-6l4.5 0l2-2.5l3.5 3l4-2.5l3.5 2.5l3 2l4-6.5l3-1.5l3.5 6l3 0l3-5.5l2.5-3l4.5 4.5l2.5-3l4-1l3.5-0.5l2 4l3 2.5l2.5 3l4 3.5l2 1l2.5 2l3.5-1.5l3-2.5l3 0l4.5 2l4-0.5l3.5 0l3.5-4l2.5-1l4.5-4l3-4l4-3.5l4 2l2 5l4-0.5l3.5-1.5l2.5 6l4.5-8.5l3.5-8l2 7.5l4.5-7.5l2 5.5l2 2.5l3.5-0.5l3.5 0.5l3 0l2.5 1l2 2.5l2.5-7.5l3.5 3l4.5-7.5l2.5-2l3.5-2l4.5 2l3 1l3 3.5l2 3.5l3.5-6l2.5-10.5l3.5 3.5l2.5-13.5l3.5 0.5l2.5 2.5l2.5 1l3.5 1l4-0.5l4.5 8l4-4.5l4.5-2l4-7.5l2.5 7.5l4.5-4.5l2.5-2.5l4 8.5l3 3.5l2.5-3l3 3.5l2.5-6l2 0.5l4-5l3.5-4l3-1l2.5 1.5l3.5 1.5l4-1l3-7l4 6.5l1.5 0.5"/>
<path d="M352 221l4-16.5l4-11.5l3-3.5l2.5-3.5l3-5l2-1l3.5-6l4-1.5l2 0.5l4 1.5l3.5 1.5l3-7.5l2.5-10l3.5-0.5l3-4l2.5 3.5l3 1l3 0.5l3.5-5l2.5 2.5l4 4l3 2.5l3-2l2.5 5.5l2 3.5l3-7l3 0.5l4 5l3-1.5l3.5-4l3.5 3l3.5 5.5l2 5l4-3.5l4.5 5.5l4 5l4-6.5l3.5 0.5l3.5 0l4-6l2.5 10l3-3l2.5-3.5l2.5 3.5l3 5l3-6l3-0.5l4 3.5l4-1l2.5 0l4.5 6l2.5-6l4.5-2.5l3 4l3 1.5l3 0.5l2.5 2l3 1l4-5.5l4 2l3 4.5l2 2l3.5-5l3.5 4.5l3.5-3l4.5 6l3.5 3l2.5-3l3-3l2.5 2.5l3-3l4 0l2.5-2l3.5 2.5l2.5-1l2-1.5l3.5-5l4-3.5l4.5 2l3 1.5l4-3l4 6l3 0.5l4-2l3.5-4l4.5-6l3-7.5l3-2l2.5-0.5l3.5 2l2.5-3l4.5 2l4-1l2.5 0l4 3.5l4 5l4-6.5l2.5-3l4.5 3l4.5-4.5l3.5-3l4 7l3 2.5l2.5 0l4.5 0.5l4-1.5l0.5-1"/>
<path d="M352 156l3.5-4.5l4-0.5l4 0l3.5 1.5l2.5-0.5l4 0.5l3-0.5l2.5 0l4.5 1.5l4 3.5l3-0.5l2 0l2.5 1l2.5 0.5l3.5 1.5l3 2l2.5-0.5l3 3l2.5 4.5l3.5-1l4-1.5l2.5 3.5l2.5-5l3 4.5l3.5 8.5l3.5-1l2.5 1l2 4l4-1l3.5-3l3-3l4.5 5l3.5 6l4 4l4 1.5l2-0.5l2.5-2.5l2 5l3-1l2-4.5l4-7.5l4 5l4.5-2.5l4-2l2.5 1.5l2-1.5l4 0.5l4 1l2-0.5l4 1.5l3.5 0.5l4-3.5l3.5-1l3 3.5l3 7l3.5-2.5l3.5 4.5l3 0.5l3.5-3.5l4.5 2.5l3.5 0.5l3 1l3.5-1l2 1l3.5 2.5l4-1l2-1l3.5-1l4 1l3 3l4-0.5l4-1.5l2.5-8l3 5.5l3.5-2.5l3-8.5l2.5 1.5l4.5 6l3.5-2l4-6l2-4.5l3.5-1l3-1.5l4-0.5l2 5.5l3 0.5l2 6l3-3l4-8l2.5-0.5l4 4l3.5-4.5l2 1.5l3-0.5l3.5-2l3-10.5l2.5-5l4 9.5l4-4l4 3l4 6l4-1.5l3 3.5l4-6l3.5-0.5l2.5 3.5l4.5 4.5l2.5-5l4.5-2l3.5-1.5l2.5 5.5l3 6l4-3l3 0.5l3.5 4l2.5-1l2 2.5l3.5-6l0.5-1.5"/>
<path d="M352 162.5l2.5-3l4-2.5l2.5 1l3.5-1l2.5-1.5l2.5 2l3 2.5l2.5-1.5l4.5 2.5l2.5 0.5l3-4l3 0l2.5 0l4.5 2.5l2 4l2.5-2.5l3-1.5l4 1.5l2 1l2 3l4-4l3.5 3l3-5l3.5-4.5l2.5 7l2.5-0.5l3.5-3.5l3 2.5l4 1.5l3.5 4l2 2l2.5-4.5l4 1.5l3-1.5l4 2.5l3 1l4-3.5l3.5 0.5l2.5 5l3-2l4.5 4.5l2.5 0.5l3-0.5l2.5-2.5l2.5-5l3.5-6l3.5 8.5l2.5-1.5l3.5 0.5l2.5-0.5l3.5 1l4 8l3 3.5l3.5-3l3.5 2l2-3.5l2.5-7l3.5 3.5l4 6l4 1.5l4 2.5l3-1.5l4.5-3l3-3.5l3.5-1l4.5-1l4 8.5l4.5-7.5l4 1l3.5-0.5l3.5-0.5l3-3l3.5-1.5l4-0.5l4 5l3.5-1l3.5-2l2.5-4l2.5-2l3 0.5l4-1.5l2-0.5l4.5 2.5l2.5-3l3-5.5l4 6.5l4-1l3.5-1l3.5 7l4 1l4-3l4 1l4 3l4.5-10l3-5.5l4-8l4-2.5l3.5 4.5l2.5 0l3-0.5l4-8.5l3 4.5l4 4l4-7.5l4 6.5l3 8.5l4 8l4 2l4.5 7l3.5-7.5l3 8.5l3-8.5l3 3l4 6l3-6l3 3.5l3-9.5l2.5 2l3.5-3l2.5 8l3 0.5l2 8.5l4.5 0.5l4.5-3l3-4.5l3.5-5.5l3 7l3 0l4.5 5.5l4-6l2.5 6l2 6"/>
<path d="M352 120.5l4 0l3.5 2.5l4.5 5.5l3.5 2l2.5 3l3.5 6l2 0.5l4 4.5l3.5 2.5l4 1.5l3 5.5l2-2l4 4l3 5.5l4 1l2 3.5l3.5 0.5l2 1l4-2l3 2l3.5 0.5l3 4l3.5-5l2.5 1l3 1l3.5 1.5l3.5 3.5l4.5 3.5l2-4.5l4-1.5l3.5 3.5l3.5-3.5l3.5-5l4 0l3 7.5l2.5 1l3.5 1l2-6l3.5 7l3.5 1l3 1l4.5-5l2-7.5l3 2l2 2.5l2 2l4.5 2.5l2.5 6l4-3.5l4.5-3.5l3 2.5l3 6l2.5-2.5l3-1l4 0.5l3.5 1.5l3.5 4.5l2.5 4l4 2.5l3.5 1l4.5 0.5l4.5 0l2.5 2l2.5 3.5l3.5-2l2.5-1l4.5-2l2.5-2l2-4.5l4.5 2.5l4-2l3.5-2l3.5-0.5l4-2.5l3.5 1l3-0.5l2.5 3l4-7.5l2.5 0.5l2.5-10l2 0l3 2l4 2.5l4 5l4.5 3.5l3.5-1l3.5-5l3.5-6l2.5-9.5l2.5 5.5l4 0l2.5 5l3.5-1.5l3.5 1.5l2.5-7.5l3.5-1.5l2.5-3.5l4-5l3.5 1l2.5-3.5l3.5 0l4 0l4-1l3.5 2.5l3.5-4l3.5 1.5l2.5 2.5l3.5 7.5l4 1.5l4.5-6.5l3 7.5l3-0.5l4.5-10.5l3 5l4 0.5l3-4"/>
<path d="M352 174l3.5-2.5l3-1l4.5 3l4-0.5l3.5-2l2.5 3.5l2.5 2.5l3.5 5l3.5-3l4-0.5l3-4.5l2.5-2.5l4.5 9l3 6l2.5-5l3-6l2.5 3l2.5-1l2 1.5l2.5-1.5l2.5-2l3.5-7.5l2 2l2.5 8.5l4 2.5l4.5-2l3 0l3.5 1.5l4.5-1l2 1l3 5.5l3-3.5l4.5 2.5l3.5 4.5l3-3.5l3 1.5l2.5 1l3 1.5l4 1l4 0.5l2.5-4l4-5.5l2.5-2.5l4.5 3.5l4-4l3.5 3.5l2.5 5l3.5-6l3 0l4-2l4-2l2.5-6.5l3-0.5l2.5-2l2.5-2.5l2 7l4-3.5l2.5 3.5l4 5.5l2.5-6.5l3 0l3-8l3-5.5l2.5 3l3.5 9l4 3l3.5-6.5l2.5-0.5l4.5-3l2.5-2.5l4-1.5l2.5 2l3-4.5l2.5-1l3 1.5l3.5 0l2.5-2l2.5 0l3 1.5l2.5-5l4.5 1.5l4-5.5l2.5-2.5l4 2l2.5 1l4.5-1.5l4-1.5l4 1.5l4.5-4l4 3l4.5-5l3-3l2.5 2l3 3.5l3 0.5l2.5 0.5l2-6.5l3 0.5l2 3l4-6.5l4-2.5l3 0l2-4.5l3-1l4 8l3 3l4 1.5l2.5 3.5l3-8l3.5-6l3 2.5l4.5-10.5l2-2.5l4.5-2.5l2-4l2 6.5l3.5 6.5l3 2.5l4.5 4l3.5 4.5l2.5 4.5l4.5-6l2.5-1.5l4 3l4.5-2.5l3.5-0.5l4 5.5l4 5l3 1.5l3.5 0l3 6l3.5-4l3 2l4-1l3 0.5l4-8l4.5 0l4.5-4.5l3 0l4.5-0.5l4 6l2 6.5l4-0.5l2.5 2.5l2 2l2.5-1.5l4-4l3-1l3.5-1l2.5-0.5l0.5 9.5"/>
<path d="M352 231l2-6.5l2.5-7l3.5-3.5l4-4l2.5-4.5l3-2l3.5-3l2-5.5l3-1.5l2.5-3l2 6l4 2.5l2.5-1.5l2-2.5l4 3l3-4l3.5-1l4-0.5l3.5-2l2.5 2.5l4.5 4l3-5.5l3 4.5l2.5-4.5l4-6.5l2 2.5l4.5 4.5l3.5-6l2.5 1l2.5-3.5l4.5-0.5l3.5-2l2-6.5l3-0.5l3.5-5l2 4.5l2 1l3.5-10l3-2l3 5.5l3-3.5l4.5 3.5l3-5l4 2l3 2l2.5 0.5l3 2.5l4-2l4.5 8.5l4.5-5.5l3.5 1.5l2.5-1.5l4 6l2.5-10l4 8l3.5 5.5l2 2l4.5-1.5l4 0.5l4-10l4.5 1.5l3.5-0.5l2 5.5l2.5 1.5l3 2.5l4-7l3 1.5l2.5-3l3.5 3l2.5-4.5l3-3.5l2-5.5l3.5 0.5l4-2l4-3l2.5 4.5l4-6l4.5-3l4.5 3l3-4l3.5-1.5l2.5-4.5l4.5-0.5l2 7.5l4.5-2.5l2 1.5l3.5 9.5l4-7l4-8.5l4-0.5l3-3l3.5 3.5l3.5-4.5l4-2.5l3.5 4l3.5-2.5l2.5 5l2-7l3-7.5l3.5 2.5l2.5 6l3.5 0.5l4-3l3 0l2.5 1l4 6.5l4-10.5l2 3.5l4 1l3 6l3 3l2 4"/>
<path d="M352 136.5l4 5.5l2.5 5l4.5 7l2.5-1l2.5 4.5l3-2.5l2 2l3.5 2l3 3.5l3-2.5l2.5 1.5l3.5 5.5l2.5 2.5l4 0.5l2 5.5l3 6l3.5-2.5l3.5 8l3.5-1.5l3-3.5l3.5-0.5l2 4l3.5-6l2 3l4.5-3l4 6.5l4.5-5.5l2.5 3.5l2.5 3l2.5 2l2.5 0.5l3.5-1.5l2-2l3.5 3l3.5-1.5l2.5 0l2.5 5.5l3 3.5l3.5-4l4-3.5l4-3l2-9l4 0l4-3l4 13l4 4.5l2.5 3l2.5-7.5l3.5-6l4 6l2.5-1.5l4 1.5l4-3l3 1.5l4-3l3-3.5l3.5-6l2.5-7l2.5-3.5l4 6.5l3 1l3.5-0.5l3.5-4.5l3 2l2.5 1l4 5l2.5 0.5l2.5-0.5l4.5-3.5l2.5-1l2 0l3-0.5l2.5-5l2-2.5l4.5-1.5l3 0.5l2.5-3l3.5 1l4.5 0.5l2.5-5l3 2.5l2 0l3 0l4-6.5l3-2l2.5-4.5l3.5 4.5l3 3l3.5-4.5l2.5-1l2.5-4l4-0.5l3.5-2l2-4.5l3.5 4l2.5 3.5l4.5 0l3.5 10l3.5 7.5l3 0.5l3.5-8.5l3-6l4-2.5l4.5-2l3.5-1l4.5 3.5l3.5-3.5l3.5-10l2.5 3l3.5-4l4 8l4.5-12.5l4 4.5l4.5 3.5l4 9.5l2.5 0.5l2.5-0.5l4 9.5l2-10.5l3 2.5l3 5.5l4 3l3 2l4.5 4l4-5.5l3-1.5l4 4l4 4l4 10.5l2.5-11l3-6l3.5-6l2 0l4.5-0.5l4.5-4.5l2-0.5l2.5-1l2.5 1.5l4 1.5l4-5.5l4-0.5l3.5 0l4.5 6.5l4 8.5l2-5l2.5 1.5l3.5-9.5l4.5 6l4-2.5l4-6l3-1l3.5 7l3.5-1l3.5-1.5l4.5-11.5l2 7l1-6.5"/>
<path d="M352 196l2.5-5.5l4-5l2.5-1l2-1.5l2-1l3 0l4-0.5l2-6.5l3-2l3.5 5l3.5 5l3-1l3 0.5l2.5 0.5l3.5 0.5l4 1.5l2.5-1.5l3.5-1l3.5-4l3.5-1.5l3-4l4-1l3 3l2.5 1l2.5-3.5l2.5-3.5l3-1l3 0.5l3.5 1l3.5 6l2-4l3.5-4l2.5 2l4 4l2.5 0l2.5-2.5l3.5 6.5l3.5-0.5l3 5l4.5-3.5l2.5 1l3.5-0.5l3-6l2.5-5.5l4.5 0.5l3.5-2l3.5-4.5l4 0l2-1.5l3.5 0l4-1.5l4 4.5l2 1.5l4.5-1l3.5-3.5l3-3.5l2.5-5l3.5-4.5l2.5 4l3.5 1l3 4l2.5 0.5l3.5 1.5l4-2.5l3.5-1.5l3 4.5l4-3l4 1l4 2.5l4-2.5l4-3l2.5-3.5l4.5 3.5l3.5 1l2 5l2.5 0l4-4.5l4-6l2-3.5l3.5-0.5l4.5-4l2 0l4.5 1l2.5-2l3-2.5l3 3l2-1.5l4.5 0.5l3-5l2 2l2.5 3l2 12l4 0l2.5-4.5l3-7l4 5.5l3-3.5l2.5 7.5l3-3.5l3.5-3.5l3 3.5l3 2l4-8l4-6.5l4.5-1.5l2.5 2.5l3.5-3.5l2.5 3l2-0.5l3 5l3 1.5l4.5-5.5l4-5l2.5 3.5l4.5 3.5l3-4l4.5 0.5l3.5 1l4-6.5l4-1.5l2.5 10l4 2.5l2 0.5l3.5 8.5l2.5-0.5l2.5 0l3.5 4.5l3.5 9l3-1l4 12l3-4l3 4l2.5 2l3-5.5l2.5 3.5l4-6.5l2.5-1.5l3 10l4.5 5l2.5 9.5l3 7.5l2.5-4l1.5-1.5"/>
<path d="M352 125.5l2 1.5l3.5 3l2.5 3l4.5 3.5l2.5 3.5l4 5l2 2.5l4 4l3 1l4.5 3.5l3.5 2.5l2.5 1.5l2.5 0l4 2l2-0.5l4 7.5l3.5 0l3.5 0l2 2l2-0.5l3 0.5l3.5 2l4 2l3-3.5l3.5-0.5l2.5-3l3.5-7.5l2.5 0l2.5-4l3.5 5.5l2.5 2.5l4.5 1.5l2.5 0l2.5-0.5l2 6l2.5-4l3.5 3l2.5 1l4 4.5l4.5 1l4 3l3.5-1.5l3.5 4l4-2.5l2-3l3.5 1l3-1l3 8l2.5-1l3.5-5l4 3.5l4-1l3 4.5l3.5-2.5l3.5-5.5l4 3.5l4 7.5l3.5-4l4.5-8l2.5-1l3.5-1l2 0.5l3 3l3 4l2-2.5l3-6.5l2 5.5l4 0l3-0.5l4-6l2.5 5l3.5-5.5l3.5-1l3 4.5l2 3l2.5 1l3.5-3.5l4 6l3 1l3.5-2l4 3l4.5 1l2.5-0.5l4 2l3 0.5l4.5-6.5l4-1l4-7.5l3 1l2.5 4l3.5-3l3 0l2 1.5l2 2.5l4.5-3l2.5-3l3.5 1.5l2.5-7l3.5 4.5l3.5-3l2.5 4l2.5-8l2.5 5.5l4.5 5l3.5-10.5l2 2l4.5-10l2.5-6.5l2.5 4.5l1-0.5"/>
<path d="M352 96.5l3.5 1.5l3.5 3.5l3 5.5l2.5 5.5l3 3.5l2.5 5l2.5 2.5l3 3l4.5 6.5l3 4l4 6l4 0.5l2.5 1l3-3.5l3 5l4.5 4l4-0.5l4 3.5l2.5 0l4 4l3 1l3 3.5l2 0l3-5l2.5-1l2.5-2l4 6l3.5-1.5l4.5 1l3.5 0.5l4.5 3.5l3.5 7l3-1.5l3 1l2 2.5l3-0.5l2-0.5l3.5-1l2 0l4-3.5l4 3l3 5.5l4.5-1.5l3.5-0.5l3.5 2l3-0.5l4-4l3 0l3-1.5l3.5 0.5l2.5-4l3.5 2.5l2.5 0l3.5 2.5l3 1.5l4-1l2 0l3 0.5l4 1l4-1l3.5 2.5l4 4.5l4 0l4.5 4l3.5 1l3.5-6l3.5-7.5l3.5-4.5l4.5 6l3-1.5l4-1l4-4l2.5-2.5l3-3.5l4-3l4-4l3.5-2.5l4 3l3.5-11l3.5-5.5l4 4l3.5-6.5l2.5 1l4.5-2.5l4-2l4.5-3.5l2.5-2.5l4 0.5l4-6.5l2.5-2.5l3.5 1.5l4 4.5l4 3l3.5 10l2.5-2.5l2-3l2-10.5l3 12.5l3 6.5l2.5-4.5l3 5l4.5 2l4.5 2.5l4.5 4l4-3.5l2.5 5l4 6l2-1l4 2l3 5l3.5-5.5l3-0.5l3 5l3.5-1l2-2l4 9.5l3.5-3.5l1-8"/>
<path d="M352 229l3.5-18l4-14.5l2.5-6l3.5-8.5l2.5-5l3.5-5l4.5-1l2.5-4.5l2.5 0l3 0l3.5 0l3-0.5l4-3.5l4 0l4.5-6l3.5 7l3-3.5l2.5 0l3.5 3l2.5 1.5l2.5 1.5l3 1.5l3-1.5l2.5 2l4.5 3l4.5 7.5l4 0.5l2.5 2.5l3.5-3.5l2.5-6l2.5 2.5l3.5-4l2.5 4.5l3 2l3 6l4-0.5l2 2.5l3.5-0.5l3.5-2.5l3.5 7.5l2.5-3l2.5 6l3.5-4.5l2.5 2.5l4.5-1l3.5 2l3.5-6l3-3.5l3.5-3l3 0.5l4-1l2.5 6l2.5 0.5l2 1l2 0.5l4-4.5l4 2.5l3 1.5l3.5 0l2.5-2.5l2.5 1l4.5-0.5l4 2.5l4.5-1.5l3-1.5l3-2.5l2.5 2.5l4-0.5l2.5-3.5l2 2.5l3.5 0l2-0.5l4.5-4l2.5-1l2.5 6l4.5 1.5l2.5 2l3.5 7l2.5-2l2.5 6.5l3-1.5l4.5-7l2.5-0.5l4 1l3.5 2l4 0l3.5-6.5l3 0l2.5-4.5l4-3l2-2.5l4-8l3.5 3.5l2.5-0.5l4.5-8.5l4-4.5l3.5-4l3-6l4.5-5l3-7l4 1.5l2-0.5l2.5 5l2.5 3.5l4 1l4.5-1.5l3 0.5l3 5l2-6.5l3.5-3l2.5-0.5l3.5 6.5l4.5 0l3.5 4l2-2"/>
<path d="M352 152l3.5-1.5l2.5-1.5l2.5 2.5l3.5 0l4 4.5l3.5 2.5l3 1.5l4 1.5l4-2.5l4.5-1l3 1.5l3-1.5l4 2l4.5-6l3.5 5l4 2l2.5 0.5l4 2l4.5 2.5l2-5l4-3l4 1l3 4.5l2.5-2l2.5-3.5l4.5-4.5l2.5-3.5l4 6l3.5 7.5l2.5-3l3 0.5l3 0l3-0.5l3.5-1l3 2l2.5-1.5l3.5 0l2.5-2.5l3 5l2 1.5l4-2l4 6.5l4-6.5l3.5 1l4.5 5.5l3 8l3 0l3-7.5l2.5 4.5l2.5 5.5l4.5 0.5l3 3l2.5-6.5l3 8.5l3-1.5l3.5-2l2 0.5l3-4l3.5 10l4.5-2.5l3.5-5.5l3.5-7.5l3.5 1l4.5-3.5l2.5 7l4 5l4.5-1.5l2.5 1.5l2.5-1l3.5-6.5l4.5-1.5l4 0.5l4 0l3 1l3.5-4.5l3 3l4.5-2l3.5 2l3.5-0.5l4 2l4.5-4l3 2l3-6.5l3.5 0l4.5-1.5l3 1l2.5 2.5l2 1l4-3l3-10l3.5 0.5l4.5 9.5l3.5-2.5l2 7.5l3-9l4.5-9l4 10.5l4.5 3l4-1.5l2-5.5l2.5-2l3 3.5l3 2l4.5-0.5l4-2.5l3 6.5l0 2.5"/>
<path d="M352 132l3.5 2l4.5 4.5l4 6l2.5 4l3 0.5l4-2l2.5 2l3 4l3-3l3-2.5l2 3.5l4 3l3.5-1.5l3.5 2.5l4 2.5l4.5 3.5l4 1.5l3.5 1l4.5-1l3.5 1l2 1l3.5-0.5l4 1l4 4.5l4 3l4-3l4.5 2.5l3-1l2.5 3.5l2 1l3 2.5l3-2.5l4.5 3.5l3 1l3.5 0l4 5.5l3.5 0.5l4.5 1.5l4-2.5l3-1.5l4 2l3.5 1l4-2.5l3.5-0.5l2-7.5l2.5-7.5l4.5 2.5l4 0.5l4.5 1.5l3-1l3.5-2l3-6.5l3.5-1.5l2 0.5l3.5-6l3.5 2.5l3-0.5l4 6.5l4 2.5l3.5-1.5l3-1l3.5 1.5l3 2.5l2-0.5l3.5 2l3.5 5.5l2.5-4.5l3.5-2l2 0l3 3l3.5 1.5l3.5 4l2.5-4.5l3.5 0.5l3 1l2.5-8l4 1l2.5-2.5l2.5 0l2.5-1.5l3.5-3.5l4-2.5l2.5-4l4 11l4.5 0l2-2l4.5 0.5l3.5 1l3 1l4-1l4-2.5l4-3.5l2-3.5l4.5-4.5l2 1l3.5 1.5l3.5 1.5l2.5-4.5l3.5-3.5l2-0.5l4 5.5l3.5-6l1.5-4.5"/>
<path d="M352 155l3-3l2.5-3l3.5 2.5l3 3l3-0.5l3 0.5l4 2l3 0.5l2.5 0l4 4l4.5 3.5l3.5 1l2.5-1l4.5 3l3-0.5l3.5 0.5l2.5 1.5l3.5 5.5l4.5-2.5l3.5-3l2.5-2.5l4-4.5l4-4l3.5 0.5l2.5-0.5l4.5-2l3-5l4-6l4.5 4.5l2.5 2l2.5-0.5l3 0.5l4 5.5l3.5 3.5l2.5 1.5l3.5 2l2.5-7l3.5 4.5l2-1l4-1.5l3-3l3.5 0l3 5.5l3.5 0l3 1.5l3-1.5l3 7l2 2.5l2.5 5l3-4.5l2.5 1.5l2 3l2.5 1l4 1.5l2.5 0.5l4 2l4 2.5l3 8.5l2.5 2l3.5-1l3-4.5l4-2l2.5 4l3.5 0l2.5 3l3-1.5l4-1.5l3-1.5l3 3.5l3-5.5l2.5 7.5l2.5-3.5l3.5-8l4.5 3.5l3-0.5l4-0.5l2-1l4-5.5l2.5-4.5l3.5-2l2-0.5l4 2.5l3-8l4.5 2.5l2.5-1.5l2.5 3.5l3-3l4-3.5l3-7.5l4-5l3 5l2-2l3 1l4 4.5l3-6l2-3.5l4.5 0.5l4 6l2-9l4.5 1.5l4 3l4.5 5.5l4.5-0.5l3.5 2.5l3.5 2.5l2.5 5.5l3 5.5l3 4l2 6l4 1l4.5-7l4-4l3 2l2 0l3-2l2-0.5l4-2.5l2.5-6.5l2.5 0l4-1l3.5 0.5l2.5 3l2.5-3.5l3-7l3-3.5l4 2.5l3 0l4.5 1l2.5-6l4 3l4.5 7l2.5-7l2.5 1l3.5 0.5l4.5 8l3.5 1.5l4 0.5l3.5-6l4.5 0.5l4-4l3.5-5.5l2.5 9.5l3 0l3.5 9l4 4l2 4.5l3.5-5l2.5-12.5l2.5-2l4.5-6.5l2.5 0.5l3.5-1.5l2.5-7.5l2 3l3.5 4.5l3.5 1.5l4-7.5l4 9l0.5-5.5"/>
<path d="M352 180l2.5-4.5l2.5-3.5l3-0.5l4.5-0.5l3 1.5l2.5 3l4-0.5l2.5-1l3.5 0.5l3 3.5l2.5-2l4 0l2.5-2l4 0.5l2-1l3.5 4.5l2-1l3.5-2l3-1.5l4 1l4.5 1l2.5 0.5l3.5-4.5l3 4.5l3.5-0.5l3.5-2l4.5-2l3.5-3.5l2.5-1l3-0.5l4 3.5l2.5 3l2.5 4l3.5 0.5l3.5-7l3.5-2l2.5-2.5l3 4l3-2.5l3.5-1.5l4 0.5l2 0.5l4-4l4 2.5l3 1l3 3.5l3.5-1.5l2 1l4 2.5l3-4l3.5 0.5l2.5 6l2.5 5.5l2-2l2.5 3.5l2 1l2.5 4l3.5-3l2.5-0.5l3 5.5l2.5 1l2-1.5l3-1l4-1.5l3.5-2.5l4 2.5l4 1.5l3-4.5l3 1.5l4-8.5l3 4l3.5 1l4.5 0l2.5-1.5l2.5-2.5l3-1.5l2 3.5l3.5-4.5l3-2.5l4-3l2.5-5l4 6l3 4.5l3-3l3-1.5l4.5-4.5l3 3.5l4 6l3-4.5l2.5-1l3 3.5l3.5-4l3.5-4.5l4-2l3-3.5l4.5-1l4-7l2.5 5l4.5 1.5l3 9l3-2l3.5 1.5l3 3.5l3.5 1l2.5-6l4-1.5l3 7.5l2.5-6.5l3.5-5l4-2.5l4 6.5l3-7l3-0.5l4.5-12l3.5 2l2 9l3.5-1.5l3.5 8.5l3 2.5l4.5-2l4 5.5l3-4.5l3.5 2l2 8l4 3l3-10.5l2.5 6l4 1l3-1l3.5 3.5l2-10l3-3l4 0.5l2.5-1l3-5l2 1l3.5 1l4-1.5l4-1.5l4 0l4.5 2.5l4-1.5l3.5 1l3 8l3.5-2l2.5-1.5"/>
<path d="M352 215.5l3.5-13.5l2.5-6.5l3-2.5l2.5-3.5l3.5-5l2-2l3-1.5l3-3l3 3l2-2l4.5-6.5l2.5-5.5l3 4l3.5-3.5l4 0.5l4-3.5l3.5-3.5l3 3.5l3-4.5l3 2l3-5l4 6l2 3.5l3.5-0.5l4 5l4-5.5l2-3l2.5 1l2.5 0.5l2.5 1.5l3 2l3.5-8.5l4.5 3.5l3 7.5l3-2l2.5-4l3 2.5l2 9.5l4-3l2.5-6.5l4 9l3.5-0.5l4 3l4.5-5.5l4 0l2 8l3.5-2l4-6l4.5-0.5l4-1.5l4.5-5.5l4.5 7l3-3l2.5 5.5l3.5 6.5l4-3.5l3 3l3.5 1.5l3.5 2.5l4.5-2l3 3l3-8l2-7.5l4.5 6l3.5 7l4.5 0l3-7.5l4.5-5.5l4-3.5l3-4l2.5-6l2-3l3.5 2.5l4.5-1.5l4 6l4-1l4.5-1l3.5 2.5l4-2.5l4-3l3.5 0l3.5 2.5l2.5 1l2.5 3.5l3.5 4.5l2.5-2l3 3.5l3 4l4 5.5l3 1.5l2.5-2.5l2.5-3.5l3.5-4l3.5-10.5l3-1l2.5 9l4-0.5l2.5-5.5l3.5 0.5l2 2l4 4.5l3 5.5l3.5-2.5l4.5-5l4-4.5l4 1l4.5-11.5l3-4l2.5-0.5l4.5-4.5l2.5 7l4.5-1.5l4 8l3 1l4 5.5l2 6l3 3l4.5 10.5l4.5 3.5l4.5 0.5l2.5-0.5l2.5-2.5l2.5 3.5l4-3l2.5 0l3-5l3-2l3.5-2l2.5 0.5l3 6l3.5-1l4 1.5l3.5 1.5l2-9.5l1-1"/>
<path d="M352 68.5l3 8l3.5 8l3.5 8l3.5 10l4 10.5l2.5 6l2.5 3.5l3 5.5l2 6l3 2l2.5 2.5l3.5 6l3.5 1.5l3.5 1.5l3 5l3.5 4l3.5 1l4.5 2l3 4l3 1.5l4 6l4 1l3 1.5l3.5-0.5l3 0.5l2.5-0.5l3.5-1l2.5 0.5l4.5 5.5l2 3l3-1l3 1.5l3-1.5l4 0.5l3 3l2.5-3l2.5 4l2.5-3.5l3 3l2.5 3l3.5 5l4-2.5l3.5-4l2-2.5l2.5 5l3-4l3-1l2-1l4-2l3.5 1.5l2.5-4l3.5 0.5l4 2l4-2l3-1l3 4.5l2 1.5l4.5-3l2.5 1l3-7l3.5 3.5l3-3.5l2 6l2.5 2l2.5 5.5l2.5 3.5l2.5-3l2.5 5.5l4-4.5l2.5 1.5l2 0l4-3.5l2.5 0.5l3.5-7l3.5 0.5l3.5-3l2.5-3.5l3.5 6l2.5 2l2.5 1l4-4l2 6l2.5-3l3-6l3 3.5l2.5 2l4-5.5l2.5 4l3-3.5l2.5 7l2.5-8l4 1.5l2.5 1.5l4-3l2.5-5.5l3.5-4l3.5-1.5l3.5 0l2.5-1l2.5-2l2-5l4 5l4-5.5l3-11.5l2 9l4-2l2-7.5l4 3l3.5-2l4-7.5l3 4l4-1l2.5-1l3-10l4 7l2-0.5l4.5 3l2 0.5l2.5 12l2.5-4.5l4-8l4 3l2.5 1l2-2l2.5 3l2.5 10.5l3.5 2.5l4.5 8.5l2.5-2.5l2.5-4.5l2.5-4.5l3 9.5l3.5 3.5l4 7l4 2.5l4.5 2l2-2.5l3-3l2.5 9l3.5-0.5l3 7.5l4-5l4-2l3.5 0l4 5.5l4 3l2.5-8.5l3.5 4.5l2 6l2.5-1l2.5-0.5l2.5-0.5l4.5-5l2.5-0.5l3 7l3.5 12.5l3-4.5l2.5 1l2.5 7l3 1.5l2.5 0.5"/>
<path d="M352 151.5l4.5-7.5l3.5-1.5l2.5 0.5l2-1l3 2.5l4.5 2.5l2.5 3l4.5 3.5l2-1.5l3.5-3l4-1l2.5 2l3 3.5l3.5-0.5l2.5 3.5l3.5-0.5l4.5 6l2.5-1.5l3 4l3.5 7l4.5-2.5l2-1l2.5-1l3-2.5l3.5 3l3.5 0l3.5-4l3.5-2l4 3.5l2.5-5l3.5 3l4.5-2l3.5 4l4 5l3-1.5l3.5 0.5l3-2l3.5-7l3.5-2l4-5l3.5 2.5l4.5 2.5l3 0.5l4 0.5l2.5 1l4 1l3 0l3-7.5l2.5-2.5l2.5 2l3.5-0.5l2.5-1.5l3 6l4 5.5l3.5-8.5l2 4l3 11.5l3-7l2 3l4 3.5l3-6l3-4.5l4-3.5l3.5 8.5l2.5-5.5l4 9.5l2.5-1l4 8.5l4-2.5l3 0l2-4.5l3-1.5l4.5 5l3-2l3 1.5l4.5-7.5l3.5 3l4 4.5l4 2l4.5 0.5l4-1l3.5-8.5l4-8l2.5-2l2-4l4 1.5l2.5-2l2.5-2.5l3-3l2-1.5l3 0.5l2.5-4l4-7l4-4l3.5 1.5l4.5 0l4 9.5l3.5 2l4-0.5l3 2.5l4.5 2.5l3.5-1.5l2.5-6l3 1l3.5 0l4.5 4.5l2.5-4.5l3.5-2l3 8l3 1.5l3.5-0.5l4 11.5l4.5 0.5l3 7l4.5-5l4.5-2.5l2 2.5l4-7l4.5 4l2.5-2l2-0.5l4-3l4.5-3l3 2l2.5 4l2-4.5l3.5-12.5l4.5 6.5l4 3.5l2.5-4.5l2.5 4.5l3.5-2.5l3 4l4.5-7.5l3 0l2-4.5l3.5 8l3 4l2.5-6l4.5-10.5l2.5 2l4-0.5l3 3.5l2.5-2l3-7.5"/>
<path d="M352 273l3.5-28.5l4-26l3-11l4-12l3-8l4-5.5l2.5-8l3.5-6.5l4-1l3 1.5l4-1.5l4.5-7.5l4.5-4l3.5 0.5l3 0l4.5 0l3.5 0l4-8l4.5 3.5l2.5-0.5l4.5-6l4 4l2.5-1.5l3-0.5l4 0.5l4 5l4 0l4-5.5l4.5 3l3-1l4 4.5l4 3l3-4l2.5 0.5l4 6l2-2.5l2 3.5l4-3.5l2 1.5l2.5-1.5l4 1.5l2-0.5l2.5-2l4 7l2.5-4l2.5-5l2.5 2.5l4-6.5l4.5 7.5l2.5-4.5l2.5 4.5l4-2l3.5 3l4-0.5l4.5-1l3-5l3 5l3.5-4.5l3 0.5l3.5-5l2.5 2.5l4 5l3-8l4 1l4 3l2-3l4.5-2l3-5l3.5 7.5l2.5-0.5l3.5-1.5l3-4l2-0.5l2.5-5l2.5-1l3 8.5l3.5 0.5l3.5 0l4.5 2.5l4 1.5l2-5.5l4.5-0.5l2.5-7l2 1.5l3.5-2l2-1l3.5-6.5l4.5 2l2.5-0.5l3 4l4-3l3.5 3.5l4-4.5l3-0.5l3 10l3.5-1l2-1l4.5 3l3-2.5l2.5 0l4-4.5l2.5 2.5l2.5-5.5l3 5.5l3-0.5l4 1.5l4 10l2.5 7.5l4 4l3.5-4.5l3-3.5l4.5-0.5l2.5-1.5l3.5-5l3.5-5.5l4.5 1l4 6.5l3.5-1l4 5.5l3.5-6l3 8l4.5 11l2 5l2.5 2.5l4 5.5l3.5-1l4.5-4l3.5 2.5l3-3.5l3.5-7.5l4 3l3-4l3.5-2l2.5-2l3-0.5l3.5-3.5l3-5.5l4 1l2.5 5.5l3-3.5l3-5.5l2.5-6l2.5 1l3.5 5"/>
<path d="M352 162.5l3-3l3-2l2.5 1.5l4.5 2.5l3.5 5.5l2.5 0.5l4.5 1.5l2.5 2l3 1.5l4 1l4-0.5l2 3.5l3-1l3.5 0.5l3.5-1l2 0l2.5-1l3 6.5l2.5-2.5l4 4.5l4-0.5l2-0.5l2 3l3.5-5.5l4 1l3-0.5l3.5 3l4.5-1.5l2 0l2.5 7l2.5-1l4.5-6l4-4l4.5-3.5l2.5 6l3.5 2l2-2l4-2l4-6l3.5-3.5l2 2.5l3 0l3-1.5l4.5 5l3 2l4-2l3.5 3l4-7l2.5 4l4 4.5l4.5 0l4-1l2.5 3.5l4.5-4.5l4.5 3l3.5-1.5l2.5 3l3.5 0.5l2 12.5l2 0.5l2.5 0.5l4-4.5l4-1.5l4-5l3.5 1l4.5 3.5l2.5 3l2.5-3.5l3.5-4.5l2-4l4-1l3 2l3 8l4 2.5l3-1l3 0l4-1.5l2.5-2.5l2.5-0.5l4.5-5.5l3.5-2l3.5-5l2 2l2.5 2l2.5 0.5l4-5l3.5 0l4 1.5l2 1l3.5 7.5l4-4.5l2.5-2.5l2-4l2.5 0.5l4 5.5l3 1.5l3.5-5l2 0l3.5-6.5l2-4l4 4l3.5 1l3.5-0.5l2.5-3.5l4-2l1-7.5"/>
<path d="M352 153.5l2.5-1l2.5-1l4 4.5l4 3.5l3.5 3l3.5 4l3.5 1l2 1.5l2.5 1l2.5-1.5l2.5-3l4.5 7l4 3.5l4.5-1l2.5 1l4 1.5l3 2l2-5.5l3.5 2l4 5l4-4l4 0.5l3.5-2l4 5.5l4.5-7l3.5-2l4 4l2.5-3.5l2 2.5l4-0.5l4 4l3 3l4-1.5l3.5 1l3.5 0l2.5 7.5l3.5-2l3.5-2.5l2-1.5l3-3l2 2.5l3.5 3.5l4-7l3-4l3.5 0.5l3-1.5l3 3l4 0.5l2.5 0l2 1l2-4l3 3.5l4 0.5l2.5 5.5l3.5 5l4-1.5l3.5 1.5l2-2l3 1l3.5 2.5l4.5-0.5l3.5-1.5l4-4l4 2l4 1.5l3.5-7.5l4 2.5l2.5 0.5l3.5-1l3.5 0l2-3l3 2.5l4-1l3.5 3.5l4-5.5l3 1l4 1.5l2 7l2.5-10.5l3.5-2.5l4 1l3 0l2.5 5l2-5l2.5 1.5l2.5 1l4 5l3 1l3.5 3.5l2-6l4-1.5l3 0l2.5 3l3.5-6.5l2-5l4-0.5l2 0.5l4-3l2.5 3l4.5-4.5l3 5l2.5-6.5l2-2l4-2.5l3-3.5l3.5-2l3-0.5l3.5-2.5l3.5-8.5l2.5-3l3.5 4.5l2.5-3.5l2.5-7"/>
<path d="M352 240l3-12l4-13l4-7.5l3.5-7l4-4l2 0l3.5 0l4-1l3.5-1l4-2.5l3.5-3.5l2.5-4l2-7l4-3.5l3-4l3-3l4-3.5l3.5 0l4-5.5l4-1.5l2.5 0.5l3.5 4.5l3-5.5l2 5.5l2.5 2.5l4 4l4 2.5l3.5-6l4.5-2.5l3 5.5l4-1l3 1.5l3-1l2-8l3.5 7.5l2.5-5l2.5-1.5l3-5.5l4 2.5l3 2.5l4.5 1.5l3-5l4-2l3 0.5l2.5-2.5l3.5 1l3.5 9l3.5-6.5l2.5 4.5l4 0.5l3-0.5l4 0.5l3 3l2.5 3.5l4-4l4 4l2.5 2l3 2.5l4-2l4-7l2.5 1.5l4 7l3-5l2.5 1.5l2 6l2 2.5l4.5-1l3-3l2 3l4.5-1l4.5-3l4-4l3.5 8.5l3-6.5l3.5 2.5l3 3.5l4 1.5l4.5 0l2-7.5l4-3.5l2.5 3l2.5 0l2.5 3l4.5-3.5l2-3l4.5 4l3.5 3.5l4-4.5l2.5-6.5l2 2l2.5 0l4-3.5l2-2l2.5-6.5l3 6l4.5-7.5l3 0l4-1.5l3-11l3.5-1l2.5 11l2.5-6.5l4.5-1.5l3.5 7.5l2.5 0.5l3 2l3 4.5l3.5 2l2.5-4.5l3.5-1.5l3.5-6.5l2.5 6.5l3 2l4 1l3 1.5l2.5 1.5l3-4l4-1l3 2l3.5 7.5l3-5l2.5 8.5l3.5-4l2 7.5l4.5-6.5l3-4l3.5 6.5l3.5-4.5l4-4.5l4 1.5l3 1.5l2-7.5l2.5 2.5l2.5-9.5l3-4l2.5 1.5l3.5 1l2-3l1-4"/>
<path d="M352 93l3 6l3.5 5l4 8l2.5 6l3.5 6l4 5l2.5 6.5l3 3l3-2l3 5.5l2.5 6.5l3-3l3 4.5l2.5-0.5l3.5-8l4-2.5l3.5 1.5l3.5 0l3 2l2.5 0l4 9.5l3.5 5l4 3l4-7l3.5-2.5l2.5-3.5l4.5-1.5l4 1l2.5 2l4-5.5l3.5 4l2.5 7.5l3.5 5.5l2.5-0.5l3.5 0.5l2.5 0.5l4.5 1.5l3-4l3 2.5l4-5l3-3.5l3-2.5l3-2l3-2.5l3.5 12l3 0.5l3.5-2l2.5 2l2 1l2.5 0.5l4.5 2.5l2.5 4l4-2l3 0l4.5 5l3.5-6.5l3-2.5l3.5 4.5l2.5-4.5l4.5-2.5l2.5 1.5l2.5-0.5l2.5-7l3 0l3-1.5l3 5.5l2-5l3-0.5l3 3.5l3 2l3-0.5l3 5.5l3-3l4 2l3.5-2.5l2 0.5l3 1l4-2.5l4 1.5l3 2.5l4 1l2.5 2l3-3.5l4-7l4 1.5l2 1.5l2 2.5l3.5-3.5l4 3.5l3.5-10.5l4.5-4l4 7l3-1.5l2.5-5.5l2 4l2.5-7.5l3.5-11.5l3.5-1.5l2-2l3.5-3.5l3 2l4.5 7l4 13l4-3.5l4-2l4 6.5l2.5-1.5l4.5-8.5l2 4.5l3-3l3 9l3.5-2.5l4 7.5l3 5.5l3.5-1l3.5-5.5l1.5 0.5"/>
<path d="M352 147l4.5-4l3.5 0.5l2.5 0l4-0.5l3 3.5l2-1l4.5 4.5l2-1l4 0l3.5 3l3 7l3.5 2l3-1l3 3l2-1.5l3 0.5l4 1l4 4l4.5-4l3.5 1l3 1l4-1l2.5 2.5l3 5.5l4-4l3.5 2.5l3 0.5l4-1l4 1l4 0l3-2.5l4 1.5l2.5-4l2.5-1.5l2.5-3l2-0.5l2.5 1l3 0l2 0.5l4.5 2l4.5-1.5l3-2.5l2-2.5l4.5 1.5l4.5-0.5l3-3l2.5-2.5l4.5 3.5l3-1.5l4.5 4.5l4-3l2.5 3.5l3-8l4 2l4.5-3l4 1.5l2.5 2.5l3 1.5l3 3l4-2l2-3.5l2.5-2l3 7.5l3.5-1.5l2 5l2.5 2l3-1.5l3 3l4.5-4l2 1.5l3.5 0.5l3.5-7l3.5 3.5l2.5 4.5l4.5 3.5l4-3l3-4.5l2.5 11.5l2.5 2.5l4 1.5l2.5-2.5l2.5-3.5l4 2l4-4.5l2 4.5l3-3.5l2.5-3.5l3.5 0.5l4-3l3-6.5l2.5 2l2.5 5l3.5 1l4-3l2.5 2.5l3.5 7l3.5-4.5l3.5-1.5l3 1l3.5-4l4 1l4-2l4.5-2.5l2.5 11l4-3.5l2.5 3l3-5.5l3 4l3.5 2l4-8l3.5-6l2.5-1.5l3.5 6l2.5-6l2 3l2.5-7.5"/>
<path d="M352 125.5l2.5 0l3.5 0.5l4 4.5l3 4l3 4l3.5 4l3 6.5l4 4l4 2l3 1l3 2.5l3-1l3 2.5l3 0.5l2.5 0l2.5-4l3 4.5l4 7l2 1.5l3 4l4 2.5l2.5 0l3-4l3-0.5l2.5-3l4.5 4.5l3.5 5.5l4-2.5l4-7.5l4 2.5l2.5 5l2 0l3.5 8.5l4-5l3-2l3.5 7l2-2l4.5 5l3-2.5l3.5 5l3.5 1.5l2.5-0.5l3 1.5l2-5l4-1l3 1l3.5 4.5l3.5-4l3.5-7l3.5 4l2.5-1l3.5 4.5l4 2.5l3-1l3.5-1.5l4 1l4-4l2.5 2l2.5-2l4 0l2.5 3.5l2.5 1l4 1.5l2.5-7l3.5-2.5l4.5 0.5l4-2l4 1l4 3.5l4-6.5l4 3l3.5 7l4.5-4.5l4-4l2 6l2-12l4 1.5l4.5 6.5l2.5 4.5l3.5-8.5l3 5l3.5-3.5l3.5 1l2-1l2.5-5.5l4-3l3.5 3.5l2.5 1l3.5-6l3.5-1.5l2-1.5l2.5-2l3 4.5l4 4l3.5-1.5l3.5-0.5l3-10l3-3.5l2.5 1.5l3-6l2.5-3l3.5 6.5l3.5 8l3.5-5l3 3.5l3.5 3l3-2.5l2-8.5l2.5-5.5l4.5 0l4-4l3 4.5l2 3.5l3.5-2l2.5-7.5l2 1l2.5-0.5l3 1l4 8.5l2-5.5l3.5 0.5l4-2.5l4.5 6l4-3l4.5 3.5l4-6l2 4l4.5 0.5l3-4l4.5 1l2.5 0l2.5 4l3.5 2l3-1l4.5 12l2.5-10l4.5-3l3.5-8.5l2.5-1.5l3 3l2 3.5l4 3.5l3.5-4l4.5 9.5l2-8l3 7l2.5 0l2.5 10l2-3.5"/>
<path d="M352 159l4-5l4.5-1l4.5 1l2 3.5l4.5-1l4-0.5l3.5 5l2 2l3.5-2l4 0.5l3 6l3 2l2.5 1l3-3l3-3l4 0.5l2.5-1.5l2.5 0.5l3 1.5l3 4l3 5l2.5 0.5l4.5 7l3.5-0.5l2.5-5l3-1l4-2l2.5 1l3-3.5l2 2.5l3.5 3.5l4 3.5l3.5 0l2.5-1l2.5-2.5l2.5 4l3.5-3l2.5-1l3 1l4.5 0.5l3.5-5.5l2 2.5l4 3l2-0.5l3-8.5l3 3l4 5l2.5-1.5l2.5-2l4-2l4.5 3l4-2.5l4 5l3.5 4l4 0l4 5l3.5-0.5l3.5-5.5l3 4.5l2.5 4.5l2.5-1.5l3 0.5l4 1.5l4.5-2l2.5 3.5l3-4.5l3.5-2l3.5 0l3 5.5l3-1.5l3.5 0l4 4.5l2.5-6.5l4 3l3-9l4.5 3l3.5-4l3.5-2.5l3 0.5l2 1l4.5-4l4 1l3-1l4 1l4 10l2.5-3.5l3.5 5.5l4-0.5l2.5-2.5l3.5-4l4-2.5l2 1l3 4l2.5-6l3.5 4.5l4 3.5l2.5-7l2.5 10.5l3.5-0.5l4-7l4 2l3-3l3-7.5l4-2.5l4.5-4l2 2l4.5-1.5l3.5 2.5l4-2.5l4-3.5l4 7l3.5-2l2 2l2.5 4l3.5 2.5l2-2.5l3 4.5l2.5 0l2.5 3l3 2l2.5 1.5l2-3.5"/>
<path d="M352 100l3.5 8.5l4.5 11.5l4 9l2.5 5.5l4 4.5l3.5 4l3.5 4.5l3.5 5l2.5 3.5l4.5 7l2.5-8l4 4.5l4.5 2.5l3.5 2.5l2.5 2l3.5-1l2.5-1.5l4.5-4l3 2.5l2.5 0.5l3.5-1.5l3.5 2l3.5 0.5l3 4.5l4 4.5l3 1.5l4-4l2.5-2l4-1l3 0.5l3 2l3.5-2.5l2 4.5l3-1l3.5-5l2 0l4 4.5l4-0.5l3-6.5l4-3l2 5.5l4-1l2.5-0.5l4 5.5l4 1l4.5-0.5l2 8l3 6.5l3.5-3l4 8l4.5-1.5l2.5 5l2.5 5l3 2.5l4-2.5l4.5-7.5l2-3.5l2.5 4l2.5 3.5l3.5 2l2.5-6.5l2 0.5l4-1l4-2l3.5-3l2-0.5l3 2l2.5 2.5l2.5-2.5l2.5 4l3-4.5l2 1l3 3.5l3-3l3.5 4l3.5 0l3-2l3-9l2.5 1l2.5-4l3-2l3-1l4-6.5l4 2l2.5-0.5l4 3l2.5-2l4 7l2.5 0.5l3 3l4-2l3.5 8l2.5-4l3.5-3l3.5-3.5l2.5-3.5l2-0.5l4-2l3.5 3l2-6l4 0l2.5 5.5l3.5-3l2.5 2l3 0.5l4-10l3 2.5l4-5l2 2.5l4 6.5l3.5-1.5l2.5 1l3.5-0.5l2.5 2l3-2l3.5-4l4.5 1.5l2 1l2 0l2.5-1.5l3-3l4-10.5l2.5-5.5l3.5-3l2.5 2.5l3.5-3.5l2-3l3.5 0.5l3.5-4l2.5 0.5l4 5l3-2.5l3.5-0.5l4.5 6.5l3 2.5l3.5-0.5l3-1.5l2 1l0.5 7.5"/>
<path d="M352 188.5l3-5l3-5l3.5-3l3-1.5l3-2.5l3 0l3 1l3.5 2l2-3.5l4.5 0l3-6l3.5 1.5l3 0l2.5 1.5l4 4l3-5l4-1l2-2l2.5 0l4 2.5l2.5 5.5l3.5 1l3.5 0l3.5-4l3 5l3 2l4.5 1.5l4.5-5.5l4-5.5l3-6l4-1.5l2 4.5l3.5 2l4-6.5l3.5 2l4.5-0.5l4.5 9.5l2.5-6l3 1.5l2-5l4.5-2l4 0l4.5 4.5l2.5-8l4.5 2l3 8l2 0.5l4-3l4 7.5l3 3l3-4l3-4.5l3 6.5l4.5 2.5l2 3l4.5-4.5l3.5-1l3 5l3-2.5l3 5l3.5 3.5l2.5-0.5l2.5-1l4 2.5l4 1l4-4.5l3.5 0.5l4 5.5l2-2.5l2.5-3.5l3.5-2l2.5 6.5l2.5-1.5l4.5-6l4-3.5l3-3l2.5 2.5l3.5 4l2 5.5l4-2.5l2.5 0.5l4-9l4.5 0l3.5-2l3-1.5l2-5.5l4 7l3 6.5l2-1.5l4 2.5l2.5 5.5l3.5-3.5l4 4.5l3-8l4.5-5l2.5 12l2 0.5l3.5-4l3-7.5l4.5-6.5l2.5 1l3.5-1l2.5-3l3.5 4.5l2.5 2l4.5-1.5l3.5 6l3.5 3.5l4-6.5l3.5-0.5l3.5 2.5l4 5.5l4.5-2.5l3.5-6l2.5 1.5l4-1l3-6l4 0.5l2-9.5"/>
<path d="M352 288.5l2-11.5l4.5-19l2.5-6.5l3-8.5l2.5-7l4-10.5l2.5-4l3-4.5l3-1.5l4-6l4.5-5l4.5-3l3.5-1l4.5 2l2.5-2.5l2.5-4.5l4-4l3 2.5l3-5l4-3.5l4.5 0l2.5-1.5l3.5 1.5l4.5 0l4-5.5l3-0.5l3 2.5l2.5 2.5l3.5 8.5l3.5 3.5l4-6l3 4l4.5-0.5l4-2.5l2.5-6.5l4 2l4-3l4.5-1.5l3 3l4-0.5l4 6l2.5-1.5l2-3.5l2-2.5l3-3.5l3 4l3.5-0.5l2.5 2.5l4 3.5l4 5.5l2.5-6.5l2.5-5l3 0.5l2.5 3l3.5 5l4-7l4.5 5l3-5.5l3.5-1.5l3-5l3.5 0.5l4-5.5l2.5-3.5l4 1.5l3.5 2.5l3-1l4-3l2.5 6.5l3.5 4.5l3 6.5l2 0.5l4.5-4l2.5-3.5l4 4.5l2-2.5l2 0l4.5 2l2.5-1l2.5-3l2.5-1.5l2.5-2l3-5l3.5-3l3.5-3.5l3-2l4.5 5l2.5-2.5l3-0.5l3.5-10.5l2.5-1l4-3.5l4 0l4.5-3l3.5 4.5l4 3l4 4.5l2.5 3l4 2l4-4l4 10l4.5-8l1 3"/>
<path d="M352 255.5l4.5-18l4-10l2-4.5l4.5-7l3-3l3 0.5l2.5-7l4-8.5l3.5-5l2.5-1l3.5 1l2 0.5l2-4l4.5-7l3.5-1.5l2.5-1.5l4.5 1l4 2.5l4-1.5l4-3l3.5 1l4 2.5l2 0l4-3l4 1l2.5-8l2.5 1.5l2.5 1l4 5.5l3.5-3l4 0.5l3-1.5l2 3l3-0.5l4.5-6l2-3.5l3-6.5l3 5l3.5-3.5l3.5 4l3-5l4.5 5l2 3l4.5 0.5l3 3.5l3.5-3.5l2 0.5l4.5-2l3 2.5l4-4l3 4.5l4-1.5l4 3l2.5-2l4 3l2.5 5.5l3 3.5l4-4l2.5 4l3.5-2l2.5-9.5l2.5 4.5l4-1.5l4-1l4 0.5l3.5 1.5l3-3l3.5 0.5l2.5-6.5l2.5 8.5l3 2.5l2-1.5l4-3.5l3.5-5l3-3.5l4 0l3.5 9.5l3 6l4-7.5l2-3.5l3-2l2.5 2l2.5 1l4 2.5l2-4l2.5 12l4-7l4.5-4.5l4-3l4.5 1.5l2 0l3.5-1.5l3-3l2.5-4l3-4.5l2 0.5l2 0l3 0.5l3.5-2l4-1l3.5-5l3.5-0.5l2.5 3.5l4.5-6.5l3.5-3.5l3.5 5l2.5-4.5l3 2l2 2l2.5-1.5l3 3.5l3 9.5l2.5 15.5l4-1.5l4-3.5l4-2.5l3-2.5l3 3l3.5 7.5l3-6l4 1.5l3.5 0l2.5 6l3.5-3.5l2.5-3.5l4 2.5l4 2.5l4.5-8.5l3.5 6l3.5-2.5l2 10.5l2.5 3.5l4-7.5l3.5-3l3 4.5l3.5-8l3.5-0.5l2.5-5.5l3-5l2 2l4-17.5l4 12.5l3 4.5l3 3l4.5 0l3.5 5.5l4.5 1l0.5 4.5"/>
<path d="M352 120.5l2 0l2.5 0.5l4 3.5l2.5 3l3.5 2.5l3.5 5l2.5 4l2 2l2.5 0.5l3.5 2.5l3-1l2 0l2 0l4 0.5l3.5-2l3-1l3 5l2.5 3.5l3.5 5.5l3.5-3l3.5 1.5l3-0.5l3.5 1l3-2l2 2.5l3 5.5l2.5 2.5l4-1l3.5 0l4 6l3.5-6.5l4-0.5l2.5-1l3.5 0.5l2 1.5l4 4.5l4-3l2 3.5l3.5-0.5l3 2l2-7.5l3 1l2.5 2l2.5 2.5l2.5-1l3 6l2 4l4-0.5l2.5-3l4.5-1.5l2-2l4.5-2.5l2.5-1.5l2.5 3.5l2.5 5l2 3.5l4.5 0.5l2.5 0.5l4-2l4-5.5l3-1l4 1l4 3l3-2.5l3.5 1l4 5l3 0.5l2 3l4 4l2-3l3.5 3.5l4.5 3.5l3.5-4.5l4-2l2.5-5.5l4-2.5l3-1l2.5 4.5l4 2.5l3.5 2l4 1l4-7l3.5 2l2.5-1l3.5-3l3.5 1.5l3.5-3.5l4.5-1.5l4-2.5l3-0.5l2.5-5.5l4-2l4.5-2l3-1.5l2.5-1.5l2.5-0.5l2.5 3l2.5-3.5l4.5 7.5l2.5-1.5l4-7l4-0.5l3.5-5l3.5-3.5l3.5 2.5l3 3l2.5-1.5l4 0.5l2.5-2.5l2.5-2.5l4.5-8l2.5-1.5l2.5 2l3.5 4l2.5 4.5l4.5 3l2 17.5l3-2l2.5 2.5l3 2l4 1.5l3.5-3.5l4-5l2.5 4.5l3.5-6.5l3.5 6l3-7l3.5 10.5l2 8l2-6l3.5 7.5l4 0l2.5 5.5l4 8.5l4 6.5l3.5-1l2.5 2.5l3 2l4-10.5l4-3.5l2.5-5.5l2.5 8l3-3.5l3.5 0l3-2l3.5 8.5l2.5-5l4-3.5l3-2.5l3.5 0"/>
<path d="M352 213l2-4l2-4.5l3-3l2-0.5l2.5-0.5l2.5-2l2.5 1l2 0l3 2.5l4.5-3l2.5-0.5l4.5 0.5l2-3l4.5 0l2.5-3l2 0.5l3.5 0l2 1.5l4-6.5l4.5 0.5l3.5-3l2-1l3.5 1l4 0l2-0.5l2.5-5.5l4.5 3.5l4-1l2.5 1l3.5-1l2 3.5l2-7.5l4-5l2.5 1.5l3.5 2.5l3 2l3-4l3-8.5l4.5-1.5l3-0.5l4 3l4-0.5l3.5-3l2.5 1.5l2.5-4.5l4-0.5l4 5.5l4.5 2l2 4l4-6l3-2l3.5-8.5l4 1.5l3.5-2.5l2.5 4l3-1.5l2.5-0.5l4.5 1l3.5 8l3.5 0l4-1.5l2.5 5.5l3.5-3l3-3l3 0.5l2 3.5l4.5-5.5l3.5 0.5l2-3l2 0.5l4.5-2.5l4-2l3.5-3.5l2 1.5l4 1l2.5-5l3-4l2.5 3l3 2.5l4-2l2.5-0.5l2.5 3l2 2.5l3-1.5l4 4.5l3-0.5l2.5-11.5l3-10l2.5 8.5l2.5 2l4-4l4 0l2.5 5l4-7.5l3-1.5l3.5-4.5l3-2.5l3 4.5l4 2l4.5 1l2 3l4.5-5.5l3-2l2.5-6.5l3.5 1.5l4 1.5l2.5-5.5l3 7l4.5-0.5l4-1l3 2.5l4-6.5l4 5l4.5-2l3-8.5l4.5 11.5l2.5-4l3 5.5l3.5-1l3-0.5l3.5 8.5l2.5-1l3 1l3 6.5l4.5 1l3 6l3 0.5l0 3.5"/>
<path d="M352 199l2.5-8l4-8.5l2.5-4l3-3.5l2.5-3l4.5-1l2 0.5l2-1l4 2l3.5-8.5l2.5-4l3 5.5l4.5 5.5l4-0.5l3.5-3l3 5l2.5-1l4 0l2-3l3.5 2.5l2.5-0.5l2.5 6l2.5 0.5l2.5-4.5l2.5 2.5l3.5 6l3-5.5l2.5-0.5l3-3l3-2l2.5 0l3 1l4-1.5l2.5 1l4-2l2.5-4l4 5l4-5.5l4.5-0.5l2 0.5l4 0l3.5 0l4-7l4 8.5l4 4l3 1.5l3.5-3l2.5-3.5l2.5-4l3 1l3 3.5l3.5-4l4 1.5l4 2.5l3 3.5l3.5 3l4 3.5l3.5 6l2.5 1l4 7l2-1.5l3.5-1.5l3-1.5l4 3l4-4.5l2-3l4-1l4.5-3.5l3.5 4.5l3.5-3l2.5-1.5l4 2l3.5 2l4.5 3l2-2.5l3.5-1l3-1l2 1.5l2.5-7.5l2 0l3 8l3-11l4-4l3.5-5.5l4.5 2.5l3.5-5l3.5 0l3.5 3l3 2l2.5-2.5l3 2.5l2 1l2.5 3.5l2.5 0.5l3.5-5.5l2-4.5l2.5-4.5l3.5-3.5l3-2.5l2 5.5l2.5 2.5l4 2l3.5-0.5l3-2"/>
<path d="M352 149.5l2.5-0.5l3-0.5l3 0l2-0.5l4.5-1l4 3l2.5-2.5l4-0.5l2.5 7l3 3.5l2.5-2.5l4 2.5l3.5 1.5l3.5-5l4 4.5l3 2l2.5-0.5l3.5 1l3.5-1.5l4.5 2l3.5 0.5l3 1l3.5 8.5l3.5-4.5l4.5 5l3.5-4.5l4.5-1.5l2 2l2.5-1.5l3-1.5l3 4.5l2.5-3l3.5-1l4 0l3.5 8l2.5 0.5l3.5 5l4-4l3.5 2l3-1.5l4.5-1l2.5 4.5l4-1l2.5 1l3.5 1.5l4-0.5l4-3.5l4.5-3l2.5 2.5l2 4l2.5-7.5l2 5l2.5 1.5l4 3l4.5 1l3.5-2l4-6l4 1.5l3-5l4 4l3-2l4-4l2.5-8.5l2.5 3l2 5l4 0.5l3.5-2l3.5 6l4-5l2.5 4.5l3 1.5l4-5.5l3-1l3-2l4 2.5l2.5 2.5l3-2l2.5 3l4.5-0.5l2-2.5l3-2l2.5 4l3.5-2l4-2l3.5 3l3.5 2l3.5-1l4-3l3.5 0.5l3.5-2l4 3.5l4-3.5l3 2.5l4.5 0.5l2.5-1.5l4 5l3.5 0l3.5-3.5l4-1.5l3.5-4l4-4.5l3.5-1l2.5 2.5l2.5-4l2.5-7.5l4-3l2.5 4l3-2l4-10.5l4 0l4.5 4l3 4l3-2l4 3.5l4 4l4 0l4-6l3.5-6.5l2.5 7.5l2 0l3 7.5l4 1.5l4-1.5l3.5 12.5l2.5 3.5l3.5 0l4 7.5l3-9l4 9.5l3 1.5l2 4l2.5 1.5l2.5-5l4-0.5l4.5-0.5l3.5 6l4 4.5l3.5 1.5l2-1l4 7l3.5-2l3.5 1l4.5 12.5l3.5-11l2 6l2.5-3l4 0.5l1.5 2.5"/>
<path d="M352 121l3.5-1.5l4 3l2.5 2l3.5 2l3.5 5l4.5 2.5l2 2l4.5 5.5l2-1l3 1.5l2.5 3l3.5 2l3.5 2l3.5 3.5l4.5 4l3 0l2 3.5l4 7.5l3.5-4.5l3-2l3-4l3.5 3.5l3-1.5l4 6.5l3 6l4-7l2.5 2l2.5-1.5l4 7l3.5 0l3.5-2l3.5 3l4 0l3 6l4-1l2-1.5l4.5-2.5l3.5 11l2.5-7l3.5-3l3.5-1.5l3.5-6l2.5 7.5l2.5 1.5l2-2l2-5l3.5 3l3.5-1l3.5 0.5l3.5 2l3 1l2-2l2.5-0.5l4-6l2 8l3.5 2l3.5 1.5l2.5 0l3.5 6.5l2.5-7.5l3 6l4-2.5l3-3l4-3.5l2.5-1l3.5 3.5l4-0.5l3.5 5l4-8.5l4 0.5l3-3.5l2.5-4l2.5-4l3-2l4-1.5l3.5 2l4 10l3.5-1l4-0.5l3.5-1.5l2-3.5l4 1.5l2-0.5l4 3l3.5-9.5l3 1l4-0.5l4-6l2 4.5l2.5 0.5l4-3.5l3.5-3l2.5-7.5l3 2l3 3l2.5-10l2.5 4l4 8l3.5 3l2.5 5.5l2.5 8.5l3.5-0.5l4-4l2-6l3 14l3.5-12l3-3.5l3.5-6l3-3l3.5-7l4-10l4-1l3-0.5l2.5-5l3 4.5l3 0.5l4 5.5l3-2l2.5 9.5l2.5-3l2.5-5.5l4-1.5l4 4l4-3.5l2 4.5l3 3.5l4-8.5l4-5.5l3 14.5l2 1.5l3.5 5.5l3.5 6l2.5-5l3 0.5l3 4l4 7l4-3l2.5-0.5l3-2.5l4.5 1l2-1l3.5-5.5l2.5-1.5l3 0.5l2.5-3.5l2.5 1l2.5 10l2 2.5l3 9l4-4l4.5-5l4-12l3-3.5l0 10.5"/>
<path d="M352 139.5l4.5-5l3.5-0.5l3.5 1.5l2.5 1.5l4 1.5l3.5 4l3 3l4 0.5l2.5 4.5l4 4l4.5-1.5l4 5l2.5 0.5l3.5 4.5l4 5.5l2-4l4 2.5l2.5-0.5l4 7l2-1.5l2.5 1l4.5-4l4 3l3.5 1.5l3-2l2-4l4-1l4 0.5l4 9l4.5-7.5l3 3.5l2-4l2.5 1.5l4.5-1.5l3.5 2l2.5-0.5l4 0.5l4.5 2.5l4-0.5l4 4.5l2.5-3l3 4l3 1.5l3 2.5l2.5-1.5l3 0l3.5-3.5l2.5-2.5l2.5 1.5l4.5 6l2 0.5l3.5-1.5l3 2.5l4 3.5l2-5.5l3-4l3 1.5l2-4l2.5-2l4-1l2 1l4 2l2.5-1l2.5 5l3.5-5.5l3 7.5l4.5-3.5l3-0.5l4-7l4-1l3 3.5l2.5-1.5l4 0.5l3.5 0.5l3 4.5l3.5-2.5l3.5-2.5l3.5-2.5l3.5 5l2-0.5l3.5 1l4-8.5l3 3.5l3-14l2.5-2l2.5-4.5l3.5 3.5l4.5-9l3-8.5l2 0.5l4.5 2.5l2.5 3.5l4 0l3 2.5l4 4.5l3-8.5l4-1.5l2.5-7l3 0.5l4-2l3.5 11l2-3.5l3-3l3-4l2-2l4-3.5l4 2l3 11.5l3-0.5l4 4.5l4.5-2l3-6l4.5-6l3.5-1l4 1.5l4.5 7.5l4.5 9l2 8.5l2.5 1.5l4 3l3.5 1.5l3 3l3 0.5l2.5 4l3 2.5l3.5 4l2-6l3.5-2l3.5 0.5l2.5 1.5"/>
<path d="M352 221.5l2-12.5l4.5-19l2-7l4.5-7l3.5-4l3.5-2.5l2-4.5l3.5 5.5l2 1.5l3-4.5l2.5 2l2-4.5l4.5-2.5l4.5 3.5l2-1.5l4.5 1.5l2.5 2.5l2.5 1.5l3 2l4 4l3 1l2.5 0.5l4.5-8l2 2.5l2.5-6l3.5-7l3 3.5l3.5 5.5l3.5 3.5l4-4.5l3 0.5l3.5 1.5l3.5-4l3.5-2.5l3.5-2l2.5 5.5l3 0l3-1.5l3.5 4.5l3.5 1.5l3 3l3.5 2l2-3l3.5-8.5l4-1.5l4.5-2l2.5-0.5l2.5-0.5l4-0.5l2.5-5.5l4 1.5l4.5 1l2.5 5.5l4-4.5l3 2l2.5 0.5l3 6l3 3l2.5 4l3-3l4 2l2.5-0.5l3.5 4l2.5 1l4-2l4.5 2l3 5.5l3-1.5l3-3l4-5.5l2.5-0.5l4 4l3.5-3l4 0.5l4 1l2.5 1l3.5-2l2 4l2.5-3l4-3.5l3 0.5l4.5-1.5l2-0.5l2 2l4.5-7l3 0l3.5 0.5l3-0.5l3.5 2.5l3.5-10.5l4.5 1.5l2.5 5l3.5 1l3.5 2l4-1l4-6l4.5 8l2.5-2.5l4 8l3-2.5l2-2.5l4 4.5l2-6l4-4.5l2 7l3.5 0l3-3l2.5-3.5l3-2.5l3.5-3.5l2.5-0.5l2.5 0.5l3 4l4-1l4-8.5l4.5 4.5l3.5 6l0.5-5.5"/>
<path d="M352 195.5l2-4.5l3.5-5l3-2l3 0.5l4-6l3.5 0.5l2.5 5l3-3.5l3.5 4l3.5-7l3.5 4.5l2.5-10.5l2.5-0.5l2 1.5l3.5 8l3-3l3-3l2.5 1.5l2.5 3.5l4 8.5l2.5 1.5l4-0.5l3.5 0.5l3.5-3l3.5 7l3-2.5l3-2l3-3l2 4.5l4 5l3.5-5l4.5-1l4-1l4-4l4-1.5l4-1.5l2-3l4.5-6l3 7l4-1.5l2-5.5l3.5 3.5l2.5 0.5l2.5-1l3.5 0.5l2-1.5l3.5 1.5l4 1l3 1l4 2.5l4-7.5l2.5 4l3.5 3.5l3.5 6.5l2.5-1.5l4-0.5l4.5-4.5l2.5 3l2 2l2-1l3.5 0.5l3 1.5l3.5 6.5l2.5 4.5l3-1.5l3.5-4l4-10.5l3.5 1l3.5-7l2.5-3.5l3-0.5l2.5-1l2 6.5l3.5-2.5l3 8.5l2.5-7.5l3-1l4-5.5l2.5 5.5l3 1l3 0.5l2-4l2-7l2.5-2l3-1l3-4l3 1l4.5-2.5l3.5 4.5l2-5.5l4-6l4 6l3.5-4l2-4.5l3-4.5l3 5.5l3.5 1l2-0.5l3.5 1.5l3-4.5l4-0.5l2.5 6.5l2-5.5l3-2.5l3-4l4 8l4 0.5l4 6.5l4.5 4.5l2.5 3.5l2.5-0.5l3 0.5l4 2l3-2.5l3.5 0l3 2l4-1.5l4-2l3 8.5l2.5-1l4 2.5l3.5-7.5l3.5 0.5l2.5-5l2.5 0.5l3.5 2.5l3.5 2.5l4.5-0.5l2-4l2-3l2.5 0.5l4 5l3-4.5l3-5l4-4l3 10l4.5-2l3.5-6l3.5-1.5l3 8.5l2.5 3.5l4-4.5l3.5-0.5l4 1l3 3.5l3 6l3-9.5l3.5 2.5l3 13l3.5-8l4.5-3.5l3 0.5l3.5 4.5l4-2.5l4.5-3l2.5 11.5l0.5 0.5"/>
<path d="M352 155l2-2.5l3.5-3l2.5-1l2.5 1l2-0.5l4-0.5l4.5 1l3 1.5l2.5 3.5l3-1l3.5-1.5l4-2l3 0l3-1l3 4l2.5-0.5l4 2l3-2.5l4-2l2-3.5l2.5-3l2 2.5l2 0l4.5-4.5l2.5 4l3.5 2l2 2.5l3-8.5l3 5l3.5-4.5l2 3.5l4.5 7.5l2 2.5l3-6l3 4.5l4 0.5l2.5 0l2 3l2.5 4.5l3 3.5l2-3.5l3 2l4-4.5l4 2.5l2.5 3.5l4 1.5l4 2.5l3-1l2 3.5l4.5 1.5l3-1l2.5-3l3-2l3.5 1l3-3l4 3l3.5 6.5l4-4.5l3.5-2l4.5 7l4.5 3l2.5 4l2.5-3.5l3.5-2l4 4.5l4 2l3.5-3l4-3l4.5 1l2 2l4-3l4.5 3l2.5-4.5l2.5-2l3.5 0.5l3 7.5l2-1.5l3.5 2l2.5 0.5l3.5-3.5l2.5 3l4-2.5l4 0.5l3-4.5l3.5-0.5l3.5 3l3.5 5l3 0.5l2-1l4-5l2.5 4l4-1.5l2.5 7l3 3l3-2l3 0.5l2.5-2l4-9.5l3.5 11l4 3l3-3l4-6.5l4.5-3l3-10l4.5-10.5l3.5-3l3-2.5l2 8.5l2.5-9.5l3.5-7l3-5l3.5-3l3.5 1.5l2.5 0l3 0.5l3.5 6.5l2 0.5l3.5-4.5l2.5-9l4.5-8.5l2.5 5l4.5 6.5l2.5 2.5l3-0.5l3.5 5l2 0l2.5 0.5l4 7.5l2.5 5l4 2.5l3-7.5l2-4"/>
<path d="M352 172.5l3.5-2.5l2.5 1l3.5 1.5l4.5 0l3-2l4-1.5l4.5 3l4 2.5l2-4.5l4 2.5l3 0.5l4-2.5l3.5 0.5l2.5 5l4 2.5l2.5-0.5l4-2l3.5-7l2.5 7.5l3.5 0.5l3 2l3-2.5l4 1.5l4 3l2.5 3.5l3.5-0.5l4.5 4.5l2.5-2.5l2-4l3.5 1.5l3.5 7l4-5.5l2.5 8.5l2-0.5l3-6l4.5 3l4-2.5l2 5.5l4-5.5l2-2l4 2.5l3.5 2l4 7l4-5.5l4 0.5l3 2.5l4 3l2.5-3.5l3.5-8l3.5-2l2.5-2l3 9.5l4.5 1l2-2l3-3.5l2 2l4.5-7l3-0.5l3.5 4l3 5l3.5 2l4.5-3.5l2.5 1l3 6l4 1.5l2-7l4.5-3l3.5 1.5l3.5 2l3 6l2.5-3l4.5-4l4 4l2.5 1l4 6.5l3.5 3l2.5-1l3.5-3l4-4l3-1l3.5 1l3-4l3-5l3-3l4.5 4.5l3-5l3-14l3.5-4.5l4.5-9l3.5-4l3.5-4l2-6l3.5-3l4.5-5l3-3.5l3.5 2.5l2-0.5l3 0.5l3 6l2 3l3 6l3.5-8l4 10l3.5-4l3 8.5l3-2.5l2.5-1.5l3.5 6l3.5 3.5l4.5 3.5l4 1l4 4l3-10.5l2.5 1l3 6.5l3 10.5l2.5 3.5l3.5 5.5l3.5-6l4 4l3-1l3.5 1.5l3.5-1l4 2.5l4 5.5l3 1l4.5 10l3 2"/>
<path d="M352 205.5l3.5-9.5l4.5-7.5l2.5-3l3.5-2.5l4 0.5l3.5 4.5l3.5-6l3 3l2.5-3.5l2.5 1.5l4.5-6.5l3.5-2l4.5 5l3-1l4.5 2l3.5 1l4-6.5l2.5 1l2.5-0.5l4.5 1l4-1l3.5-3l4-3l3 1l3 5.5l3.5 11l3-6.5l2.5 1l3.5-6.5l3-1.5l3 2l2.5 6l4.5 5l4-2l4.5-6.5l3.5 1l4-6l3.5 0.5l3.5-5.5l3 1l3-3.5l2.5 6.5l4 1.5l3.5 5.5l3.5-1.5l3.5 1l4 0.5l3.5-2l2.5 7l2-5l3.5 3l3.5 3l4-5l2.5-1.5l2 5l3.5 3.5l3.5-0.5l3-6.5l4.5 0.5l4-3l2.5-2.5l4.5-3l2.5 0l4.5-0.5l4 1.5l2 0.5l4.5-3l3.5 5l3-2l2.5-8l2.5 0.5l3.5-4.5l2.5-4.5l2.5-0.5l3 0l3.5 2l2.5-1.5l2.5 2.5l3.5 5l3 1.5l2-0.5l2.5 0l3 2l4-4.5l3.5-1.5l2.5-1.5l2.5-8l4-3.5l4-7l3 0l2.5-8l3.5 5.5l3 1.5l3.5 9l4.5-4.5l2-2l4 2.5l4-9l2.5 3l3 1.5l3-1.5l4.5-4.5l3.5 5.5l3.5-5.5l3.5 5.5l3.5-3l2-11l2.5 1.5l4.5-1l2.5-8l2.5-2l4 6l4 3l4.5 2l3.5-5.5l4.5-2.5l3.5 6.5l4.5 2l3 0l2.5 4.5l2-8.5l3.5 1.5l4 1.5l3 11l3-1.5l4 4.5l0.5-2"/>
<path d="M352 221l4.5-18.5l3-8l2.5-4l3-5l3.5-4l4-4l3-2l3 0.5l2.5-1l4.5 0.5l3.5-6l2.5-2l4.5 0l3-4l2.5 1l3 1l3-2l3.5-5l4.5 0.5l2.5-4l2.5 8.5l3-2l4.5 4l3.5 4.5l4-2l4 0.5l3.5 0l2.5 0.5l4 0.5l4-4.5l2.5-1.5l3 3.5l3 1l2.5-3l3 5.5l4 3l2.5 2.5l3-5l4 0.5l3.5 1.5l4-3l3 1l2.5 5l4.5-6l2.5 1l4 0.5l4 0.5l3-0.5l4-0.5l4 4l2-9l4 6.5l2 3l3.5-2.5l3.5-1l4 5.5l2.5-5.5l3.5-3.5l3.5-3l2.5 4l3 0.5l3.5-1.5l3 5.5l4.5-1.5l2-2l4-1l4.5 7l4 5l3.5-0.5l3.5 4.5l3 5l4-4.5l4-4l2 2.5l3.5-2l3-7.5l4-2l3.5-7.5l2.5-3l3.5 3.5l4 4l4 4.5l4 2.5l4.5-3.5l4-4.5l3.5-5l4 2.5l4 7l2 1.5l4 2l3.5-13l3-4.5l3 1l3.5-1.5l3 3.5l3-7l4-5l2.5 9l3 9l4-4l2.5-3.5l2.5 5.5l2.5-2l4 6.5l4-2l3.5-2.5l3.5 4.5l3.5-3l2.5-5.5l4.5-4.5l3 12.5l4 7l3-3.5l4 1l2.5 3.5"/>
<path d="M352 277.5l4.5-21.5l3.5-10.5l3.5-8.5l4-7l3-6.5l3.5-3l3.5-6l3.5-6.5l3.5-3l2.5-5l2.5-1.5l2.5-1l2-2l2-2.5l2.5-4l4-2l3-3.5l4-1l4.5-5l3 1.5l4-5.5l3 1l2.5-1.5l3 2l4.5-4l4-3.5l3 1l3.5 5l4-2.5l3 5l2-3.5l4 1l4 0l2.5 3.5l4-3l3-0.5l3.5-5.5l2-3l2.5 3l4 2.5l2.5-0.5l2.5-2.5l3.5 1.5l3.5-2l3 2.5l3.5-2l2.5 3l3.5 2.5l3 0l2.5-3.5l4.5-2.5l2.5 3l2.5 1.5l4-3l3.5 6l4-5l3.5 0.5l3.5 6.5l2.5-0.5l2 1l3.5 3.5l4-4.5l3.5 0.5l3.5 0.5l3 1.5l2.5-1.5l3.5 1l3.5-2.5l2 1.5l4-1l3.5 7l4-5.5l3.5-6l4.5-3l2 8.5l4.5-5l3 5.5l3-1l3.5-6l4-3l4-4.5l2.5-2l3-2l3.5 8l2-2l4-7.5l3.5 7l3.5-1l4.5 0.5l2-1l2.5-2l4 1l3 6.5l4-2.5l3.5 1.5l2.5-3.5l3.5 8.5l2 0.5l3-1l2-9l3.5 9.5l4.5-4l4-6l3.5-1.5l2-1.5l3 4.5l4 6.5l4-2l4 9.5l3.5-4l2.5-11l4 9.5l3 3.5l2.5-3l3.5-7.5l4 11.5l3 0.5l3.5 6l3.5-3l4.5 4.5l2-7.5l4.5-8l4.5-6.5l2-4l2-3.5l4.5 1.5l4.5 1.5l4 0l4 8.5l3-5l2 5.5l2.5 5l2 4.5l3.5-1l4.5-1l3.5 3.5l3.5 3.5l2.5-8.5l2.5-7l3.5 2.5l2.5-5.5l3 3l4-11.5l3.5 7l3-4.5l3 3.5l4-0.5l4 6l2.5 1l3.5-10.5l4 0.5l4.5-2l2-3l2.5 1l2.5-0.5l3-3.5l4.5 1.5l1.5-3"/>
<path d="M352 180.5l2-4l2.5-4l3.5-2l3-1.5l2.5 0l4-0.5l4 0l3 4l2.5 2.5l2 1l3.5-1l3.5-3.5l3-0.5l2-2l3 1l2-2l3.5-1.5l2 3.5l4 5l2-5l3 0.5l2 0.5l2.5 7l3.5 2l3-2.5l3 1.5l2.5 3.5l3-2.5l2-5.5l4 1.5l3-1.5l3.5-4l2.5-4.5l2.5 4l3-2l4-1l3 0.5l4.5 5l4 1.5l3 0l3 1l4 3l3.5-1l4-2l2.5-6l4 5.5l4 4l2-0.5l2-2l2.5-3l2.5-0.5l2.5-6.5l3.5 5l3-2.5l2.5-2l4 4l3.5-5.5l4-8l2.5 0l4-3l3 2.5l2.5-0.5l4 4.5l4 3.5l2.5 2l3.5 5l4-5.5l3.5-6.5l3 4l2.5 6.5l2-4l4 1.5l3.5-4.5l3.5 2.5l4 2.5l4.5-2l4.5-9l2.5 9l4-4l2.5 8l3.5-7l4-2l3.5 0l4-5l3 1l2.5-3.5l2.5 8l3-7l3.5 1l4-2.5l2.5 3.5l3-7l3.5-1l2.5 0.5l4-7.5l4.5 8.5l3.5-3l4 1l4.5-9l3-1l2.5 6l2-2.5l2.5 0l3.5-7l4.5-0.5l3.5 7.5l4 7.5l2-7.5l2.5 4l2.5-3l2-7l2.5 4.5l3 5l2.5-0.5l2.5-3.5l2.5 6l3-2.5l3 2l3-2.5l2 1.5"/>
<path d="M352 165l3-4l2.5-2.5l2.5 0l3 0l4.5 1.5l4.5 0.5l2.5-1.5l4.5 2l3 0.5l3-1.5l3.5-1l3.5-3l2.5-1.5l4.5 2.5l2.5-2.5l2 0l4-2l4 0l4 2.5l2.5 3.5l4 1l2.5 5l2.5-2l3.5-0.5l3 0l3 2.5l3.5 0l2.5-4l2.5 7l4 4.5l3.5-1.5l3.5-2l4 0.5l4 1l3.5 1.5l4 2l2.5-0.5l4.5 4.5l2.5-0.5l2-2.5l3-5l2-1l3.5-4l3.5 1l4.5-7l3 2.5l2-2l3.5 5.5l2.5-10.5l2.5 8.5l2 1l3-4.5l2.5 6l2-2l3 2l2.5-0.5l2.5 4.5l2-1.5l4.5-3l2.5-6.5l2.5 3l3.5 1l4-1.5l3-0.5l4 0l4-1l2.5-2.5l4.5 0l4.5 1.5l3-1.5l4-2.5l4-2l3-2l3.5-2.5l3-2l3.5-3.5l4.5-4l2.5 1l2 0.5l2 2l3.5-2.5l3.5 4.5l2.5 3.5l4.5 5.5l4-1.5l2.5 0.5l2.5 3l3-2l2.5-1.5l4-2l2.5 12.5l4-12l4 3l2.5-7l2 2.5l3.5-2.5l2.5-9.5l2.5 1.5l2.5 0l3-0.5l4 2.5l4 3l2.5-7l2.5 6l2.5-1l2 2.5l3.5-3.5l4.5 6l3.5 10l3.5-5l2.5-3l2.5-7l4 1.5l4.5 3.5l3 1l2.5 8.5l2 3.5l2.5 0.5l3-5.5l2 6.5l2-2.5l3.5-4l4 0.5l2.5 4l4.5 1.5l2.5 1l4.5-10l3 1.5l4 1.5l2.5-5.5l2.5 5l3.5 6l3.5-6l3 0.5l2.5 7"/>
<path d="M352 161.5l2.5-2l4-0.5l4 3.5l2.5-0.5l2 1.5l4.5 3l2.5 2.5l3.5 0.5l3 2.5l4.5 4l3.5-1l4.5 1l4-0.5l3 1.5l4 4.5l3 3.5l2.5 3l3.5-2l2.5 1.5l2.5 0l2-1.5l4-1.5l4-3.5l2 4l2.5 7.5l2-1l3.5 0.5l4-5.5l3 4l4 0.5l2.5-4l3.5 2l3.5-0.5l3.5 2l2.5 1.5l3 1.5l4-4l4.5 2.5l2-1l4 0l4.5-4l3.5 1l3 0.5l3 0l4-1l4 0l2-1l3 0.5l4-2.5l3 1l2 5l3.5 2.5l3 0l3.5 0.5l3-1l3-6.5l3.5-0.5l3 2l2-3l3-1l3-2l4.5 0l2.5-5.5l2 2l2.5 3.5l2.5 1.5l3.5 2l3-3.5l2.5-5.5l3.5-5.5l2 0l2.5 3.5l4-2l3 0l2-0.5l3 6l3.5 1.5l4-2l3.5-2.5l2.5 0.5l3.5-2.5l2 4l2.5-1.5l3-5.5l4-1l2.5 1l3 3.5l4-2l3.5-5.5l4-2l3.5-7.5l2.5 2.5l2.5 3.5l4.5-1.5l3.5 1.5l2.5-2l3 3l3.5-7l2.5 3l4 4l3.5 9l4-3.5l2 0.5l3.5-3.5l4.5 2l3 2.5l3.5-5.5l4.5 7l3-5.5l4 4l3 0.5"/>
<path d="M352 114.5l4-0.5l2.5 0.5l2.5 3l3.5 5.5l4 4l4.5 5.5l4.5 6l4.5 6.5l2.5-1l2 1.5l4 3l3.5 3.5l4 1l4 3l3 5l3.5 7.5l3.5 3l4 3.5l4 2.5l2.5-1.5l3.5-6l3-1.5l2 1.5l3.5-2.5l3 1.5l2-1l4.5-1.5l2.5-2.5l2 0.5l2.5 0.5l4.5-1.5l4 3l4.5-1l3.5 7l2 0l2.5 0.5l3.5 1.5l3-4.5l4 0.5l4 0.5l2.5 1.5l4.5 2l4 3l3.5 3l4.5 2l3-4l3.5 6l3.5-6l4 1.5l2.5 5l3 3.5l4.5-2l3.5 4.5l2 4.5l2.5-5.5l2.5 1l4-7l3 3l3 2l4 7l3.5-2.5l3.5-3.5l3-2.5l4-1.5l3-1.5l3.5 0l4-2.5l3 1l4-2l2.5-5l2.5 7.5l2.5-4.5l3 10l3.5-5l2.5 3l2.5 2l3 0l2.5 6.5l4-2.5l3.5-4l2.5-5.5l4-0.5l2.5-7.5l2-3.5l2.5-4l2.5 3l3-3.5l2.5 0l4 6l2-4l4 0l3 1.5l3-8l4 0.5l4.5-3.5l3.5 2.5l2.5 1.5l3.5 2l3-2.5l3-3.5l3.5 4.5l2 0l4-1.5l2.5 2l2 0.5l4-12l2.5-1.5l2-4.5l3.5-3.5l2-3l3.5-2l4 0l3 0.5l3 3l2 9l3.5-2.5l3 7l4.5-2l2.5-1l2 7l2.5-2.5l3-2l4-3.5l2 2l4 2.5l2.5 2.5l1 2"/>
<path d="M352 170.5l4.5-4l3 0l4 1l3.5-0.5l3.5 1l2.5-1l2.5 3.5l3.5 3l4.5 3.5l3 4.5l4.5-2l4-1.5l2.5 2.5l3 0l2 1l3.5-2l3 6l4-3.5l2.5-0.5l2.5 2.5l4 2l2.5 5.5l3 1l3.5-2.5l4.5 2l3.5 4.5l2.5-4l3-0.5l2-1l2.5-0.5l3.5-2.5l2.5-0.5l2.5-1l2 7l2.5-0.5l2.5-1.5l4 0l2-2l3.5-7l2.5 7l2-2.5l2.5-1.5l2.5 0.5l4.5-2.5l4-3l2.5 4.5l3.5-2l2.5-2l3 6.5l4-2.5l2 8l4-3l4.5 4.5l2 4.5l3-1.5l2.5 2.5l4 2.5l3-5.5l4.5 7.5l4 5.5l3-3.5l3-1.5l2.5-1l3.5-2.5l3.5 4.5l3 1l2.5-3l3.5 3l4.5 2.5l3.5-3l2.5 1.5l3-5l4.5 1.5l3.5 4l3.5-4.5l3.5-1.5l4 2l3 3l2 2.5l3.5-8.5l4 3.5l3 4l4-1.5l4.5 2.5l2-5.5l2.5-3.5l3.5 4.5l2 1.5l2.5-4.5l3-1.5l3.5-7l2.5-7.5l4.5-3l2.5-7l3.5-4.5l4-0.5l3-5.5l2.5-12l3-0.5l3.5-6l3-2l4 10l3 3.5l4.5-2l3.5 1.5l2-4.5l3.5-0.5l2.5-2.5l3-6.5l4 0l4-3.5l4 9l3 0l4.5-3l3.5-4.5l2 2.5l4.5-2.5l4.5-5l4.5 6l3 3l2 3l3.5-5l4.5 5.5l3.5 3.5"/>
<path d="M352 173.5l3.5-3l3-0.5l2 0l3.5-0.5l2.5 1.5l2 4l3-0.5l4 3l4 2l4 2.5l2.5-2.5l4 1.5l4.5 0l3 1.5l4 0l2-1.5l4-3.5l3-2l2 6.5l3 4.5l2 5.5l2.5-6l2.5-1.5l2 2.5l2-3.5l4 8l2.5-9.5l2.5-3l2 7l3-3l4 0l3.5-5l2.5 6l2-1.5l3.5 4l4 0l2 2.5l4.5 0.5l4-3.5l4 2l2-0.5l3.5 1.5l4.5-5l4.5 7l2.5-3.5l4 4l3-8l3.5-8l3.5-0.5l3.5-5.5l4.5-0.5l2.5 2l3-2l3.5 7l3 2.5l4.5-0.5l2.5 2l2.5 1l4.5-4.5l2.5 4l3.5 4.5l2.5 1l4 1.5l2.5 1.5l4.5-0.5l3-5.5l2.5 1l2-2l4-0.5l3-2l4 2l3.5 0l3 0.5l4-3l3.5 2.5l3.5-3.5l3 0.5l3-5l2 1.5l3.5-1.5l3.5-1.5l2.5 5l3 0l2 1.5l3.5-4l2.5-1.5l2.5-10.5l3.5-5.5l2.5 4.5l3-7l2.5-4l4-5l2.5-6l4 1l4.5-2l3.5 2.5l2.5 1l4-2l2.5 0.5l3 2.5l4.5-7l3 3.5l4-4l4-3l2.5-7l4-1l3 3l2.5-4.5l4.5-1.5l3-9l2.5 8l3.5 7l3.5 5.5l3.5-4.5l3-3l3 6l4-6l3-2l3.5 2l1.5 10"/>
<path d="M352 195l3.5-8l3.5-5.5l4-3l3.5-2l2.5-2l2.5 2l2.5-1l4-2l4 0.5l3.5-0.5l2-1.5l3 0.5l2-0.5l4 3.5l4 1l2.5-3.5l4 0l3.5-5l2 4.5l2.5 3.5l3-2.5l3-0.5l4 1.5l2 0l4.5-3l4 5.5l4.5-4.5l3.5 3.5l4 1.5l4 4.5l2.5-0.5l4 2.5l2-1.5l3 5l2.5 0l4-1l3.5-0.5l3.5 2l3.5-1.5l4-1l2.5 0l2.5-0.5l3-8.5l2.5 0l4.5 0l3 2l4.5-2l4 0.5l4.5 2.5l3 0l3-4.5l2.5-0.5l2 2l3.5 4l3.5 1l2 0.5l3.5 10.5l2.5-10l2.5-3l3-1.5l3-4l2 4.5l2.5-5l2 2l3.5 2l3.5-6.5l2.5 2l4.5-3.5l2-2l4.5-1.5l3-0.5l4-9l3 4.5l4.5-0.5l4-2.5l2.5 0l4 8.5l3-1.5l2.5-10.5l2.5 4.5l3-4l2-5l3-4.5l3 1l2.5 1.5l2 0.5l2.5 1.5l3-4l3-4l2-1l3.5 6.5l2-0.5l4-3.5l2 9.5l2.5 3l4-2l2 4l4.5-0.5l2 4.5l3 3.5l2.5 0.5l4-2.5l3-3l3-2l2.5-3l3 4.5"/>
<path d="M352 239l4-19.5l4.5-12.5l3.5-6.5l4-7.5l2.5-3l2.5-3l2.5-3.5l4.5-3l3.5 1.5l2.5-1.5l3.5-2.5l2.5 0l4-1.5l3 1.5l3.5-0.5l4-3l2.5 2l3.5-2l3 1.5l4-1l2-2l2 3.5l4 1.5l2-2l4.5 1l2-6l2.5-9.5l4 1l2.5 0.5l4 0.5l3 7l4-5.5l3.5 2.5l4.5 4l3.5-7l2.5 0l4 7l4 4l3 1.5l2.5 1.5l4 8.5l2.5-4.5l2.5-2l4-4.5l3 3.5l3.5 5.5l3.5-1l2 1l4-2.5l2-4.5l3.5-7l3-1l2.5 2l3 1l3 6.5l4.5-2l3.5 2l4-3.5l4 1l2.5-2l4-4l3.5-1l2.5 2l4-5.5l2.5 0.5l4 6.5l3.5-2l4 2.5l3-2.5l4.5-3l4.5 0l4 11l3.5-1.5l3-2.5l4.5 3l4-3.5l2.5 5.5l4-0.5l3.5-6.5l3-3l2.5-2l2.5-4l4-3.5l2 0.5l3.5-3.5l2.5-8.5l3.5 6.5l4.5 2.5l3-3l3.5 3.5l2-8l3.5-4l4-1l3.5 3l4-6l3-0.5l2.5 2l3-6l2.5 4l4-2.5l3-1l3-1l3.5-7l4-1l3.5 6l4.5 10.5l4.5 3.5l4.5-7.5l2 0l3 1.5l4.5-5l2.5 7l2.5 6.5l2-1l4 0l3-5l3 5l4 5l3 5.5l2 4l2.5 2l4-8.5l4 5.5l3.5-2l2.5-3l4 0l3-3.5l3.5-4.5l2 7.5l3.5 8.5l3.5 1l2.5-5l2 2.5l4 2.5l3.5 9.5l2.5 9.5l4-0.5l3-4l3-10l4-10l4 1l4 6l2 1.5l3-2.5l4-7l2.5 8.5l4-9.5l3 0l3.5 7.5l3 2l3-8l4-4.5l4.5 4l3-8.5l4-7l0 2"/>
<path d="M352 263.5l4.5-25.5l2-9.5l4-14.5l3-9l2.5-4l3-6l3-3l3-0.5l4-4.5l3.5-3l3.5-9.5l3.5-4.5l4-2l2.5-3l3.5 1.5l3.5 0l4 1.5l3.5 0l2.5-2.5l4.5 0.5l3 0.5l3.5-4l2.5-1l4 5l2.5-1l3.5-5.5l2 3.5l4-5l4 6.5l4 3l2.5 0.5l2-3l4.5-1.5l3-1.5l2-2.5l3-4l2.5 3l4 5l3.5-6l3.5 10l2-3l2.5 0.5l4 3.5l3.5 5.5l2 2.5l2.5-5.5l4 2l2.5-2l2.5 4l4-2.5l3.5 1.5l4.5-2l4 1l3-2.5l4.5 2l2.5-1l2.5 1.5l4 2.5l4 4.5l4-4.5l4.5-3l4.5 5.5l3-3l3.5-4l4 3.5l3-6.5l4 3l3-4.5l4.5-5.5l2.5-6l4-7.5l3.5 4.5l3.5 8.5l2.5 5l3 3.5l3.5-3.5l2.5 1.5l3-3.5l4-8l3 2.5l2-8.5l4 5.5l3.5 0.5l2.5-4l2.5-1l4-1.5l3 3l2.5 0.5l4-2.5l3.5-1l2.5 1.5l2-4.5l3 13l2.5 0.5l2.5-3l3.5 0l4.5-4.5l3.5 12l4.5-8l3.5 6l2.5-8.5l4.5 2l4.5 4.5l2.5-0.5l3 4l3.5 0l4-1.5l3-7l3 6l4-2.5l3.5 9l3.5 0.5l3.5 3.5l2 7.5l4-0.5l4-0.5l2.5-2l3.5 2l2.5-4l3.5-8l3.5-2.5l3.5 6.5l2 5.5l2.5-10.5"/>
<path d="M352 284.5l2.5-17l3-18.5l3.5-14l3.5-10.5l4.5-13l4-9.5l4-1.5l4-7l3-5.5l4-3.5l2.5-3l3.5-1l4 0.5l4.5 3l3.5-2.5l2-2.5l4-5.5l2-1.5l3.5 0.5l2 2l2.5-5l4.5 7l2-2l3.5 3l4 1.5l3.5 1.5l4-1l3.5 1.5l4-1l4 2.5l3-3.5l2.5 0l2 0l4.5-0.5l2.5 3.5l4-9l3.5 0l3.5-1.5l4.5-2l3 5.5l2.5-6.5l3.5 0.5l2.5 1.5l3 6.5l4-3l3.5-0.5l4 4.5l2.5 2l4-2.5l4-5.5l4 4.5l4.5-1l3 0l2.5 1l4 2l3.5 7.5l4 4l4 4.5l3-4l4-6l3.5 5.5l3.5-1l4-6l2.5-4l3 2l4 0.5l3 3l4 4.5l2.5 1.5l4 7l4-1l3 3l4.5-2l3 3.5l3-5.5l3.5-2l4 1.5l3 4.5l4-6.5l2-2l4.5-3l3-6.5l2-0.5l3-9l4 0l2.5-2l3-1l2 1.5l2.5-0.5l2.5-1l2.5-6l3.5 6.5l4-2l4-5l4-3.5l3.5 2.5l4-2.5l3.5-7.5l4.5-8.5l2.5 2l4 2l2.5 0.5l3.5 1l4-3.5l2 4l2.5 1l2.5 3.5l3.5 0l4 2l3.5 4l4.5 1.5l2-6.5l3.5 1l2.5 8l2.5 5.5l2.5 4.5"/>
<path d="M352 196l3.5-13.5l4-10l3.5-4.5l3.5-2.5l3.5 4.5l4-3l3 0.5l4-6l2-1l4-2l3.5-0.5l2.5-1l4 2.5l3.5 2.5l4-0.5l3-3.5l4-4l3 4.5l3.5-2l3-5l2 2.5l3-5l4 0l2.5 3l3 4l2.5-2l3 4l4.5 3.5l3 2.5l4-4.5l2.5 6l3.5 3.5l2-4l2.5 2.5l2-2l3 2.5l2-1.5l4-3l4.5-1.5l3 7l3.5 4l3.5 1l4.5 0.5l4 0l4 0l4.5-0.5l2.5 3l4.5 6l3.5-0.5l4.5 6.5l3.5 1l3-3.5l3.5-1.5l3.5 3.5l3 5l4-2.5l3.5-7l3.5-1l2.5-1l2.5-1.5l2-1.5l3 5.5l4-4l4 0.5l3-6l3 1.5l4-7.5l3 0l2.5 3l2.5-2l4-0.5l4 6.5l3 0l3.5-7l4-3.5l4.5 1l2.5 6.5l3.5-5.5l3-5.5l4.5 5l4 2.5l3 7l3.5-5.5l4 1.5l3-5l3.5 2l4 6l4.5 3l3-6l3.5 3l3.5-2l2-2.5l3-2.5l2.5 5l3.5 3.5l2.5-4.5l3-4.5l3 6.5l4 3l4.5-3.5l3-1.5l2.5 5.5l3 3l2-3l3.5-8l3 1.5l3.5 0l2.5 3.5l2.5-1l2.5-2l4.5 1l2-5l3 8l3.5-8.5l4-1.5l4 9.5l4.5 4l4-11.5l3.5 0.5l3.5-2.5l3 1l4.5-6.5l3.5 6l4-1l3-8.5l2.5 5.5l3 2.5l4-7.5l3-6l2.5-3.5l3 0l3 3l3.5-4.5l2.5 4.5l3-0.5l2.5 3l2.5 2l3.5-0.5l3.5 2l2-2.5l2 9.5"/>
<path d="M352 134.5l2.5-0.5l2.5-1.5l4.5 4l3 1.5l2.5 1.5l4.5 3l2 0.5l3.5 2.5l2.5 0.5l3.5 6l4.5 5.5l3.5 3.5l2.5-2l4 1.5l3 6.5l3 2l2-3l4 8l4.5 4.5l2-0.5l2-5.5l4 2l2.5 0l3.5-0.5l2.5-2l4.5 4l3-2l2.5 6.5l3-2l3-5.5l2 6l2.5-0.5l3.5-0.5l2 10.5l2.5 0.5l2.5-7l2 1.5l4.5-6.5l2 4l4 2l4.5 9.5l4-4.5l2-11l4.5 5l3.5-2l3-5l2.5 0.5l4.5 3l2.5 1l2.5 8.5l3-1.5l3.5 0.5l2.5-1l4-2.5l2.5-7l4-1l3.5 1.5l2 2.5l3.5 3.5l2-2.5l2.5-6l3 0l3.5 0.5l3-7l3.5 6l4-3.5l4-3l3-6l3.5-1.5l2.5 1.5l4-6l3-6.5l2.5 0l3.5 0.5l3.5-1.5l2.5-7.5l4 0l3 3l4 1.5l3.5-2l2 6l2.5 3l2.5 0.5l2-1l4-3.5l3.5-6.5l2 6.5l4.5 5l3-1l2.5-5l3-5.5l2-2l2.5 0l4-2.5l3-7.5l3.5-2.5l4 8.5l2 2.5l4 0l2.5-9.5l4-2l2.5 0l4 1l4.5-8l3-2l4.5 1.5l3.5-6l4 8l2-4.5l2.5 2l3-1.5l4-3l4 0l3.5 0.5l4-5.5l3-3.5l4.5 3l4 2.5l4.5 9.5l3 4l2.5-2l4 5l3 2.5l2.5-2l2.5-5l2.5 6l2 1l3-4l2-6l4 11.5l3-2.5l2.5 0l3-3l2.5 5l2-5.5l4 4.5l3.5-2.5l2.5 4.5l4-5.5l3.5 9l3.5 4.5l3-4l3.5 0l4.5 7.5l3.5 3.5l4.5 0l3.5 2l3 0l2.5 2l2-7.5l2.5 6.5l2 5l4 5"/>
<path d="M352 211l4-12l3.5-5.5l4-6l4-5.5l3.5-3.5l2.5 0.5l3.5-4.5l3 0l3-2.5l4 0.5l3.5-1l2.5-1l4 0l3.5-8l3.5-1.5l3 1l4.5-1l2-2l3.5 6.5l3.5-4l3 0l2.5 2l2.5-1.5l2.5-2l4 2.5l4.5 1l2.5 0l3 0l4-0.5l2.5-2l2.5-3l2.5 3.5l2.5-2l3.5 2l2.5 0l4 0.5l4 0.5l2.5 2l2.5-0.5l4 1l3.5-5.5l3-1l3.5-2l3-1l2 2.5l3 1l4-2.5l4.5 1l4 3l3 2l4-8l3 0l4 0.5l3 0l4.5 0.5l4 1.5l4.5-1l2.5 4l2.5 0.5l4.5 1l3-4l2.5-3.5l3.5-9l2.5 0l3 8l4-7.5l3.5 2.5l2-0.5l4.5-3l3 0l2.5-5.5l3.5-5.5l2.5 2.5l3.5-2l4-2l4-3.5l2.5 5.5l4.5-4l2 3l4-4l3.5 3.5l3.5 3l4-4l2-0.5l4 0l4 2.5l4-1.5l2.5 1.5l3.5-6l2.5 0.5l3-2l3 4l3.5-1.5l4.5-2l4.5 2.5l3.5-2.5l3.5-6.5l4-1l3-6l2.5 7l3.5 0l4 1l3-2l4-3.5l2.5-3.5l0.5 7.5"/>
<path d="M352 104.5l3.5 10l3 7l2 5l3 6l3.5 8l2.5 5l3 4.5l4.5 5l2.5 9l2-0.5l2.5 1l3.5 4.5l2.5-1.5l3.5 7l3.5 1l2.5 1.5l3 4l3-2l3-4l3.5-0.5l4 8l3.5-2.5l3-6l2.5 8l2.5 4.5l3-8l3-1.5l3-6.5l4.5 0l4-6.5l2.5 1l3.5-5l3-2.5l2.5 7l4.5 4l4 1l2-5.5l2.5 6.5l4-3.5l4-4l4 8l4-6.5l3 2.5l3.5-1l3.5-4.5l3.5 3l2.5-6.5l2.5 3l3 1.5l2.5-3l3.5 1.5l3 3.5l3.5 3l3 7l3 3.5l3.5-2.5l3.5 9.5l2.5-1.5l3.5 6.5l4 3.5l2.5-6.5l2 5l4.5 1.5l4 2l4.5-6l2.5 2l2.5-5l2.5-0.5l4 0l2.5-5l4 0l3.5-3l3.5 3l4.5-3l3.5-2.5l3.5-2.5l4 9l2.5 5l2.5-2l3.5-2l3-8l2.5 2.5l3.5-3.5l4 2.5l3.5 3.5l3.5-5.5l2.5-1l2.5 0l3.5-4.5l4-7.5l3-1.5l4.5 2.5l2-1.5l3.5 1l4 7l3.5-1l2.5-5l2.5-1.5l2 0l2-5l3.5-3.5l3 4l3.5-0.5l3 2.5l0.5 2.5"/>
<path d="M352 150l4-5l2.5-1l3.5 0.5l3 1l2.5 0l2 1.5l3.5 4l2-1.5l3-1l2.5 2.5l3.5 1.5l4.5 2l2 0l3 0.5l3.5-6l3-1l2-1l2.5 2l2.5-2.5l3.5 3.5l3.5 6.5l2.5-3l4.5 1l3.5-2l2.5-0.5l3-1.5l3.5 0.5l2.5 0.5l4-3l4 4.5l2.5-0.5l4 5.5l2.5-5l3 8l2-5.5l2.5 0l3.5 1.5l3 3l2.5 4l2.5 6l2.5-4.5l2.5-0.5l4.5 0l4 4.5l4 2.5l4.5 2l4 2.5l4 2.5l2-2.5l2.5-10l2.5 2.5l3 2.5l4.5 5l3 8.5l3-0.5l4 4.5l4 1l3-6l3.5 1.5l3.5-5l4.5 1l4.5-1l4-6.5l3.5 1.5l4 1.5l4.5-3.5l4.5 2l3.5 3l4.5 0l2 2.5l2-4.5l4-1.5l3-5l3.5-2l2 3.5l4-1l2.5-4.5l2.5-1.5l2-4.5l3 2l3.5-2.5l3 5l2-6l3 2l3-1l3.5 6l3-9.5l2.5-0.5l3-0.5l4 0l2.5-2l2 9.5l2.5-8.5l3 2l3 6.5l2.5-2l2.5 1l2.5-0.5l3.5 4l4 3l4-3.5l4.5-5.5l2 4l2-4.5l2.5-5l3.5-5.5l4 8l3.5-8l4 2.5l2 1.5l3 12.5l3 1l3-6l3.5 2.5l3.5-4.5l2-8l4 5l2.5 4.5l3 0l4.5-5l4 2.5l4 5l2.5-3l4-0.5l3.5-3l2.5 7.5l3-9l4 0l2.5 5l4-1.5l3-3l3.5 6.5l3.5-0.5l4 4.5l4 4l4-5.5l4.5 2l3-7.5l4.5 4l3.5-0.5l2.5 5l4.5-1.5l3.5 7.5l3 7l4 0l3 0.5l3 7.5l3-0.5l4-2l3 1.5l2 3.5l3-1l4.5-4l3.5-1.5l3-2.5l1-11"/>
<path d="M352 253.5l2.5-10.5l3-11l3-9.5l2.5-4.5l3-7.5l4-4l4-3l3-8l3.5-2l3.5-4l3-3.5l4.5-8l2.5 4.5l3.5-1.5l3-0.5l3-1l2 2.5l3-7l2 2.5l3-2l3-0.5l3.5 0.5l2.5-2.5l2 2.5l4-5l2.5-0.5l2-3.5l2 1l4.5-0.5l3.5 0.5l2.5 7.5l3.5-0.5l2 4.5l3-8.5l3.5 3.5l4-3l3-3.5l4 2l2.5-1l4-0.5l2 0l3 3l3.5-6.5l2.5 3.5l2.5 5.5l2-4.5l2.5 12.5l2.5-0.5l2 1.5l3.5 0.5l2-2.5l3-0.5l3.5 4.5l4 6l3.5 3.5l4-4l3.5 9.5l4-4l3.5 1.5l3 5l2 0l4-5l2-1.5l2 2.5l2.5-5l4-6l3 0l2.5-0.5l4.5 3l3.5-3.5l3-5l2-1.5l3.5-5l2.5-2.5l3 1.5l3-1l2.5-3l2.5 5.5l4-1.5l2.5 2l2.5 2l3 0l4-7.5l4-1.5l3 2.5l4.5-7.5l2-8.5l3.5 0l3 0.5l4.5 6.5l3.5 1l4-1.5l2.5 1l4 1.5l3.5-8l2.5 1.5l3.5 3.5l4 6.5l4-4l2.5-5l3.5 2l3.5 2l4-2.5l3-3.5l3-3l2 3.5l3.5-1.5l2.5 2l4.5 9.5l3.5-6l4 3.5l1-4.5"/>
<path d="M352 168l3.5-4.5l3.5-1.5l2.5 1l3.5 1.5l4 1.5l3-4l2 1.5l2.5-6l3.5-1.5l4.5 2.5l3 2.5l4-4l4 5.5l3-2.5l3 1l4-2l4 5.5l2.5 1.5l3 2.5l4.5 4.5l3.5 0.5l3.5 2l3.5-2l4 7.5l4.5-0.5l3 6.5l2-6.5l3-2.5l2.5-1l3 1.5l3-3l4 6l3.5 1l2.5-0.5l4.5-6l3-2l2-2l4-8.5l3 6l3-3l2.5-9.5l4-2.5l3.5 2.5l2.5 10.5l3 4.5l3-2l2.5 1.5l3.5-3.5l2.5 1.5l4 0l3 7l3 1.5l2-2.5l3.5 0.5l2.5 1.5l2-5l2.5 7l3.5 4l2.5 4.5l3.5 1l4-2.5l3.5-7l2.5-5.5l2.5-0.5l2 5l2.5 0l3 3l2-5.5l2.5-2.5l3.5 1l3 0l4 1.5l2.5-4l4-4l4.5 0l3.5-4.5l3.5 2.5l4-4.5l2-6.5l4-7l4 4.5l4-1l4-1l2.5-1l3.5 4l2.5-2l2.5-2l2-6l2 5l4-2.5l2.5 1.5l3 7l3 2.5l2.5-2.5l4.5 2l3-1.5l2.5-1l2.5-3l2.5 1l2 1l2.5 2.5l3-8.5l2 3l4 1.5l2.5 1.5l2.5 1l3 0.5l3.5-0.5l3-0.5l3.5 2.5l2-4l2.5 1.5l3-8.5l2.5-8l3-5.5l4 12l4 4.5l3.5 2.5l3 1l3.5 0l3.5 2.5l3.5-0.5l4 7l2.5-2.5l4 5l2.5 2l2.5 0.5l2.5 1l4.5 1l4-1.5l3 5.5l4-5l3 1.5l2-1.5l2 0"/>
<path d="M352 118.5l3 9.5l3.5 7l3.5 9.5l3.5 10l3.5-0.5l2 7.5l3-1l3-0.5l3.5 4.5l4.5 5.5l2.5-3.5l4.5 4.5l3.5 0l2.5-2.5l3 3.5l4.5-3.5l2.5 3l3.5 0l4 2.5l2.5-1.5l2.5 4l2.5 4l2.5-1l3.5-2l3-1l4-3.5l3.5 2l3.5-4l2.5-2.5l2.5-4l3.5-1.5l2 2l4.5-5l4 2.5l3.5-3l3 4l3 4.5l4 0l2.5-3l2.5-1l3.5-4l4 4.5l3.5-7.5l4.5 1.5l3.5 0l2-0.5l4.5 2l2.5 3.5l2.5 2l3 1.5l4 3l3.5 6l4-1l2.5-8.5l3-0.5l4.5 0.5l3-1.5l3.5 6.5l2-4l3.5 2l4 1.5l2-1l4-6l2.5 4l3.5 1l3-1.5l3.5-4.5l3-7l4 0.5l3.5 6l3 0l2.5-3.5l3 3l2.5-2.5l2.5-1.5l2 0.5l4.5 4.5l3-3.5l3-4l4-2.5l2-3l4-3.5l3.5-9.5l2.5-8.5l2.5 7.5l3.5 5l3.5-5l2.5-4.5l3 1.5l4 3.5l2.5-0.5l4-4l2.5 4.5l3 4.5l3-1.5l3.5 1l3 3l4-3.5l3.5-4l3.5 2.5l3.5 2l3 3.5l4.5-3l4-4.5l3 9l3.5-3l2.5-0.5"/>
<path d="M352 180.5l2-2.5l3-3l4.5 0l2.5-0.5l4 1l3 2l2-1l2.5-0.5l2.5 1l3-0.5l3 0.5l2 2l4.5 1l3 3.5l3-4l3 3.5l4.5-4.5l3 2.5l4 2l2 0.5l3 4.5l4.5-2.5l2.5-1.5l4-3l4 5.5l3.5-3.5l3 1.5l4 2.5l3.5 1.5l2.5-1l4 0l4 1.5l3-1.5l3.5 1.5l2.5 5.5l4 1.5l2-2l4-4l4.5-1l3-2.5l4 0.5l4-5.5l2.5 0.5l4-3.5l3.5 4l4.5 4l4-1.5l4-0.5l3.5-0.5l2-0.5l2.5 2l2.5-1l2.5-3l3.5 2l2.5 4l3 3.5l3.5 3l4 6l2.5 0.5l3-5.5l2.5-4.5l2.5-3.5l3.5-1.5l3-0.5l2.5 3l4-6l3.5 2l3 0l4.5-5.5l3.5-3.5l4-2.5l4-1l4-0.5l2 5l3.5-4.5l2 1.5l4.5-2l3-6l3-1.5l2 1.5l3 0.5l4 0.5l3.5-6.5l3.5 4.5l4-9l4-2.5l3.5 5l3.5-4.5l2.5 5.5l3.5 7l3.5-1.5l2.5-6.5l3.5 4.5l2.5-5.5l2.5 1l3 0.5l4.5-8.5l2-0.5l4-3.5l3.5 5.5l3-1.5l2.5 3.5l2.5 1.5l3 8l3.5-5l4.5-1l3.5-4l4 3l4.5 3l2.5-2l3.5-4l2.5-2l3 10.5l3 3l3-5l4-5l3-3.5l4-2.5l2-1.5l2-6l2.5-0.5l3-4.5l4 7.5"/>
<path d="M352 129l2.5 0.5l3.5 1.5l4 5l4.5 3l3 3.5l3.5 4l2.5 3l4.5 3.5l2.5 1l3 3l4 4l2 0.5l3 5.5l3 1l4-0.5l4.5-0.5l4 0l4 3.5l4 5l3 1l2-2l3 4.5l2.5 1.5l4 1l4-3l4-0.5l4 0.5l4.5 7l2.5-4l4 2.5l2.5-6l2-0.5l4.5 3.5l3.5 2l3.5-2.5l3-3l4.5 0.5l3-2l4-0.5l3.5 1l2.5-3.5l3-7l2.5-0.5l3 6l3.5-6l3.5 3.5l3.5-2l4 5.5l2.5-1.5l2.5 7l4-4.5l3 0l3-3l2.5-2.5l2 4.5l3-4.5l2.5 6l4 2l3.5-4l2 2l4.5-1.5l3 7.5l4 1.5l4-1l2 1.5l4.5 2.5l4.5-3.5l4 1l2.5-3.5l4 6l3.5 1.5l2.5-4l4-2.5l2 4.5l4.5 0l2.5-11l3-3.5l3.5-5.5l4-1l3.5 0l3.5-6l2 1.5l2-2l3.5-7.5l3-5l3.5-0.5l2.5-1.5l3.5-0.5l3 8.5l4.5-5.5l2-3.5l3-9.5l3.5 2.5l3 1l2.5 4l3.5 7l2.5 1.5l3-2l2.5-1.5l3.5 13.5l3-1l4-2l3-4l4 4l2.5-2l2.5-4l2.5 8l3.5-2l3-5l2.5-7l2.5 2.5l4 0l3.5 6l1.5 4"/>
<path d="M352 257.5l4-17.5l4.5-12l2-5l3.5-6.5l3.5-6l2-0.5l3.5-4.5l4 0.5l3-3.5l4-3l3.5-4.5l3.5 4l3 1.5l3 4l3.5 2l4.5-2.5l2.5-0.5l3-4l4.5-3.5l4 1.5l4.5-6l3 0l2-1.5l3-5l4-4l4.5 2l2.5 2.5l2.5-3.5l3.5 3l3-2.5l2.5-1l2.5 1.5l3-6l3 5.5l2.5 2l3.5-4.5l2-2.5l4.5 2l3 1l3.5-3.5l3.5 1.5l4 2l3 4l2-10.5l4-3.5l4.5-0.5l2.5-3.5l2.5 8l2.5-1l3.5 3.5l3-3l4.5 4.5l3.5 0.5l4.5 2l4-1.5l3-0.5l4-4l4-6.5l2 5.5l4.5-2.5l2.5 2.5l3-8l2.5 0l4.5-2l3 2.5l3.5 4.5l4-4.5l2.5 6l4.5-3l2 5.5l3.5-5l4 8l2.5-1.5l2.5 1.5l3.5 0.5l3-0.5l3.5 3l3.5 0.5l3-3.5l3.5 0.5l3.5-5.5l4.5-2.5l3-4l4-1l3-2l3.5-2l2-3.5l3-10.5l2.5-3l4.5 2.5l3.5-8l4 1l2.5 1l3.5 3.5l3.5 3.5l3.5 3.5l3 3.5l4-8l4-3l3-3.5l2.5 0.5l3.5-1l3-5.5l2.5 5l3 2.5l3-7l4.5-2l3-11l3 1.5l4-5l2.5 5l4.5 4.5l4.5 4l4 1l4.5 1l3.5 2l3.5-3.5l4 2l3 2l2.5 2.5l4 2l3 3l3-2l2-7l4 0l3.5-0.5l3.5 2l2.5 0l4-10.5l3 3l2 6"/>
<path d="M352 252l3-14.5l3-12.5l2-6l3.5-10l4-7l3.5-3.5l2-1.5l2-1l3.5-4.5l3.5-7l3.5-4l3-4l3.5 0l4 5l3.5-1l2.5-3l4.5-3.5l3-1.5l4-3.5l3 2.5l2-1.5l4 5.5l2.5 0l3 0.5l3.5 3l2-2l3.5-1l2.5-5l4.5 5.5l4-3.5l3.5 0.5l2-3l4 0l3.5 6.5l3.5-3.5l2.5-5.5l2.5 4.5l2.5 3.5l4-1.5l4-2l4.5 1l3-2.5l3-1.5l3.5-9l3-4.5l4 6l2 4l4.5 1.5l2-3l4.5-1.5l2 2l3.5 8l2-3.5l3.5 2l3-3.5l3 4.5l2.5-1l4 8l3-2.5l3 2l3 1l4 7l2.5-5l3-0.5l3 0l4.5-5l4.5 3l2.5-7.5l3-3l2.5 3l2-1l3-1l4 3l2-3l2.5-0.5l3 8l3.5 1l2.5-5.5l4 4.5l3 0l3 1l4.5-6.5l4 6.5l3.5 0.5l4.5-3l4-3l3.5-4.5l4-1l4-3.5l2.5 5.5l2.5 5.5l4.5-1.5l3.5 1.5l4.5-7l2.5-5.5l3.5 4.5l3.5-1.5l4 4.5l4.5-5.5l3.5-6.5l3.5 1l2-0.5l3.5-5.5l2.5-0.5l3-5l4 4.5l2 2.5l3-0.5l2.5 4.5l4-2l2.5-6l4-4l4 2l4 0l2 8.5l3 2l2-5l4 6.5l2.5 1.5l3 1.5l3.5 4.5l3.5 2l4-1l2.5 0.5l2.5-2.5l4.5 6l3 1.5l2.5 1.5l3.5 2.5l4-7l4.5 7l3 8l2-10.5l2.5-5.5l4 5l3-3.5l4 3.5l3.5-1.5l3.5 2l2.5 2.5l3.5 0l2 6.5l3-3l2.5 2"/>
<path d="M352 178l2-4l3.5-5.5l4 0.5l4.5 1l2.5-0.5l3 3l2-0.5l2 0.5l4-4l2.5-4l3 0l3 0.5l4.5 2.5l2.5 5l3 2l2-0.5l2 3l3-4l2.5 0.5l4.5 0.5l2.5-1.5l4.5-3l3.5 5.5l2.5-3l4 2l3.5 6l2.5 5l3.5-4.5l2.5-4.5l4.5 0.5l4-5.5l4 2l4.5-6l2-3l4.5-8.5l2.5 9.5l4.5-5.5l3-2l4-1.5l2 2l3.5 0.5l4 3.5l4-9.5l4 5l3 5.5l4 7.5l3 0.5l3.5-0.5l3-9l4.5 2.5l3 10l3-2l3 3l4-3.5l3 4.5l2.5-7l2.5 4.5l4-0.5l3.5 2.5l4 2l2.5-3.5l4 0.5l2-1l2.5 0l3.5-5l4-3.5l2 2l3.5 5l4 3.5l3 4l2.5-2.5l3-2l4-1.5l3.5-0.5l3.5-3.5l2 6l3-3l3 0l4.5-6l4-1l3.5-2l3.5-1l4.5 5l2 2.5l4.5 6.5l3-7l2.5-5.5l4-5.5l3.5 2.5l3 4.5l2.5-5l4 2l3.5-2l4 3l4 2l4-6l2.5-5l3-6.5l2 9l3.5 4.5l3.5-7l2.5-1l2.5-9l3 4l4 12l3.5 13.5l3.5-5l4.5-3.5l4-3.5l3-2l3.5 7l2.5 5.5l3-6l2-1l2.5 0l4.5 6.5l3 0l4 10.5l3.5-2l2 0l4 1.5l2 4.5l4 2.5l4-1l4-7l2.5 0.5l2.5-4.5l2 5l4 2l3.5-3l4 2l3 5l3 7l2.5-2l3-4l3.5 5l3 2.5l4 0l4.5-7l4-9.5l4 5l4-6l2.5 1.5l4.5-13l3-3.5l3 7.5l2.5 0.5l2.5-4l4 0.5l4 2.5"/>
<path d="M352 202.5l4-18l3.5-9l3-5.5l2.5-6l4-6l3.5-6.5l3 0l4-9.5l3-1l3 7l4-4.5l2.5-6l4 6l4 3.5l4.5-3.5l3.5 4.5l3.5 3.5l3-0.5l4 3.5l3 1.5l3.5 2.5l3 0.5l3.5-5l3.5-5l3.5 1l4-5l3.5-4.5l2 7l3 2l3.5 4.5l3-3.5l4 3l2 5.5l3-2l2.5 7l2.5 0.5l3-2.5l3-3.5l2.5 2.5l3.5 2.5l3.5-3l2.5 6l4.5 2l3.5 3.5l4-4.5l3.5 0.5l3-3l4 0.5l3 5l2.5 5.5l3.5 8.5l3 1l2.5-0.5l2.5-3l2-1.5l4.5 2.5l2.5-1l3.5-1l3.5-0.5l3.5 1l3-1.5l4.5 0l2.5-2l4-0.5l2.5 3l2.5 0.5l3-4.5l2 5.5l3-1.5l2 2.5l3.5 4l3.5-3.5l3.5 1l3-5.5l4 2l2.5 6l2.5-1l4-1l3.5-1l4.5 0.5l3-2.5l4.5-5.5l2-1.5l3-1.5l3-7.5l3 4l3.5-1l4 1l3.5-8.5l2.5-5l3.5 0.5l3.5-0.5l4.5-9.5l3 6l4.5-11.5l2.5-1.5l3 5.5l2-0.5l4-3l3.5-4l3-0.5l2-2.5l4.5 0l2 1l2.5-3l2 4l3.5 2.5l4-3l3.5 9.5l2.5 0l3.5-0.5l2-1l2.5 2.5l3.5 10l3-9.5l2.5 1.5l2.5 0l2 3l4.5-1.5l3.5-3l3.5 4.5l2-2.5l3.5 2.5l4.5-10l2 4l3-4l3 1l3.5 6l3 2.5l2.5 6.5l4.5-9l3.5-3.5l3 8.5l3.5-10.5l3.5-2l3 6"/>
<path d="M352 135.5l4-1.5l2.5 2l3 2.5l3.5 1.5l3 4l4 3l3 3.5l2.5 4l4 0.5l3 0l2.5-2l3.5 1.5l3.5 2.5l3.5 6l3 3.5l4 3l3.5-1l2.5-1l4-4.5l4-1l2-2.5l2.5 4l3.5 8.5l4.5-2.5l3 0.5l3.5-0.5l4 0.5l3-2.5l4 2l4 4l3-6.5l3 8l2.5 1l3.5 2l2.5 3l2 0l4.5-2.5l2-8l4 1l3.5-2.5l4 1l2.5 3.5l2 1l3.5 4.5l4-3.5l3.5-11.5l2 3.5l3.5 4l3.5 0l3-0.5l4.5 7.5l3 2l3 3.5l4 5l2 1l3 4.5l4.5-3.5l3-1.5l3.5-7l4-2.5l2.5-0.5l2.5 4l3-1.5l3 1.5l3.5-1.5l4.5 2.5l4-3l4-4l3-3.5l3.5 1.5l4.5-6l3-3.5l3 4.5l4 4.5l4.5 1l3.5-6l3-5l2.5-0.5l2 2l3.5-4l2.5 2.5l3 2l2.5 4.5l4-2.5l4-2l4-4.5l3 7l3-4.5l2.5-7l4 1l2.5-3l3.5-5l4.5-2l3.5-5l2.5 6.5l2.5-1.5l2.5 9.5l4 3.5l3 3l3.5-5.5l4.5 0l4 3l3 1.5l2 3.5l3-9l4-2.5l2.5 0.5l2.5-7l4.5 2.5l2-1l2 6l4.5-1.5l4-2.5l4-6.5l3.5 3.5l3.5-16l3 7.5l3 6l2 0.5l3 0.5l2.5-3l2-4.5l2-3l3.5 1l3-1.5l4.5 0.5l4 3.5l2 3.5l4.5 3.5l4.5-0.5l3 0l3 0l3.5-9.5l2-1l3 7.5l3-6l2.5 0l2-4"/>
</g>
<path d="M262 935 C262.4 933.9 263.6 934.4 264.7 928.3 C265.8 922.2 266.2 906.2 268.3 898.2 C270.4 890.2 273.4 887.3 277.1 880.5 C280.8 873.7 285.2 865.4 290.4 857.4 C295.6 849.4 303.7 837.8 308.1 832.6 C312.5 827.4 311.7 831.9 317 826.4 C322.3 820.9 333.9 807.1 340 799.5 C346.1 791.9 349.2 786.7 353.5 780.6 C357.8 774.5 362.5 768.6 366 762.9 C369.5 757.2 371.4 751.8 374.4 746.3 C377.4 740.8 380.8 735.2 383.8 729.6 C386.7 724 389.5 718.6 392.1 712.9 C394.7 707.2 397 701.5 399.4 695.2 C401.8 689 404.4 680.6 406.7 675.4 C408.9 670.2 410.1 668.5 412.9 664 C415.7 659.5 420 653.8 423.3 648.3 C426.6 642.8 428.9 636.9 432.5 631.2 C436.1 625.6 440.8 620 445 614.4 C449.2 608.8 453.3 602.9 457.5 597.5 C461.7 592.1 465.8 586.6 470 581.9 C474.2 577.2 477.5 575.5 482.5 569.4 C487.5 563.3 495.4 551.6 500 545.5 C504.6 539.4 505 539.1 510 533 C515 526.9 524.2 516.2 530 509 C535.8 501.8 540 496.6 545 490 C550 483.4 554.4 476.8 560 469.7 C565.6 462.6 572.5 454.2 578.7 447.2 C584.9 440.2 591.2 434.1 597.4 427.6 C603.6 421.1 609.8 413.8 616 408 C622.2 402.2 629 398.6 634.7 393.1 C640.4 387.6 643.8 380.9 650 375.1 C656.2 369.3 664.5 363.6 671.8 358.2 C679.1 352.8 686.3 347.2 693.6 342.4 C700.9 337.6 708.1 333.7 715.4 329.4 C722.7 325.1 730 321.2 737.2 316.8 C744.5 312.4 753.5 306.5 758.9 302.7 C764.3 298.9 766.3 296.8 769.8 294 C773.3 291.2 776.2 288.7 780 285.9 C783.8 283.1 788.4 280.2 792.5 277.2 C796.6 274.2 800.8 270.8 804.9 267.9 C809 265 812.8 261.8 817.4 259.8 C822 257.8 826.1 256.5 832.3 256 C838.5 255.5 848.9 257 854.7 256.7 C860.5 256.4 862 255.5 867.2 254.2 C872.4 252.8 879.6 251 885.8 248.6 C892 246.2 899.3 242.1 904.5 239.8 C909.7 237.5 912.9 236.7 917 234.9 C921.1 233.2 925.6 231.1 929.4 229.3 C933.2 227.5 935.1 225.5 940 224.1 C944.9 222.7 953.5 222.2 958.7 221 C963.9 219.8 965.9 218.7 971.1 216.7 C976.3 214.7 984.6 212 989.8 209.2 C995 206.4 999 201.9 1002.3 199.8 C1005.6 197.7 1006.8 196.9 1009.7 196.7 C1012.6 196.5 1016.8 197.9 1019.7 198.6 C1022.6 199.3 1023.9 200.9 1027.2 200.8 C1030.5 200.7 1035.4 198.6 1039.6 198 C1043.8 197.4 1047.9 197.5 1052.1 197.4 C1056.2 197.3 1060.3 198.6 1064.5 197.4 C1068.7 196.2 1073.9 191.8 1077 190.5 C1080.1 189.2 1080.3 190.9 1083.2 189.3 C1086.1 187.8 1091.3 181.9 1094.4 181.2 C1097.5 180.5 1099.4 183.4 1102 185 C1104.6 186.6 1107.5 190.2 1110.2 190.9 C1112.9 191.6 1115.8 189 1118.3 189.1 C1120.8 189.2 1122.4 192.2 1125.3 191.4 C1128.2 190.6 1132.8 185.7 1135.9 184.4 C1139 183.2 1141.5 183.8 1144 183.9 C1146.5 184 1148.3 185.9 1151 185 C1153.7 184.1 1156.9 179.9 1160.4 178.6 C1163.9 177.3 1168.7 176.9 1172 177.1 C1175.3 177.3 1176.5 179.1 1180.2 179.8 C1183.9 180.5 1190.7 180.5 1194.2 181.5 C1197.7 182.5 1199.1 185.6 1201.2 185.6 C1203.3 185.6 1204.8 183.4 1207 181.5 C1209.2 179.6 1212.3 174.7 1214.1 173.9 C1215.9 173.1 1216.3 174.8 1217.6 176.8 C1218.9 178.9 1220.3 185.4 1221.7 186.2 C1223.1 187 1223.9 184.8 1225.7 181.5 C1227.5 178.2 1231.5 169.2 1232.7 166.7 L1232.7 196.7 C1231.9 198.2 1229.6 203.1 1228.1 206 C1226.5 208.9 1225 213.8 1223.4 214.2 C1221.8 214.6 1220.1 210.2 1218.7 208.4 C1217.3 206.6 1217 202.9 1215.2 203.1 C1213.5 203.3 1210.7 209.2 1208.2 209.5 C1205.7 209.8 1202.4 206.9 1200.1 204.9 C1197.8 202.9 1197.1 198.7 1194.2 197.3 C1191.3 195.9 1185.4 196.8 1182.5 196.7 C1179.6 196.6 1179.6 197 1176.7 196.7 C1173.8 196.4 1167.9 195.2 1165 194.9 C1162.1 194.6 1161.5 194 1159.2 194.9 C1156.9 195.8 1153.9 198.7 1151 200.2 C1148.1 201.7 1145.6 202.3 1141.7 203.7 C1137.8 205.1 1132 207.8 1127.7 208.4 C1123.4 209 1119.5 207.2 1116 207.2 C1112.5 207.2 1110.2 208.1 1106.7 208.4 C1103.2 208.7 1098.9 208.5 1095 208.9 C1091.1 209.3 1088.3 210.2 1083.2 211 C1078.1 211.8 1071.8 212.9 1064.5 213.5 C1057.2 214.1 1047.9 214.1 1039.6 214.8 C1031.3 215.5 1020.9 216.5 1014.7 217.9 C1008.5 219.3 1006.4 221.5 1002.3 223.5 C998.1 225.5 993.9 227.8 989.8 229.7 C985.6 231.6 982.6 232.6 977.4 234.7 C972.2 236.8 964.9 240.3 958.7 242.2 C952.5 244.1 944.9 244.8 940 245.9 C935.1 247 934.3 247.1 929.4 248.6 C924.5 250.1 916.9 252.3 910.7 254.8 C904.5 257.3 898.3 260.4 892.1 263.5 C885.9 266.6 879.2 270.6 873.4 273.5 C867.6 276.4 862.4 279.1 857.2 280.9 C852 282.6 847.9 282.9 842.3 284 C836.7 285.1 829.8 285.7 823.6 287.2 C817.4 288.7 810.1 290.7 804.9 292.8 C799.7 294.9 796.6 297.2 792.5 299.6 C788.4 302 785.6 302.6 780 307.1 C774.4 311.6 766 321.3 758.9 326.7 C751.8 332.1 744.5 335.6 737.2 339.7 C730 343.8 722.7 347 715.4 351.2 C708.1 355.4 700.9 360 693.6 364.8 C686.3 369.6 678.5 374.5 671.8 380 C665.1 385.5 659.6 392.1 653.4 397.7 C647.2 403.3 640.9 408.2 634.7 413.6 C628.5 419.1 622.2 424.5 616 430.4 C609.8 436.3 603.6 442.6 597.4 449.1 C591.2 455.7 584.9 462.5 578.7 469.7 C572.5 476.9 568.1 481.7 560 492.1 C551.9 502.5 539.5 519 530 532 C520.5 545 509.9 560.6 503 570 C496.1 579.4 493.2 582.3 488.8 588.1 C484.3 593.9 480.4 599.3 476.2 605 C472.1 610.7 467.9 616.5 463.8 622.5 C459.6 628.5 455.4 634.8 451.2 641.2 C447.1 647.7 443.4 653.1 438.8 661.2 C434.1 669.4 427.6 682.4 423.3 690 C419 697.6 416.4 700.8 412.9 706.7 C409.4 712.6 406 718.6 402.5 725.4 C399 732.2 395.6 739.8 392.1 747.3 C388.6 754.8 385.2 762 381.7 770.2 C378.2 778.4 374.7 787.6 371.2 796.2 C367.8 804.9 364.1 815 360.8 822.3 C357.5 829.6 355.1 833 351.5 840 C347.9 847 342.6 858.2 339.1 864.5 C335.6 870.8 334 872.2 330.3 877.8 C326.6 883.4 320.7 892.7 317 898.2 C313.3 903.7 310.2 905.3 308.1 910.6 C306 915.9 305.1 925.9 304.6 930 C304.1 934.1 304.9 934.2 305 935 Z" fill="rgba(128,128,128,0.55)" stroke="rgb(118,118,118)" stroke-width="1.5" stroke-linejoin="round"/>
<g fill="none" stroke="#000" stroke-width="2.1" stroke-linejoin="miter" stroke-miterlimit="3">
<path d="M250.5 935l0-7l4.5-99l7 1l7.5-7.5l6.5 1.5l11.5-21l5-3l6.5 0l6 1"/>
<path d="M256.5 935l0-7l12-94l19.5 2.5l9-21.5l3-25"/>
<path d="M254.5 810l40 5"/>
<path d="M268.5 882.5l14-37l3.5-28.5l2-6l6.5 1.5"/>
<path d="M281.5 863.5l12.5 1.5l0-49"/>
<path d="M281.5 935l0-18.5l15.5 1"/>
<path d="M287.5 935l0.5-64.5l24 3.5"/>
<path d="M297 935l-0.5-75l-0.5-60l4-89l6 1.5l5-18.5l4.5 0.5l6.5-18l8 1l3-14l5.5-1.5"/>
<path d="M305 935l0.5-135l0.5-83l6 1l3.5-22.5l6.5-2l8-16l5 1l3.5-3.5"/>
<path d="M336.5 935l1-241"/>
<path d="M329 935l1-135l3-114l1-7.5"/>
<path d="M305 762l10.5-7.5l6.5-13.5l4-3"/>
<path d="M316 740l6-11l6 0l2-14l6-3"/>
<path d="M325.5 735.5l12 0"/>
<path d="M305.5 884.5l5.5 1l10.5-86.5"/>
<path d="M312 935l0.5-50.5"/>
<path d="M333.5 722l6-2"/>
<path d="M333.5 746l6-2"/>
<path d="M333.5 754l6-2"/>
<path d="M333.5 772l6-2"/>
<path d="M333.5 792l6-2"/>
<path d="M333.5 817l6-2"/>
<path d="M333.5 832l6-2"/>
<path d="M323 936l-0.5-13.5l2.5 0l-3-34l3-22.5l2.5 0l-2-30l0.5-16.5l5.5-0.5"/>
<path d="M325 936l2.5-31.5l0.5-17l2-21l1-15l2 0l0.5-15l0.5-32.5l2-10.5l2-21.5l1.5 0l-1.5-31l-0.5-0.5l2 0"/>
<path d="M315 936l1-11.5l-1-10.5l2.5 0l-1-10.5l-1-22.5l3 0l-2-16.5l2-15.5"/>
<path d="M313.5 936l-0.5-31l4.5-26.5l0-33.5l-0.5-13.5l2.5-32.5l3 0l-1.5-14l3 0l-3-8"/>
<path d="M323 936l0.5-16l4 0l-2-25.5l2-19l1.5-20l2.5 0l-1.5-24l3.5-27.5l0.5-27l0.5-11.5l2.5-30l2.5 0l-1-16l1-12.5"/>
<path d="M325.5 936l2-17.5l2-23.5l-0.5-16.5l3 0l0.5-24l5 0l-2.5-29.5l1.5-28.5l2.5-18.5l-1-11"/>
<path d="M324.5 936l1-30.5l2.5-22.5l5.5 0l-2.5-19l0-21.5l1.5-13.5l1-23l1-31.5l2 0l0.5-21.5l2.5 0l0-23.5l0-15l0-11"/>
<path d="M321 936l2-12l3.5-22.5l2.5 0l-1-20l1.5-10.5l3-22.5"/>
<path d="M302.5 936l1.5-14l5 0l-4-30l1.5-13l0.5-28.5"/>
<path d="M318.5 936l1.5-27.5l2-34l0-14l1.5-15.5"/>
<path d="M312.5 936l2.5-23l1.5-33.5l2.5-23l1.5-11l2 0l0.5-21.5l0-19.5l2 0l1-24.5l0.5-6l2 0"/>
<path d="M313.5 936l0.5-18.5l1-19l1-10l0.5-20l-0.5-25.5l4.5-21l2-28.5l1-33l3 0l-2-20.5l1.5-22.5l5 0l4-1"/>
<path d="M302.5 936l2.5-17l2 0l2.5-30l-1-15.5l3-17.5l3.5 0l-4-11l4-17l3.5-32l3-28l3-14l-1.5-0.5"/>
<path d="M331.5 936l2-27l2.5-24.5l2-33.5l1.5-11.5"/>
<path d="M322 936l3-32l2.5-25.5l4.5-24l4 0l-3.5-18l1-23l3-12.5"/>
<path d="M317.5 936l0-31.5l1.5-9.5"/>
<path d="M308.5 936l1.5-15.5l1.5-22l5.5 0l-2.5-34.5l1.5-14l3.5 0l-2-13l6 0l-4.5-19l3.5-28.5l-3-3l2.5 0l5-1"/>
<path d="M319 936l1-10l1-26l-1.5-15.5l4 0l-3-16l4 0l4.5-1.5"/>
<path d="M306 936l3.5-18.5l0.5-14l2-27l5 0l-1-17.5"/>
<path d="M297.5 936l3-32l2-21.5"/>
<path d="M314 936l4.5-27l3.5 0l-2.5-22l3-17l2.5 0l-1-18.5l3 0l3-33.5l0-9.5l3 0"/>
<path d="M313 936l4-34.5l5.5 0l-3.5-20l2.5-11l4.5 0l-2.5-19"/>
<path d="M309 936l0-11.5l5 0l-4.5-21.5l-0.5-21l3.5 0l-3-19l4 0l-1.5-25l2.5 0l-4.5-15l2 0l-2-6.5"/>
<path d="M315.5 936l1.5-14.5l1-27.5l2.5 0l0-21l-1.5-12l1.5-24.5l1.5-12.5l-1.5-24.5l2.5-24.5l-0.5-13.5l2-19l5 0l-4-27.5l4 0l-4-4.5"/>
</g>
<path d="M352 168 C352.7 166.9 354.1 162.6 356.2 161.2 C358.3 159.8 360.5 159.2 364.9 159.3 C369.3 159.4 375.3 160.8 382.4 161.8 C389.5 162.8 400.2 164.6 407.3 165.5 C414.4 166.4 417.9 166.9 425 167.4 C432.1 167.9 442.5 167.8 450 168.3 C457.5 168.8 462.4 170 470 170.5 C477.6 171 488.3 171.3 495.6 171.5 C502.9 171.7 510.2 171.8 513.6 171.8 C517 171.8 513.9 171 516 171.4 C518.1 171.8 521.2 173.7 526 174.3 C530.8 174.9 537.4 175.1 544.7 174.9 C552 174.7 561.3 174 569.6 173 C577.9 172 587.2 170.2 594.5 168.7 C601.8 167.1 607.3 165.4 613.2 163.7 C619.1 162 625.1 160.3 630 158.7 C634.9 157.1 637.6 155.6 642.6 154.3 C647.6 153 654.2 151.9 660 151 C665.8 150.1 668.8 149.3 677.6 149 C686.4 148.7 700.9 148.4 712.6 149 C724.3 149.6 736 151.2 747.7 152.5 C759.4 153.8 776.9 156 782.7 156.7 L782.7 168.3 C776.9 167 759.4 162.4 747.7 160.2 C736 158 724.3 155.8 712.6 155 C700.9 154.2 686.4 154.9 677.6 155.3 C668.8 155.7 665.8 156.5 660 157.5 C654.2 158.5 647.6 160.1 642.6 161.3 C637.6 162.5 634.9 163.5 630 164.9 C625.1 166.3 619.1 168.3 613.2 169.9 C607.3 171.5 601.8 172.9 594.5 174.3 C587.2 175.7 577.9 177.4 569.6 178.4 C561.3 179.4 550.9 179.9 544.7 180.1 C538.5 180.3 536.4 180 532.3 179.6 C528.1 179.2 522.9 178.3 519.8 177.6 C516.7 176.9 521.9 175.9 513.6 175.5 C505.3 175.1 480.6 175.1 470 174.9 C459.4 174.8 457.5 174.8 450 174.6 C442.5 174.4 432.1 174.3 425 173.9 C417.9 173.5 414.4 173 407.3 172.4 C400.2 171.8 389.4 171 382.4 170.5 C375.4 170 369.6 169 365.5 169.3 C361.4 169.6 359.8 170.2 357.5 172.4 C355.2 174.6 352.9 180.7 352 182.3 Z" fill="rgba(255,40,50,0.28)" stroke="rgba(235,50,60,0.75)" stroke-width="1.7" stroke-linejoin="round"/>
</g>
<rect x="117.5" y="85.0" width="1131.7" height="843.3" fill="none" stroke="#000" stroke-width="2.1"/>
<line x1="109" y1="85" x2="117.5" y2="85" stroke="#000" stroke-width="2.1"/>
<line x1="109" y1="253.7" x2="117.5" y2="253.7" stroke="#000" stroke-width="2.1"/>
<line x1="109" y1="422.3" x2="117.5" y2="422.3" stroke="#000" stroke-width="2.1"/>
<line x1="109" y1="591" x2="117.5" y2="591" stroke="#000" stroke-width="2.1"/>
<line x1="109" y1="759.6" x2="117.5" y2="759.6" stroke="#000" stroke-width="2.1"/>
<line x1="109" y1="928.3" x2="117.5" y2="928.3" stroke="#000" stroke-width="2.1"/>
<line x1="117.5" y1="928.3" x2="117.5" y2="936.6" stroke="#000" stroke-width="2.1"/>
<line x1="683.4" y1="928.3" x2="683.4" y2="936.6" stroke="#000" stroke-width="2.1"/>
<line x1="1249.2" y1="928.3" x2="1249.2" y2="936.6" stroke="#000" stroke-width="2.1"/>
<line x1="287.8" y1="928.3" x2="287.8" y2="932.9" stroke="#000" stroke-width="1.6"/>
<line x1="387.5" y1="928.3" x2="387.5" y2="932.9" stroke="#000" stroke-width="1.6"/>
<line x1="458.2" y1="928.3" x2="458.2" y2="932.9" stroke="#000" stroke-width="1.6"/>
<line x1="513" y1="928.3" x2="513" y2="932.9" stroke="#000" stroke-width="1.6"/>
<line x1="557.8" y1="928.3" x2="557.8" y2="932.9" stroke="#000" stroke-width="1.6"/>
<line x1="595.7" y1="928.3" x2="595.7" y2="932.9" stroke="#000" stroke-width="1.6"/>
<line x1="628.5" y1="928.3" x2="628.5" y2="932.9" stroke="#000" stroke-width="1.6"/>
<line x1="657.5" y1="928.3" x2="657.5" y2="932.9" stroke="#000" stroke-width="1.6"/>
<line x1="853.7" y1="928.3" x2="853.7" y2="932.9" stroke="#000" stroke-width="1.6"/>
<line x1="953.3" y1="928.3" x2="953.3" y2="932.9" stroke="#000" stroke-width="1.6"/>
<line x1="1024" y1="928.3" x2="1024" y2="932.9" stroke="#000" stroke-width="1.6"/>
<line x1="1078.9" y1="928.3" x2="1078.9" y2="932.9" stroke="#000" stroke-width="1.6"/>
<line x1="1123.7" y1="928.3" x2="1123.7" y2="932.9" stroke="#000" stroke-width="1.6"/>
<line x1="1161.5" y1="928.3" x2="1161.5" y2="932.9" stroke="#000" stroke-width="1.6"/>
<line x1="1194.4" y1="928.3" x2="1194.4" y2="932.9" stroke="#000" stroke-width="1.6"/>
<line x1="1223.3" y1="928.3" x2="1223.3" y2="932.9" stroke="#000" stroke-width="1.6"/>
<text x="46.70" y="98.50" font-size="31.79" textLength="16.80" lengthAdjust="spacingAndGlyphs">1</text>
<text x="65.53" y="98.61" font-size="32.05" textLength="17.59" lengthAdjust="spacingAndGlyphs">0</text>
<text x="86.54" y="86.20" font-size="22.89" textLength="12.60" lengthAdjust="spacingAndGlyphs">7</text>
<text x="46.70" y="267.16" font-size="31.79" textLength="16.80" lengthAdjust="spacingAndGlyphs">1</text>
<text x="65.53" y="267.27" font-size="32.05" textLength="17.59" lengthAdjust="spacingAndGlyphs">0</text>
<text x="87.94" y="254.94" font-size="23.01" textLength="11.26" lengthAdjust="spacingAndGlyphs">5</text>
<text x="46.70" y="435.82" font-size="31.79" textLength="16.80" lengthAdjust="spacingAndGlyphs">1</text>
<text x="65.53" y="435.93" font-size="32.05" textLength="17.59" lengthAdjust="spacingAndGlyphs">0</text>
<text x="87.32" y="423.60" font-size="23.07" textLength="11.38" lengthAdjust="spacingAndGlyphs">3</text>
<text x="46.70" y="604.48" font-size="31.79" textLength="16.80" lengthAdjust="spacingAndGlyphs">1</text>
<text x="65.53" y="604.59" font-size="32.05" textLength="17.59" lengthAdjust="spacingAndGlyphs">0</text>
<text x="86.82" y="592.18" font-size="22.89" textLength="11.20" lengthAdjust="spacingAndGlyphs">1</text>
<text x="31.50" y="773.14" font-size="31.79" textLength="16.80" lengthAdjust="spacingAndGlyphs">1</text>
<text x="50.33" y="773.25" font-size="32.05" textLength="17.59" lengthAdjust="spacingAndGlyphs">0</text>
<rect x="72.30" y="753.94" width="12.6" height="1.8"/>
<text x="86.52" y="760.84" font-size="22.89" textLength="11.20" lengthAdjust="spacingAndGlyphs">1</text>
<text x="31.50" y="940.60" font-size="31.79" textLength="16.80" lengthAdjust="spacingAndGlyphs">1</text>
<text x="50.33" y="940.71" font-size="32.05" textLength="17.59" lengthAdjust="spacingAndGlyphs">0</text>
<rect x="72.30" y="921.40" width="12.6" height="1.8"/>
<text x="87.02" y="928.38" font-size="23.07" textLength="11.38" lengthAdjust="spacingAndGlyphs">3</text>
<text x="81.50" y="967.70" font-size="31.79" textLength="16.80" lengthAdjust="spacingAndGlyphs">1</text>
<text x="100.33" y="967.81" font-size="32.05" textLength="17.59" lengthAdjust="spacingAndGlyphs">0</text>
<rect x="121.10" y="949.90" width="12.6" height="1.8"/>
<text x="134.96" y="957.48" font-size="23.07" textLength="12.28" lengthAdjust="spacingAndGlyphs">9</text>
<text x="647.35" y="967.70" font-size="31.79" textLength="16.80" lengthAdjust="spacingAndGlyphs">1</text>
<text x="666.18" y="967.81" font-size="32.05" textLength="17.59" lengthAdjust="spacingAndGlyphs">0</text>
<rect x="686.95" y="949.90" width="12.6" height="1.8"/>
<text x="700.91" y="957.48" font-size="23.07" textLength="12.09" lengthAdjust="spacingAndGlyphs">8</text>
<text x="1213.20" y="967.70" font-size="31.79" textLength="16.80" lengthAdjust="spacingAndGlyphs">1</text>
<text x="1232.03" y="967.81" font-size="32.05" textLength="17.59" lengthAdjust="spacingAndGlyphs">0</text>
<rect x="1252.80" y="949.90" width="12.6" height="1.8"/>
<text x="1266.55" y="957.40" font-size="22.89" textLength="12.48" lengthAdjust="spacingAndGlyphs">7</text>
<g transform="translate(35.9,693.9) rotate(-90)">
<text x="0.06" y="0.00" font-size="38.53" textLength="11.99" lengthAdjust="spacingAndGlyphs">f</text>
<text x="13.01" y="0.00" font-size="38.48" textLength="8.33" lengthAdjust="spacingAndGlyphs">l</text>
<text x="22.82" y="0.14" font-size="39.16" textLength="22.01" lengthAdjust="spacingAndGlyphs">u</text>
<text x="46.14" y="0.00" font-size="37.99" textLength="20.36" lengthAdjust="spacingAndGlyphs">x</text>
<text x="80.15" y="-2.43" font-size="35.08" textLength="10.33" lengthAdjust="spacingAndGlyphs">(</text>
<text x="94.83" y="0.00" font-size="37.99" textLength="26.79" lengthAdjust="spacingAndGlyphs">w</text>
<text x="123.60" y="0.14" font-size="38.47" textLength="22.05" lengthAdjust="spacingAndGlyphs">e</text>
<text x="146.78" y="0.00" font-size="38.48" textLength="8.33" lengthAdjust="spacingAndGlyphs">i</text>
<text x="156.38" y="-0.23" font-size="37.88" textLength="22.18" lengthAdjust="spacingAndGlyphs">g</text>
<text x="179.90" y="0.00" font-size="38.48" textLength="22.16" lengthAdjust="spacingAndGlyphs">h</text>
<text x="203.54" y="-0.31" font-size="39.38" textLength="12.26" lengthAdjust="spacingAndGlyphs">t</text>
<text x="216.98" y="3.00" font-size="41.07" textLength="12.36" lengthAdjust="spacingAndGlyphs">/</text>
<text x="230.35" y="0.14" font-size="38.57" textLength="17.59" lengthAdjust="spacingAndGlyphs">s</text>
<text x="248.80" y="0.14" font-size="38.47" textLength="22.05" lengthAdjust="spacingAndGlyphs">e</text>
<text x="271.50" y="0.14" font-size="38.47" textLength="18.41" lengthAdjust="spacingAndGlyphs">c</text>
<text x="291.61" y="0.14" font-size="38.47" textLength="21.70" lengthAdjust="spacingAndGlyphs">o</text>
<text x="314.38" y="0.00" font-size="38.20" textLength="22.01" lengthAdjust="spacingAndGlyphs">n</text>
<text x="337.28" y="0.14" font-size="38.68" textLength="22.18" lengthAdjust="spacingAndGlyphs">d</text>
<text x="362.99" y="-2.43" font-size="35.08" textLength="10.33" lengthAdjust="spacingAndGlyphs">)</text>
</g>
<text x="633.15" y="1006.32" font-size="39.16" textLength="12.19" lengthAdjust="spacingAndGlyphs" font-style="italic">t</text>
<text x="645.22" y="1010.00" font-size="26.62" textLength="24.06" lengthAdjust="spacingAndGlyphs" font-style="italic">m</text>
<text x="669.98" y="1010.10" font-size="26.80" textLength="15.03" lengthAdjust="spacingAndGlyphs" font-style="italic">o</text>
<text x="685.79" y="1010.00" font-size="26.79" textLength="5.91" lengthAdjust="spacingAndGlyphs" font-style="italic">l</text>
<text x="696.19" y="1003.46" font-size="37.89" textLength="12.94" lengthAdjust="spacingAndGlyphs">(</text>
<text x="710.19" y="1003.54" font-size="36.97" textLength="18.23" lengthAdjust="spacingAndGlyphs">s</text>
<text x="731.07" y="1003.46" font-size="37.89" textLength="12.94" lengthAdjust="spacingAndGlyphs">)</text>
<rect x="633.7" y="685.4" width="603" height="229.8" rx="5" ry="5" fill="rgba(255,255,255,0.8)" stroke="#d0d0d0" stroke-width="1.6"/>
<line x1="642.4" y1="704.9" x2="694.7" y2="704.9" stroke="#000" stroke-width="2.1"/>
<rect x="643.5" y="734.1" width="51" height="17.4" fill="rgb(240,240,240)" stroke="rgb(224,224,224)" stroke-width="1.9"/>
<rect x="643.5" y="771.4" width="51" height="17.4" fill="rgb(229,229,255)" stroke="rgb(206,206,255)" stroke-width="1.9"/>
<rect x="643.5" y="808.4" width="51" height="17.4" fill="rgb(255,246,230)" stroke="rgb(255,236,205)" stroke-width="1.9"/>
<rect x="643.5" y="845.5" width="51" height="17.4" fill="rgb(191,191,191)" stroke="rgb(138,138,138)" stroke-width="1.9"/>
<rect x="643.5" y="882.6" width="51" height="17.4" fill="rgb(255,192,192)" stroke="rgb(255,135,135)" stroke-width="1.9"/>
<text x="715.16" y="714.09" font-size="27.26" textLength="8.48" lengthAdjust="spacingAndGlyphs">t</text>
<text x="725.17" y="714.30" font-size="26.44" textLength="9.86" lengthAdjust="spacingAndGlyphs">r</text>
<text x="735.28" y="714.40" font-size="26.62" textLength="13.03" lengthAdjust="spacingAndGlyphs">a</text>
<text x="751.12" y="714.30" font-size="26.63" textLength="5.77" lengthAdjust="spacingAndGlyphs">i</text>
<text x="758.01" y="714.30" font-size="26.44" textLength="15.23" lengthAdjust="spacingAndGlyphs">n</text>
<text x="774.28" y="714.30" font-size="26.63" textLength="5.77" lengthAdjust="spacingAndGlyphs">i</text>
<text x="781.17" y="714.30" font-size="26.44" textLength="15.23" lengthAdjust="spacingAndGlyphs">n</text>
<text x="797.02" y="714.14" font-size="26.22" textLength="15.35" lengthAdjust="spacingAndGlyphs">g</text>
<text x="821.71" y="714.30" font-size="26.91" textLength="23.64" lengthAdjust="spacingAndGlyphs">W</text>
<text x="846.19" y="714.30" font-size="26.91" textLength="15.80" lengthAdjust="spacingAndGlyphs">E</text>
<text x="870.45" y="714.40" font-size="26.77" textLength="15.35" lengthAdjust="spacingAndGlyphs">d</text>
<text x="886.99" y="714.30" font-size="26.63" textLength="5.77" lengthAdjust="spacingAndGlyphs">i</text>
<text x="894.10" y="714.30" font-size="26.44" textLength="9.86" lengthAdjust="spacingAndGlyphs">r</text>
<text x="903.54" y="714.40" font-size="26.62" textLength="15.26" lengthAdjust="spacingAndGlyphs">e</text>
<text x="919.25" y="714.40" font-size="26.62" textLength="12.74" lengthAdjust="spacingAndGlyphs">c</text>
<text x="933.55" y="714.09" font-size="27.26" textLength="8.48" lengthAdjust="spacingAndGlyphs">t</text>
<text x="951.55" y="714.30" font-size="26.67" textLength="8.30" lengthAdjust="spacingAndGlyphs">f</text>
<text x="960.52" y="714.30" font-size="26.63" textLength="5.77" lengthAdjust="spacingAndGlyphs">l</text>
<text x="967.31" y="714.39" font-size="27.11" textLength="15.23" lengthAdjust="spacingAndGlyphs">u</text>
<text x="983.44" y="714.30" font-size="26.29" textLength="14.09" lengthAdjust="spacingAndGlyphs">x</text>
<text x="714.89" y="751.42" font-size="26.63" textLength="15.34" lengthAdjust="spacingAndGlyphs">h</text>
<text x="730.98" y="751.52" font-size="26.62" textLength="13.03" lengthAdjust="spacingAndGlyphs">a</text>
<text x="746.58" y="751.42" font-size="26.91" textLength="21.10" lengthAdjust="spacingAndGlyphs">M</text>
<text x="768.31" y="751.51" font-size="27.13" textLength="15.93" lengthAdjust="spacingAndGlyphs">S</text>
<text x="784.62" y="751.42" font-size="26.91" textLength="21.10" lengthAdjust="spacingAndGlyphs">M</text>
<text x="814.85" y="751.21" font-size="27.26" textLength="8.48" lengthAdjust="spacingAndGlyphs">t</text>
<text x="824.86" y="751.42" font-size="26.44" textLength="9.86" lengthAdjust="spacingAndGlyphs">r</text>
<text x="834.97" y="751.52" font-size="26.62" textLength="13.03" lengthAdjust="spacingAndGlyphs">a</text>
<text x="850.81" y="751.42" font-size="26.63" textLength="5.77" lengthAdjust="spacingAndGlyphs">i</text>
<text x="857.70" y="751.42" font-size="26.44" textLength="15.23" lengthAdjust="spacingAndGlyphs">n</text>
<text x="873.97" y="751.42" font-size="26.63" textLength="5.77" lengthAdjust="spacingAndGlyphs">i</text>
<text x="880.86" y="751.42" font-size="26.44" textLength="15.23" lengthAdjust="spacingAndGlyphs">n</text>
<text x="896.71" y="751.26" font-size="26.22" textLength="15.35" lengthAdjust="spacingAndGlyphs">g</text>
<text x="921.77" y="751.42" font-size="26.29" textLength="18.54" lengthAdjust="spacingAndGlyphs">w</text>
<text x="942.09" y="751.42" font-size="26.63" textLength="5.77" lengthAdjust="spacingAndGlyphs">i</text>
<text x="948.98" y="751.42" font-size="26.44" textLength="15.23" lengthAdjust="spacingAndGlyphs">n</text>
<text x="964.84" y="751.52" font-size="26.77" textLength="15.35" lengthAdjust="spacingAndGlyphs">d</text>
<text x="980.98" y="751.52" font-size="26.62" textLength="15.02" lengthAdjust="spacingAndGlyphs">o</text>
<text x="997.36" y="751.42" font-size="26.29" textLength="18.54" lengthAdjust="spacingAndGlyphs">w</text>
<text x="714.58" y="788.54" font-size="26.91" textLength="14.47" lengthAdjust="spacingAndGlyphs">F</text>
<text x="728.58" y="788.64" font-size="26.62" textLength="15.02" lengthAdjust="spacingAndGlyphs">o</text>
<text x="744.25" y="788.54" font-size="26.63" textLength="14.20" lengthAdjust="spacingAndGlyphs">k</text>
<text x="758.96" y="788.54" font-size="26.63" textLength="14.20" lengthAdjust="spacingAndGlyphs">k</text>
<text x="772.72" y="788.64" font-size="26.62" textLength="15.26" lengthAdjust="spacingAndGlyphs">e</text>
<text x="788.82" y="788.54" font-size="26.44" textLength="9.86" lengthAdjust="spacingAndGlyphs">r</text>
<text x="796.99" y="788.50" font-size="26.03" textLength="9.12" lengthAdjust="spacingAndGlyphs">-</text>
<text x="806.35" y="788.54" font-size="26.91" textLength="15.80" lengthAdjust="spacingAndGlyphs">P</text>
<text x="822.09" y="788.54" font-size="26.63" textLength="5.77" lengthAdjust="spacingAndGlyphs">l</text>
<text x="828.88" y="788.64" font-size="26.62" textLength="13.03" lengthAdjust="spacingAndGlyphs">a</text>
<text x="844.56" y="788.54" font-size="26.44" textLength="15.23" lengthAdjust="spacingAndGlyphs">n</text>
<text x="860.48" y="788.64" font-size="26.62" textLength="12.74" lengthAdjust="spacingAndGlyphs">c</text>
<text x="874.52" y="788.54" font-size="26.63" textLength="14.20" lengthAdjust="spacingAndGlyphs">k</text>
<text x="897.35" y="788.54" font-size="26.91" textLength="18.12" lengthAdjust="spacingAndGlyphs">N</text>
<text x="916.29" y="788.63" font-size="27.11" textLength="15.23" lengthAdjust="spacingAndGlyphs">u</text>
<text x="932.40" y="788.54" font-size="26.44" textLength="24.11" lengthAdjust="spacingAndGlyphs">m</text>
<text x="956.99" y="788.64" font-size="26.62" textLength="15.26" lengthAdjust="spacingAndGlyphs">e</text>
<text x="973.09" y="788.54" font-size="26.44" textLength="9.86" lengthAdjust="spacingAndGlyphs">r</text>
<text x="983.48" y="788.54" font-size="26.63" textLength="5.77" lengthAdjust="spacingAndGlyphs">i</text>
<text x="990.20" y="788.64" font-size="26.62" textLength="12.74" lengthAdjust="spacingAndGlyphs">c</text>
<text x="1004.55" y="788.64" font-size="26.69" textLength="12.17" lengthAdjust="spacingAndGlyphs">s</text>
<text x="714.89" y="825.66" font-size="26.63" textLength="15.34" lengthAdjust="spacingAndGlyphs">h</text>
<text x="730.98" y="825.76" font-size="26.62" textLength="13.03" lengthAdjust="spacingAndGlyphs">a</text>
<text x="746.58" y="825.66" font-size="26.91" textLength="21.10" lengthAdjust="spacingAndGlyphs">M</text>
<text x="768.31" y="825.75" font-size="27.13" textLength="15.93" lengthAdjust="spacingAndGlyphs">S</text>
<text x="784.62" y="825.66" font-size="26.91" textLength="21.10" lengthAdjust="spacingAndGlyphs">M</text>
<text x="814.43" y="825.76" font-size="26.62" textLength="15.26" lengthAdjust="spacingAndGlyphs">e</text>
<text x="830.52" y="825.76" font-size="26.69" textLength="12.17" lengthAdjust="spacingAndGlyphs">s</text>
<text x="843.71" y="825.45" font-size="27.26" textLength="8.48" lengthAdjust="spacingAndGlyphs">t</text>
<text x="853.67" y="825.66" font-size="26.63" textLength="5.77" lengthAdjust="spacingAndGlyphs">i</text>
<text x="860.45" y="825.66" font-size="26.44" textLength="24.11" lengthAdjust="spacingAndGlyphs">m</text>
<text x="885.19" y="825.76" font-size="26.62" textLength="13.03" lengthAdjust="spacingAndGlyphs">a</text>
<text x="901.03" y="825.45" font-size="27.26" textLength="8.48" lengthAdjust="spacingAndGlyphs">t</text>
<text x="910.57" y="825.76" font-size="26.62" textLength="15.26" lengthAdjust="spacingAndGlyphs">e</text>
<text x="934.15" y="825.75" font-size="27.13" textLength="17.24" lengthAdjust="spacingAndGlyphs">C</text>
<text x="952.27" y="825.66" font-size="26.91" textLength="17.54" lengthAdjust="spacingAndGlyphs">R</text>
<text x="715.23" y="862.78" font-size="26.91" textLength="23.64" lengthAdjust="spacingAndGlyphs">W</text>
<text x="739.71" y="862.78" font-size="26.91" textLength="15.80" lengthAdjust="spacingAndGlyphs">E</text>
<text x="764.44" y="862.88" font-size="26.69" textLength="12.17" lengthAdjust="spacingAndGlyphs">s</text>
<text x="777.63" y="862.78" font-size="26.63" textLength="5.77" lengthAdjust="spacingAndGlyphs">i</text>
<text x="784.41" y="862.78" font-size="26.44" textLength="24.11" lengthAdjust="spacingAndGlyphs">m</text>
<text x="809.15" y="862.87" font-size="27.11" textLength="15.23" lengthAdjust="spacingAndGlyphs">u</text>
<text x="825.51" y="862.78" font-size="26.63" textLength="5.77" lengthAdjust="spacingAndGlyphs">l</text>
<text x="832.30" y="862.88" font-size="26.62" textLength="13.03" lengthAdjust="spacingAndGlyphs">a</text>
<text x="848.15" y="862.57" font-size="27.26" textLength="8.48" lengthAdjust="spacingAndGlyphs">t</text>
<text x="858.11" y="862.78" font-size="26.63" textLength="5.77" lengthAdjust="spacingAndGlyphs">i</text>
<text x="864.77" y="862.88" font-size="26.62" textLength="15.02" lengthAdjust="spacingAndGlyphs">o</text>
<text x="880.53" y="862.78" font-size="26.44" textLength="15.23" lengthAdjust="spacingAndGlyphs">n</text>
<text x="904.46" y="862.88" font-size="26.77" textLength="15.35" lengthAdjust="spacingAndGlyphs">d</text>
<text x="921.00" y="862.78" font-size="26.63" textLength="5.77" lengthAdjust="spacingAndGlyphs">i</text>
<text x="928.11" y="862.78" font-size="26.44" textLength="9.86" lengthAdjust="spacingAndGlyphs">r</text>
<text x="937.55" y="862.88" font-size="26.62" textLength="15.26" lengthAdjust="spacingAndGlyphs">e</text>
<text x="953.26" y="862.88" font-size="26.62" textLength="12.74" lengthAdjust="spacingAndGlyphs">c</text>
<text x="967.56" y="862.57" font-size="27.26" textLength="8.48" lengthAdjust="spacingAndGlyphs">t</text>
<text x="985.56" y="862.78" font-size="26.67" textLength="8.30" lengthAdjust="spacingAndGlyphs">f</text>
<text x="994.52" y="862.78" font-size="26.63" textLength="5.77" lengthAdjust="spacingAndGlyphs">l</text>
<text x="1001.32" y="862.87" font-size="27.11" textLength="15.23" lengthAdjust="spacingAndGlyphs">u</text>
<text x="1017.45" y="862.78" font-size="26.29" textLength="14.09" lengthAdjust="spacingAndGlyphs">x</text>
<text x="1040.26" y="862.87" font-size="27.13" textLength="17.24" lengthAdjust="spacingAndGlyphs">C</text>
<text x="1058.38" y="862.78" font-size="26.91" textLength="17.54" lengthAdjust="spacingAndGlyphs">R</text>
<text x="715.23" y="899.90" font-size="26.91" textLength="23.64" lengthAdjust="spacingAndGlyphs">W</text>
<text x="739.71" y="899.90" font-size="26.91" textLength="15.80" lengthAdjust="spacingAndGlyphs">E</text>
<text x="764.44" y="899.90" font-size="26.44" textLength="9.86" lengthAdjust="spacingAndGlyphs">r</text>
<text x="773.89" y="900.00" font-size="26.62" textLength="15.26" lengthAdjust="spacingAndGlyphs">e</text>
<text x="790.38" y="899.90" font-size="26.29" textLength="18.54" lengthAdjust="spacingAndGlyphs">w</text>
<text x="810.29" y="900.00" font-size="26.62" textLength="15.26" lengthAdjust="spacingAndGlyphs">e</text>
<text x="826.34" y="899.90" font-size="26.63" textLength="5.77" lengthAdjust="spacingAndGlyphs">i</text>
<text x="832.98" y="899.74" font-size="26.22" textLength="15.35" lengthAdjust="spacingAndGlyphs">g</text>
<text x="849.25" y="899.90" font-size="26.63" textLength="15.34" lengthAdjust="spacingAndGlyphs">h</text>
<text x="865.61" y="899.69" font-size="27.26" textLength="8.48" lengthAdjust="spacingAndGlyphs">t</text>
<text x="875.15" y="900.00" font-size="26.62" textLength="15.26" lengthAdjust="spacingAndGlyphs">e</text>
<text x="890.79" y="900.00" font-size="26.77" textLength="15.35" lengthAdjust="spacingAndGlyphs">d</text>
<text x="915.44" y="900.00" font-size="26.69" textLength="12.17" lengthAdjust="spacingAndGlyphs">s</text>
<text x="928.63" y="899.90" font-size="26.63" textLength="5.77" lengthAdjust="spacingAndGlyphs">i</text>
<text x="935.42" y="899.90" font-size="26.44" textLength="24.11" lengthAdjust="spacingAndGlyphs">m</text>
<text x="960.15" y="899.99" font-size="27.11" textLength="15.23" lengthAdjust="spacingAndGlyphs">u</text>
<text x="976.52" y="899.90" font-size="26.63" textLength="5.77" lengthAdjust="spacingAndGlyphs">l</text>
<text x="983.31" y="900.00" font-size="26.62" textLength="13.03" lengthAdjust="spacingAndGlyphs">a</text>
<text x="999.15" y="899.69" font-size="27.26" textLength="8.48" lengthAdjust="spacingAndGlyphs">t</text>
<text x="1009.11" y="899.90" font-size="26.63" textLength="5.77" lengthAdjust="spacingAndGlyphs">i</text>
<text x="1015.78" y="900.00" font-size="26.62" textLength="15.02" lengthAdjust="spacingAndGlyphs">o</text>
<text x="1031.54" y="899.90" font-size="26.44" textLength="15.23" lengthAdjust="spacingAndGlyphs">n</text>
<text x="1055.46" y="900.00" font-size="26.77" textLength="15.35" lengthAdjust="spacingAndGlyphs">d</text>
<text x="1072.00" y="899.90" font-size="26.63" textLength="5.77" lengthAdjust="spacingAndGlyphs">i</text>
<text x="1079.11" y="899.90" font-size="26.44" textLength="9.86" lengthAdjust="spacingAndGlyphs">r</text>
<text x="1088.55" y="900.00" font-size="26.62" textLength="15.26" lengthAdjust="spacingAndGlyphs">e</text>
<text x="1104.26" y="900.00" font-size="26.62" textLength="12.74" lengthAdjust="spacingAndGlyphs">c</text>
<text x="1118.56" y="899.69" font-size="27.26" textLength="8.48" lengthAdjust="spacingAndGlyphs">t</text>
<text x="1136.56" y="899.90" font-size="26.67" textLength="8.30" lengthAdjust="spacingAndGlyphs">f</text>
<text x="1145.53" y="899.90" font-size="26.63" textLength="5.77" lengthAdjust="spacingAndGlyphs">l</text>
<text x="1152.32" y="899.99" font-size="27.11" textLength="15.23" lengthAdjust="spacingAndGlyphs">u</text>
<text x="1168.45" y="899.90" font-size="26.29" textLength="14.09" lengthAdjust="spacingAndGlyphs">x</text>
<text x="1191.26" y="899.99" font-size="27.13" textLength="17.24" lengthAdjust="spacingAndGlyphs">C</text>
<text x="1209.38" y="899.90" font-size="26.91" textLength="17.54" lengthAdjust="spacingAndGlyphs">R</text>
<text x="10.54" y="1092.80" font-size="80.82" textLength="52.51" lengthAdjust="spacingAndGlyphs">B</text>
<g clip-path="url(#cB)">
<path d="M152.2 1820.3 L176.6 1808.1 L176.6 1832.5 Z" fill="#000" stroke="#000" stroke-width="2.6"/>
<path d="M175.3 1806.8 L199.7 1794.6 L199.7 1819 Z" fill="#000" stroke="#000" stroke-width="2.6"/>
<path d="M198.3 1794.2 L222.7 1782 L222.7 1806.4 Z" fill="#000" stroke="#000" stroke-width="2.6"/>
<path d="M221.4 1772.7 L245.8 1760.5 L245.8 1784.9 Z" fill="#000" stroke="#000" stroke-width="2.6"/>
<path d="M244.4 1756.4 L268.8 1744.2 L268.8 1768.6 Z" fill="#000" stroke="#000" stroke-width="2.6"/>
<path d="M267.5 1732.3 L291.9 1720.1 L291.9 1744.5 Z" fill="#000" stroke="#000" stroke-width="2.6"/>
<path d="M290.5 1717.6 L314.9 1705.4 L314.9 1729.8 Z" fill="#000" stroke="#000" stroke-width="2.6"/>
<path d="M313.6 1691.9 L338 1679.7 L338 1704.1 Z" fill="#000" stroke="#000" stroke-width="2.6"/>
<path d="M336.6 1681 L361 1668.8 L361 1693.2 Z" fill="#000" stroke="#000" stroke-width="2.6"/>
<path d="M359.7 1653.4 L384.1 1641.2 L384.1 1665.6 Z" fill="#000" stroke="#000" stroke-width="2.6"/>
<path d="M382.7 1629.1 L407.1 1616.9 L407.1 1641.3 Z" fill="#000" stroke="#000" stroke-width="2.6"/>
<path d="M405.8 1612.5 L430.2 1600.3 L430.2 1624.7 Z" fill="#000" stroke="#000" stroke-width="2.6"/>
<path d="M428.8 1593.8 L453.2 1581.6 L453.2 1606 Z" fill="#000" stroke="#000" stroke-width="2.6"/>
<path d="M451.9 1568.1 L476.3 1555.9 L476.3 1580.3 Z" fill="#000" stroke="#000" stroke-width="2.6"/>
<path d="M474.9 1536.6 L499.3 1524.4 L499.3 1548.8 Z" fill="#000" stroke="#000" stroke-width="2.6"/>
<path d="M498 1518.9 L522.4 1506.7 L522.4 1531.1 Z" fill="#000" stroke="#000" stroke-width="2.6"/>
<path d="M521 1501.1 L545.4 1488.9 L545.4 1513.3 Z" fill="#000" stroke="#000" stroke-width="2.6"/>
<path d="M544.1 1487.8 L568.5 1475.6 L568.5 1500 Z" fill="#000" stroke="#000" stroke-width="2.6"/>
<path d="M567.1 1475.9 L591.5 1463.7 L591.5 1488.1 Z" fill="#000" stroke="#000" stroke-width="2.6"/>
<path d="M590.2 1463.5 L614.6 1451.3 L614.6 1475.7 Z" fill="#000" stroke="#000" stroke-width="2.6"/>
<path d="M613.2 1449.5 L637.6 1437.3 L637.6 1461.7 Z" fill="#000" stroke="#000" stroke-width="2.6"/>
<path d="M636.3 1437.1 L660.7 1424.9 L660.7 1449.3 Z" fill="#000" stroke="#000" stroke-width="2.6"/>
<path d="M659.3 1426.3 L683.7 1414.1 L683.7 1438.5 Z" fill="#000" stroke="#000" stroke-width="2.6"/>
<path d="M682.4 1416.5 L706.8 1404.3 L706.8 1428.7 Z" fill="#000" stroke="#000" stroke-width="2.6"/>
<path d="M705.4 1406.9 L729.8 1394.7 L729.8 1419.1 Z" fill="#000" stroke="#000" stroke-width="2.6"/>
<path d="M728.5 1398.3 L752.9 1386.1 L752.9 1410.5 Z" fill="#000" stroke="#000" stroke-width="2.6"/>
<path d="M751.5 1388.2 L775.9 1376 L775.9 1400.4 Z" fill="#000" stroke="#000" stroke-width="2.6"/>
<path d="M774.6 1373.7 L799 1361.5 L799 1385.9 Z" fill="#000" stroke="#000" stroke-width="2.6"/>
<path d="M797.6 1359.5 L822 1347.3 L822 1371.7 Z" fill="#000" stroke="#000" stroke-width="2.6"/>
<path d="M820.7 1343.6 L845.1 1331.4 L845.1 1355.8 Z" fill="#000" stroke="#000" stroke-width="2.6"/>
<path d="M843.7 1327.5 L868.1 1315.3 L868.1 1339.7 Z" fill="#000" stroke="#000" stroke-width="2.6"/>
<path d="M866.8 1313 L891.2 1300.8 L891.2 1325.2 Z" fill="#000" stroke="#000" stroke-width="2.6"/>
<path d="M889.8 1295.4 L914.2 1283.2 L914.2 1307.6 Z" fill="#000" stroke="#000" stroke-width="2.6"/>
<path d="M912.9 1278 L937.3 1265.8 L937.3 1290.2 Z" fill="#000" stroke="#000" stroke-width="2.6"/>
<path d="M935.9 1261 L960.3 1248.8 L960.3 1273.2 Z" fill="#000" stroke="#000" stroke-width="2.6"/>
<path d="M959 1244.2 L983.4 1232 L983.4 1256.4 Z" fill="#000" stroke="#000" stroke-width="2.6"/>
<path d="M982 1224.6 L1006.4 1212.4 L1006.4 1236.8 Z" fill="#000" stroke="#000" stroke-width="2.6"/>
<path d="M1005.1 1208.4 L1029.5 1196.2 L1029.5 1220.6 Z" fill="#000" stroke="#000" stroke-width="2.6"/>
<path d="M1028.1 1200.3 L1052.5 1188.1 L1052.5 1212.5 Z" fill="#000" stroke="#000" stroke-width="2.6"/>
<path d="M1051.2 1196 L1075.6 1183.8 L1075.6 1208.2 Z" fill="#000" stroke="#000" stroke-width="2.6"/>
<path d="M1074.2 1193.4 L1098.6 1181.2 L1098.6 1205.6 Z" fill="#000" stroke="#000" stroke-width="2.6"/>
<path d="M1097.3 1190.3 L1121.7 1178.1 L1121.7 1202.5 Z" fill="#000" stroke="#000" stroke-width="2.6"/>
<path d="M1120.3 1187.4 L1144.7 1175.2 L1144.7 1199.6 Z" fill="#000" stroke="#000" stroke-width="2.6"/>
<path d="M1143.4 1183 L1167.8 1170.8 L1167.8 1195.2 Z" fill="#000" stroke="#000" stroke-width="2.6"/>
<path d="M1166.4 1174.3 L1190.8 1162.1 L1190.8 1186.5 Z" fill="#000" stroke="#000" stroke-width="2.6"/>
<path d="M1189.5 1155.9 L1213.9 1143.7 L1213.9 1168.1 Z" fill="#000" stroke="#000" stroke-width="2.6"/>
<path d="M1212.5 1161.3 L1236.9 1149.1 L1236.9 1173.5 Z" fill="#000" stroke="#000" stroke-width="2.6"/>
<path d="M1235.6 1247 L1260 1234.8 L1260 1259.2 Z" fill="#000" stroke="#000" stroke-width="2.6"/>
<path d="M1190.8 1317.7 L1166.4 1305.5 L1166.4 1329.9 Z" fill="none" stroke="#b00000" stroke-width="2.6"/>
<path d="M1260 1289 L1235.6 1276.8 L1235.6 1301.2 Z" fill="none" stroke="#b00000" stroke-width="2.6"/>
<path d="M822 1218 L797.6 1205.8 L797.6 1230.2 Z" fill="none" stroke="#ff0000" stroke-width="2.6"/>
<path d="M845.1 1181.1 L820.7 1168.9 L820.7 1193.3 Z" fill="none" stroke="#ff0000" stroke-width="2.6"/>
<path d="M868.1 1177 L843.7 1164.8 L843.7 1189.2 Z" fill="none" stroke="#ff0000" stroke-width="2.6"/>
<path d="M891.2 1181.1 L866.8 1168.9 L866.8 1193.3 Z" fill="none" stroke="#ff0000" stroke-width="2.6"/>
<path d="M914.2 1191.1 L889.8 1178.9 L889.8 1203.3 Z" fill="none" stroke="#ff0000" stroke-width="2.6"/>
<path d="M937.3 1193.6 L912.9 1181.4 L912.9 1205.8 Z" fill="none" stroke="#ff0000" stroke-width="2.6"/>
<path d="M960.3 1206.1 L935.9 1193.9 L935.9 1218.3 Z" fill="none" stroke="#ff0000" stroke-width="2.6"/>
<path d="M983.4 1202 L959 1189.8 L959 1214.2 Z" fill="none" stroke="#ff0000" stroke-width="2.6"/>
<path d="M1006.4 1218 L982 1205.8 L982 1230.2 Z" fill="none" stroke="#ff0000" stroke-width="2.6"/>
<path d="M1029.5 1227.4 L1005.1 1215.2 L1005.1 1239.6 Z" fill="none" stroke="#ff0000" stroke-width="2.6"/>
<path d="M1052.5 1241.1 L1028.1 1228.9 L1028.1 1253.3 Z" fill="none" stroke="#ff0000" stroke-width="2.6"/>
<path d="M1075.6 1257.2 L1051.2 1245 L1051.2 1269.4 Z" fill="none" stroke="#ff0000" stroke-width="2.6"/>
<path d="M1098.6 1274.2 L1074.2 1262 L1074.2 1286.4 Z" fill="none" stroke="#ff0000" stroke-width="2.6"/>
<path d="M1121.7 1299.5 L1097.3 1287.3 L1097.3 1311.7 Z" fill="none" stroke="#ff0000" stroke-width="2.6"/>
<path d="M1144.7 1315.6 L1120.3 1303.4 L1120.3 1327.8 Z" fill="none" stroke="#ff0000" stroke-width="2.6"/>
<path d="M1167.8 1321.9 L1143.4 1309.7 L1143.4 1334.1 Z" fill="none" stroke="#ff0000" stroke-width="2.6"/>
<path d="M1213.9 1290.2 L1189.5 1278 L1189.5 1302.4 Z" fill="none" stroke="#ff0000" stroke-width="2.6"/>
<path d="M1260 1228.9 L1235.6 1216.7 L1235.6 1241.1 Z" fill="none" stroke="#ff0000" stroke-width="2.6"/>
<path d="M891.2 1378.2 L866.8 1366 L866.8 1390.4 Z" fill="none" stroke="#d00000" stroke-width="2.6"/>
<path d="M914.2 1281.4 L889.8 1269.2 L889.8 1293.6 Z" fill="none" stroke="#d00000" stroke-width="2.6"/>
<path d="M937.3 1241.7 L912.9 1229.5 L912.9 1253.9 Z" fill="none" stroke="#d00000" stroke-width="2.6"/>
<path d="M960.3 1253 L935.9 1240.8 L935.9 1265.2 Z" fill="none" stroke="#d00000" stroke-width="2.6"/>
<path d="M983.4 1249.5 L959 1237.3 L959 1261.7 Z" fill="none" stroke="#d00000" stroke-width="2.6"/>
<path d="M1006.4 1263.5 L982 1251.3 L982 1275.7 Z" fill="none" stroke="#d00000" stroke-width="2.6"/>
<path d="M1029.5 1288.4 L1005.1 1276.2 L1005.1 1300.6 Z" fill="none" stroke="#d00000" stroke-width="2.6"/>
<path d="M1052.5 1282 L1028.1 1269.8 L1028.1 1294.2 Z" fill="none" stroke="#d00000" stroke-width="2.6"/>
<path d="M1075.6 1278 L1051.2 1265.8 L1051.2 1290.2 Z" fill="none" stroke="#d00000" stroke-width="2.6"/>
<path d="M1098.6 1291 L1074.2 1278.8 L1074.2 1303.2 Z" fill="none" stroke="#d00000" stroke-width="2.6"/>
<path d="M1121.7 1293.9 L1097.3 1281.7 L1097.3 1306.1 Z" fill="none" stroke="#d00000" stroke-width="2.6"/>
<path d="M1144.7 1306 L1120.3 1293.8 L1120.3 1318.2 Z" fill="none" stroke="#d00000" stroke-width="2.6"/>
<path d="M1167.8 1316.3 L1143.4 1304.1 L1143.4 1328.5 Z" fill="none" stroke="#d00000" stroke-width="2.6"/>
<path d="M1190.8 1288.1 L1166.4 1275.9 L1166.4 1300.3 Z" fill="none" stroke="#d00000" stroke-width="2.6"/>
<path d="M111.9 1254 L136.3 1241.8 L136.3 1266.2 Z" fill="#ff0000" stroke="#ff0000" stroke-width="2.6"/>
<path d="M129.2 1254.2 L153.6 1242 L153.6 1266.4 Z" fill="#ff0000" stroke="#ff0000" stroke-width="2.6"/>
<path d="M152.2 1253.8 L176.6 1241.6 L176.6 1266 Z" fill="#ff0000" stroke="#ff0000" stroke-width="2.6"/>
<path d="M175.3 1253.8 L199.7 1241.6 L199.7 1266 Z" fill="#ff0000" stroke="#ff0000" stroke-width="2.6"/>
<path d="M198.3 1253.4 L222.7 1241.2 L222.7 1265.6 Z" fill="#ff0000" stroke="#ff0000" stroke-width="2.6"/>
<path d="M221.4 1252.8 L245.8 1240.6 L245.8 1265 Z" fill="#ff0000" stroke="#ff0000" stroke-width="2.6"/>
<path d="M244.4 1252 L268.8 1239.8 L268.8 1264.2 Z" fill="#ff0000" stroke="#ff0000" stroke-width="2.6"/>
<path d="M267.5 1251 L291.9 1238.8 L291.9 1263.2 Z" fill="#ff0000" stroke="#ff0000" stroke-width="2.6"/>
<path d="M290.5 1249.1 L314.9 1236.9 L314.9 1261.3 Z" fill="#ff0000" stroke="#ff0000" stroke-width="2.6"/>
<path d="M313.6 1247 L338 1234.8 L338 1259.2 Z" fill="#ff0000" stroke="#ff0000" stroke-width="2.6"/>
<path d="M336.6 1243.5 L361 1231.3 L361 1255.7 Z" fill="#ff0000" stroke="#ff0000" stroke-width="2.6"/>
<path d="M359.7 1237.4 L384.1 1225.2 L384.1 1249.6 Z" fill="#ff0000" stroke="#ff0000" stroke-width="2.6"/>
<path d="M382.7 1232 L407.1 1219.8 L407.1 1244.2 Z" fill="#ff0000" stroke="#ff0000" stroke-width="2.6"/>
<path d="M405.8 1227 L430.2 1214.8 L430.2 1239.2 Z" fill="#ff0000" stroke="#ff0000" stroke-width="2.6"/>
<path d="M428.8 1222 L453.2 1209.8 L453.2 1234.2 Z" fill="#ff0000" stroke="#ff0000" stroke-width="2.6"/>
<path d="M451.9 1217 L476.3 1204.8 L476.3 1229.2 Z" fill="#ff0000" stroke="#ff0000" stroke-width="2.6"/>
<path d="M474.9 1207.3 L499.3 1195.1 L499.3 1219.5 Z" fill="#ff0000" stroke="#ff0000" stroke-width="2.6"/>
<path d="M498 1200 L522.4 1187.8 L522.4 1212.2 Z" fill="#ff0000" stroke="#ff0000" stroke-width="2.6"/>
<path d="M521 1194 L545.4 1181.8 L545.4 1206.2 Z" fill="#ff0000" stroke="#ff0000" stroke-width="2.6"/>
<path d="M544.1 1188 L568.5 1175.8 L568.5 1200.2 Z" fill="#ff0000" stroke="#ff0000" stroke-width="2.6"/>
<path d="M567.1 1183 L591.5 1170.8 L591.5 1195.2 Z" fill="#ff0000" stroke="#ff0000" stroke-width="2.6"/>
<path d="M590.2 1175 L614.6 1162.8 L614.6 1187.2 Z" fill="#ff0000" stroke="#ff0000" stroke-width="2.6"/>
<path d="M613.2 1164.6 L637.6 1152.4 L637.6 1176.8 Z" fill="#ff0000" stroke="#ff0000" stroke-width="2.6"/>
<path d="M636.3 1160.5 L660.7 1148.3 L660.7 1172.7 Z" fill="#ff0000" stroke="#ff0000" stroke-width="2.6"/>
<path d="M659.3 1157 L683.7 1144.8 L683.7 1169.2 Z" fill="#ff0000" stroke="#ff0000" stroke-width="2.6"/>
<path d="M682.4 1156 L706.8 1143.8 L706.8 1168.2 Z" fill="#ff0000" stroke="#ff0000" stroke-width="2.6"/>
<path d="M705.4 1157.3 L729.8 1145.1 L729.8 1169.5 Z" fill="#ff0000" stroke="#ff0000" stroke-width="2.6"/>
<path d="M728.5 1161 L752.9 1148.8 L752.9 1173.2 Z" fill="#ff0000" stroke="#ff0000" stroke-width="2.6"/>
<path d="M751.5 1175.8 L775.9 1163.6 L775.9 1188 Z" fill="#ff0000" stroke="#ff0000" stroke-width="2.6"/>
<path d="M774.6 1219.4 L799 1207.2 L799 1231.6 Z" fill="#ff0000" stroke="#ff0000" stroke-width="2.6"/>
<path d="M1212.5 1336.2 L1236.9 1324 L1236.9 1348.4 Z" fill="#ff0000" stroke="#ff0000" stroke-width="2.6"/>
<path d="M111.9 1228.5 L136.3 1216.3 L136.3 1240.7 Z" fill="#d00000" stroke="#d00000" stroke-width="2.6"/>
<path d="M129.2 1227.5 L153.6 1215.3 L153.6 1239.7 Z" fill="#d00000" stroke="#d00000" stroke-width="2.6"/>
<path d="M152.2 1225.4 L176.6 1213.2 L176.6 1237.6 Z" fill="#d00000" stroke="#d00000" stroke-width="2.6"/>
<path d="M175.3 1225.4 L199.7 1213.2 L199.7 1237.6 Z" fill="#d00000" stroke="#d00000" stroke-width="2.6"/>
<path d="M198.3 1225.4 L222.7 1213.2 L222.7 1237.6 Z" fill="#d00000" stroke="#d00000" stroke-width="2.6"/>
<path d="M221.4 1225.4 L245.8 1213.2 L245.8 1237.6 Z" fill="#d00000" stroke="#d00000" stroke-width="2.6"/>
<path d="M244.4 1225.5 L268.8 1213.3 L268.8 1237.7 Z" fill="#d00000" stroke="#d00000" stroke-width="2.6"/>
<path d="M267.5 1225.5 L291.9 1213.3 L291.9 1237.7 Z" fill="#d00000" stroke="#d00000" stroke-width="2.6"/>
<path d="M290.5 1224.8 L314.9 1212.6 L314.9 1237 Z" fill="#d00000" stroke="#d00000" stroke-width="2.6"/>
<path d="M313.6 1223.8 L338 1211.6 L338 1236 Z" fill="#d00000" stroke="#d00000" stroke-width="2.6"/>
<path d="M336.6 1223 L361 1210.8 L361 1235.2 Z" fill="#d00000" stroke="#d00000" stroke-width="2.6"/>
<path d="M359.7 1222 L384.1 1209.8 L384.1 1234.2 Z" fill="#d00000" stroke="#d00000" stroke-width="2.6"/>
<path d="M382.7 1221 L407.1 1208.8 L407.1 1233.2 Z" fill="#d00000" stroke="#d00000" stroke-width="2.6"/>
<path d="M405.8 1220.3 L430.2 1208.1 L430.2 1232.5 Z" fill="#d00000" stroke="#d00000" stroke-width="2.6"/>
<path d="M428.8 1223.4 L453.2 1211.2 L453.2 1235.6 Z" fill="#d00000" stroke="#d00000" stroke-width="2.6"/>
<path d="M451.9 1220 L476.3 1207.8 L476.3 1232.2 Z" fill="#d00000" stroke="#d00000" stroke-width="2.6"/>
<path d="M474.9 1220.5 L499.3 1208.3 L499.3 1232.7 Z" fill="#d00000" stroke="#d00000" stroke-width="2.6"/>
<path d="M498 1223 L522.4 1210.8 L522.4 1235.2 Z" fill="#d00000" stroke="#d00000" stroke-width="2.6"/>
<path d="M521 1226 L545.4 1213.8 L545.4 1238.2 Z" fill="#d00000" stroke="#d00000" stroke-width="2.6"/>
<path d="M544.1 1226.4 L568.5 1214.2 L568.5 1238.6 Z" fill="#d00000" stroke="#d00000" stroke-width="2.6"/>
<path d="M567.1 1225 L591.5 1212.8 L591.5 1237.2 Z" fill="#d00000" stroke="#d00000" stroke-width="2.6"/>
<path d="M590.2 1210 L614.6 1197.8 L614.6 1222.2 Z" fill="#d00000" stroke="#d00000" stroke-width="2.6"/>
<path d="M613.2 1191.4 L637.6 1179.2 L637.6 1203.6 Z" fill="#d00000" stroke="#d00000" stroke-width="2.6"/>
<path d="M636.3 1192.8 L660.7 1180.6 L660.7 1205 Z" fill="#d00000" stroke="#d00000" stroke-width="2.6"/>
<path d="M659.3 1193.3 L683.7 1181.1 L683.7 1205.5 Z" fill="#d00000" stroke="#d00000" stroke-width="2.6"/>
<path d="M682.4 1194.9 L706.8 1182.7 L706.8 1207.1 Z" fill="#d00000" stroke="#d00000" stroke-width="2.6"/>
<path d="M705.4 1201.2 L729.8 1189 L729.8 1213.4 Z" fill="#d00000" stroke="#d00000" stroke-width="2.6"/>
<path d="M728.5 1206.5 L752.9 1194.3 L752.9 1218.7 Z" fill="#d00000" stroke="#d00000" stroke-width="2.6"/>
<path d="M751.5 1213.2 L775.9 1201 L775.9 1225.4 Z" fill="#d00000" stroke="#d00000" stroke-width="2.6"/>
<path d="M774.6 1215 L799 1202.8 L799 1227.2 Z" fill="#d00000" stroke="#d00000" stroke-width="2.6"/>
<path d="M1189.5 1279.3 L1213.9 1267.1 L1213.9 1291.5 Z" fill="#d00000" stroke="#d00000" stroke-width="2.6"/>
<path d="M1212.5 1282.8 L1236.9 1270.6 L1236.9 1295 Z" fill="#d00000" stroke="#d00000" stroke-width="2.6"/>
<path d="M111.9 1224.3 L136.3 1212.1 L136.3 1236.5 Z" fill="#8b0000" stroke="#8b0000" stroke-width="2.6"/>
<path d="M129.2 1224.4 L153.6 1212.2 L153.6 1236.6 Z" fill="#8b0000" stroke="#8b0000" stroke-width="2.6"/>
<path d="M152.2 1224.4 L176.6 1212.2 L176.6 1236.6 Z" fill="#8b0000" stroke="#8b0000" stroke-width="2.6"/>
<path d="M175.3 1224.6 L199.7 1212.4 L199.7 1236.8 Z" fill="#8b0000" stroke="#8b0000" stroke-width="2.6"/>
<path d="M198.3 1224.6 L222.7 1212.4 L222.7 1236.8 Z" fill="#8b0000" stroke="#8b0000" stroke-width="2.6"/>
<path d="M221.4 1224.8 L245.8 1212.6 L245.8 1237 Z" fill="#8b0000" stroke="#8b0000" stroke-width="2.6"/>
<path d="M244.4 1225.3 L268.8 1213.1 L268.8 1237.5 Z" fill="#8b0000" stroke="#8b0000" stroke-width="2.6"/>
<path d="M267.5 1225.3 L291.9 1213.1 L291.9 1237.5 Z" fill="#8b0000" stroke="#8b0000" stroke-width="2.6"/>
<path d="M290.5 1227 L314.9 1214.8 L314.9 1239.2 Z" fill="#8b0000" stroke="#8b0000" stroke-width="2.6"/>
<path d="M313.6 1228.3 L338 1216.1 L338 1240.5 Z" fill="#8b0000" stroke="#8b0000" stroke-width="2.6"/>
<path d="M336.6 1228.3 L361 1216.1 L361 1240.5 Z" fill="#8b0000" stroke="#8b0000" stroke-width="2.6"/>
<path d="M359.7 1231 L384.1 1218.8 L384.1 1243.2 Z" fill="#8b0000" stroke="#8b0000" stroke-width="2.6"/>
<path d="M382.7 1234 L407.1 1221.8 L407.1 1246.2 Z" fill="#8b0000" stroke="#8b0000" stroke-width="2.6"/>
<path d="M405.8 1235.3 L430.2 1223.1 L430.2 1247.5 Z" fill="#8b0000" stroke="#8b0000" stroke-width="2.6"/>
<path d="M428.8 1235.5 L453.2 1223.3 L453.2 1247.7 Z" fill="#8b0000" stroke="#8b0000" stroke-width="2.6"/>
<path d="M451.9 1240.5 L476.3 1228.3 L476.3 1252.7 Z" fill="#8b0000" stroke="#8b0000" stroke-width="2.6"/>
<path d="M474.9 1243 L499.3 1230.8 L499.3 1255.2 Z" fill="#8b0000" stroke="#8b0000" stroke-width="2.6"/>
<path d="M498 1253.5 L522.4 1241.3 L522.4 1265.7 Z" fill="#8b0000" stroke="#8b0000" stroke-width="2.6"/>
<path d="M521 1257 L545.4 1244.8 L545.4 1269.2 Z" fill="#8b0000" stroke="#8b0000" stroke-width="2.6"/>
<path d="M544.1 1271 L568.5 1258.8 L568.5 1283.2 Z" fill="#8b0000" stroke="#8b0000" stroke-width="2.6"/>
<path d="M567.1 1283.3 L591.5 1271.1 L591.5 1295.5 Z" fill="#8b0000" stroke="#8b0000" stroke-width="2.6"/>
<path d="M590.2 1256.5 L614.6 1244.3 L614.6 1268.7 Z" fill="#8b0000" stroke="#8b0000" stroke-width="2.6"/>
<path d="M613.2 1216.5 L637.6 1204.3 L637.6 1228.7 Z" fill="#8b0000" stroke="#8b0000" stroke-width="2.6"/>
<path d="M636.3 1210.5 L660.7 1198.3 L660.7 1222.7 Z" fill="#8b0000" stroke="#8b0000" stroke-width="2.6"/>
<path d="M659.3 1214.7 L683.7 1202.5 L683.7 1226.9 Z" fill="#8b0000" stroke="#8b0000" stroke-width="2.6"/>
<path d="M682.4 1217.1 L706.8 1204.9 L706.8 1229.3 Z" fill="#8b0000" stroke="#8b0000" stroke-width="2.6"/>
<path d="M705.4 1224.3 L729.8 1212.1 L729.8 1236.5 Z" fill="#8b0000" stroke="#8b0000" stroke-width="2.6"/>
<path d="M728.5 1226.9 L752.9 1214.7 L752.9 1239.1 Z" fill="#8b0000" stroke="#8b0000" stroke-width="2.6"/>
<path d="M751.5 1227.6 L775.9 1215.4 L775.9 1239.8 Z" fill="#8b0000" stroke="#8b0000" stroke-width="2.6"/>
<path d="M774.6 1226.5 L799 1214.3 L799 1238.7 Z" fill="#8b0000" stroke="#8b0000" stroke-width="2.6"/>
<path d="M797.6 1231.5 L822 1219.3 L822 1243.7 Z" fill="#8b0000" stroke="#8b0000" stroke-width="2.6"/>
<path d="M820.7 1244.2 L845.1 1232 L845.1 1256.4 Z" fill="#8b0000" stroke="#8b0000" stroke-width="2.6"/>
<path d="M843.7 1251.5 L868.1 1239.3 L868.1 1263.7 Z" fill="#8b0000" stroke="#8b0000" stroke-width="2.6"/>
<path d="M866.8 1240 L891.2 1227.8 L891.2 1252.2 Z" fill="#8b0000" stroke="#8b0000" stroke-width="2.6"/>
<path d="M889.8 1248.5 L914.2 1236.3 L914.2 1260.7 Z" fill="#8b0000" stroke="#8b0000" stroke-width="2.6"/>
<path d="M912.9 1266 L937.3 1253.8 L937.3 1278.2 Z" fill="#8b0000" stroke="#8b0000" stroke-width="2.6"/>
<path d="M935.9 1258.4 L960.3 1246.2 L960.3 1270.6 Z" fill="#8b0000" stroke="#8b0000" stroke-width="2.6"/>
<path d="M959 1265.8 L983.4 1253.6 L983.4 1278 Z" fill="#8b0000" stroke="#8b0000" stroke-width="2.6"/>
<path d="M982 1252.5 L1006.4 1240.3 L1006.4 1264.7 Z" fill="#8b0000" stroke="#8b0000" stroke-width="2.6"/>
<path d="M1005.1 1262.3 L1029.5 1250.1 L1029.5 1274.5 Z" fill="#8b0000" stroke="#8b0000" stroke-width="2.6"/>
<path d="M1028.1 1276.1 L1052.5 1263.9 L1052.5 1288.3 Z" fill="#8b0000" stroke="#8b0000" stroke-width="2.6"/>
<path d="M1051.2 1279.5 L1075.6 1267.3 L1075.6 1291.7 Z" fill="#8b0000" stroke="#8b0000" stroke-width="2.6"/>
<path d="M1074.2 1283.5 L1098.6 1271.3 L1098.6 1295.7 Z" fill="#8b0000" stroke="#8b0000" stroke-width="2.6"/>
<path d="M1097.3 1275.8 L1121.7 1263.6 L1121.7 1288 Z" fill="#8b0000" stroke="#8b0000" stroke-width="2.6"/>
<path d="M1120.3 1278 L1144.7 1265.8 L1144.7 1290.2 Z" fill="#8b0000" stroke="#8b0000" stroke-width="2.6"/>
<path d="M1143.4 1262.7 L1167.8 1250.5 L1167.8 1274.9 Z" fill="#8b0000" stroke="#8b0000" stroke-width="2.6"/>
<path d="M1166.4 1255.7 L1190.8 1243.5 L1190.8 1267.9 Z" fill="#8b0000" stroke="#8b0000" stroke-width="2.6"/>
<path d="M1189.5 1257.6 L1213.9 1245.4 L1213.9 1269.8 Z" fill="#8b0000" stroke="#8b0000" stroke-width="2.6"/>
<path d="M1212.5 1262.2 L1236.9 1250 L1236.9 1274.4 Z" fill="#8b0000" stroke="#8b0000" stroke-width="2.6"/>
</g>
<rect x="127.5" y="1119.5" width="1131.0" height="702.5" fill="none" stroke="#000" stroke-width="1.7"/>
<line x1="118.5" y1="1119.5" x2="127.5" y2="1119.5" stroke="#000" stroke-width="1.7"/>
<text x="56.30" y="1133.00" font-size="31.79" textLength="16.80" lengthAdjust="spacingAndGlyphs">1</text>
<text x="75.13" y="1133.11" font-size="32.05" textLength="17.59" lengthAdjust="spacingAndGlyphs">0</text>
<text x="96.56" y="1120.78" font-size="23.07" textLength="11.97" lengthAdjust="spacingAndGlyphs">8</text>
<line x1="118.5" y1="1295.1" x2="127.5" y2="1295.1" stroke="#000" stroke-width="1.7"/>
<text x="56.30" y="1308.62" font-size="31.79" textLength="16.80" lengthAdjust="spacingAndGlyphs">1</text>
<text x="75.13" y="1308.74" font-size="32.05" textLength="17.59" lengthAdjust="spacingAndGlyphs">0</text>
<text x="96.39" y="1296.41" font-size="23.07" textLength="12.17" lengthAdjust="spacingAndGlyphs">6</text>
<line x1="118.5" y1="1470.8" x2="127.5" y2="1470.8" stroke="#000" stroke-width="1.7"/>
<text x="56.30" y="1484.25" font-size="31.79" textLength="16.80" lengthAdjust="spacingAndGlyphs">1</text>
<text x="75.13" y="1484.36" font-size="32.05" textLength="17.59" lengthAdjust="spacingAndGlyphs">0</text>
<text x="96.61" y="1471.95" font-size="22.89" textLength="11.92" lengthAdjust="spacingAndGlyphs">4</text>
<line x1="118.5" y1="1646.4" x2="127.5" y2="1646.4" stroke="#000" stroke-width="1.7"/>
<text x="56.30" y="1659.88" font-size="31.79" textLength="16.80" lengthAdjust="spacingAndGlyphs">1</text>
<text x="75.13" y="1659.99" font-size="32.05" textLength="17.59" lengthAdjust="spacingAndGlyphs">0</text>
<text x="96.62" y="1647.58" font-size="22.96" textLength="11.96" lengthAdjust="spacingAndGlyphs">2</text>
<line x1="118.5" y1="1822" x2="127.5" y2="1822" stroke="#000" stroke-width="1.7"/>
<text x="56.30" y="1835.50" font-size="31.79" textLength="16.80" lengthAdjust="spacingAndGlyphs">1</text>
<text x="75.13" y="1835.61" font-size="32.05" textLength="17.59" lengthAdjust="spacingAndGlyphs">0</text>
<text x="96.85" y="1823.28" font-size="23.07" textLength="11.29" lengthAdjust="spacingAndGlyphs">0</text>
<line x1="337.3" y1="1822" x2="337.3" y2="1831" stroke="#000" stroke-width="1.7"/>
<text x="328.82" y="1861.00" font-size="31.89" textLength="16.95" lengthAdjust="spacingAndGlyphs">2</text>
<line x1="567.8" y1="1822" x2="567.8" y2="1831" stroke="#000" stroke-width="1.7"/>
<text x="559.11" y="1861.00" font-size="31.79" textLength="17.59" lengthAdjust="spacingAndGlyphs">4</text>
<line x1="798.3" y1="1822" x2="798.3" y2="1831" stroke="#000" stroke-width="1.7"/>
<text x="789.09" y="1861.11" font-size="32.05" textLength="18.20" lengthAdjust="spacingAndGlyphs">6</text>
<line x1="1028.8" y1="1822" x2="1028.8" y2="1831" stroke="#000" stroke-width="1.7"/>
<text x="1019.91" y="1861.11" font-size="32.05" textLength="17.78" lengthAdjust="spacingAndGlyphs">8</text>
<line x1="1259.3" y1="1822" x2="1259.3" y2="1831" stroke="#000" stroke-width="1.7"/>
<text x="1240.56" y="1861.00" font-size="31.79" textLength="16.80" lengthAdjust="spacingAndGlyphs">1</text>
<text x="1259.39" y="1861.11" font-size="32.05" textLength="17.59" lengthAdjust="spacingAndGlyphs">0</text>
<g transform="translate(47.2,1657.8) rotate(-90)">
<text x="0.06" y="0.00" font-size="38.53" textLength="11.99" lengthAdjust="spacingAndGlyphs">f</text>
<text x="13.01" y="0.00" font-size="38.48" textLength="8.33" lengthAdjust="spacingAndGlyphs">l</text>
<text x="22.82" y="0.14" font-size="39.16" textLength="22.01" lengthAdjust="spacingAndGlyphs">u</text>
<text x="46.14" y="0.00" font-size="37.99" textLength="20.36" lengthAdjust="spacingAndGlyphs">x</text>
<text x="80.15" y="-2.43" font-size="35.08" textLength="10.33" lengthAdjust="spacingAndGlyphs">(</text>
<text x="94.83" y="0.00" font-size="37.99" textLength="26.79" lengthAdjust="spacingAndGlyphs">w</text>
<text x="123.60" y="0.14" font-size="38.47" textLength="22.05" lengthAdjust="spacingAndGlyphs">e</text>
<text x="146.78" y="0.00" font-size="38.48" textLength="8.33" lengthAdjust="spacingAndGlyphs">i</text>
<text x="156.38" y="-0.23" font-size="37.88" textLength="22.18" lengthAdjust="spacingAndGlyphs">g</text>
<text x="179.90" y="0.00" font-size="38.48" textLength="22.16" lengthAdjust="spacingAndGlyphs">h</text>
<text x="203.54" y="-0.31" font-size="39.38" textLength="12.26" lengthAdjust="spacingAndGlyphs">t</text>
<text x="216.98" y="3.00" font-size="41.07" textLength="12.36" lengthAdjust="spacingAndGlyphs">/</text>
<text x="230.35" y="0.14" font-size="38.57" textLength="17.59" lengthAdjust="spacingAndGlyphs">s</text>
<text x="248.80" y="0.14" font-size="38.47" textLength="22.05" lengthAdjust="spacingAndGlyphs">e</text>
<text x="271.50" y="0.14" font-size="38.47" textLength="18.41" lengthAdjust="spacingAndGlyphs">c</text>
<text x="291.61" y="0.14" font-size="38.47" textLength="21.70" lengthAdjust="spacingAndGlyphs">o</text>
<text x="314.38" y="0.00" font-size="38.20" textLength="22.01" lengthAdjust="spacingAndGlyphs">n</text>
<text x="337.28" y="0.14" font-size="38.68" textLength="22.18" lengthAdjust="spacingAndGlyphs">d</text>
<text x="362.99" y="-2.43" font-size="35.08" textLength="10.33" lengthAdjust="spacingAndGlyphs">)</text>
</g>
<text x="500.12" y="1904.34" font-size="38.68" textLength="22.18" lengthAdjust="spacingAndGlyphs">d</text>
<text x="524.02" y="1904.20" font-size="38.48" textLength="8.33" lengthAdjust="spacingAndGlyphs">i</text>
<text x="534.28" y="1904.34" font-size="38.57" textLength="17.59" lengthAdjust="spacingAndGlyphs">s</text>
<text x="553.34" y="1903.89" font-size="39.38" textLength="12.26" lengthAdjust="spacingAndGlyphs">t</text>
<text x="567.33" y="1904.34" font-size="38.47" textLength="18.83" lengthAdjust="spacingAndGlyphs">a</text>
<text x="589.97" y="1904.20" font-size="38.20" textLength="22.01" lengthAdjust="spacingAndGlyphs">n</text>
<text x="612.99" y="1904.34" font-size="38.47" textLength="18.41" lengthAdjust="spacingAndGlyphs">c</text>
<text x="633.05" y="1904.34" font-size="38.47" textLength="22.05" lengthAdjust="spacingAndGlyphs">e</text>
<text x="667.90" y="1903.89" font-size="39.38" textLength="12.26" lengthAdjust="spacingAndGlyphs">t</text>
<text x="681.73" y="1904.34" font-size="38.47" textLength="21.70" lengthAdjust="spacingAndGlyphs">o</text>
<text x="716.41" y="1903.89" font-size="39.38" textLength="12.26" lengthAdjust="spacingAndGlyphs">t</text>
<text x="730.40" y="1904.34" font-size="38.47" textLength="18.83" lengthAdjust="spacingAndGlyphs">a</text>
<text x="753.36" y="1904.20" font-size="38.20" textLength="14.25" lengthAdjust="spacingAndGlyphs">r</text>
<text x="767.01" y="1903.97" font-size="37.88" textLength="22.18" lengthAdjust="spacingAndGlyphs">g</text>
<text x="790.30" y="1904.34" font-size="38.47" textLength="22.05" lengthAdjust="spacingAndGlyphs">e</text>
<text x="813.49" y="1903.89" font-size="39.38" textLength="12.26" lengthAdjust="spacingAndGlyphs">t</text>
<text x="838.99" y="1903.80" font-size="37.68" textLength="12.94" lengthAdjust="spacingAndGlyphs">(</text>
<text x="853.22" y="1905.60" font-size="41.83" textLength="24.55" lengthAdjust="spacingAndGlyphs" font-style="italic">Å</text>
<text x="879.47" y="1903.80" font-size="37.68" textLength="12.94" lengthAdjust="spacingAndGlyphs">)</text>
<rect x="803.9" y="1653.5" width="442.6" height="155.5" rx="5" ry="5" fill="rgba(255,255,255,0.8)" stroke="#d0d0d0" stroke-width="1.6"/>
<path d="M825.8 1673.8 L850.2 1661.6 L850.2 1686 Z" fill="#000" stroke="#000" stroke-width="2.6"/>
<text x="884.73" y="1682.09" font-size="27.19" textLength="14.92" lengthAdjust="spacingAndGlyphs">0</text>
<text x="900.32" y="1681.96" font-size="26.09" textLength="9.14" lengthAdjust="spacingAndGlyphs">-</text>
<text x="910.04" y="1682.00" font-size="27.05" textLength="14.38" lengthAdjust="spacingAndGlyphs">2</text>
<text x="925.87" y="1682.00" font-size="29.52" textLength="7.65" lengthAdjust="spacingAndGlyphs">.</text>
<text x="934.71" y="1682.10" font-size="27.11" textLength="14.08" lengthAdjust="spacingAndGlyphs">5</text>
<text x="958.53" y="1682.00" font-size="26.49" textLength="15.26" lengthAdjust="spacingAndGlyphs">n</text>
<text x="974.87" y="1682.10" font-size="26.75" textLength="12.20" lengthAdjust="spacingAndGlyphs">s</text>
<text x="996.05" y="1682.10" font-size="26.82" textLength="15.40" lengthAdjust="spacingAndGlyphs">b</text>
<text x="1011.91" y="1682.10" font-size="26.67" textLength="15.29" lengthAdjust="spacingAndGlyphs">e</text>
<text x="1027.95" y="1682.00" font-size="26.72" textLength="8.31" lengthAdjust="spacingAndGlyphs">f</text>
<text x="1036.56" y="1682.10" font-size="26.67" textLength="15.05" lengthAdjust="spacingAndGlyphs">o</text>
<text x="1052.57" y="1682.00" font-size="26.49" textLength="9.88" lengthAdjust="spacingAndGlyphs">r</text>
<text x="1062.03" y="1682.10" font-size="26.67" textLength="15.29" lengthAdjust="spacingAndGlyphs">e</text>
<text x="1086.25" y="1682.00" font-size="26.49" textLength="9.88" lengthAdjust="spacingAndGlyphs">r</text>
<text x="1095.71" y="1682.10" font-size="26.67" textLength="15.29" lengthAdjust="spacingAndGlyphs">e</text>
<text x="1112.24" y="1682.00" font-size="26.34" textLength="18.58" lengthAdjust="spacingAndGlyphs">w</text>
<text x="1132.18" y="1682.10" font-size="26.67" textLength="15.29" lengthAdjust="spacingAndGlyphs">e</text>
<text x="1148.26" y="1682.00" font-size="26.68" textLength="5.78" lengthAdjust="spacingAndGlyphs">i</text>
<text x="1154.92" y="1681.84" font-size="26.27" textLength="15.38" lengthAdjust="spacingAndGlyphs">g</text>
<text x="1171.23" y="1682.00" font-size="26.68" textLength="15.37" lengthAdjust="spacingAndGlyphs">h</text>
<text x="1187.62" y="1681.79" font-size="27.31" textLength="8.50" lengthAdjust="spacingAndGlyphs">t</text>
<text x="1197.60" y="1682.00" font-size="26.68" textLength="5.78" lengthAdjust="spacingAndGlyphs">i</text>
<text x="1204.50" y="1682.00" font-size="26.49" textLength="15.26" lengthAdjust="spacingAndGlyphs">n</text>
<text x="1220.38" y="1681.84" font-size="26.27" textLength="15.38" lengthAdjust="spacingAndGlyphs">g</text>
<path d="M825.8 1710.9 L850.2 1698.7 L850.2 1723.1 Z" fill="#ff0000" stroke="#ff0000" stroke-width="2.6"/>
<text x="884.73" y="1719.06" font-size="27.19" textLength="14.92" lengthAdjust="spacingAndGlyphs">0</text>
<text x="900.32" y="1718.93" font-size="26.09" textLength="9.14" lengthAdjust="spacingAndGlyphs">-</text>
<text x="910.04" y="1718.97" font-size="27.05" textLength="14.38" lengthAdjust="spacingAndGlyphs">2</text>
<text x="925.87" y="1718.97" font-size="29.52" textLength="7.65" lengthAdjust="spacingAndGlyphs">.</text>
<text x="934.71" y="1719.07" font-size="27.11" textLength="14.08" lengthAdjust="spacingAndGlyphs">5</text>
<text x="958.53" y="1718.97" font-size="26.49" textLength="15.26" lengthAdjust="spacingAndGlyphs">n</text>
<text x="974.87" y="1719.07" font-size="26.75" textLength="12.20" lengthAdjust="spacingAndGlyphs">s</text>
<text x="995.90" y="1719.07" font-size="26.67" textLength="13.06" lengthAdjust="spacingAndGlyphs">a</text>
<text x="1011.74" y="1718.97" font-size="26.72" textLength="8.31" lengthAdjust="spacingAndGlyphs">f</text>
<text x="1020.20" y="1718.76" font-size="27.31" textLength="8.50" lengthAdjust="spacingAndGlyphs">t</text>
<text x="1029.76" y="1719.07" font-size="26.67" textLength="15.29" lengthAdjust="spacingAndGlyphs">e</text>
<text x="1045.89" y="1718.97" font-size="26.49" textLength="9.88" lengthAdjust="spacingAndGlyphs">r</text>
<text x="1064.44" y="1718.97" font-size="26.49" textLength="9.88" lengthAdjust="spacingAndGlyphs">r</text>
<text x="1073.90" y="1719.07" font-size="26.67" textLength="15.29" lengthAdjust="spacingAndGlyphs">e</text>
<text x="1090.43" y="1718.97" font-size="26.34" textLength="18.58" lengthAdjust="spacingAndGlyphs">w</text>
<text x="1110.38" y="1719.07" font-size="26.67" textLength="15.29" lengthAdjust="spacingAndGlyphs">e</text>
<text x="1126.45" y="1718.97" font-size="26.68" textLength="5.78" lengthAdjust="spacingAndGlyphs">i</text>
<text x="1133.11" y="1718.81" font-size="26.27" textLength="15.38" lengthAdjust="spacingAndGlyphs">g</text>
<text x="1149.42" y="1718.97" font-size="26.68" textLength="15.37" lengthAdjust="spacingAndGlyphs">h</text>
<text x="1165.81" y="1718.76" font-size="27.31" textLength="8.50" lengthAdjust="spacingAndGlyphs">t</text>
<text x="1175.79" y="1718.97" font-size="26.68" textLength="5.78" lengthAdjust="spacingAndGlyphs">i</text>
<text x="1182.69" y="1718.97" font-size="26.49" textLength="15.26" lengthAdjust="spacingAndGlyphs">n</text>
<text x="1198.57" y="1718.81" font-size="26.27" textLength="15.38" lengthAdjust="spacingAndGlyphs">g</text>
<path d="M825.8 1747.9 L850.2 1735.7 L850.2 1760.1 Z" fill="#d00000" stroke="#d00000" stroke-width="2.6"/>
<text x="884.66" y="1755.94" font-size="27.05" textLength="14.38" lengthAdjust="spacingAndGlyphs">2</text>
<text x="900.50" y="1755.94" font-size="29.52" textLength="7.65" lengthAdjust="spacingAndGlyphs">.</text>
<text x="909.33" y="1756.04" font-size="27.11" textLength="14.08" lengthAdjust="spacingAndGlyphs">5</text>
<text x="924.60" y="1755.90" font-size="26.09" textLength="9.14" lengthAdjust="spacingAndGlyphs">-</text>
<text x="934.71" y="1756.04" font-size="27.11" textLength="14.08" lengthAdjust="spacingAndGlyphs">5</text>
<text x="958.53" y="1755.94" font-size="26.49" textLength="15.26" lengthAdjust="spacingAndGlyphs">n</text>
<text x="974.87" y="1756.04" font-size="26.75" textLength="12.20" lengthAdjust="spacingAndGlyphs">s</text>
<text x="995.90" y="1756.04" font-size="26.67" textLength="13.06" lengthAdjust="spacingAndGlyphs">a</text>
<text x="1011.74" y="1755.94" font-size="26.72" textLength="8.31" lengthAdjust="spacingAndGlyphs">f</text>
<text x="1020.20" y="1755.73" font-size="27.31" textLength="8.50" lengthAdjust="spacingAndGlyphs">t</text>
<text x="1029.76" y="1756.04" font-size="26.67" textLength="15.29" lengthAdjust="spacingAndGlyphs">e</text>
<text x="1045.89" y="1755.94" font-size="26.49" textLength="9.88" lengthAdjust="spacingAndGlyphs">r</text>
<text x="1064.44" y="1755.94" font-size="26.49" textLength="9.88" lengthAdjust="spacingAndGlyphs">r</text>
<text x="1073.90" y="1756.04" font-size="26.67" textLength="15.29" lengthAdjust="spacingAndGlyphs">e</text>
<text x="1090.43" y="1755.94" font-size="26.34" textLength="18.58" lengthAdjust="spacingAndGlyphs">w</text>
<text x="1110.38" y="1756.04" font-size="26.67" textLength="15.29" lengthAdjust="spacingAndGlyphs">e</text>
<text x="1126.45" y="1755.94" font-size="26.68" textLength="5.78" lengthAdjust="spacingAndGlyphs">i</text>
<text x="1133.11" y="1755.78" font-size="26.27" textLength="15.38" lengthAdjust="spacingAndGlyphs">g</text>
<text x="1149.42" y="1755.94" font-size="26.68" textLength="15.37" lengthAdjust="spacingAndGlyphs">h</text>
<text x="1165.81" y="1755.73" font-size="27.31" textLength="8.50" lengthAdjust="spacingAndGlyphs">t</text>
<text x="1175.79" y="1755.94" font-size="26.68" textLength="5.78" lengthAdjust="spacingAndGlyphs">i</text>
<text x="1182.69" y="1755.94" font-size="26.49" textLength="15.26" lengthAdjust="spacingAndGlyphs">n</text>
<text x="1198.57" y="1755.78" font-size="26.27" textLength="15.38" lengthAdjust="spacingAndGlyphs">g</text>
<path d="M825.8 1785 L850.2 1772.8 L850.2 1797.2 Z" fill="#8b0000" stroke="#8b0000" stroke-width="2.6"/>
<text x="885.05" y="1793.01" font-size="27.11" textLength="14.08" lengthAdjust="spacingAndGlyphs">5</text>
<text x="900.32" y="1792.87" font-size="26.09" textLength="9.14" lengthAdjust="spacingAndGlyphs">-</text>
<text x="910.22" y="1792.91" font-size="26.97" textLength="14.59" lengthAdjust="spacingAndGlyphs">7</text>
<text x="925.87" y="1792.91" font-size="29.52" textLength="7.65" lengthAdjust="spacingAndGlyphs">.</text>
<text x="934.71" y="1793.01" font-size="27.11" textLength="14.08" lengthAdjust="spacingAndGlyphs">5</text>
<text x="958.53" y="1792.91" font-size="26.49" textLength="15.26" lengthAdjust="spacingAndGlyphs">n</text>
<text x="974.87" y="1793.01" font-size="26.75" textLength="12.20" lengthAdjust="spacingAndGlyphs">s</text>
<text x="995.90" y="1793.01" font-size="26.67" textLength="13.06" lengthAdjust="spacingAndGlyphs">a</text>
<text x="1011.74" y="1792.91" font-size="26.72" textLength="8.31" lengthAdjust="spacingAndGlyphs">f</text>
<text x="1020.20" y="1792.70" font-size="27.31" textLength="8.50" lengthAdjust="spacingAndGlyphs">t</text>
<text x="1029.76" y="1793.01" font-size="26.67" textLength="15.29" lengthAdjust="spacingAndGlyphs">e</text>
<text x="1045.89" y="1792.91" font-size="26.49" textLength="9.88" lengthAdjust="spacingAndGlyphs">r</text>
<text x="1064.44" y="1792.91" font-size="26.49" textLength="9.88" lengthAdjust="spacingAndGlyphs">r</text>
<text x="1073.90" y="1793.01" font-size="26.67" textLength="15.29" lengthAdjust="spacingAndGlyphs">e</text>
<text x="1090.43" y="1792.91" font-size="26.34" textLength="18.58" lengthAdjust="spacingAndGlyphs">w</text>
<text x="1110.38" y="1793.01" font-size="26.67" textLength="15.29" lengthAdjust="spacingAndGlyphs">e</text>
<text x="1126.45" y="1792.91" font-size="26.68" textLength="5.78" lengthAdjust="spacingAndGlyphs">i</text>
<text x="1133.11" y="1792.75" font-size="26.27" textLength="15.38" lengthAdjust="spacingAndGlyphs">g</text>
<text x="1149.42" y="1792.91" font-size="26.68" textLength="15.37" lengthAdjust="spacingAndGlyphs">h</text>
<text x="1165.81" y="1792.70" font-size="27.31" textLength="8.50" lengthAdjust="spacingAndGlyphs">t</text>
<text x="1175.79" y="1792.91" font-size="26.68" textLength="5.78" lengthAdjust="spacingAndGlyphs">i</text>
<text x="1182.69" y="1792.91" font-size="26.49" textLength="15.26" lengthAdjust="spacingAndGlyphs">n</text>
<text x="1198.57" y="1792.75" font-size="26.27" textLength="15.38" lengthAdjust="spacingAndGlyphs">g</text>
</svg></body></html>
